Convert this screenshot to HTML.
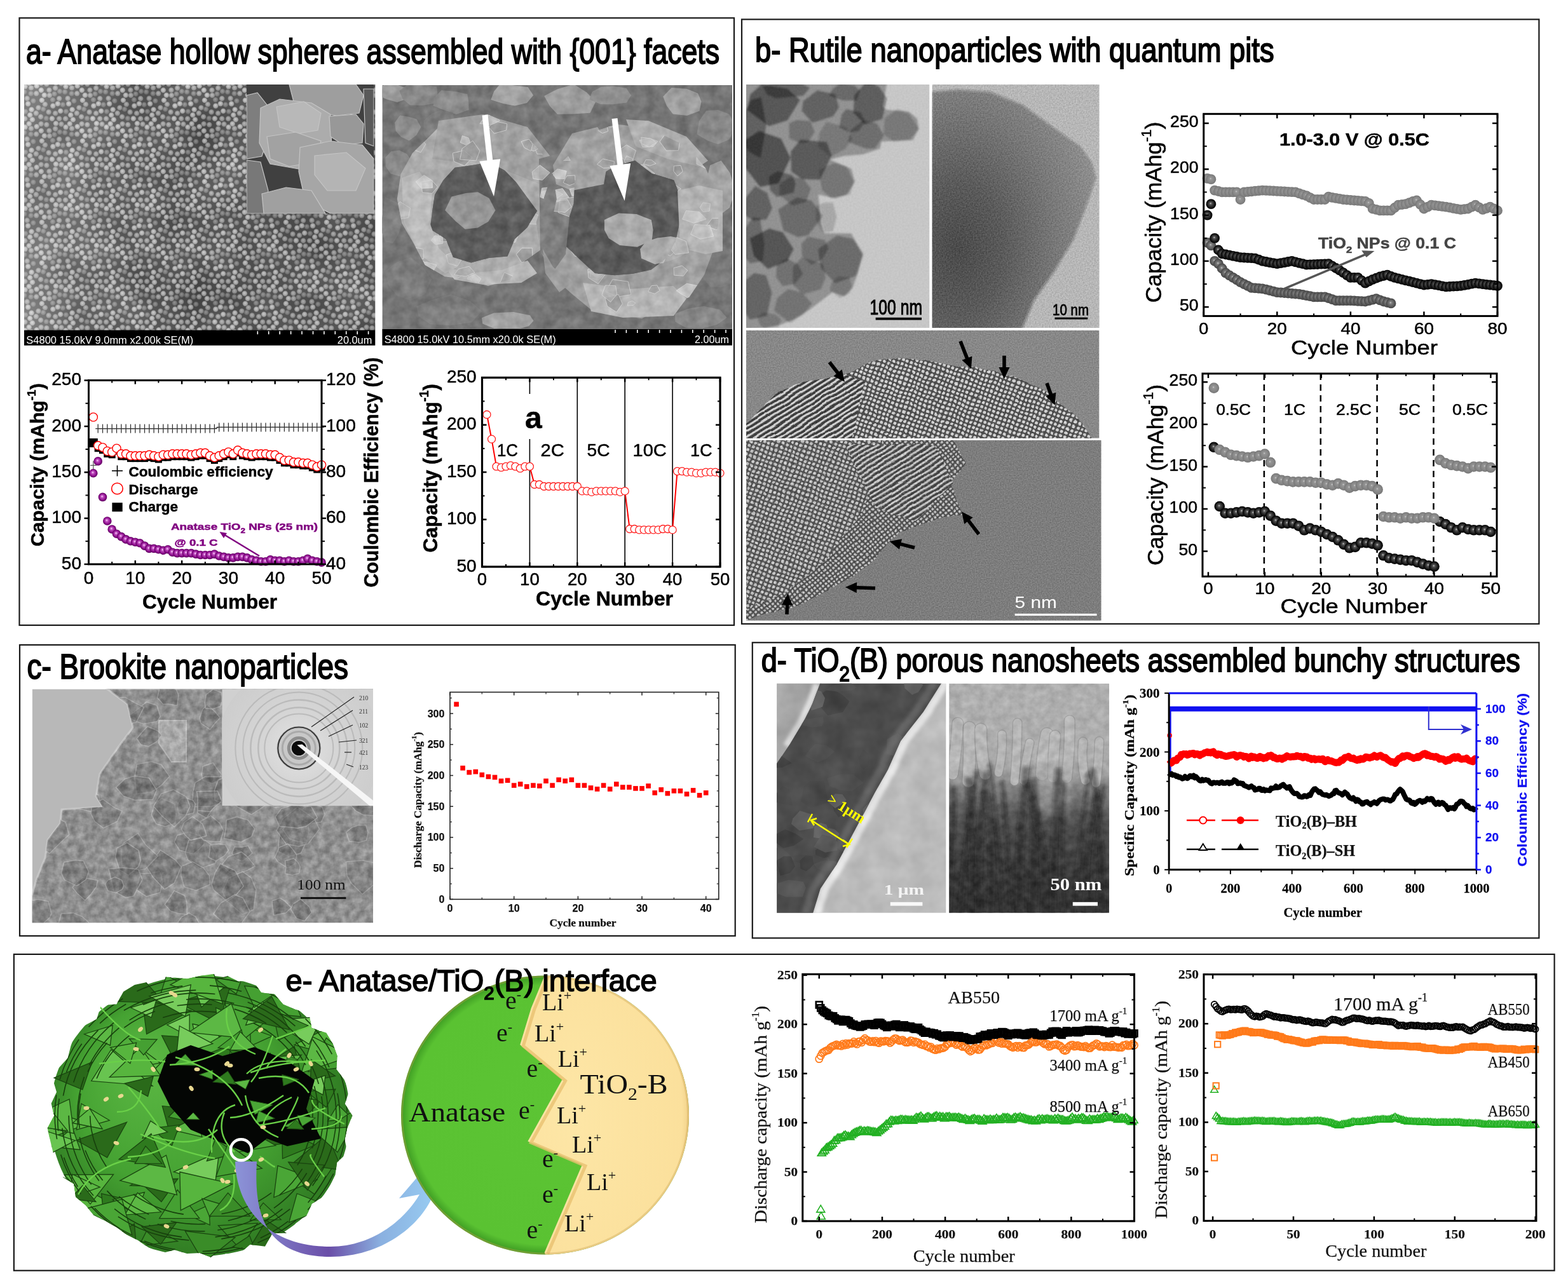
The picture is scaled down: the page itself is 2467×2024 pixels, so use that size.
<!DOCTYPE html>
<html><head><meta charset="utf-8"><title>TiO2 polymorphs figure</title>
<style>html,body{margin:0;padding:0;background:#fff;} svg{display:block;}</style></head>
<body>
<svg width="2467" height="2024" viewBox="0 0 2467 2024">
<rect width="2467" height="2024" fill="#fff"/>
<defs>
<radialGradient id="gPur" cx="0.5" cy="0.5" r="0.5" fx="0.42" fy="0.4">
<stop offset="0" stop-color="#ffd8ff"/><stop offset="0.3" stop-color="#c050c0"/><stop offset="0.75" stop-color="#8a0a8a"/><stop offset="1" stop-color="#5a005a"/></radialGradient>
<radialGradient id="gLight" cx="0.5" cy="0.5" r="0.5" fx="0.45" fy="0.42">
<stop offset="0" stop-color="#d0d0d0"/><stop offset="0.2" stop-color="#969696"/><stop offset="0.7" stop-color="#858585"/><stop offset="1" stop-color="#767676"/></radialGradient>
<radialGradient id="gBlack" cx="0.5" cy="0.5" r="0.5" fx="0.45" fy="0.42">
<stop offset="0" stop-color="#c8c8c8"/><stop offset="0.22" stop-color="#555"/><stop offset="0.7" stop-color="#1a1a1a"/><stop offset="1" stop-color="#000"/></radialGradient>
<radialGradient id="gDark" cx="0.5" cy="0.5" r="0.5" fx="0.45" fy="0.42">
<stop offset="0" stop-color="#d0d0d0"/><stop offset="0.22" stop-color="#808080"/><stop offset="0.7" stop-color="#5a5a5a"/><stop offset="1" stop-color="#444"/></radialGradient>
</defs>
<defs><clipPath id="cpS1"><rect x="38.0" y="133.0" width="552.5" height="387.0"/></clipPath>
<pattern id="pSph" patternUnits="userSpaceOnUse" width="64" height="64"><rect width="64" height="64" fill="#4a4a4a"/><circle cx="39.9" cy="47.5" r="4.3" fill="url(#gSp3)"/><circle cx="50.9" cy="-3.7" r="4.3" fill="url(#gSp1)"/><circle cx="50.9" cy="60.3" r="4.3" fill="url(#gSp1)"/><circle cx="1.9" cy="29.8" r="4.3" fill="url(#gSp1)"/><circle cx="65.9" cy="29.8" r="4.3" fill="url(#gSp1)"/><circle cx="-3.6" cy="41.5" r="4.3" fill="url(#gSp2)"/><circle cx="60.4" cy="41.5" r="4.3" fill="url(#gSp2)"/><circle cx="57.7" cy="7.2" r="4.3" fill="url(#gSp1)"/><circle cx="30.0" cy="15.8" r="4.3" fill="url(#gSp3)"/><circle cx="34.8" cy="36.7" r="4.3" fill="url(#gSp3)"/><circle cx="0.8" cy="13.9" r="4.3" fill="url(#gSp1)"/><circle cx="64.8" cy="13.9" r="4.3" fill="url(#gSp1)"/><circle cx="17.9" cy="58.6" r="4.3" fill="url(#gSp1)"/><circle cx="49.0" cy="10.2" r="4.3" fill="url(#gSp2)"/><circle cx="39.5" cy="8.1" r="4.3" fill="url(#gSp1)"/><circle cx="0.1" cy="55.8" r="4.3" fill="url(#gSp2)"/><circle cx="64.1" cy="55.8" r="4.3" fill="url(#gSp2)"/><circle cx="13.4" cy="13.8" r="4.3" fill="url(#gSp2)"/><circle cx="57.2" cy="19.1" r="4.3" fill="url(#gSp2)"/><circle cx="23.1" cy="10.6" r="4.3" fill="url(#gSp2)"/><circle cx="9.3" cy="4.2" r="4.3" fill="url(#gSp2)"/><circle cx="9.3" cy="68.2" r="4.3" fill="url(#gSp2)"/><circle cx="19.3" cy="38.6" r="4.3" fill="url(#gSp1)"/><circle cx="21.6" cy="19.8" r="4.3" fill="url(#gSp3)"/><circle cx="52.4" cy="30.8" r="4.3" fill="url(#gSp3)"/><circle cx="0.6" cy="3.0" r="4.3" fill="url(#gSp2)"/><circle cx="0.6" cy="67.0" r="4.3" fill="url(#gSp2)"/><circle cx="64.6" cy="3.0" r="4.3" fill="url(#gSp2)"/><circle cx="64.6" cy="67.0" r="4.3" fill="url(#gSp2)"/><circle cx="12.6" cy="48.4" r="4.3" fill="url(#gSp2)"/><circle cx="5.8" cy="21.8" r="4.3" fill="url(#gSp1)"/><circle cx="39.1" cy="58.8" r="4.3" fill="url(#gSp2)"/><circle cx="29.2" cy="27.0" r="4.3" fill="url(#gSp2)"/><circle cx="18.9" cy="29.0" r="4.3" fill="url(#gSp3)"/><circle cx="31.2" cy="46.7" r="4.3" fill="url(#gSp1)"/><circle cx="23.1" cy="50.3" r="4.3" fill="url(#gSp2)"/><circle cx="49.6" cy="44.5" r="4.3" fill="url(#gSp1)"/><circle cx="47.2" cy="53.0" r="4.3" fill="url(#gSp1)"/><circle cx="42.6" cy="26.9" r="4.3" fill="url(#gSp2)"/><circle cx="23.9" cy="2.3" r="4.3" fill="url(#gSp1)"/><circle cx="23.9" cy="66.3" r="4.3" fill="url(#gSp1)"/><circle cx="6.9" cy="36.2" r="4.3" fill="url(#gSp2)"/><circle cx="38.1" cy="16.6" r="4.3" fill="url(#gSp3)"/><circle cx="48.7" cy="19.2" r="4.3" fill="url(#gSp3)"/><circle cx="29.2" cy="58.7" r="4.3" fill="url(#gSp2)"/><circle cx="44.1" cy="35.4" r="4.3" fill="url(#gSp1)"/><circle cx="32.5" cy="3.4" r="4.3" fill="url(#gSp2)"/><circle cx="32.5" cy="67.4" r="4.3" fill="url(#gSp2)"/><circle cx="4.1" cy="43.8" r="4.3" fill="url(#gSp3)"/><circle cx="68.1" cy="43.8" r="4.3" fill="url(#gSp3)"/><circle cx="56.8" cy="50.1" r="4.3" fill="url(#gSp2)"/><circle cx="8.9" cy="58.2" r="4.3" fill="url(#gSp3)"/><circle cx="13.9" cy="22.0" r="4.3" fill="url(#gSp2)"/><circle cx="45.7" cy="2.9" r="4.3" fill="url(#gSp1)"/><circle cx="45.7" cy="66.9" r="4.3" fill="url(#gSp1)"/><circle cx="26.9" cy="35.3" r="4.3" fill="url(#gSp1)"/></pattern>
<radialGradient id="gSp1" fx="0.45" fy="0.4"><stop offset="0" stop-color="#e0e0e0"/><stop offset="0.7" stop-color="#b4b4b4"/><stop offset="1" stop-color="#848484"/></radialGradient>
<radialGradient id="gSp2" fx="0.45" fy="0.4"><stop offset="0" stop-color="#c4c4c4"/><stop offset="0.7" stop-color="#9c9c9c"/><stop offset="1" stop-color="#747474"/></radialGradient>
<radialGradient id="gSp3" fx="0.45" fy="0.4"><stop offset="0" stop-color="#a0a0a0"/><stop offset="0.7" stop-color="#7c7c7c"/><stop offset="1" stop-color="#5c5c5c"/></radialGradient>
<linearGradient id="gS1v" x1="0" y1="0" x2="1" y2="0"><stop offset="0" stop-color="#fff" stop-opacity="0.25"/><stop offset="0.12" stop-color="#fff" stop-opacity="0.16"/><stop offset="0.3" stop-color="#fff" stop-opacity="0.04"/><stop offset="0.5" stop-color="#000" stop-opacity="0.0"/><stop offset="1" stop-color="#000" stop-opacity="0.06"/></linearGradient>
<filter id="fS1" x="0" y="0" width="100%" height="100%" color-interpolation-filters="sRGB"><feTurbulence type="fractalNoise" baseFrequency="0.012" numOctaves="2" seed="3"/><feColorMatrix type="matrix" values="1.0 0 0 0 0  1.0 0 0 0 0  1.0 0 0 0 0  0 0 0 0 0.18"/></filter>
</defs>
<g clip-path="url(#cpS1)"><rect x="38.0" y="133.0" width="552.5" height="387.0" fill="url(#pSph)" />
<rect x="38.0" y="133.0" width="552.5" height="387.0" fill="url(#gS1v)" />
<rect x="38" y="133" width="552.5" height="387" filter="url(#fS1)"/></g>
<defs><clipPath id="cpS1i"><rect x="387.8" y="133.0" width="200.5" height="203.5"/></clipPath>
</defs><g clip-path="url(#cpS1i)"><rect x="387.8" y="133.0" width="200.5" height="203.5" fill="#404040" />
<path d="M455.0,133.0 L560.0,133.0 L572.0,150.0 L565.0,178.0 L530.0,182.0 L490.0,176.0 L462.0,160.0 Z" fill="#9e9e9e" stroke="#c4c4c4" stroke-width="1.2" />
<path d="M388.0,150.0 L405.0,146.0 L420.0,165.0 L422.0,215.0 L412.0,246.0 L388.0,250.0 Z" fill="#7e7e7e" stroke="#c4c4c4" stroke-width="1.2" />
<path d="M410.0,170.0 L440.0,156.0 L490.0,162.0 L520.0,180.0 L522.0,235.0 L510.0,262.0 L470.0,266.0 L425.0,258.0 L408.0,225.0 Z" fill="#acacac" stroke="#c4c4c4" stroke-width="1.2" />
<path d="M435.0,168.0 L478.0,160.0 L505.0,178.0 L500.0,205.0 L470.0,210.0 L440.0,200.0 Z" fill="#b8b8b8" stroke="#c4c4c4" stroke-width="1.2" />
<path d="M420.0,215.0 L465.0,208.0 L505.0,222.0 L495.0,255.0 L455.0,262.0 L425.0,250.0 Z" fill="#a2a2a2" stroke="#c4c4c4" stroke-width="1.2" />
<path d="M518.0,183.0 L560.0,180.0 L572.0,195.0 L570.0,225.0 L540.0,228.0 L520.0,215.0 Z" fill="#989898" stroke="#c4c4c4" stroke-width="1.2" />
<path d="M472.0,232.0 L520.0,222.0 L570.0,228.0 L588.0,250.0 L588.0,336.0 L520.0,336.0 L480.0,315.0 L470.0,270.0 Z" fill="#a6a6a6" stroke="#c4c4c4" stroke-width="1.2" />
<path d="M495.0,245.0 L545.0,240.0 L575.0,265.0 L560.0,300.0 L515.0,300.0 L495.0,275.0 Z" fill="#b4b4b4" stroke="#c4c4c4" stroke-width="1.2" />
<path d="M388.0,252.0 L410.0,255.0 L422.0,300.0 L418.0,336.0 L388.0,336.0 Z" fill="#787878" stroke="#c4c4c4" stroke-width="1.2" />
<path d="M412.0,305.0 L450.0,295.0 L490.0,300.0 L512.0,336.0 L415.0,336.0 Z" fill="#a0a0a0" stroke="#c4c4c4" stroke-width="1.2" />
<path d="M572.0,140.0 L588.0,140.0 L588.0,230.0 L575.0,225.0 Z" fill="#5a5a5a" stroke="#c4c4c4" stroke-width="1.2" />
</g>
<rect x="38.0" y="519.7" width="552.3" height="24.0" fill="#000" />
<line x1="405.3" y1="521.2" x2="405.3" y2="526.2" stroke="#fff" stroke-width="1.6" />
<line x1="422.7" y1="521.2" x2="422.7" y2="526.2" stroke="#fff" stroke-width="1.6" />
<line x1="440.2" y1="521.2" x2="440.2" y2="526.2" stroke="#fff" stroke-width="1.6" />
<line x1="457.6" y1="521.2" x2="457.6" y2="526.2" stroke="#fff" stroke-width="1.6" />
<line x1="475.0" y1="521.2" x2="475.0" y2="526.2" stroke="#fff" stroke-width="1.6" />
<line x1="492.5" y1="521.2" x2="492.5" y2="526.2" stroke="#fff" stroke-width="1.6" />
<line x1="509.9" y1="521.2" x2="509.9" y2="526.2" stroke="#fff" stroke-width="1.6" />
<line x1="527.3" y1="521.2" x2="527.3" y2="526.2" stroke="#fff" stroke-width="1.6" />
<line x1="544.7" y1="521.2" x2="544.7" y2="526.2" stroke="#fff" stroke-width="1.6" />
<line x1="562.2" y1="521.2" x2="562.2" y2="526.2" stroke="#fff" stroke-width="1.6" />
<line x1="579.6" y1="521.2" x2="579.6" y2="526.2" stroke="#fff" stroke-width="1.6" />
<text x="41.3" y="540.5" font-family="'Liberation Sans', Arial, sans-serif" font-size="17" fill="#fff" textLength="263" lengthAdjust="spacingAndGlyphs" >S4800 15.0kV 9.0mm x2.00k SE(M)</text>
<text x="585.3" y="540.5" font-family="'Liberation Sans', Arial, sans-serif" font-size="17" fill="#fff" text-anchor="end" textLength="54.5" lengthAdjust="spacingAndGlyphs" >20.0um</text>
<defs><clipPath id="cpS2"><rect x="601.4" y="133.9" width="550.6" height="383.7"/></clipPath>
<filter id="fS2" x="0" y="0" width="100%" height="100%" color-interpolation-filters="sRGB"><feTurbulence type="fractalNoise" baseFrequency="0.06" numOctaves="3" seed="8"/><feColorMatrix type="matrix" values="1.3 0 0 0 -0.15  1.3 0 0 0 -0.15  1.3 0 0 0 -0.15  0 0 0 0 0.15"/></filter>
<filter id="fS2b"><feGaussianBlur stdDeviation="1.2"/></filter></defs>
<g clip-path="url(#cpS2)"><rect x="601.4" y="133.9" width="550.6" height="383.7" fill="#737373" />
<path d="M645.2,145.0 L641.3,155.0 L625.1,161.1 L608.4,156.2 L594.3,150.2 L594.8,139.9 L606.8,132.2 L623.7,133.1 L635.9,137.5 Z" fill="#a0a0a0" />
<path d="M688.7,150.0 L685.0,162.6 L664.7,166.1 L645.0,165.6 L633.7,155.8 L628.3,143.1 L642.6,131.9 L665.0,132.9 L687.1,136.4 Z" fill="#8a8a8a" />
<path d="M737.3,160.0 L737.6,172.9 L717.9,180.1 L698.9,173.6 L681.7,166.6 L683.2,153.7 L694.5,141.9 L716.7,144.1 L735.3,148.3 Z" fill="#8e8e8e" />
<path d="M839.1,150.0 L829.1,162.1 L809.9,166.5 L792.3,163.2 L772.3,157.1 L777.1,143.9 L787.3,131.6 L809.5,134.6 L830.6,137.1 Z" fill="#a8a8a8" />
<path d="M937.3,160.0 L928.5,177.8 L900.5,179.5 L876.9,179.8 L865.1,166.9 L856.1,151.0 L877.0,140.3 L902.7,132.5 L922.8,145.3 Z" fill="#a2a2a2" />
<path d="M993.0,150.0 L986.0,161.6 L964.7,164.3 L944.7,164.1 L927.2,156.4 L931.5,144.5 L945.8,136.8 L964.8,135.6 L985.4,138.7 Z" fill="#909090" />
<path d="M1103.5,160.0 L1100.4,174.7 L1080.7,182.1 L1058.7,179.4 L1048.9,166.5 L1043.2,152.0 L1056.6,138.1 L1080.2,139.7 L1098.0,146.7 Z" fill="#a4a4a4" />
<path d="M1157.1,200.0 L1147.1,219.8 L1129.5,227.1 L1113.5,221.4 L1096.3,211.2 L1100.1,190.3 L1111.2,174.3 L1129.5,172.9 L1147.5,179.8 Z" fill="#8a8a8a" />
<path d="M1157.1,300.0 L1147.8,326.9 L1133.7,337.5 L1115.3,345.8 L1103.0,317.7 L1110.6,287.3 L1117.2,260.1 L1134.6,252.7 L1148.5,272.1 Z" fill="#a8a8a8" />
<path d="M648.8,255.0 L644.6,271.5 L628.9,277.4 L614.4,273.3 L606.6,261.7 L606.2,248.1 L615.4,238.3 L628.3,236.4 L640.1,242.3 Z" fill="#8c8c8c" />
<path d="M633.0,345.0 L627.4,367.8 L618.1,383.3 L605.8,379.9 L598.3,358.3 L602.4,335.0 L605.8,310.0 L617.4,315.6 L628.5,320.3 Z" fill="#7e7e7e" />
<path d="M679.3,440.0 L668.3,463.8 L645.9,473.3 L625.2,465.7 L612.0,450.2 L605.5,427.4 L624.1,412.5 L646.1,405.1 L664.5,419.4 Z" fill="#7a7a7a" />
<path d="M839.5,505.0 L831.9,513.3 L808.4,519.9 L777.6,517.1 L759.3,509.6 L757.9,500.2 L777.1,492.6 L807.9,491.1 L833.8,496.2 Z" fill="#a8a8a8" />
<path d="M758.4,490.0 L741.8,507.5 L707.8,512.2 L676.6,510.2 L658.3,497.6 L655.3,481.9 L679.2,472.0 L709.4,463.2 L739.2,473.5 Z" fill="#7e7e7e" />
<path d="M1154.3,420.0 L1151.9,445.7 L1134.1,452.3 L1117.1,451.2 L1102.9,433.8 L1106.0,407.8 L1117.0,388.5 L1134.1,387.2 L1152.6,393.5 Z" fill="#7a7a7a" />
<path d="M1143.7,500.0 L1128.5,510.8 L1106.6,516.8 L1079.3,516.1 L1062.2,506.2 L1062.1,493.8 L1082.2,486.1 L1107.1,481.8 L1132.9,487.6 Z" fill="#8a8a8a" />
<path d="M717.4,200.0 L708.8,218.9 L694.3,229.0 L677.5,226.0 L666.2,210.4 L666.7,189.8 L679.7,178.6 L694.0,173.0 L712.5,177.3 Z" fill="#7c7c7c" />
<path d="M662.3,200.0 L655.1,212.7 L643.8,221.5 L631.0,215.5 L622.8,206.3 L621.1,193.1 L629.3,181.4 L642.9,183.7 L655.2,187.3 Z" fill="#929292" />
<path d="M875.9,313.0 L867.4,351.2 L856.8,389.0 L826.1,410.2 L802.3,439.9 L767.8,450.1 L733.6,439.4 L699.6,435.3 L668.7,416.9 L651.0,383.4 L632.2,351.3 L624.8,313.0 L630.5,274.1 L648.9,241.1 L674.3,216.2 L699.5,190.6 L733.3,184.5 L767.3,179.9 L799.1,193.9 L828.0,213.3 L852.2,240.2 L869.8,274.0 Z M845.1,332.0 L829.5,358.1 L810.0,376.2 L798.4,403.6 L769.4,405.9 L741.2,413.6 L712.8,404.9 L701.6,376.5 L676.7,360.2 L680.1,332.0 L684.0,306.5 L697.2,283.9 L715.6,263.8 L743.0,259.9 L769.9,255.3 L793.9,268.0 L811.8,286.4 L826.7,306.9 Z" fill="#b4b4b4" fill-rule="evenodd"/>
<path d="M845.1,332.0 L829.5,358.1 L810.0,376.2 L798.4,403.6 L769.4,405.9 L741.2,413.6 L712.8,404.9 L701.6,376.5 L676.7,360.2 L680.1,332.0 L684.0,306.5 L697.2,283.9 L715.6,263.8 L743.0,259.9 L769.9,255.3 L793.9,268.0 L811.8,286.4 L826.7,306.9 Z" fill="#575757" />
<path d="M690.0,190.0 L760.0,180.0 L830.0,200.0 L865.0,245.0 L850.0,290.0 L800.0,270.0 L760.0,250.0 L720.0,255.0 L680.0,250.0 Z" fill="#a6a6a6" />
<path d="M779.5,331.0 L768.2,348.9 L751.5,358.6 L731.8,360.7 L716.9,348.2 L700.2,331.0 L710.4,309.4 L732.7,304.0 L751.9,302.2 L769.6,312.1 Z" fill="#989898" />
<path d="M1130.4,350.0 L1122.8,392.3 L1108.1,432.4 L1084.1,467.9 L1046.1,483.5 L1010.0,501.3 L970.7,495.4 L931.6,488.7 L900.0,462.8 L868.7,434.7 L850.6,394.5 L843.6,350.0 L856.9,307.6 L870.8,266.9 L901.4,238.9 L930.6,208.8 L969.5,195.4 L1009.8,200.6 L1047.1,214.2 L1084.0,232.2 L1110.7,265.8 L1128.3,305.9 Z M1069.3,350.0 L1063.1,379.8 L1048.3,406.2 L1024.6,424.6 L996.1,430.8 L967.5,433.3 L936.1,430.4 L912.7,408.8 L887.5,384.8 L892.7,350.0 L902.4,320.7 L904.2,284.0 L940.7,277.7 L966.6,261.9 L999.0,252.6 L1026.0,272.9 L1060.3,283.6 L1073.5,316.3 Z" fill="#a4a4a4" fill-rule="evenodd"/>
<path d="M1069.3,350.0 L1063.1,379.8 L1048.3,406.2 L1024.6,424.6 L996.1,430.8 L967.5,433.3 L936.1,430.4 L912.7,408.8 L887.5,384.8 L892.7,350.0 L902.4,320.7 L904.2,284.0 L940.7,277.7 L966.6,261.9 L999.0,252.6 L1026.0,272.9 L1060.3,283.6 L1073.5,316.3 Z" fill="#545454" />
<path d="M848.0,250.0 L885.0,240.0 L900.0,300.0 L890.0,400.0 L872.0,425.0 L850.0,395.0 Z" fill="#7c7c7c" />
<path d="M870.0,260.0 L900.0,210.0 L940.0,200.0 L960.0,230.0 L950.0,290.0 L900.0,300.0 L875.0,290.0 Z" fill="#a8a8a8" />
<path d="M985.0,188.0 L1020.0,190.0 L1080.0,215.0 L1114.0,253.0 L1100.0,262.0 L1050.0,250.0 L1000.0,230.0 Z" fill="#b6b6b6" />
<path d="M1066.0,300.0 L1100.0,292.0 L1137.0,300.0 L1137.0,395.0 L1110.0,400.0 L1070.0,390.0 Z" fill="#bdbdbd" />
<path d="M917.0,445.0 L990.0,455.0 L1059.0,450.0 L1080.0,470.0 L1060.0,497.0 L980.0,500.0 L930.0,490.0 Z" fill="#c0c0c0" />
<path d="M1027.6,362.0 L1025.7,378.3 L1002.6,388.8 L975.0,385.9 L957.7,375.1 L951.0,362.0 L950.8,345.9 L973.5,335.5 L1001.6,337.1 L1024.8,346.1 Z" fill="#b0b0b0" />
<path d="M1086.5,392.0 L1071.5,403.6 L1054.4,410.5 L1030.5,416.0 L1009.1,406.7 L1007.0,392.0 L1016.1,380.3 L1034.2,374.6 L1055.3,371.9 L1079.8,377.0 Z" fill="#b2b2b2" />
<path d="M854.0,392.0 L870.0,420.0 L900.0,445.0 L880.0,460.0 L858.0,430.0 Z" fill="#a0a0a0" />
<path d="M632.0,280.0 L660.0,270.0 L680.0,300.0 L676.0,350.0 L690.0,390.0 L720.0,420.0 L700.0,430.0 L660.0,400.0 L635.0,350.0 Z" fill="#c6c6c6" />
<path d="M700.0,420.0 L740.0,430.0 L790.0,425.0 L830.0,410.0 L845.0,430.0 L820.0,445.0 L760.0,448.0 L715.0,440.0 Z" fill="#c2c2c2" />
<clipPath id="cpWall"><path d="M875.9,313.0 L867.4,351.2 L856.8,389.0 L826.1,410.2 L802.3,439.9 L767.8,450.1 L733.6,439.4 L699.6,435.3 L668.7,416.9 L651.0,383.4 L632.2,351.3 L624.8,313.0 L630.5,274.1 L648.9,241.1 L674.3,216.2 L699.5,190.6 L733.3,184.5 L767.3,179.9 L799.1,193.9 L828.0,213.3 L852.2,240.2 L869.8,274.0 Z M845.1,332.0 L829.5,358.1 L810.0,376.2 L798.4,403.6 L769.4,405.9 L741.2,413.6 L712.8,404.9 L701.6,376.5 L676.7,360.2 L680.1,332.0 L684.0,306.5 L697.2,283.9 L715.6,263.8 L743.0,259.9 L769.9,255.3 L793.9,268.0 L811.8,286.4 L826.7,306.9 Z M1130.4,350.0 L1122.8,392.3 L1108.1,432.4 L1084.1,467.9 L1046.1,483.5 L1010.0,501.3 L970.7,495.4 L931.6,488.7 L900.0,462.8 L868.7,434.7 L850.6,394.5 L843.6,350.0 L856.9,307.6 L870.8,266.9 L901.4,238.9 L930.6,208.8 L969.5,195.4 L1009.8,200.6 L1047.1,214.2 L1084.0,232.2 L1110.7,265.8 L1128.3,305.9 Z M1069.3,350.0 L1063.1,379.8 L1048.3,406.2 L1024.6,424.6 L996.1,430.8 L967.5,433.3 L936.1,430.4 L912.7,408.8 L887.5,384.8 L892.7,350.0 L902.4,320.7 L904.2,284.0 L940.7,277.7 L966.6,261.9 L999.0,252.6 L1026.0,272.9 L1060.3,283.6 L1073.5,316.3 Z" clip-rule="evenodd"/></clipPath><g clip-path="url(#cpWall)"><path d="M720.3,281.6 L718.2,273.8 L725.9,268.7 L734.7,273.6 L730.5,281.1 Z" fill="#a6a6a6" stroke="#e4e4e4" stroke-width="1" stroke-opacity="0.8" fill-opacity="0.75"/>
<path d="M1011.2,231.7 L1006.3,220.6 L1022.4,217.8 L1035.1,222.4 L1027.8,230.6 Z" fill="#d2d2d2" stroke="#e4e4e4" stroke-width="1" stroke-opacity="0.8" fill-opacity="0.75"/>
<path d="M840.4,230.8 L861.1,225.3 L869.4,235.5 L862.6,243.4 L845.0,242.2 Z" fill="#b0b0b0" stroke="#e4e4e4" stroke-width="1" stroke-opacity="0.8" fill-opacity="0.75"/>
<path d="M821.0,390.4 L837.2,390.4 L837.9,407.6 L820.7,413.2 L812.3,400.1 Z" fill="#989898" stroke="#e4e4e4" stroke-width="1" stroke-opacity="0.8" fill-opacity="0.75"/>
<path d="M885.7,305.7 L872.1,314.9 L854.1,311.5 L853.0,301.5 L870.2,297.9 Z" fill="#bcbcbc" stroke="#e4e4e4" stroke-width="1" stroke-opacity="0.8" fill-opacity="0.75"/>
<path d="M1060.3,261.1 L1071.0,260.4 L1074.1,269.8 L1066.0,277.0 L1059.8,269.4 Z" fill="#989898" stroke="#e4e4e4" stroke-width="1" stroke-opacity="0.8" fill-opacity="0.75"/>
<path d="M954.0,398.5 L966.9,400.9 L968.1,415.8 L952.0,420.7 L943.6,407.3 Z" fill="#a6a6a6" stroke="#e4e4e4" stroke-width="1" stroke-opacity="0.8" fill-opacity="0.75"/>
<path d="M688.6,294.2 L679.9,304.3 L664.5,302.7 L662.5,286.5 L679.3,283.8 Z" fill="#989898" stroke="#e4e4e4" stroke-width="1" stroke-opacity="0.8" fill-opacity="0.75"/>
<path d="M1038.1,457.4 L1030.0,462.3 L1019.6,459.1 L1024.9,449.7 L1033.8,448.9 Z" fill="#a6a6a6" stroke="#e4e4e4" stroke-width="1" stroke-opacity="0.8" fill-opacity="0.75"/>
<path d="M1022.5,179.7 L1044.5,178.6 L1056.1,185.4 L1048.3,196.2 L1027.8,191.0 Z" fill="#989898" stroke="#e4e4e4" stroke-width="1" stroke-opacity="0.8" fill-opacity="0.75"/>
<path d="M919.3,357.1 L927.9,349.4 L942.7,350.6 L947.1,357.5 L934.0,362.8 Z" fill="#bcbcbc" stroke="#e4e4e4" stroke-width="1" stroke-opacity="0.8" fill-opacity="0.75"/>
<path d="M1086.5,212.0 L1064.3,214.8 L1060.3,199.8 L1069.3,185.3 L1088.1,194.7 Z" fill="#989898" stroke="#e4e4e4" stroke-width="1" stroke-opacity="0.8" fill-opacity="0.75"/>
<path d="M988.3,443.2 L992.7,463.7 L971.6,467.2 L953.0,458.6 L963.8,439.8 Z" fill="#a6a6a6" stroke="#e4e4e4" stroke-width="1" stroke-opacity="0.8" fill-opacity="0.75"/>
<path d="M875.7,318.5 L859.1,311.3 L865.6,300.8 L885.0,296.6 L895.2,310.6 Z" fill="#dadada" stroke="#e4e4e4" stroke-width="1" stroke-opacity="0.8" fill-opacity="0.75"/>
<path d="M1040.2,379.5 L1058.9,376.6 L1065.4,392.0 L1054.6,402.9 L1041.2,396.2 Z" fill="#b0b0b0" stroke="#e4e4e4" stroke-width="1" stroke-opacity="0.8" fill-opacity="0.75"/>
<path d="M863.1,190.2 L847.1,198.6 L824.9,191.1 L836.6,180.1 L855.6,181.8 Z" fill="#d2d2d2" stroke="#e4e4e4" stroke-width="1" stroke-opacity="0.8" fill-opacity="0.75"/>
<path d="M911.4,480.7 L918.0,486.2 L916.3,493.8 L904.8,493.8 L901.1,484.9 Z" fill="#dadada" stroke="#e4e4e4" stroke-width="1" stroke-opacity="0.8" fill-opacity="0.75"/>
<path d="M793.0,368.0 L807.6,365.6 L814.6,372.4 L810.7,381.3 L798.2,381.7 Z" fill="#d2d2d2" stroke="#e4e4e4" stroke-width="1" stroke-opacity="0.8" fill-opacity="0.75"/>
<path d="M987.2,481.1 L988.2,475.8 L994.7,473.6 L999.9,476.8 L996.3,480.4 Z" fill="#c8c8c8" stroke="#e4e4e4" stroke-width="1" stroke-opacity="0.8" fill-opacity="0.75"/>
<path d="M1105.9,318.9 L1117.5,320.3 L1116.2,332.2 L1106.2,333.6 L1101.0,326.8 Z" fill="#d2d2d2" stroke="#e4e4e4" stroke-width="1" stroke-opacity="0.8" fill-opacity="0.75"/>
<path d="M874.8,281.1 L868.8,273.1 L877.2,265.9 L891.3,269.3 L888.2,281.4 Z" fill="#dadada" stroke="#e4e4e4" stroke-width="1" stroke-opacity="0.8" fill-opacity="0.75"/>
<path d="M1124.3,242.3 L1116.7,245.7 L1109.0,242.7 L1111.4,237.9 L1122.1,235.9 Z" fill="#989898" stroke="#e4e4e4" stroke-width="1" stroke-opacity="0.8" fill-opacity="0.75"/>
<path d="M920.1,368.7 L926.8,372.4 L923.1,376.5 L913.9,376.5 L911.5,371.6 Z" fill="#b0b0b0" stroke="#e4e4e4" stroke-width="1" stroke-opacity="0.8" fill-opacity="0.75"/>
<path d="M1059.3,182.8 L1067.9,187.7 L1061.9,192.6 L1053.0,192.5 L1048.4,186.5 Z" fill="#a6a6a6" stroke="#e4e4e4" stroke-width="1" stroke-opacity="0.8" fill-opacity="0.75"/>
<path d="M1048.3,237.1 L1038.0,222.9 L1050.4,205.8 L1070.2,216.3 L1067.4,236.7 Z" fill="#989898" stroke="#e4e4e4" stroke-width="1" stroke-opacity="0.8" fill-opacity="0.75"/>
<path d="M1000.5,236.9 L995.8,251.7 L981.6,251.3 L970.4,238.7 L985.8,228.0 Z" fill="#bcbcbc" stroke="#e4e4e4" stroke-width="1" stroke-opacity="0.8" fill-opacity="0.75"/>
<path d="M788.7,501.4 L780.8,493.8 L789.1,486.4 L799.8,489.1 L803.9,502.0 Z" fill="#c8c8c8" stroke="#e4e4e4" stroke-width="1" stroke-opacity="0.8" fill-opacity="0.75"/>
<path d="M1057.1,288.6 L1053.9,302.8 L1035.9,302.9 L1030.9,292.5 L1040.6,285.5 Z" fill="#a6a6a6" stroke="#e4e4e4" stroke-width="1" stroke-opacity="0.8" fill-opacity="0.75"/>
<path d="M1101.4,189.8 L1091.2,184.7 L1088.0,173.9 L1100.4,170.1 L1109.0,179.5 Z" fill="#a6a6a6" stroke="#e4e4e4" stroke-width="1" stroke-opacity="0.8" fill-opacity="0.75"/>
<path d="M896.0,291.9 L886.0,287.3 L891.8,276.8 L904.6,276.0 L905.0,288.4 Z" fill="#989898" stroke="#e4e4e4" stroke-width="1" stroke-opacity="0.8" fill-opacity="0.75"/>
<path d="M975.0,352.2 L963.9,348.3 L966.4,341.5 L976.7,337.5 L983.0,345.4 Z" fill="#dadada" stroke="#e4e4e4" stroke-width="1" stroke-opacity="0.8" fill-opacity="0.75"/>
<path d="M1091.5,351.2 L1073.4,344.9 L1079.5,331.5 L1100.1,333.4 L1111.2,344.9 Z" fill="#dadada" stroke="#e4e4e4" stroke-width="1" stroke-opacity="0.8" fill-opacity="0.75"/>
<path d="M816.0,438.5 L812.7,458.5 L793.5,470.4 L784.9,449.6 L793.5,428.8 Z" fill="#b0b0b0" stroke="#e4e4e4" stroke-width="1" stroke-opacity="0.8" fill-opacity="0.75"/>
<path d="M1036.7,157.3 L1059.7,163.7 L1055.5,177.8 L1037.4,183.9 L1019.0,171.5 Z" fill="#b0b0b0" stroke="#e4e4e4" stroke-width="1" stroke-opacity="0.8" fill-opacity="0.75"/>
<path d="M777.5,210.1 L769.0,200.1 L777.5,190.5 L797.7,194.8 L796.6,204.9 Z" fill="#989898" stroke="#e4e4e4" stroke-width="1" stroke-opacity="0.8" fill-opacity="0.75"/>
<path d="M682.2,420.1 L683.5,439.4 L662.9,443.5 L652.5,426.2 L665.7,411.0 Z" fill="#dadada" stroke="#e4e4e4" stroke-width="1" stroke-opacity="0.8" fill-opacity="0.75"/>
<path d="M724.2,224.4 L727.3,213.6 L737.2,217.0 L739.6,224.3 L732.8,228.0 Z" fill="#dadada" stroke="#e4e4e4" stroke-width="1" stroke-opacity="0.8" fill-opacity="0.75"/>
<path d="M743.2,248.1 L730.9,261.1 L714.0,254.1 L712.2,241.0 L730.1,236.8 Z" fill="#989898" stroke="#e4e4e4" stroke-width="1" stroke-opacity="0.8" fill-opacity="0.75"/>
<path d="M659.3,422.0 L669.8,412.0 L687.1,416.9 L680.7,428.6 L667.9,431.5 Z" fill="#dadada" stroke="#e4e4e4" stroke-width="1" stroke-opacity="0.8" fill-opacity="0.75"/>
<path d="M942.4,440.4 L928.2,437.9 L928.9,426.2 L942.5,422.6 L950.0,431.7 Z" fill="#b0b0b0" stroke="#e4e4e4" stroke-width="1" stroke-opacity="0.8" fill-opacity="0.75"/>
<path d="M710.0,490.4 L723.1,485.9 L735.7,487.5 L733.5,495.2 L720.3,497.8 Z" fill="#dadada" stroke="#e4e4e4" stroke-width="1" stroke-opacity="0.8" fill-opacity="0.75"/>
<path d="M1106.8,474.6 L1118.4,478.1 L1122.0,492.6 L1104.8,497.7 L1094.5,483.6 Z" fill="#d2d2d2" stroke="#e4e4e4" stroke-width="1" stroke-opacity="0.8" fill-opacity="0.75"/>
<path d="M708.5,364.5 L722.3,370.6 L713.1,380.0 L693.0,380.6 L688.6,366.7 Z" fill="#989898" stroke="#e4e4e4" stroke-width="1" stroke-opacity="0.8" fill-opacity="0.75"/>
<path d="M864.5,316.6 L850.1,310.1 L852.8,296.1 L866.3,294.5 L873.2,305.1 Z" fill="#dadada" stroke="#e4e4e4" stroke-width="1" stroke-opacity="0.8" fill-opacity="0.75"/>
<path d="M1029.0,325.8 L1038.2,328.8 L1040.8,334.0 L1031.7,335.9 L1022.3,332.2 Z" fill="#d2d2d2" stroke="#e4e4e4" stroke-width="1" stroke-opacity="0.8" fill-opacity="0.75"/>
<path d="M1128.3,253.7 L1116.4,267.9 L1095.9,258.0 L1096.5,241.9 L1118.7,243.2 Z" fill="#d2d2d2" stroke="#e4e4e4" stroke-width="1" stroke-opacity="0.8" fill-opacity="0.75"/>
<path d="M1022.4,261.1 L1012.5,258.2 L1016.3,251.3 L1025.3,251.9 L1032.2,257.4 Z" fill="#b0b0b0" stroke="#e4e4e4" stroke-width="1" stroke-opacity="0.8" fill-opacity="0.75"/>
<path d="M955.5,481.9 L951.7,468.0 L973.1,463.7 L979.2,478.1 L970.0,491.3 Z" fill="#989898" stroke="#e4e4e4" stroke-width="1" stroke-opacity="0.8" fill-opacity="0.75"/>
<path d="M645.5,327.5 L642.7,342.4 L628.8,345.1 L616.4,333.1 L629.3,317.4 Z" fill="#c8c8c8" stroke="#e4e4e4" stroke-width="1" stroke-opacity="0.8" fill-opacity="0.75"/>
<path d="M855.0,433.8 L845.5,440.1 L833.0,435.6 L835.2,428.5 L847.8,428.1 Z" fill="#989898" stroke="#e4e4e4" stroke-width="1" stroke-opacity="0.8" fill-opacity="0.75"/>
<path d="M716.1,440.5 L733.1,429.2 L747.1,448.1 L731.6,463.0 L716.5,455.2 Z" fill="#c8c8c8" stroke="#e4e4e4" stroke-width="1" stroke-opacity="0.8" fill-opacity="0.75"/>
<path d="M645.4,411.7 L628.6,401.4 L639.7,387.2 L662.8,390.8 L661.4,404.2 Z" fill="#b0b0b0" stroke="#e4e4e4" stroke-width="1" stroke-opacity="0.8" fill-opacity="0.75"/>
<path d="M982.1,252.9 L985.8,245.3 L995.2,249.5 L996.9,256.4 L986.3,260.3 Z" fill="#bcbcbc" stroke="#e4e4e4" stroke-width="1" stroke-opacity="0.8" fill-opacity="0.75"/>
<path d="M934.7,420.7 L946.0,425.2 L948.6,431.1 L935.8,434.7 L925.6,428.1 Z" fill="#dadada" stroke="#e4e4e4" stroke-width="1" stroke-opacity="0.8" fill-opacity="0.75"/>
<path d="M1008.7,216.0 L1023.5,218.0 L1032.5,224.5 L1021.4,231.3 L1009.9,226.3 Z" fill="#c8c8c8" stroke="#e4e4e4" stroke-width="1" stroke-opacity="0.8" fill-opacity="0.75"/>
<path d="M701.9,401.1 L716.6,395.5 L727.6,405.8 L720.0,418.6 L705.4,414.6 Z" fill="#c8c8c8" stroke="#e4e4e4" stroke-width="1" stroke-opacity="0.8" fill-opacity="0.75"/>
<path d="M848.8,232.6 L840.1,237.9 L829.2,233.9 L833.5,222.8 L847.5,219.4 Z" fill="#bcbcbc" stroke="#e4e4e4" stroke-width="1" stroke-opacity="0.8" fill-opacity="0.75"/>
<path d="M962.3,200.1 L942.5,197.7 L940.0,179.1 L964.6,178.6 L975.9,190.7 Z" fill="#a6a6a6" stroke="#e4e4e4" stroke-width="1" stroke-opacity="0.8" fill-opacity="0.75"/>
<path d="M1062.2,400.5 L1049.7,385.7 L1064.1,373.3 L1079.6,379.8 L1083.5,397.8 Z" fill="#c8c8c8" stroke="#e4e4e4" stroke-width="1" stroke-opacity="0.8" fill-opacity="0.75"/>
<path d="M891.7,242.7 L897.3,252.3 L878.9,253.0 L867.6,245.9 L879.4,239.1 Z" fill="#d2d2d2" stroke="#e4e4e4" stroke-width="1" stroke-opacity="0.8" fill-opacity="0.75"/>
<path d="M755.9,385.5 L759.6,363.4 L777.0,348.0 L785.6,369.1 L780.2,387.9 Z" fill="#dadada" stroke="#e4e4e4" stroke-width="1" stroke-opacity="0.8" fill-opacity="0.75"/>
<path d="M1063.9,457.6 L1080.5,446.2 L1099.6,450.1 L1097.5,462.8 L1081.2,468.5 Z" fill="#dadada" stroke="#e4e4e4" stroke-width="1" stroke-opacity="0.8" fill-opacity="0.75"/>
<path d="M714.6,432.5 L721.3,423.4 L738.1,419.2 L747.0,429.0 L733.0,434.9 Z" fill="#b0b0b0" stroke="#e4e4e4" stroke-width="1" stroke-opacity="0.8" fill-opacity="0.75"/>
<path d="M727.0,233.9 L743.8,221.6 L754.9,237.3 L749.0,252.9 L723.7,251.0 Z" fill="#a6a6a6" stroke="#e4e4e4" stroke-width="1" stroke-opacity="0.8" fill-opacity="0.75"/>
<path d="M665.7,392.1 L666.5,407.2 L646.6,408.5 L634.6,400.5 L644.1,389.3 Z" fill="#b0b0b0" stroke="#e4e4e4" stroke-width="1" stroke-opacity="0.8" fill-opacity="0.75"/>
<path d="M692.1,300.3 L704.7,291.5 L726.8,293.8 L718.9,304.9 L702.3,311.7 Z" fill="#b0b0b0" stroke="#e4e4e4" stroke-width="1" stroke-opacity="0.8" fill-opacity="0.75"/>
<path d="M1060.1,289.1 L1071.4,297.4 L1056.1,306.5 L1034.5,300.4 L1043.5,290.6 Z" fill="#b0b0b0" stroke="#e4e4e4" stroke-width="1" stroke-opacity="0.8" fill-opacity="0.75"/>
<path d="M1038.5,359.8 L1057.9,365.3 L1048.7,376.3 L1033.5,378.4 L1022.4,368.1 Z" fill="#bcbcbc" stroke="#e4e4e4" stroke-width="1" stroke-opacity="0.8" fill-opacity="0.75"/>
<path d="M940.7,205.2 L943.9,197.5 L954.6,197.4 L956.8,206.6 L947.8,209.6 Z" fill="#a6a6a6" stroke="#e4e4e4" stroke-width="1" stroke-opacity="0.8" fill-opacity="0.75"/>
<path d="M638.6,196.1 L639.2,174.8 L662.0,171.4 L674.4,188.1 L661.2,209.0 Z" fill="#c8c8c8" stroke="#e4e4e4" stroke-width="1" stroke-opacity="0.8" fill-opacity="0.75"/>
<path d="M925.7,365.8 L921.1,354.4 L926.8,343.4 L942.3,348.2 L940.9,361.5 Z" fill="#c8c8c8" stroke="#e4e4e4" stroke-width="1" stroke-opacity="0.8" fill-opacity="0.75"/>
<path d="M759.8,489.5 L761.0,481.5 L778.0,480.4 L782.9,489.9 L769.6,494.3 Z" fill="#c8c8c8" stroke="#e4e4e4" stroke-width="1" stroke-opacity="0.8" fill-opacity="0.75"/>
<path d="M894.9,389.9 L906.8,376.6 L925.8,383.9 L924.8,400.5 L904.5,403.4 Z" fill="#989898" stroke="#e4e4e4" stroke-width="1" stroke-opacity="0.8" fill-opacity="0.75"/>
<path d="M1133.3,343.4 L1142.3,355.3 L1126.9,361.8 L1111.2,355.6 L1120.4,343.8 Z" fill="#a6a6a6" stroke="#e4e4e4" stroke-width="1" stroke-opacity="0.8" fill-opacity="0.75"/>
<path d="M746.9,281.9 L741.5,274.7 L751.1,268.1 L765.1,272.8 L760.2,281.4 Z" fill="#b0b0b0" stroke="#e4e4e4" stroke-width="1" stroke-opacity="0.8" fill-opacity="0.75"/>
<path d="M1088.7,515.0 L1072.5,506.6 L1068.1,489.2 L1095.8,483.8 L1104.9,503.1 Z" fill="#dadada" stroke="#e4e4e4" stroke-width="1" stroke-opacity="0.8" fill-opacity="0.75"/>
<path d="M1143.4,494.7 L1138.9,506.1 L1123.3,511.3 L1119.2,500.3 L1126.7,493.7 Z" fill="#c8c8c8" stroke="#e4e4e4" stroke-width="1" stroke-opacity="0.8" fill-opacity="0.75"/>
<path d="M1059.9,421.7 L1073.2,418.1 L1081.8,425.6 L1075.4,434.2 L1060.5,433.2 Z" fill="#bcbcbc" stroke="#e4e4e4" stroke-width="1" stroke-opacity="0.8" fill-opacity="0.75"/>
<path d="M768.0,391.2 L774.1,385.9 L783.9,388.6 L782.4,398.3 L771.0,399.1 Z" fill="#d2d2d2" stroke="#e4e4e4" stroke-width="1" stroke-opacity="0.8" fill-opacity="0.75"/>
<path d="M773.4,196.1 L755.0,194.6 L762.6,183.6 L778.0,179.5 L786.3,190.1 Z" fill="#c8c8c8" stroke="#e4e4e4" stroke-width="1" stroke-opacity="0.8" fill-opacity="0.75"/>
<path d="M834.6,431.7 L845.9,441.6 L834.7,450.8 L821.1,449.9 L819.1,433.8 Z" fill="#989898" stroke="#e4e4e4" stroke-width="1" stroke-opacity="0.8" fill-opacity="0.75"/>
<path d="M641.0,231.8 L639.1,217.8 L661.3,218.7 L670.0,226.8 L661.9,240.0 Z" fill="#bcbcbc" stroke="#e4e4e4" stroke-width="1" stroke-opacity="0.8" fill-opacity="0.75"/>
<path d="M965.6,384.7 L965.2,370.8 L978.7,365.3 L994.7,372.5 L986.9,388.8 Z" fill="#c8c8c8" stroke="#e4e4e4" stroke-width="1" stroke-opacity="0.8" fill-opacity="0.75"/>
<path d="M1085.3,210.6 L1065.3,209.5 L1072.2,194.9 L1089.9,186.5 L1096.1,202.0 Z" fill="#dadada" stroke="#e4e4e4" stroke-width="1" stroke-opacity="0.8" fill-opacity="0.75"/>
<path d="M966.5,254.1 L965.5,263.6 L949.5,264.6 L939.5,258.6 L948.4,250.1 Z" fill="#a6a6a6" stroke="#e4e4e4" stroke-width="1" stroke-opacity="0.8" fill-opacity="0.75"/>
<path d="M832.4,219.0 L838.1,227.2 L835.1,237.7 L824.8,232.4 L820.1,222.6 Z" fill="#a6a6a6" stroke="#e4e4e4" stroke-width="1" stroke-opacity="0.8" fill-opacity="0.75"/>
<path d="M852.0,454.9 L864.8,454.6 L869.3,462.8 L861.5,468.9 L848.3,466.3 Z" fill="#989898" stroke="#e4e4e4" stroke-width="1" stroke-opacity="0.8" fill-opacity="0.75"/>
<path d="M878.2,334.5 L881.1,313.7 L908.2,309.4 L918.7,330.8 L898.7,342.1 Z" fill="#b0b0b0" stroke="#e4e4e4" stroke-width="1" stroke-opacity="0.8" fill-opacity="0.75"/>
<path d="M620.0,449.5 L629.8,437.0 L647.7,439.8 L644.7,456.1 L629.3,464.6 Z" fill="#dadada" stroke="#e4e4e4" stroke-width="1" stroke-opacity="0.8" fill-opacity="0.75"/>
<path d="M892.8,313.8 L899.1,325.7 L889.0,334.3 L867.0,332.0 L869.6,317.4 Z" fill="#bcbcbc" stroke="#e4e4e4" stroke-width="1" stroke-opacity="0.8" fill-opacity="0.75"/>
<path d="M853.4,283.4 L838.9,281.4 L837.1,270.6 L849.5,259.9 L865.1,271.7 Z" fill="#c8c8c8" stroke="#e4e4e4" stroke-width="1" stroke-opacity="0.8" fill-opacity="0.75"/>
<path d="M1030.1,273.0 L1013.6,291.1 L994.9,282.2 L991.9,263.0 L1012.0,258.9 Z" fill="#d2d2d2" stroke="#e4e4e4" stroke-width="1" stroke-opacity="0.8" fill-opacity="0.75"/>
<path d="M678.4,378.4 L683.9,370.9 L696.2,371.5 L697.0,383.1 L685.1,384.8 Z" fill="#dadada" stroke="#e4e4e4" stroke-width="1" stroke-opacity="0.8" fill-opacity="0.75"/>
<path d="M846.4,353.2 L828.4,352.3 L825.6,339.3 L837.5,334.2 L848.9,339.7 Z" fill="#d2d2d2" stroke="#e4e4e4" stroke-width="1" stroke-opacity="0.8" fill-opacity="0.75"/>
<path d="M810.0,292.6 L812.1,302.0 L802.5,303.6 L796.1,297.5 L801.2,289.3 Z" fill="#a6a6a6" stroke="#e4e4e4" stroke-width="1" stroke-opacity="0.8" fill-opacity="0.75"/>
<path d="M993.8,288.4 L1012.1,293.0 L1009.1,305.2 L995.9,307.5 L988.8,300.1 Z" fill="#989898" stroke="#e4e4e4" stroke-width="1" stroke-opacity="0.8" fill-opacity="0.75"/>
<path d="M988.8,288.8 L978.1,312.0 L955.8,305.1 L945.8,287.1 L967.1,273.9 Z" fill="#bcbcbc" stroke="#e4e4e4" stroke-width="1" stroke-opacity="0.8" fill-opacity="0.75"/>
<path d="M984.4,397.4 L1001.7,390.2 L1018.1,393.6 L1021.8,407.8 L998.1,408.3 Z" fill="#d2d2d2" stroke="#e4e4e4" stroke-width="1" stroke-opacity="0.8" fill-opacity="0.75"/>
<path d="M1137.1,500.3 L1132.3,510.4 L1117.7,509.6 L1116.8,496.7 L1129.0,493.5 Z" fill="#989898" stroke="#e4e4e4" stroke-width="1" stroke-opacity="0.8" fill-opacity="0.75"/>
<path d="M759.0,380.9 L743.8,382.3 L735.7,374.8 L744.7,367.3 L757.7,371.3 Z" fill="#bcbcbc" stroke="#e4e4e4" stroke-width="1" stroke-opacity="0.8" fill-opacity="0.75"/>
<path d="M1043.5,413.7 L1031.5,414.1 L1023.5,405.2 L1038.6,400.9 L1046.5,407.1 Z" fill="#c8c8c8" stroke="#e4e4e4" stroke-width="1" stroke-opacity="0.8" fill-opacity="0.75"/>
<path d="M947.9,411.3 L932.9,415.3 L922.6,408.5 L926.7,397.6 L945.9,398.1 Z" fill="#bcbcbc" stroke="#e4e4e4" stroke-width="1" stroke-opacity="0.8" fill-opacity="0.75"/>
<path d="M941.2,446.7 L925.9,437.2 L924.7,423.9 L937.7,419.8 L954.2,429.3 Z" fill="#bcbcbc" stroke="#e4e4e4" stroke-width="1" stroke-opacity="0.8" fill-opacity="0.75"/>
<path d="M968.6,449.8 L970.6,463.3 L960.6,475.4 L946.9,464.3 L952.5,449.0 Z" fill="#bcbcbc" stroke="#e4e4e4" stroke-width="1" stroke-opacity="0.8" fill-opacity="0.75"/>
<path d="M910.0,308.8 L899.9,308.0 L896.0,297.4 L909.0,294.5 L918.5,301.7 Z" fill="#dadada" stroke="#e4e4e4" stroke-width="1" stroke-opacity="0.8" fill-opacity="0.75"/>
<path d="M748.7,443.6 L757.0,452.2 L752.3,458.4 L736.6,459.6 L736.4,451.0 Z" fill="#dadada" stroke="#e4e4e4" stroke-width="1" stroke-opacity="0.8" fill-opacity="0.75"/>
<path d="M1116.9,354.5 L1122.6,371.9 L1102.0,376.3 L1086.5,368.8 L1092.8,353.5 Z" fill="#d2d2d2" stroke="#e4e4e4" stroke-width="1" stroke-opacity="0.8" fill-opacity="0.75"/>
<path d="M680.3,295.6 L663.0,296.4 L654.2,286.0 L667.1,275.7 L680.2,284.2 Z" fill="#dadada" stroke="#e4e4e4" stroke-width="1" stroke-opacity="0.8" fill-opacity="0.75"/>
<path d="M806.0,472.7 L820.9,468.5 L830.0,475.0 L826.7,484.0 L809.6,483.9 Z" fill="#a6a6a6" stroke="#e4e4e4" stroke-width="1" stroke-opacity="0.8" fill-opacity="0.75"/>
<path d="M736.0,443.5 L735.9,436.4 L747.8,431.4 L756.9,438.9 L750.6,448.3 Z" fill="#d2d2d2" stroke="#e4e4e4" stroke-width="1" stroke-opacity="0.8" fill-opacity="0.75"/>
</g><rect x="601.4" y="133.9" width="550.6" height="383.7" filter="url(#fS2)"/><path d="M758.5,181.5 L766.3,252.5 L754.4,253.8 L777.0,309.0 L787.2,250.2 L775.2,251.5 L767.5,180.5 Z" fill="#fff" />
<path d="M962.5,186.9 L971.3,259.5 L959.4,261.0 L982.7,316.0 L992.2,257.0 L980.3,258.5 L971.5,185.9 Z" fill="#fff" />
</g>
<rect x="601.4" y="517.6" width="550.6" height="26.0" fill="#000" />
<line x1="968.0" y1="519.1" x2="968.0" y2="524.1" stroke="#fff" stroke-width="1.6" />
<line x1="985.4" y1="519.1" x2="985.4" y2="524.1" stroke="#fff" stroke-width="1.6" />
<line x1="1002.8" y1="519.1" x2="1002.8" y2="524.1" stroke="#fff" stroke-width="1.6" />
<line x1="1020.2" y1="519.1" x2="1020.2" y2="524.1" stroke="#fff" stroke-width="1.6" />
<line x1="1037.6" y1="519.1" x2="1037.6" y2="524.1" stroke="#fff" stroke-width="1.6" />
<line x1="1055.0" y1="519.1" x2="1055.0" y2="524.1" stroke="#fff" stroke-width="1.6" />
<line x1="1072.4" y1="519.1" x2="1072.4" y2="524.1" stroke="#fff" stroke-width="1.6" />
<line x1="1089.8" y1="519.1" x2="1089.8" y2="524.1" stroke="#fff" stroke-width="1.6" />
<line x1="1107.2" y1="519.1" x2="1107.2" y2="524.1" stroke="#fff" stroke-width="1.6" />
<line x1="1124.6" y1="519.1" x2="1124.6" y2="524.1" stroke="#fff" stroke-width="1.6" />
<line x1="1142.0" y1="519.1" x2="1142.0" y2="524.1" stroke="#fff" stroke-width="1.6" />
<text x="604.7" y="540.4" font-family="'Liberation Sans', Arial, sans-serif" font-size="17" fill="#fff" textLength="270" lengthAdjust="spacingAndGlyphs" >S4800 15.0kV 10.5mm x20.0k SE(M)</text>
<text x="1147.0" y="540.4" font-family="'Liberation Sans', Arial, sans-serif" font-size="17" fill="#fff" text-anchor="end" textLength="54" lengthAdjust="spacingAndGlyphs" >2.00um</text>
<defs><clipPath id="cpB1"><rect x="1174.0" y="133.0" width="288.5" height="383.0"/></clipPath>
<filter id="fB1" x="0" y="0" width="100%" height="100%" color-interpolation-filters="sRGB"><feTurbulence type="fractalNoise" baseFrequency="0.35" numOctaves="1" seed="4"/><feColorMatrix type="matrix" values="1.0 0 0 0 0.0  1.0 0 0 0 0.0  1.0 0 0 0 0.0  0 0 0 0 0.06"/></filter>
<filter id="fBl2"><feGaussianBlur stdDeviation="1.6"/></filter></defs>
<g clip-path="url(#cpB1)"><rect x="1174.0" y="133.0" width="288.5" height="383.0" fill="#cbcbcb" />
<g filter="url(#fBl2)"><path d="M1170.0,128.0 L1395.7,128.0 L1393.5,141.5 L1389.0,168.6 L1395.7,173.0 L1429.6,175.4 L1443.0,186.7 L1445.4,202.5 L1436.4,220.5 L1386.7,222.8 L1384.4,234.0 L1357.4,243.0 L1328.0,245.4 L1305.4,251.0 L1339.3,265.7 L1345.0,286.0 L1332.5,306.3 L1314.5,312.0 L1287.4,306.3 L1292.0,353.7 L1296.4,367.3 L1339.3,367.3 L1357.4,401.0 L1350.6,426.0 L1341.6,453.0 L1328.0,466.6 L1310.0,459.8 L1271.6,489.0 L1249.0,502.7 L1226.4,511.7 L1204.0,516.0 L1170.0,520.0 Z" fill="#939393" />
<path d="M1259.0,157.2 L1239.2,189.5 L1209.9,198.8 L1175.1,172.9 L1180.2,148.4 L1198.4,132.2 L1238.8,139.5 Z" fill="#000" fill-opacity="0.42"/>
<path d="M1320.3,169.0 L1310.8,183.2 L1278.4,193.4 L1261.3,174.5 L1263.6,159.1 L1285.9,141.9 L1314.4,148.3 Z" fill="#000" fill-opacity="0.34"/>
<path d="M1395.3,154.6 L1388.3,187.6 L1360.4,195.8 L1342.6,177.5 L1344.0,150.1 L1364.1,127.0 L1383.4,136.8 Z" fill="#000" fill-opacity="0.38"/>
<path d="M1445.9,203.0 L1430.9,219.8 L1406.1,222.8 L1390.2,211.5 L1391.9,186.0 L1412.2,171.3 L1430.6,179.5 Z" fill="#000" fill-opacity="0.18"/>
<path d="M1391.0,213.6 L1376.4,233.8 L1363.1,234.2 L1333.9,223.3 L1338.8,204.1 L1357.9,189.8 L1379.4,193.9 Z" fill="#000" fill-opacity="0.26"/>
<path d="M1341.0,218.6 L1330.1,234.3 L1306.9,246.9 L1286.9,231.1 L1289.0,209.7 L1300.1,191.8 L1331.0,200.3 Z" fill="#000" fill-opacity="0.18"/>
<path d="M1243.9,248.4 L1225.2,288.6 L1195.9,294.6 L1166.3,256.8 L1172.8,220.1 L1194.5,205.9 L1229.1,218.1 Z" fill="#000" fill-opacity="0.46"/>
<path d="M1308.6,245.1 L1290.1,283.1 L1261.7,282.0 L1244.8,270.0 L1244.0,238.5 L1259.5,219.5 L1300.8,223.5 Z" fill="#000" fill-opacity="0.40"/>
<path d="M1343.2,286.6 L1337.5,306.0 L1307.3,312.1 L1293.2,298.7 L1288.2,267.8 L1312.4,256.3 L1332.3,261.9 Z" fill="#000" fill-opacity="0.20"/>
<path d="M1215.0,327.8 L1206.3,345.4 L1185.9,347.4 L1167.2,336.1 L1168.7,316.4 L1188.2,292.4 L1207.1,303.6 Z" fill="#000" fill-opacity="0.34"/>
<path d="M1294.4,340.5 L1271.9,369.9 L1256.2,373.6 L1232.7,363.1 L1224.1,330.0 L1253.4,310.5 L1277.3,315.7 Z" fill="#000" fill-opacity="0.28"/>
<path d="M1248.9,391.9 L1239.2,410.8 L1208.1,423.4 L1185.9,402.8 L1179.6,375.0 L1210.4,359.6 L1231.8,365.6 Z" fill="#000" fill-opacity="0.44"/>
<path d="M1358.3,398.9 L1347.3,434.1 L1314.1,445.9 L1291.4,422.4 L1286.9,391.9 L1316.8,370.4 L1342.4,375.9 Z" fill="#000" fill-opacity="0.28"/>
<path d="M1299.1,437.4 L1291.2,455.6 L1263.7,463.3 L1247.4,447.9 L1247.5,420.4 L1261.7,404.8 L1295.1,415.6 Z" fill="#000" fill-opacity="0.22"/>
<path d="M1277.7,477.8 L1263.2,495.3 L1242.8,508.4 L1217.6,488.7 L1222.7,469.4 L1239.8,454.8 L1262.1,460.5 Z" fill="#000" fill-opacity="0.22"/>
<path d="M1340.0,450.4 L1336.8,462.0 L1321.2,468.9 L1305.3,456.7 L1308.4,444.5 L1318.7,434.7 L1337.1,436.5 Z" fill="#000" fill-opacity="0.18"/>
<path d="M1214.5,461.1 L1206.7,496.9 L1179.9,503.2 L1165.2,482.0 L1165.9,447.3 L1186.2,429.4 L1205.2,432.9 Z" fill="#000" fill-opacity="0.32"/>
<path d="M1205.7,197.6 L1196.8,248.8 L1178.1,238.9 L1168.7,223.6 L1168.6,182.4 L1181.5,157.2 L1197.7,153.1 Z" fill="#000" fill-opacity="0.36"/>
<path d="M1202.7,383.8 L1200.1,410.7 L1180.1,414.8 L1168.7,400.5 L1170.5,361.5 L1184.3,342.2 L1195.8,343.0 Z" fill="#000" fill-opacity="0.29"/>
<path d="M1276.1,296.4 L1268.3,318.1 L1246.7,323.9 L1226.2,306.7 L1226.4,289.4 L1243.1,278.5 L1263.7,281.1 Z" fill="#000" fill-opacity="0.24"/>
<path d="M1274.5,137.9 L1264.0,150.7 L1220.6,154.7 L1206.9,149.0 L1200.1,136.0 L1230.4,126.3 L1251.3,126.5 Z" fill="#000" fill-opacity="0.34"/>
<path d="M1353.3,142.7 L1347.8,157.9 L1326.2,158.2 L1304.1,150.4 L1310.6,139.2 L1321.7,131.3 L1344.7,134.4 Z" fill="#000" fill-opacity="0.29"/>
<path d="M1281.9,207.7 L1270.8,224.5 L1259.4,225.5 L1241.7,218.0 L1241.6,193.8 L1254.1,188.7 L1274.8,190.6 Z" fill="#000" fill-opacity="0.24"/>
<path d="M1361.8,191.0 L1351.0,206.2 L1337.2,209.0 L1320.3,200.5 L1324.2,180.1 L1331.5,171.5 L1353.5,176.7 Z" fill="#000" fill-opacity="0.29"/>
<path d="M1251.6,288.4 L1248.9,303.1 L1222.4,310.0 L1211.6,299.7 L1209.4,278.2 L1223.2,269.6 L1247.4,275.5 Z" fill="#000" fill-opacity="0.34"/>
<path d="M1303.8,390.9 L1293.4,408.4 L1276.3,416.9 L1261.7,402.7 L1261.1,383.8 L1271.4,372.2 L1297.6,377.7 Z" fill="#000" fill-opacity="0.24"/>
<path d="M1316.4,341.6 L1310.8,363.7 L1295.2,367.3 L1283.2,346.2 L1283.5,323.4 L1298.4,318.8 L1310.7,318.9 Z" fill="#000" fill-opacity="0.16"/>
<path d="M1263.7,431.0 L1251.4,446.2 L1231.4,450.5 L1220.8,435.9 L1222.2,416.5 L1237.3,406.6 L1255.5,415.7 Z" fill="#000" fill-opacity="0.24"/>
<path d="M1229.2,502.7 L1224.5,514.9 L1203.4,517.6 L1195.8,511.7 L1191.3,499.2 L1201.6,491.5 L1219.3,494.5 Z" fill="#000" fill-opacity="0.19"/>
</g><rect x="1174" y="133" width="288.5" height="383" filter="url(#fB1)"/></g>
<text x="1368.6" y="494.8" font-family="'Liberation Sans', Arial, sans-serif" font-size="32.5" textLength="82.4" lengthAdjust="spacingAndGlyphs" stroke="#000" stroke-width="1.1">100 nm</text>
<rect x="1377.7" y="499.8" width="72.3" height="3.8" fill="#000" />
<defs><clipPath id="cpB2"><rect x="1466.6" y="133.0" width="263.1" height="383.0"/></clipPath>
<filter id="fB2" x="0" y="0" width="100%" height="100%" color-interpolation-filters="sRGB"><feTurbulence type="fractalNoise" baseFrequency="0.45" numOctaves="2" seed="9"/><feColorMatrix type="matrix" values="1.0 0 0 0 0.0  1.0 0 0 0 0.0  1.0 0 0 0 0.0  0 0 0 0 0.22"/></filter>
<radialGradient id="gB2" cx="0.18" cy="0.66" r="0.9"><stop offset="0" stop-color="#3c3c3c"/><stop offset="0.3" stop-color="#505050"/><stop offset="0.65" stop-color="#767676"/><stop offset="1" stop-color="#969696"/></radialGradient>
</defs>
<g clip-path="url(#cpB2)"><rect x="1466.6" y="133.0" width="263.1" height="383.0" fill="#c6c6c6" />
<path d="M1466.6,145.0 L1505.7,141.5 L1557.5,145.0 L1609.0,165.7 L1651.0,196.8 L1699.0,231.0 L1716.5,255.5 L1723.4,279.7 L1709.6,321.0 L1688.9,376.5 L1657.8,428.4 L1626.6,473.3 L1609.4,514.8 L1609.4,520.0 L1460.0,520.0 Z" fill="url(#gB2)" stroke="#9a9a9a" stroke-width="5" stroke-opacity="0.6"/>
<rect x="1466.6" y="133" width="263.1" height="383" filter="url(#fB2)"/></g>
<text x="1656.0" y="495.8" font-family="'Liberation Sans', Arial, sans-serif" font-size="23" textLength="57" lengthAdjust="spacingAndGlyphs" stroke="#000" stroke-width="0.8">10 nm</text>
<rect x="1659.5" y="499.6" width="51.8" height="3.0" fill="#000" />
<defs><clipPath id="cpH1"><rect x="1174.0" y="520.0" width="555.5" height="169.7"/></clipPath>
<clipPath id="cpH2"><rect x="1174.0" y="692.7" width="558.7" height="284.1"/></clipPath>
<filter id="fHbg" x="0" y="0" width="100%" height="100%" color-interpolation-filters="sRGB"><feTurbulence type="fractalNoise" baseFrequency="0.5" numOctaves="2" seed="5"/><feColorMatrix type="matrix" values="1.0 0 0 0 0.0  1.0 0 0 0 0.0  1.0 0 0 0 0.0  0 0 0 0 0.22"/></filter>
<filter id="fHlat" x="0" y="0" width="100%" height="100%" color-interpolation-filters="sRGB"><feTurbulence type="fractalNoise" baseFrequency="0.18" numOctaves="2" seed="6"/><feColorMatrix type="matrix" values="3.0 0 0 0 -1.0  3.0 0 0 0 -1.0  3.0 0 0 0 -1.0  0 0 0 0 0.55"/></filter>
<pattern id="pLat1" patternUnits="userSpaceOnUse" width="7" height="7" patternTransform="rotate(-32)"><rect width="7" height="7" fill="#2a2a2a"/><rect x="0" y="0" width="7" height="3.2" fill="#e8e8e8"/></pattern>
<pattern id="pLat2" patternUnits="userSpaceOnUse" width="7" height="7" patternTransform="rotate(20)"><rect width="7" height="7" fill="#3a3a3a"/><circle cx="3.5" cy="3.5" r="2.5" fill="#eeeeee"/></pattern>
<pattern id="pLat3" patternUnits="userSpaceOnUse" width="6" height="6" patternTransform="rotate(-40)"><rect width="6" height="6" fill="#404040"/><circle cx="3" cy="3" r="2.1" fill="#dedede"/></pattern>
<filter id="fWarp" x="0" y="0" width="100%" height="100%"><feTurbulence type="fractalNoise" baseFrequency="0.045" numOctaves="1" seed="3" result="t"/><feDisplacementMap in="SourceGraphic" in2="t" scale="5" xChannelSelector="R" yChannelSelector="G" result="d"/><feGaussianBlur in="d" stdDeviation="0.5"/></filter></defs>
<g clip-path="url(#cpH1)"><rect x="1174.0" y="520.0" width="555.5" height="169.7" fill="#8a8a8a" />
<g filter="url(#fWarp)"><path d="M1174.0,667.0 L1222.0,618.5 L1263.7,601.0 L1329.0,591.0 L1367.0,570.0 L1409.0,563.0 L1457.0,566.6 L1505.7,577.0 L1533.0,577.0 L1592.0,591.0 L1644.0,615.0 L1678.5,642.7 L1702.7,667.0 L1720.0,692.0 L1174.0,692.0 Z" fill="url(#pLat2)" />
<path d="M1174.0,667.0 L1222.0,618.5 L1263.7,601.0 L1329.0,591.0 L1360.0,600.0 L1340.0,692.0 L1174.0,692.0 Z" fill="url(#pLat1)" />
</g><rect x="1174" y="520" width="555.5" height="169.7" filter="url(#fHbg)"/></g>
<path d="M1302.8,571.7 L1315.8,588.5 L1311.3,592.0 L1329.0,601.0 L1324.7,581.6 L1320.2,585.1 L1307.2,568.3 Z" fill="#000" />
<path d="M1508.4,538.0 L1518.8,564.8 L1513.5,566.8 L1528.0,580.5 L1529.4,560.6 L1524.1,562.7 L1513.6,536.0 Z" fill="#000" />
<path d="M1577.2,559.7 L1577.2,578.0 L1571.5,578.0 L1580.0,596.0 L1588.5,578.0 L1582.8,578.0 L1582.8,559.7 Z" fill="#000" />
<path d="M1644.4,604.0 L1650.7,621.5 L1645.4,623.5 L1659.5,637.5 L1661.4,617.7 L1656.0,619.6 L1649.6,602.0 Z" fill="#000" />
<g clip-path="url(#cpH2)"><rect x="1174.0" y="692.7" width="558.7" height="284.1" fill="#7c7c7c" />
<g filter="url(#fWarp)"><path d="M1174.0,692.7 L1500.0,692.7 L1520.0,730.0 L1494.6,758.5 L1514.4,809.5 L1480.0,815.0 L1415.0,838.0 L1395.0,857.7 L1364.0,891.7 L1330.0,914.4 L1287.6,937.0 L1245.0,957.0 L1188.0,971.0 L1174.0,976.8 Z" fill="url(#pLat3)" />
<path d="M1174.0,692.7 L1390.0,692.7 L1360.0,800.0 L1300.0,880.0 L1240.0,930.0 L1174.0,960.0 Z" fill="url(#pLat2)" fill-opacity="0.85"/>
<path d="M1330.0,700.0 L1470.0,700.0 L1500.0,760.0 L1440.0,820.0 L1380.0,800.0 Z" fill="url(#pLat1)" fill-opacity="0.85"/>
</g><rect x="1174" y="692.7" width="558.7" height="284.1" filter="url(#fHbg)"/></g>
<path d="M1542.2,839.0 L1526.1,817.9 L1530.7,814.5 L1513.0,805.3 L1517.2,824.8 L1521.7,821.3 L1537.8,842.4 Z" fill="#000" />
<path d="M1439.7,859.3 L1417.7,853.7 L1419.1,848.2 L1399.6,852.0 L1415.0,864.7 L1416.4,859.1 L1438.3,864.7 Z" fill="#000" />
<path d="M1377.1,922.9 L1348.1,922.0 L1348.2,916.3 L1330.0,924.3 L1347.7,933.3 L1347.9,927.6 L1376.9,928.5 Z" fill="#000" />
<path d="M1240.8,967.0 L1241.4,952.4 L1247.1,952.6 L1239.4,934.3 L1230.1,951.9 L1235.8,952.2 L1235.2,966.8 Z" fill="#000" />
<text x="1596.6" y="957.0" font-family="'Liberation Sans', Arial, sans-serif" font-size="26.5" fill="#fff" textLength="66.4" lengthAdjust="spacingAndGlyphs" >5 nm</text>
<rect x="1596.6" y="965.8" width="129.0" height="3.2" fill="#fff" />
<defs><clipPath id="cpC"><rect x="50.7" y="1084.6" width="536.3" height="367.7"/></clipPath>
<clipPath id="cpAgg"><path d="M168.0,1084.0 L200.5,1108.0 L209.0,1145.0 L185.0,1177.0 L157.0,1218.0 L151.0,1253.0 L161.6,1270.0 L97.0,1274.0 L94.7,1296.0 L75.0,1322.0 L71.0,1350.0 L58.0,1382.0 L50.0,1410.0 L50.0,1455.0 L590.0,1455.0 L590.0,1084.0 Z"/></clipPath><filter id="fC" x="0" y="0" width="100%" height="100%" color-interpolation-filters="sRGB"><feTurbulence type="fractalNoise" baseFrequency="0.09" numOctaves="3" seed="12"/><feColorMatrix type="matrix" values="1.5 0 0 0 -0.25  1.5 0 0 0 -0.25  1.5 0 0 0 -0.25  0 0 0 0 0.22"/></filter>
</defs>
<g clip-path="url(#cpC)"><rect x="50.7" y="1084.6" width="536.3" height="367.7" fill="#b8b8b8" />
<path d="M168.0,1084.0 L200.5,1108.0 L209.0,1145.0 L185.0,1177.0 L157.0,1218.0 L151.0,1253.0 L161.6,1270.0 L97.0,1274.0 L94.7,1296.0 L75.0,1322.0 L71.0,1350.0 L58.0,1382.0 L50.0,1410.0 L50.0,1455.0 L590.0,1455.0 L590.0,1084.0 Z" fill="#949494" stroke="#c8c8c8" stroke-width="3" />
<path d="M250.0,1134.0 L293.0,1134.0 L293.0,1199.0 L270.0,1199.0 L250.0,1170.0 Z" fill="#b4b4b4" stroke="#c8c8c8" stroke-width="2" />
<g clip-path="url(#cpAgg)"><path d="M83.9,1129.0 L77.0,1140.8 L64.4,1147.5 L54.2,1143.5 L47.1,1131.3 L57.6,1120.9 L61.8,1112.7 L78.2,1121.5 Z" fill="#6c6c6c" stroke="#c6c6c6" stroke-width="1.4" fill-opacity="0.55" stroke-opacity="0.6"/>
<path d="M266.7,1222.1 L253.7,1236.1 L238.1,1246.7 L214.9,1249.8 L211.9,1224.3 L215.2,1203.1 L238.1,1198.6 L253.9,1203.5 Z" fill="#727272" stroke="#c6c6c6" stroke-width="1.4" fill-opacity="0.55" stroke-opacity="0.6"/>
<path d="M255.8,1387.7 L252.1,1404.7 L230.3,1410.9 L214.6,1400.4 L217.1,1390.0 L220.3,1375.1 L236.4,1374.5 L251.4,1371.6 Z" fill="#7c7c7c" stroke="#c6c6c6" stroke-width="1.4" fill-opacity="0.55" stroke-opacity="0.6"/>
<path d="M396.8,1342.7 L386.1,1352.0 L380.4,1355.3 L370.6,1351.0 L365.1,1342.9 L368.9,1332.9 L381.2,1333.2 L390.4,1331.3 Z" fill="#666" stroke="#c6c6c6" stroke-width="1.4" fill-opacity="0.55" stroke-opacity="0.6"/>
<path d="M163.7,1115.9 L159.6,1132.6 L140.7,1139.7 L123.0,1127.9 L122.5,1108.7 L121.2,1091.2 L140.2,1089.6 L155.0,1090.2 Z" fill="#7c7c7c" stroke="#c6c6c6" stroke-width="1.4" fill-opacity="0.55" stroke-opacity="0.6"/>
<path d="M314.5,1455.5 L307.2,1469.2 L295.0,1470.1 L284.6,1464.5 L280.2,1451.0 L285.6,1443.4 L297.0,1436.9 L307.9,1442.9 Z" fill="#6c6c6c" stroke="#c6c6c6" stroke-width="1.4" fill-opacity="0.55" stroke-opacity="0.6"/>
<path d="M277.2,1282.4 L275.2,1295.8 L259.8,1300.8 L245.9,1296.6 L238.2,1282.3 L244.1,1264.3 L254.6,1256.9 L274.5,1265.1 Z" fill="#727272" stroke="#c6c6c6" stroke-width="1.4" fill-opacity="0.55" stroke-opacity="0.6"/>
<path d="M108.7,1313.6 L94.5,1326.7 L78.2,1343.0 L61.2,1332.7 L42.8,1317.0 L57.8,1301.3 L83.8,1284.0 L103.2,1294.3 Z" fill="#7c7c7c" stroke="#c6c6c6" stroke-width="1.4" fill-opacity="0.55" stroke-opacity="0.6"/>
<path d="M321.6,1327.9 L312.7,1337.2 L304.1,1344.1 L282.4,1338.0 L274.4,1325.0 L279.0,1314.5 L296.8,1309.7 L319.5,1317.3 Z" fill="#666" stroke="#c6c6c6" stroke-width="1.4" fill-opacity="0.55" stroke-opacity="0.6"/>
<path d="M252.3,1127.7 L246.8,1135.6 L225.9,1139.3 L212.2,1134.7 L202.0,1127.3 L218.2,1115.1 L230.3,1104.9 L246.6,1110.1 Z" fill="#727272" stroke="#c6c6c6" stroke-width="1.4" fill-opacity="0.55" stroke-opacity="0.6"/>
<path d="M293.8,1420.2 L294.2,1439.5 L280.0,1437.4 L268.7,1434.0 L259.3,1423.7 L267.1,1412.5 L274.0,1401.9 L290.5,1409.6 Z" fill="#6c6c6c" stroke="#c6c6c6" stroke-width="1.4" fill-opacity="0.55" stroke-opacity="0.6"/>
<path d="M340.7,1344.6 L339.2,1358.6 L314.8,1367.0 L295.5,1353.2 L291.4,1342.2 L296.9,1322.6 L317.5,1318.9 L331.4,1328.6 Z" fill="#7c7c7c" stroke="#c6c6c6" stroke-width="1.4" fill-opacity="0.55" stroke-opacity="0.6"/>
<path d="M604.9,1377.8 L588.7,1391.7 L570.2,1407.4 L552.3,1389.5 L546.1,1378.2 L544.4,1356.4 L570.6,1354.1 L589.6,1358.2 Z" fill="#7c7c7c" stroke="#c6c6c6" stroke-width="1.4" fill-opacity="0.55" stroke-opacity="0.6"/>
<path d="M435.7,1217.8 L431.1,1227.5 L413.7,1231.2 L402.5,1226.6 L398.0,1217.2 L399.6,1200.8 L417.4,1197.5 L424.8,1201.1 Z" fill="#727272" stroke="#c6c6c6" stroke-width="1.4" fill-opacity="0.55" stroke-opacity="0.6"/>
<path d="M158.0,1184.9 L155.6,1197.5 L139.4,1204.1 L128.1,1196.0 L125.8,1181.6 L127.4,1168.8 L143.3,1165.3 L161.5,1170.2 Z" fill="#7c7c7c" stroke="#c6c6c6" stroke-width="1.4" fill-opacity="0.55" stroke-opacity="0.6"/>
<path d="M226.3,1113.2 L214.2,1137.1 L195.1,1139.6 L180.8,1128.3 L171.3,1117.2 L178.6,1097.8 L197.2,1097.6 L209.9,1104.8 Z" fill="#727272" stroke="#c6c6c6" stroke-width="1.4" fill-opacity="0.55" stroke-opacity="0.6"/>
<path d="M285.0,1364.4 L274.1,1389.8 L258.9,1399.6 L241.4,1381.3 L230.2,1363.8 L240.8,1354.0 L252.4,1337.9 L275.9,1353.5 Z" fill="#666" stroke="#c6c6c6" stroke-width="1.4" fill-opacity="0.55" stroke-opacity="0.6"/>
<path d="M174.6,1120.0 L168.7,1125.5 L157.9,1133.4 L141.2,1128.2 L135.8,1116.4 L137.5,1103.1 L156.9,1101.8 L170.7,1099.7 Z" fill="#7c7c7c" stroke="#c6c6c6" stroke-width="1.4" fill-opacity="0.55" stroke-opacity="0.6"/>
<path d="M600.1,1267.3 L588.7,1283.5 L571.1,1282.4 L559.8,1276.1 L544.7,1260.2 L551.5,1241.6 L570.4,1243.1 L588.5,1244.9 Z" fill="#666" stroke="#c6c6c6" stroke-width="1.4" fill-opacity="0.55" stroke-opacity="0.6"/>
<path d="M248.3,1347.3 L228.8,1367.7 L210.4,1371.1 L192.1,1366.0 L190.8,1341.0 L193.7,1327.3 L217.1,1311.3 L228.8,1329.4 Z" fill="#7c7c7c" stroke="#c6c6c6" stroke-width="1.4" fill-opacity="0.55" stroke-opacity="0.6"/>
<path d="M400.6,1304.7 L395.8,1316.8 L379.2,1325.2 L352.5,1319.5 L355.3,1305.2 L356.3,1290.7 L372.9,1285.7 L390.2,1290.8 Z" fill="#666" stroke="#c6c6c6" stroke-width="1.4" fill-opacity="0.55" stroke-opacity="0.6"/>
<path d="M401.2,1363.3 L388.9,1369.8 L373.4,1375.4 L360.6,1372.1 L349.1,1360.7 L359.2,1348.0 L379.8,1340.8 L389.4,1348.5 Z" fill="#7c7c7c" stroke="#c6c6c6" stroke-width="1.4" fill-opacity="0.55" stroke-opacity="0.6"/>
<path d="M579.1,1310.1 L576.5,1322.4 L565.0,1325.7 L549.5,1324.0 L544.8,1309.8 L554.3,1302.0 L563.9,1298.9 L575.6,1298.8 Z" fill="#727272" stroke="#c6c6c6" stroke-width="1.4" fill-opacity="0.55" stroke-opacity="0.6"/>
<path d="M120.6,1120.0 L115.3,1129.2 L105.2,1136.9 L90.7,1128.7 L87.0,1114.4 L97.2,1103.5 L107.2,1098.4 L119.6,1107.2 Z" fill="#666" stroke="#c6c6c6" stroke-width="1.4" fill-opacity="0.55" stroke-opacity="0.6"/>
<path d="M414.8,1099.2 L410.8,1106.5 L399.2,1115.3 L388.7,1111.7 L387.7,1097.4 L393.7,1089.1 L400.4,1083.6 L414.4,1087.6 Z" fill="#7c7c7c" stroke="#c6c6c6" stroke-width="1.4" fill-opacity="0.55" stroke-opacity="0.6"/>
<path d="M394.6,1232.3 L397.7,1246.5 L382.5,1248.8 L363.3,1246.5 L357.7,1231.4 L368.3,1221.5 L382.3,1218.4 L391.9,1221.1 Z" fill="#666" stroke="#c6c6c6" stroke-width="1.4" fill-opacity="0.55" stroke-opacity="0.6"/>
<path d="M511.0,1281.7 L505.4,1293.8 L488.1,1296.3 L471.7,1290.0 L472.0,1278.9 L478.1,1271.9 L491.0,1264.8 L506.9,1270.2 Z" fill="#7c7c7c" stroke="#c6c6c6" stroke-width="1.4" fill-opacity="0.55" stroke-opacity="0.6"/>
<path d="M351.5,1307.1 L346.7,1324.4 L332.3,1324.2 L319.9,1322.1 L312.0,1311.5 L316.1,1292.3 L331.5,1283.8 L345.8,1295.8 Z" fill="#7c7c7c" stroke="#c6c6c6" stroke-width="1.4" fill-opacity="0.55" stroke-opacity="0.6"/>
<path d="M450.2,1089.7 L441.9,1097.7 L430.5,1100.2 L418.5,1099.6 L415.7,1092.4 L423.2,1080.9 L431.3,1077.9 L444.5,1081.6 Z" fill="#7c7c7c" stroke="#c6c6c6" stroke-width="1.4" fill-opacity="0.55" stroke-opacity="0.6"/>
<path d="M359.3,1338.4 L353.8,1346.2 L339.9,1355.2 L328.3,1349.5 L330.0,1338.9 L330.5,1330.1 L344.2,1328.2 L354.6,1329.6 Z" fill="#727272" stroke="#c6c6c6" stroke-width="1.4" fill-opacity="0.55" stroke-opacity="0.6"/>
<path d="M480.9,1326.7 L473.5,1342.7 L454.0,1347.9 L438.2,1340.3 L438.5,1326.4 L441.2,1304.1 L457.6,1296.2 L474.1,1303.7 Z" fill="#666" stroke="#c6c6c6" stroke-width="1.4" fill-opacity="0.55" stroke-opacity="0.6"/>
<path d="M346.1,1129.9 L339.3,1137.0 L330.4,1148.0 L315.9,1138.0 L314.0,1130.3 L318.8,1116.6 L325.9,1109.2 L337.6,1119.4 Z" fill="#6c6c6c" stroke="#c6c6c6" stroke-width="1.4" fill-opacity="0.55" stroke-opacity="0.6"/>
<path d="M221.1,1354.3 L217.8,1363.8 L202.0,1377.3 L188.3,1369.1 L181.6,1348.8 L184.0,1334.8 L199.7,1326.4 L217.9,1338.5 Z" fill="#666" stroke="#c6c6c6" stroke-width="1.4" fill-opacity="0.55" stroke-opacity="0.6"/>
<path d="M102.5,1190.8 L95.9,1198.9 L90.7,1203.1 L76.0,1200.9 L73.3,1187.3 L78.1,1179.0 L89.8,1178.5 L98.8,1180.5 Z" fill="#727272" stroke="#c6c6c6" stroke-width="1.4" fill-opacity="0.55" stroke-opacity="0.6"/>
<path d="M485.9,1307.7 L482.4,1327.0 L467.0,1323.9 L455.3,1320.1 L444.9,1305.7 L454.1,1291.2 L464.7,1284.1 L484.2,1294.4 Z" fill="#727272" stroke="#c6c6c6" stroke-width="1.4" fill-opacity="0.55" stroke-opacity="0.6"/>
<path d="M429.1,1116.7 L433.6,1140.4 L406.3,1139.4 L380.2,1135.8 L370.7,1120.1 L388.9,1094.1 L399.5,1087.4 L430.8,1091.7 Z" fill="#7c7c7c" stroke="#c6c6c6" stroke-width="1.4" fill-opacity="0.55" stroke-opacity="0.6"/>
<path d="M584.3,1162.3 L575.2,1193.1 L560.2,1193.5 L536.6,1182.7 L523.7,1159.4 L540.4,1141.8 L551.7,1133.9 L573.6,1143.0 Z" fill="#666" stroke="#c6c6c6" stroke-width="1.4" fill-opacity="0.55" stroke-opacity="0.6"/>
<path d="M348.1,1218.4 L345.4,1228.1 L333.4,1233.2 L319.0,1227.7 L317.3,1218.6 L319.3,1206.1 L335.3,1200.5 L340.4,1208.5 Z" fill="#6c6c6c" stroke="#c6c6c6" stroke-width="1.4" fill-opacity="0.55" stroke-opacity="0.6"/>
<path d="M599.9,1167.3 L595.3,1182.5 L573.9,1194.7 L553.3,1180.7 L554.3,1166.7 L555.7,1145.8 L577.9,1144.8 L594.3,1142.7 Z" fill="#6c6c6c" stroke="#c6c6c6" stroke-width="1.4" fill-opacity="0.55" stroke-opacity="0.6"/>
<path d="M490.3,1435.9 L484.2,1443.5 L479.1,1449.6 L466.3,1445.2 L457.5,1430.7 L460.7,1423.1 L473.1,1415.2 L486.4,1427.1 Z" fill="#666" stroke="#c6c6c6" stroke-width="1.4" fill-opacity="0.55" stroke-opacity="0.6"/>
<path d="M502.5,1305.0 L484.8,1328.0 L470.2,1332.1 L450.2,1328.4 L435.1,1307.1 L444.8,1289.2 L468.0,1270.1 L494.3,1288.3 Z" fill="#7c7c7c" stroke="#c6c6c6" stroke-width="1.4" fill-opacity="0.55" stroke-opacity="0.6"/>
<path d="M466.9,1230.2 L465.2,1247.0 L443.1,1247.2 L426.7,1242.4 L417.9,1232.4 L424.4,1208.4 L449.4,1207.7 L462.7,1211.6 Z" fill="#727272" stroke="#c6c6c6" stroke-width="1.4" fill-opacity="0.55" stroke-opacity="0.6"/>
<path d="M518.5,1100.5 L514.4,1111.7 L491.9,1119.3 L478.0,1108.5 L470.3,1096.8 L478.0,1077.3 L493.1,1078.5 L512.5,1076.7 Z" fill="#666" stroke="#c6c6c6" stroke-width="1.4" fill-opacity="0.55" stroke-opacity="0.6"/>
<path d="M339.6,1266.3 L330.2,1279.2 L324.8,1287.3 L310.8,1279.5 L310.9,1268.4 L314.6,1259.6 L320.1,1255.7 L333.3,1255.8 Z" fill="#727272" stroke="#c6c6c6" stroke-width="1.4" fill-opacity="0.55" stroke-opacity="0.6"/>
<path d="M348.7,1246.7 L345.7,1264.4 L331.7,1269.3 L302.6,1269.5 L303.7,1246.7 L307.3,1231.6 L322.7,1222.5 L349.1,1222.4 Z" fill="#666" stroke="#c6c6c6" stroke-width="1.4" fill-opacity="0.55" stroke-opacity="0.6"/>
<path d="M280.8,1094.2 L278.5,1110.4 L265.2,1107.9 L256.7,1108.4 L247.7,1098.1 L251.0,1083.7 L264.3,1079.7 L277.4,1085.4 Z" fill="#666" stroke="#c6c6c6" stroke-width="1.4" fill-opacity="0.55" stroke-opacity="0.6"/>
<path d="M254.0,1157.1 L247.2,1166.9 L233.7,1174.7 L221.9,1172.2 L215.1,1162.5 L225.4,1150.2 L232.1,1143.3 L248.2,1150.3 Z" fill="#666" stroke="#c6c6c6" stroke-width="1.4" fill-opacity="0.55" stroke-opacity="0.6"/>
<path d="M151.6,1395.7 L142.8,1407.7 L133.8,1417.1 L121.2,1405.7 L114.1,1396.7 L119.8,1389.5 L130.1,1381.3 L153.6,1385.5 Z" fill="#666" stroke="#c6c6c6" stroke-width="1.4" fill-opacity="0.55" stroke-opacity="0.6"/>
<path d="M428.6,1254.1 L420.2,1265.8 L395.6,1282.0 L370.9,1268.4 L366.5,1248.9 L379.2,1232.2 L399.1,1221.7 L417.4,1229.6 Z" fill="#727272" stroke="#c6c6c6" stroke-width="1.4" fill-opacity="0.55" stroke-opacity="0.6"/>
<path d="M466.7,1345.5 L463.9,1359.9 L452.6,1366.2 L436.8,1356.1 L432.5,1349.3 L439.2,1333.8 L452.8,1328.1 L460.5,1336.6 Z" fill="#727272" stroke="#c6c6c6" stroke-width="1.4" fill-opacity="0.55" stroke-opacity="0.6"/>
<path d="M224.0,1384.4 L210.2,1410.2 L197.9,1412.8 L179.1,1402.7 L175.1,1384.8 L171.0,1367.6 L193.8,1365.6 L217.5,1368.3 Z" fill="#666" stroke="#c6c6c6" stroke-width="1.4" fill-opacity="0.55" stroke-opacity="0.6"/>
<path d="M307.2,1265.6 L304.6,1279.4 L292.1,1282.8 L281.7,1280.6 L278.6,1267.5 L284.1,1257.2 L291.8,1255.8 L303.9,1259.9 Z" fill="#6c6c6c" stroke="#c6c6c6" stroke-width="1.4" fill-opacity="0.55" stroke-opacity="0.6"/>
<path d="M80.8,1438.0 L77.9,1444.6 L65.8,1454.9 L40.6,1451.7 L42.0,1432.9 L42.6,1419.2 L60.4,1415.4 L76.1,1418.8 Z" fill="#727272" stroke="#c6c6c6" stroke-width="1.4" fill-opacity="0.55" stroke-opacity="0.6"/>
<path d="M139.2,1451.4 L125.6,1469.1 L113.8,1472.0 L99.9,1467.6 L91.2,1456.6 L96.5,1438.0 L115.2,1436.8 L129.1,1442.5 Z" fill="#727272" stroke="#c6c6c6" stroke-width="1.4" fill-opacity="0.55" stroke-opacity="0.6"/>
<path d="M329.0,1377.8 L330.5,1392.0 L308.6,1401.4 L289.9,1395.8 L284.5,1377.2 L286.0,1363.3 L302.9,1356.4 L320.3,1366.2 Z" fill="#727272" stroke="#c6c6c6" stroke-width="1.4" fill-opacity="0.55" stroke-opacity="0.6"/>
<path d="M461.4,1243.3 L458.0,1267.4 L432.4,1270.7 L421.4,1266.3 L415.3,1245.6 L424.1,1231.4 L439.3,1218.6 L460.8,1231.2 Z" fill="#7c7c7c" stroke="#c6c6c6" stroke-width="1.4" fill-opacity="0.55" stroke-opacity="0.6"/>
<path d="M246.4,1243.7 L240.5,1258.1 L212.7,1259.3 L194.2,1253.0 L182.6,1239.3 L196.3,1226.0 L211.9,1221.4 L234.8,1224.6 Z" fill="#666" stroke="#c6c6c6" stroke-width="1.4" fill-opacity="0.55" stroke-opacity="0.6"/>
<path d="M436.4,1245.3 L433.2,1255.1 L421.1,1260.4 L413.8,1259.7 L407.0,1247.4 L412.9,1232.3 L423.2,1235.5 L431.9,1239.9 Z" fill="#6c6c6c" stroke="#c6c6c6" stroke-width="1.4" fill-opacity="0.55" stroke-opacity="0.6"/>
<path d="M349.2,1103.6 L347.0,1111.4 L334.9,1115.7 L323.5,1114.8 L322.3,1105.3 L324.3,1093.3 L335.2,1085.0 L348.2,1090.0 Z" fill="#6c6c6c" stroke="#c6c6c6" stroke-width="1.4" fill-opacity="0.55" stroke-opacity="0.6"/>
<path d="M299.0,1269.0 L292.0,1284.0 L274.2,1301.5 L255.4,1284.8 L241.6,1268.9 L253.7,1249.2 L273.2,1242.8 L293.4,1254.4 Z" fill="#7c7c7c" stroke="#c6c6c6" stroke-width="1.4" fill-opacity="0.55" stroke-opacity="0.6"/>
<path d="M322.1,1305.5 L324.9,1315.5 L300.2,1322.4 L291.0,1313.9 L285.5,1305.0 L289.5,1294.7 L302.8,1285.3 L318.5,1296.8 Z" fill="#7c7c7c" stroke="#c6c6c6" stroke-width="1.4" fill-opacity="0.55" stroke-opacity="0.6"/>
<path d="M402.9,1400.3 L399.1,1431.6 L381.6,1439.1 L357.7,1418.6 L349.9,1403.0 L359.5,1382.2 L381.7,1371.9 L395.3,1381.6 Z" fill="#6c6c6c" stroke="#c6c6c6" stroke-width="1.4" fill-opacity="0.55" stroke-opacity="0.6"/>
<path d="M382.0,1237.6 L378.1,1254.9 L364.7,1268.7 L338.2,1259.6 L337.4,1243.8 L343.3,1227.6 L362.8,1220.5 L375.3,1223.0 Z" fill="#727272" stroke="#c6c6c6" stroke-width="1.4" fill-opacity="0.55" stroke-opacity="0.6"/>
<path d="M157.8,1264.6 L152.6,1273.1 L141.6,1277.1 L125.1,1272.4 L122.6,1262.2 L129.0,1247.2 L139.4,1249.6 L155.0,1251.0 Z" fill="#666" stroke="#c6c6c6" stroke-width="1.4" fill-opacity="0.55" stroke-opacity="0.6"/>
<path d="M383.1,1394.6 L372.0,1407.7 L357.5,1418.7 L336.3,1400.9 L332.8,1391.8 L338.6,1373.2 L346.8,1359.5 L369.7,1370.0 Z" fill="#666" stroke="#c6c6c6" stroke-width="1.4" fill-opacity="0.55" stroke-opacity="0.6"/>
<path d="M458.3,1428.4 L449.6,1436.8 L439.2,1438.7 L430.9,1440.6 L428.5,1425.1 L428.2,1417.8 L440.7,1413.4 L448.2,1418.2 Z" fill="#6c6c6c" stroke="#c6c6c6" stroke-width="1.4" fill-opacity="0.55" stroke-opacity="0.6"/>
<path d="M472.2,1364.7 L470.5,1374.3 L459.8,1377.4 L448.6,1374.9 L449.7,1366.2 L448.6,1354.7 L462.1,1351.1 L468.9,1357.3 Z" fill="#7c7c7c" stroke="#c6c6c6" stroke-width="1.4" fill-opacity="0.55" stroke-opacity="0.6"/>
<path d="M139.4,1371.6 L135.3,1384.4 L121.1,1394.3 L101.4,1384.8 L96.5,1374.4 L100.6,1357.0 L118.2,1353.8 L131.2,1355.0 Z" fill="#6c6c6c" stroke="#c6c6c6" stroke-width="1.4" fill-opacity="0.55" stroke-opacity="0.6"/>
<path d="M414.5,1128.9 L416.1,1135.1 L404.7,1140.5 L388.8,1134.3 L383.9,1125.5 L392.9,1116.4 L399.5,1117.9 L414.9,1118.8 Z" fill="#7c7c7c" stroke="#c6c6c6" stroke-width="1.4" fill-opacity="0.55" stroke-opacity="0.6"/>
<path d="M499.2,1287.0 L481.4,1300.7 L468.3,1303.4 L439.4,1300.1 L433.3,1285.6 L442.8,1272.7 L460.0,1267.3 L489.5,1269.3 Z" fill="#666" stroke="#c6c6c6" stroke-width="1.4" fill-opacity="0.55" stroke-opacity="0.6"/>
<path d="M192.0,1276.3 L184.5,1292.8 L162.6,1303.3 L149.1,1292.7 L143.0,1280.5 L144.7,1266.7 L161.8,1257.9 L180.8,1271.7 Z" fill="#727272" stroke="#c6c6c6" stroke-width="1.4" fill-opacity="0.55" stroke-opacity="0.6"/>
<path d="M194.7,1394.0 L192.3,1399.8 L182.2,1405.2 L169.6,1401.7 L165.4,1391.3 L170.0,1385.2 L180.9,1380.4 L191.6,1385.2 Z" fill="#666" stroke="#c6c6c6" stroke-width="1.4" fill-opacity="0.55" stroke-opacity="0.6"/>
<path d="M576.9,1228.4 L576.1,1236.8 L565.8,1244.0 L553.7,1239.2 L547.6,1225.7 L554.1,1216.0 L565.4,1218.3 L571.8,1219.1 Z" fill="#7c7c7c" stroke="#c6c6c6" stroke-width="1.4" fill-opacity="0.55" stroke-opacity="0.6"/>
<path d="M393.3,1434.7 L379.6,1453.3 L364.4,1458.6 L351.5,1452.0 L335.9,1438.5 L347.1,1421.5 L369.4,1408.0 L382.3,1413.3 Z" fill="#7c7c7c" stroke="#c6c6c6" stroke-width="1.4" fill-opacity="0.55" stroke-opacity="0.6"/>
<path d="M348.8,1260.7 L337.4,1270.5 L330.5,1277.4 L311.1,1275.5 L311.1,1256.5 L309.7,1245.6 L328.3,1245.2 L342.4,1244.9 Z" fill="#727272" stroke="#c6c6c6" stroke-width="1.4" fill-opacity="0.55" stroke-opacity="0.6"/>
<rect x="50.7" y="1084.6" width="536.3" height="367.7" filter="url(#fC)"/></g></g>
<defs><clipPath id="cpCi"><rect x="349.3" y="1084.6" width="237.7" height="183.7"/></clipPath>
<radialGradient id="gSA" cx="0.5" cy="0.5" r="0.5"><stop offset="0" stop-color="#e4e4e4"/><stop offset="0.4" stop-color="#d6d6d6"/><stop offset="1" stop-color="#cdcdcd"/></radialGradient></defs><g clip-path="url(#cpCi)"><rect x="349.3" y="1084.6" width="237.7" height="183.7" fill="#d0d0d0" />
<circle cx="470.3" cy="1177.5" r="130.0" fill="url(#gSA)" />
<circle cx="470.3" cy="1177.5" r="100.0" fill="none" stroke="#b4b4b4" stroke-width="2" stroke-opacity="0.8"/>
<circle cx="470.3" cy="1177.5" r="88.0" fill="none" stroke="#b4b4b4" stroke-width="2" stroke-opacity="0.8"/>
<circle cx="470.3" cy="1177.5" r="76.0" fill="none" stroke="#b4b4b4" stroke-width="2.5" stroke-opacity="0.8"/>
<circle cx="470.3" cy="1177.5" r="64.0" fill="none" stroke="#b4b4b4" stroke-width="2.5" stroke-opacity="0.8"/>
<circle cx="470.3" cy="1177.5" r="54.0" fill="none" stroke="#b4b4b4" stroke-width="2" stroke-opacity="0.8"/>
<circle cx="470.3" cy="1177.5" r="35.0" fill="#c8c8c8" />
<circle cx="470.3" cy="1177.5" r="33.0" fill="none" stroke="#3a3a3a" stroke-width="2.2" />
<circle cx="470.3" cy="1177.5" r="26.0" fill="none" stroke="#aaa" stroke-width="3" />
<circle cx="470.3" cy="1177.5" r="11.5" fill="#0a0a0a" />
<circle cx="470.3" cy="1177.5" r="16.0" fill="none" stroke="#666" stroke-width="5" stroke-opacity="0.6"/>
<path d="M467.3,1172.5 L475.3,1171.5 L590,1262 L586,1272 Z" fill="#f6f6f6" />
</g>
<line x1="557.0" y1="1097.0" x2="490.0" y2="1144.0" stroke="#222" stroke-width="1.2" />
<text x="565.0" y="1102.0" font-family="'Liberation Serif', 'Times New Roman', serif" font-size="9.5" fill="#333" >210</text>
<line x1="555.0" y1="1118.0" x2="504.0" y2="1150.0" stroke="#222" stroke-width="1.2" />
<text x="565.0" y="1123.0" font-family="'Liberation Serif', 'Times New Roman', serif" font-size="9.5" fill="#333" >211</text>
<line x1="555.0" y1="1141.0" x2="517.0" y2="1159.0" stroke="#222" stroke-width="1.2" />
<text x="565.0" y="1145.0" font-family="'Liberation Serif', 'Times New Roman', serif" font-size="9.5" fill="#333" >102</text>
<line x1="561.0" y1="1165.0" x2="533.0" y2="1168.0" stroke="#222" stroke-width="1.2" />
<text x="565.0" y="1169.0" font-family="'Liberation Serif', 'Times New Roman', serif" font-size="9.5" fill="#333" >321</text>
<line x1="553.0" y1="1184.0" x2="542.0" y2="1184.0" stroke="#222" stroke-width="1.2" />
<text x="565.0" y="1188.0" font-family="'Liberation Serif', 'Times New Roman', serif" font-size="9.5" fill="#333" >421</text>
<line x1="556.0" y1="1207.0" x2="545.0" y2="1203.0" stroke="#222" stroke-width="1.2" />
<text x="565.0" y="1211.0" font-family="'Liberation Serif', 'Times New Roman', serif" font-size="9.5" fill="#333" >123</text>
<text x="467.3" y="1400.2" font-family="'Liberation Serif', 'Times New Roman', serif" font-size="23.5" fill="#111" textLength="76.2" lengthAdjust="spacingAndGlyphs" >100 nm</text>
<rect x="473.0" y="1411.9" width="71.4" height="3.0" fill="#111" />
<defs><clipPath id="cpD1"><rect x="1222.2" y="1075.8" width="266.3" height="361.0"/></clipPath>
<clipPath id="cpD2"><rect x="1493.2" y="1075.8" width="252.0" height="361.0"/></clipPath>
<filter id="fD1" x="0" y="0" width="100%" height="100%" color-interpolation-filters="sRGB"><feTurbulence type="fractalNoise" baseFrequency="0.03" numOctaves="3" seed="14"/><feColorMatrix type="matrix" values="1.0 0 0 0 0.0  1.0 0 0 0 0.0  1.0 0 0 0 0.0  0 0 0 0 0.12"/></filter>
<filter id="fD2" x="0" y="0" width="100%" height="100%" color-interpolation-filters="sRGB"><feTurbulence type="fractalNoise" baseFrequency="0.08" numOctaves="3" seed="15"/><feColorMatrix type="matrix" values="1.2 0 0 0 -0.1  1.2 0 0 0 -0.1  1.2 0 0 0 -0.1  0 0 0 0 0.14"/></filter>
<linearGradient id="gD2" x1="0" y1="0" x2="0" y2="1"><stop offset="0" stop-color="#b6b6b6"/><stop offset="0.3" stop-color="#b4b4b4"/><stop offset="0.38" stop-color="#a6a6a6"/><stop offset="0.48" stop-color="#787878"/><stop offset="0.6" stop-color="#4a4a4a"/><stop offset="0.8" stop-color="#343434"/><stop offset="1" stop-color="#2a2a2a"/></linearGradient>
<linearGradient id="gD1L" x1="0" y1="0" x2="1" y2="1"><stop offset="0" stop-color="#b4b4b4"/><stop offset="1" stop-color="#9c9c9c"/></linearGradient>
<filter id="fBlur6" filterUnits="userSpaceOnUse" x="1180" y="1060" width="600" height="400"><feGaussianBlur stdDeviation="6"/></filter><filter id="fBlur3" filterUnits="userSpaceOnUse" x="1180" y="1060" width="600" height="400"><feGaussianBlur stdDeviation="2.5"/></filter>
<clipPath id="cpBand"><path d="M1482.0,1074.0 L1452.7,1120.6 L1417.0,1166.0 L1397.0,1211.6 L1376.8,1247.0 L1356.6,1285.0 L1336.4,1322.8 L1316.0,1360.8 L1290.8,1398.7 L1278.2,1440.0 L1215.0,1440.0 L1215.0,1201.5 L1222.2,1201.5 L1242.8,1171.0 L1265.6,1133.0 L1278.0,1108.0 L1290.8,1074.0 Z"/></clipPath></defs>
<g clip-path="url(#cpD1)"><rect x="1222.2" y="1075.8" width="266.3" height="361.0" fill="#c3c3c3" />
<path d="M1215.0,1070.0 L1295.0,1070.0 L1278.0,1108.0 L1265.6,1133.0 L1242.8,1171.0 L1222.2,1201.5 L1215.0,1205.0 Z" fill="url(#gD1L)" />
<path d="M1489.0,1074.0 L1459.7,1120.6 L1424.0,1166.0 L1404.0,1211.6 L1383.8,1247.0 L1363.6,1285.0 L1343.4,1322.8 L1323.0,1360.8 L1297.8,1398.7 L1285.2,1440.0" fill="none" stroke="#f2f2f2" stroke-width="12" filter="url(#fBlur3)"/>
<path d="M1236.8,1174.0 L1259.6,1136.0 L1272.0,1111.0 L1284.8,1077.0" fill="none" stroke="#e6e6e6" stroke-width="10" filter="url(#fBlur3)"/>
<path d="M1482.0,1074.0 L1452.7,1120.6 L1417.0,1166.0 L1397.0,1211.6 L1376.8,1247.0 L1356.6,1285.0 L1336.4,1322.8 L1316.0,1360.8 L1290.8,1398.7 L1278.2,1440.0 L1215.0,1440.0 L1215.0,1201.5 L1222.2,1201.5 L1242.8,1171.0 L1265.6,1133.0 L1278.0,1108.0 L1290.8,1074.0 Z" fill="#454545" />
<g clip-path="url(#cpBand)"><path d="M1333.0,1271.3 L1331.0,1278.3 L1319.5,1286.3 L1312.2,1276.4 L1310.2,1268.1 L1320.5,1265.2 L1333.2,1264.9 Z" fill="#3a3a3a" />
<path d="M1261.5,1103.1 L1253.6,1108.3 L1243.8,1112.2 L1235.3,1105.5 L1230.4,1093.4 L1237.4,1086.8 L1255.6,1090.8 Z" fill="#3a3a3a" />
<path d="M1429.5,1328.3 L1422.2,1337.9 L1403.3,1342.8 L1394.2,1332.2 L1396.1,1319.3 L1407.3,1319.4 L1423.0,1318.9 Z" fill="#5a5a5a" />
<path d="M1394.7,1276.8 L1396.0,1288.9 L1370.0,1286.7 L1358.2,1282.0 L1357.4,1273.4 L1365.3,1265.4 L1395.1,1268.8 Z" fill="#5a5a5a" />
<path d="M1304.1,1308.8 L1300.5,1323.8 L1289.5,1319.4 L1279.9,1318.0 L1281.2,1300.3 L1291.2,1295.1 L1300.3,1297.7 Z" fill="#5a5a5a" />
<path d="M1244.4,1256.2 L1246.9,1267.5 L1228.9,1264.7 L1216.4,1261.5 L1222.2,1248.0 L1231.1,1237.4 L1241.6,1241.9 Z" fill="#424242" />
<path d="M1451.6,1163.0 L1451.2,1171.4 L1431.8,1171.1 L1416.1,1167.3 L1418.0,1160.8 L1428.5,1153.0 L1445.2,1154.1 Z" fill="#505050" />
<path d="M1481.4,1326.5 L1472.1,1336.9 L1458.1,1345.7 L1452.2,1334.9 L1451.6,1317.2 L1458.8,1309.6 L1469.3,1311.0 Z" fill="#424242" />
<path d="M1331.7,1259.2 L1325.8,1264.8 L1313.8,1272.0 L1301.7,1261.1 L1307.6,1255.1 L1314.2,1249.3 L1325.5,1250.2 Z" fill="#5a5a5a" />
<path d="M1268.1,1397.2 L1262.6,1411.5 L1237.1,1411.8 L1219.0,1404.9 L1216.3,1392.2 L1240.8,1384.7 L1263.6,1387.7 Z" fill="#505050" />
<path d="M1313.4,1182.7 L1300.9,1193.7 L1287.0,1200.1 L1266.6,1190.1 L1273.4,1180.2 L1282.4,1170.8 L1299.7,1172.7 Z" fill="#4a4a4a" />
<path d="M1480.5,1231.3 L1475.6,1245.8 L1460.7,1249.5 L1452.2,1238.4 L1453.3,1225.7 L1460.6,1223.9 L1472.5,1221.8 Z" fill="#3a3a3a" />
<path d="M1452.2,1078.2 L1444.9,1089.3 L1435.1,1093.4 L1423.7,1083.6 L1421.1,1069.8 L1432.5,1066.9 L1445.3,1065.5 Z" fill="#5a5a5a" />
<path d="M1451.1,1257.8 L1443.9,1261.1 L1435.1,1268.3 L1424.8,1259.3 L1420.6,1249.4 L1432.9,1245.0 L1446.0,1246.6 Z" fill="#4a4a4a" />
<path d="M1331.6,1411.7 L1331.2,1429.6 L1313.3,1428.0 L1299.5,1427.4 L1297.7,1405.0 L1317.1,1395.3 L1329.3,1399.5 Z" fill="#4a4a4a" />
<path d="M1367.6,1195.7 L1366.2,1205.7 L1358.0,1211.3 L1352.3,1203.0 L1351.5,1192.4 L1358.6,1179.7 L1365.7,1186.3 Z" fill="#424242" />
<path d="M1249.5,1351.6 L1241.1,1368.4 L1218.6,1371.0 L1201.7,1363.2 L1210.5,1346.2 L1225.2,1331.8 L1236.2,1339.4 Z" fill="#4a4a4a" />
<path d="M1243.6,1104.3 L1233.8,1124.1 L1215.8,1127.7 L1207.3,1112.1 L1207.2,1097.7 L1219.8,1088.7 L1232.2,1092.3 Z" fill="#424242" />
<path d="M1336.4,1103.9 L1326.2,1120.7 L1302.4,1125.9 L1291.3,1113.0 L1287.3,1095.9 L1305.6,1082.0 L1325.8,1093.9 Z" fill="#3a3a3a" />
<path d="M1298.1,1098.7 L1294.2,1112.4 L1276.6,1118.2 L1274.9,1105.6 L1270.2,1095.2 L1281.1,1085.4 L1292.0,1087.9 Z" fill="#5a5a5a" />
<path d="M1349.2,1350.0 L1339.5,1359.0 L1315.7,1362.3 L1304.7,1353.9 L1302.1,1343.4 L1319.7,1340.6 L1342.8,1340.2 Z" fill="#3a3a3a" />
<path d="M1348.0,1082.3 L1340.3,1086.6 L1319.2,1088.7 L1298.4,1086.2 L1309.8,1079.1 L1325.1,1074.6 L1338.6,1074.4 Z" fill="#4a4a4a" />
<path d="M1245.6,1200.9 L1230.3,1208.1 L1217.3,1208.6 L1199.1,1204.8 L1196.0,1194.9 L1215.3,1190.8 L1229.9,1190.1 Z" fill="#3a3a3a" />
<path d="M1465.3,1312.9 L1461.2,1321.7 L1451.0,1326.0 L1443.0,1318.4 L1442.9,1306.8 L1450.7,1299.9 L1457.7,1303.2 Z" fill="#424242" />
<path d="M1264.2,1320.5 L1248.9,1330.9 L1232.3,1334.8 L1218.5,1324.4 L1217.1,1314.8 L1235.4,1305.2 L1251.8,1312.2 Z" fill="#3a3a3a" />
<path d="M1251.0,1363.5 L1243.1,1373.8 L1227.8,1378.3 L1223.1,1363.1 L1221.3,1354.6 L1233.4,1347.4 L1244.6,1347.7 Z" fill="#3a3a3a" />
<path d="M1324.6,1340.3 L1308.2,1347.4 L1296.1,1350.5 L1283.3,1345.8 L1282.9,1338.5 L1289.6,1331.8 L1316.3,1334.0 Z" fill="#3a3a3a" />
<path d="M1295.8,1136.4 L1293.3,1143.1 L1276.9,1144.9 L1262.3,1141.3 L1252.7,1132.4 L1274.8,1131.1 L1294.9,1128.1 Z" fill="#4a4a4a" />
<path d="M1358.6,1231.9 L1339.9,1245.4 L1320.8,1243.3 L1305.3,1237.4 L1300.8,1224.8 L1322.0,1218.6 L1342.5,1218.5 Z" fill="#4a4a4a" />
<path d="M1432.1,1323.7 L1414.7,1332.3 L1399.9,1336.9 L1389.3,1325.3 L1390.1,1314.7 L1398.9,1299.1 L1427.5,1305.3 Z" fill="#505050" />
<path d="M1300.3,1249.3 L1302.5,1263.3 L1275.8,1271.3 L1260.3,1261.6 L1265.1,1238.0 L1273.5,1229.8 L1296.2,1229.8 Z" fill="#424242" />
<path d="M1448.1,1212.0 L1440.7,1224.5 L1426.4,1235.3 L1418.4,1217.9 L1412.5,1204.6 L1429.5,1196.2 L1439.6,1195.6 Z" fill="#4a4a4a" />
<path d="M1283.6,1291.2 L1279.6,1303.6 L1257.8,1307.3 L1245.0,1296.7 L1247.3,1288.2 L1258.5,1276.0 L1276.0,1281.5 Z" fill="#5a5a5a" />
<path d="M1295.6,1350.8 L1285.4,1359.2 L1269.5,1361.1 L1252.0,1356.2 L1249.9,1346.4 L1262.1,1344.9 L1282.6,1345.7 Z" fill="#424242" />
<path d="M1428.6,1172.5 L1426.8,1189.0 L1414.8,1191.6 L1395.2,1186.7 L1395.6,1163.4 L1412.1,1154.0 L1425.3,1164.3 Z" fill="#505050" />
<path d="M1320.9,1311.9 L1311.7,1328.1 L1306.6,1328.3 L1299.1,1320.9 L1293.5,1308.4 L1304.7,1303.6 L1312.8,1304.9 Z" fill="#5a5a5a" />
<path d="M1318.8,1361.6 L1311.7,1369.9 L1293.2,1370.2 L1285.2,1366.6 L1280.2,1360.1 L1295.8,1354.2 L1315.4,1355.4 Z" fill="#4a4a4a" />
<path d="M1317.6,1325.8 L1317.3,1338.4 L1298.3,1341.8 L1280.4,1333.0 L1287.9,1321.0 L1293.3,1313.3 L1311.0,1317.8 Z" fill="#505050" />
<path d="M1280.2,1360.0 L1274.1,1366.9 L1268.3,1371.0 L1259.5,1367.2 L1258.5,1354.3 L1267.9,1346.3 L1278.3,1347.8 Z" fill="#3a3a3a" />
<path d="M1432.9,1339.2 L1419.6,1349.8 L1410.0,1354.6 L1400.2,1346.8 L1398.4,1326.9 L1411.4,1323.1 L1421.6,1326.7 Z" fill="#4a4a4a" />
<path d="M1470.0,1074.0 L1440.7,1120.6 L1405.0,1166.0 L1385.0,1211.6 L1364.8,1247.0 L1344.6,1285.0 L1324.4,1322.8 L1304.0,1360.8 L1278.8,1398.7 L1266.2,1440.0" fill="none" stroke="#6e6e6e" stroke-width="12" stroke-opacity="0.6" filter="url(#fBlur3)"/>
</g><rect x="1222.2" y="1075.8" width="266.3" height="361" filter="url(#fD1)"/></g>
<line x1="1278.0" y1="1292.0" x2="1334.0" y2="1328.0" stroke="#ffff00" stroke-width="2.6" />
<path d="M1285,1288 L1276,1291 L1281,1299" fill="none" stroke="#ffff00" stroke-width="2.6" />
<path d="M1326,1322 L1336,1329 L1326,1332" fill="none" stroke="#ffff00" stroke-width="2.6" />
<line x1="1278.0" y1="1281.0" x2="1271.0" y2="1294.0" stroke="#ffff00" stroke-width="2.4" />
<line x1="1341.0" y1="1320.0" x2="1332.0" y2="1334.0" stroke="#ffff00" stroke-width="2.4" />
<text x="1300.0" y="1262.0" font-family="'Liberation Serif', 'Times New Roman', serif" font-size="24" font-weight="bold" fill="#ffff00" transform="rotate(32 1300 1262)">&gt; 1μm</text>
<text x="1390.7" y="1407.5" font-family="'Liberation Serif', 'Times New Roman', serif" font-size="24" font-weight="bold" fill="#f4f4f4" textLength="63.3" lengthAdjust="spacingAndGlyphs" >1 μm</text>
<rect x="1400.8" y="1419.8" width="50.6" height="5.8" fill="#f8f8f8" />
<g clip-path="url(#cpD2)"><rect x="1493.2" y="1075.8" width="252.0" height="361.0" fill="url(#gD2)" />
<path d="M1498.6,1218.3 Q1505.0,1178.4 1506.8,1138.4" fill="none" stroke="#8e8e8e" stroke-width="19.623512202287458" stroke-linecap="round" stroke-opacity="0.5"/>
<path d="M1498.6,1218.3 Q1505.0,1178.4 1506.8,1138.4" fill="none" stroke="#c4c4c4" stroke-width="16.623512202287458" stroke-linecap="round" stroke-opacity="0.85"/>
<path d="M1523.6,1229.6 Q1526.3,1187.4 1525.2,1145.3" fill="none" stroke="#8e8e8e" stroke-width="21.24967654043858" stroke-linecap="round" stroke-opacity="0.5"/>
<path d="M1523.6,1229.6 Q1526.3,1187.4 1525.2,1145.3" fill="none" stroke="#c4c4c4" stroke-width="18.24967654043858" stroke-linecap="round" stroke-opacity="0.85"/>
<path d="M1550.1,1218.1 Q1542.6,1182.9 1543.1,1147.8" fill="none" stroke="#8e8e8e" stroke-width="20.785357375078448" stroke-linecap="round" stroke-opacity="0.5"/>
<path d="M1550.1,1218.1 Q1542.6,1182.9 1543.1,1147.8" fill="none" stroke="#c4c4c4" stroke-width="17.785357375078448" stroke-linecap="round" stroke-opacity="0.85"/>
<path d="M1570.9,1216.2 Q1578.1,1186.1 1576.5,1155.9" fill="none" stroke="#8e8e8e" stroke-width="15.26404979423269" stroke-linecap="round" stroke-opacity="0.5"/>
<path d="M1570.9,1216.2 Q1578.1,1186.1 1576.5,1155.9" fill="none" stroke="#c4c4c4" stroke-width="12.26404979423269" stroke-linecap="round" stroke-opacity="0.85"/>
<path d="M1596.1,1229.5 Q1600.5,1183.6 1600.7,1137.7" fill="none" stroke="#8e8e8e" stroke-width="16.000030312254424" stroke-linecap="round" stroke-opacity="0.5"/>
<path d="M1596.1,1229.5 Q1600.5,1183.6 1600.7,1137.7" fill="none" stroke="#c4c4c4" stroke-width="13.000030312254424" stroke-linecap="round" stroke-opacity="0.85"/>
<path d="M1610.5,1228.8 Q1613.1,1198.9 1620.1,1169.1" fill="none" stroke="#8e8e8e" stroke-width="15.428236261997334" stroke-linecap="round" stroke-opacity="0.5"/>
<path d="M1610.5,1228.8 Q1613.1,1198.9 1620.1,1169.1" fill="none" stroke="#c4c4c4" stroke-width="12.428236261997334" stroke-linecap="round" stroke-opacity="0.85"/>
<path d="M1639.4,1218.6 Q1640.9,1187.0 1647.2,1155.4" fill="none" stroke="#8e8e8e" stroke-width="21.772218826853678" stroke-linecap="round" stroke-opacity="0.5"/>
<path d="M1639.4,1218.6 Q1640.9,1187.0 1647.2,1155.4" fill="none" stroke="#c4c4c4" stroke-width="18.772218826853678" stroke-linecap="round" stroke-opacity="0.85"/>
<path d="M1656.8,1223.1 Q1657.1,1190.6 1660.0,1158.0" fill="none" stroke="#8e8e8e" stroke-width="18.94611637946967" stroke-linecap="round" stroke-opacity="0.5"/>
<path d="M1656.8,1223.1 Q1657.1,1190.6 1660.0,1158.0" fill="none" stroke="#c4c4c4" stroke-width="15.946116379469672" stroke-linecap="round" stroke-opacity="0.85"/>
<path d="M1678.3,1224.2 Q1683.5,1179.1 1682.8,1134.1" fill="none" stroke="#8e8e8e" stroke-width="18.405315192479506" stroke-linecap="round" stroke-opacity="0.5"/>
<path d="M1678.3,1224.2 Q1683.5,1179.1 1682.8,1134.1" fill="none" stroke="#c4c4c4" stroke-width="15.405315192479504" stroke-linecap="round" stroke-opacity="0.85"/>
<path d="M1707.5,1228.1 Q1700.5,1197.9 1703.9,1167.6" fill="none" stroke="#8e8e8e" stroke-width="16.110496271082717" stroke-linecap="round" stroke-opacity="0.5"/>
<path d="M1707.5,1228.1 Q1700.5,1197.9 1703.9,1167.6" fill="none" stroke="#c4c4c4" stroke-width="13.110496271082717" stroke-linecap="round" stroke-opacity="0.85"/>
<path d="M1724.5,1232.5 Q1728.9,1199.7 1729.5,1166.8" fill="none" stroke="#8e8e8e" stroke-width="15.874634086283336" stroke-linecap="round" stroke-opacity="0.5"/>
<path d="M1724.5,1232.5 Q1728.9,1199.7 1729.5,1166.8" fill="none" stroke="#c4c4c4" stroke-width="12.874634086283336" stroke-linecap="round" stroke-opacity="0.85"/>
<ellipse cx="1655" cy="1240" rx="30" ry="42" fill="#a8a8a8" fill-opacity="0.6" filter="url(#fBlur6)"/><path d="M1491.3,1445 Q1499.1,1330 1500.6,1237.5" fill="none" stroke="#151515" stroke-width="10.263395441343988" stroke-opacity="0.5" filter="url(#fBlur3)"/>
<path d="M1510.2,1445 Q1517.2,1330 1537.9,1212.1" fill="none" stroke="#151515" stroke-width="9.061714161503147" stroke-opacity="0.5" filter="url(#fBlur3)"/>
<path d="M1529.3,1445 Q1532.9,1330 1524.0,1222.5" fill="none" stroke="#151515" stroke-width="12.773413052259125" stroke-opacity="0.5" filter="url(#fBlur3)"/>
<path d="M1540.8,1445 Q1535.0,1330 1551.9,1213.8" fill="none" stroke="#151515" stroke-width="12.282147272887283" stroke-opacity="0.5" filter="url(#fBlur3)"/>
<path d="M1557.3,1445 Q1565.7,1330 1550.0,1244.3" fill="none" stroke="#151515" stroke-width="11.257862508947301" stroke-opacity="0.5" filter="url(#fBlur3)"/>
<path d="M1577.3,1445 Q1571.6,1330 1557.2,1201.6" fill="none" stroke="#151515" stroke-width="7.264378877591296" stroke-opacity="0.5" filter="url(#fBlur3)"/>
<path d="M1592.7,1445 Q1584.0,1330 1576.9,1228.4" fill="none" stroke="#151515" stroke-width="7.086049373816765" stroke-opacity="0.5" filter="url(#fBlur3)"/>
<path d="M1605.3,1445 Q1599.9,1330 1615.9,1205.9" fill="none" stroke="#151515" stroke-width="12.982658379753396" stroke-opacity="0.5" filter="url(#fBlur3)"/>
<path d="M1624.0,1445 Q1628.2,1330 1627.1,1224.9" fill="none" stroke="#151515" stroke-width="12.794804807723455" stroke-opacity="0.5" filter="url(#fBlur3)"/>
<path d="M1642.9,1445 Q1649.4,1330 1614.7,1229.5" fill="none" stroke="#151515" stroke-width="12.59192199319411" stroke-opacity="0.5" filter="url(#fBlur3)"/>
<path d="M1656.4,1445 Q1656.6,1330 1665.4,1208.9" fill="none" stroke="#151515" stroke-width="11.09387320882626" stroke-opacity="0.5" filter="url(#fBlur3)"/>
<path d="M1673.8,1445 Q1665.3,1330 1674.4,1229.8" fill="none" stroke="#151515" stroke-width="8.4641203693957" stroke-opacity="0.5" filter="url(#fBlur3)"/>
<path d="M1688.8,1445 Q1697.3,1330 1713.2,1215.4" fill="none" stroke="#151515" stroke-width="7.062298661566517" stroke-opacity="0.5" filter="url(#fBlur3)"/>
<path d="M1706.5,1445 Q1708.8,1330 1726.3,1243.4" fill="none" stroke="#151515" stroke-width="7.956112476825368" stroke-opacity="0.5" filter="url(#fBlur3)"/>
<path d="M1719.9,1445 Q1715.9,1330 1737.7,1234.6" fill="none" stroke="#151515" stroke-width="7.673332748435904" stroke-opacity="0.5" filter="url(#fBlur3)"/>
<path d="M1735.0,1445 Q1736.9,1330 1719.0,1209.1" fill="none" stroke="#151515" stroke-width="9.319660857617901" stroke-opacity="0.5" filter="url(#fBlur3)"/>
<rect x="1493.2" y="1075.8" width="252" height="361" filter="url(#fD2)"/></g>
<text x="1652.4" y="1401.2" font-family="'Liberation Serif', 'Times New Roman', serif" font-size="28" font-weight="bold" fill="#fff" textLength="81" lengthAdjust="spacingAndGlyphs" >50 nm</text>
<rect x="1687.8" y="1419.8" width="39.2" height="5.8" fill="#fff" />
<defs><clipPath id="cpSph"><path d="M554.5,1756.0 L546.4,1775.0 L542.4,1793.6 L546.7,1814.3 L530.2,1829.5 L527.5,1849.0 L519.1,1866.6 L508.7,1883.4 L490.7,1894.4 L482.4,1913.2 L465.8,1924.9 L452.6,1940.7 L428.6,1941.0 L417.0,1961.7 L393.3,1958.7 L376.7,1973.3 L355.4,1973.2 L335.5,1980.4 L314.5,1971.9 L294.2,1973.1 L274.7,1967.3 L252.5,1972.8 L233.8,1963.6 L216.9,1952.0 L199.2,1943.1 L183.2,1931.6 L166.1,1921.6 L147.4,1912.5 L134.9,1897.1 L119.1,1884.1 L116.3,1863.2 L96.4,1851.2 L86.3,1833.8 L83.6,1813.9 L79.0,1794.9 L74.6,1775.7 L85.3,1756.0 L80.6,1736.8 L89.0,1718.8 L82.9,1697.9 L92.7,1680.4 L106.6,1665.2 L111.4,1646.2 L118.2,1627.3 L133.6,1613.8 L152.1,1604.0 L158.9,1582.3 L183.4,1580.6 L194.2,1560.8 L211.9,1550.0 L232.7,1545.5 L251.8,1536.9 L273.5,1538.5 L294.4,1540.4 L314.5,1536.0 L335.3,1533.0 L356.1,1535.1 L375.0,1544.7 L397.4,1542.8 L411.0,1562.3 L432.2,1565.1 L445.5,1580.8 L464.4,1588.7 L486.3,1595.1 L490.3,1617.8 L513.4,1625.6 L523.8,1642.9 L530.5,1661.7 L529.3,1682.8 L541.5,1699.0 L549.2,1717.2 L542.8,1737.3 Z"/></clipPath><radialGradient id="gSph" cx="0.5" cy="0.5" r="0.55" fx="0.3" fy="0.3"><stop offset="0" stop-color="#5cb844"/><stop offset="0.6" stop-color="#45a232"/><stop offset="1" stop-color="#2c7420"/></radialGradient>
<linearGradient id="gArr" x1="0" y1="0" x2="1" y2="0"><stop offset="0" stop-color="#8c94d8"/><stop offset="0.45" stop-color="#6a4ea8"/><stop offset="0.7" stop-color="#8ab0e0"/><stop offset="1" stop-color="#9ad0f4"/></linearGradient>
<linearGradient id="gArrV" x1="0" y1="0" x2="0" y2="1"><stop offset="0" stop-color="#9aa4e0"/><stop offset="1" stop-color="#6a50aa"/></linearGradient>
<radialGradient id="gCirG" cx="0.5" cy="0.5" r="0.5"><stop offset="0" stop-color="#5cc434"/><stop offset="0.93" stop-color="#5ac232"/><stop offset="1" stop-color="#3c9a22"/></radialGradient>
<radialGradient id="gCirY" cx="0.3" cy="0.5" r="0.75"><stop offset="0" stop-color="#fde6a6"/><stop offset="0.85" stop-color="#fbe09c"/><stop offset="1" stop-color="#e0b868"/></radialGradient>
</defs>
<g clip-path="url(#cpSph)"><ellipse cx="314.5" cy="1756" rx="236" ry="221" fill="url(#gSph)"/><path d="M328.9,1896.4 L330.2,1928.0 L295.1,1911.7 Z" fill="#4aa636" stroke="#1a4610" stroke-width="1.3" />
<path d="M143.7,1701.3 L174.9,1652.0 L240.0,1709.3 Z" fill="#68c450" stroke="#1a4610" stroke-width="1.3" />
<path d="M256.9,1832.2 L260.7,1867.8 L204.9,1866.0 Z" fill="#2e7a1e" stroke="#1a4610" stroke-width="1.3" />
<path d="M538.7,1605.9 L541.8,1665.6 L463.0,1644.5 Z" fill="#57b53e" stroke="#1a4610" stroke-width="1.3" />
<path d="M484.9,1686.8 L513.4,1633.5 L563.8,1676.9 Z" fill="#45a032" stroke="#1a4610" stroke-width="1.3" />
<path d="M362.2,1552.4 L344.3,1609.9 L278.6,1577.4 Z" fill="#2a6a1a" stroke="#1a4610" stroke-width="1.3" />
<path d="M553.1,1662.1 L474.1,1688.8 L492.2,1631.8 Z" fill="#5cb844" stroke="#1a4610" stroke-width="1.3" />
<path d="M463.1,1646.7 L474.2,1693.0 L412.7,1679.1 Z" fill="#2a6a1a" stroke="#1a4610" stroke-width="1.3" />
<path d="M430.9,1696.9 L375.0,1686.1 L425.2,1657.6 Z" fill="#2e7a1e" stroke="#1a4610" stroke-width="1.3" />
<path d="M299.6,1693.7 L235.8,1691.0 L270.1,1655.0 Z" fill="#57b53e" stroke="#1a4610" stroke-width="1.3" />
<path d="M268.5,1788.1 L255.3,1740.7 L329.2,1747.7 Z" fill="#2a6a1a" stroke="#1a4610" stroke-width="1.3" />
<path d="M100.3,1915.1 L99.7,1853.3 L173.5,1892.7 Z" fill="#57b53e" stroke="#1a4610" stroke-width="1.3" />
<path d="M418.5,1685.3 L369.0,1697.8 L391.0,1655.8 Z" fill="#2e7a1e" stroke="#1a4610" stroke-width="1.3" />
<path d="M279.3,1872.7 L313.7,1917.3 L250.7,1917.7 Z" fill="#45a032" stroke="#1a4610" stroke-width="1.3" />
<path d="M265.4,1757.8 L301.2,1721.9 L337.0,1774.1 Z" fill="#45a032" stroke="#1a4610" stroke-width="1.3" />
<path d="M177.2,1614.0 L173.4,1645.2 L132.6,1627.5 Z" fill="#5cb844" stroke="#1a4610" stroke-width="1.3" />
<path d="M428.3,1630.7 L394.5,1646.0 L393.3,1617.9 Z" fill="#45a032" stroke="#1a4610" stroke-width="1.3" />
<path d="M377.0,1964.7 L343.4,1928.9 L405.2,1925.2 Z" fill="#3a8c28" stroke="#1a4610" stroke-width="1.3" />
<path d="M359.6,1678.0 L320.4,1661.0 L363.2,1644.4 Z" fill="#2e7a1e" stroke="#1a4610" stroke-width="1.3" />
<path d="M214.5,1963.0 L174.4,1950.2 L211.4,1925.8 Z" fill="#2a6a1a" stroke="#1a4610" stroke-width="1.3" />
<path d="M452.4,1849.9 L526.2,1832.5 L494.8,1879.6 Z" fill="#3a8c28" stroke="#1a4610" stroke-width="1.3" />
<path d="M423.1,1768.1 L467.3,1797.7 L419.1,1802.9 Z" fill="#2a6a1a" stroke="#1a4610" stroke-width="1.3" />
<path d="M61.2,1742.5 L139.2,1768.1 L64.8,1796.3 Z" fill="#5cb844" stroke="#1a4610" stroke-width="1.3" />
<path d="M303.1,1548.1 L352.9,1553.5 L317.0,1585.1 Z" fill="#68c450" stroke="#1a4610" stroke-width="1.3" />
<path d="M216.2,1856.7 L279.9,1855.3 L253.9,1891.6 Z" fill="#2a6a1a" stroke="#1a4610" stroke-width="1.3" />
<path d="M489.8,1667.8 L527.4,1693.5 L488.4,1701.8 Z" fill="#2a6a1a" stroke="#1a4610" stroke-width="1.3" />
<path d="M252.3,1672.9 L204.7,1682.0 L218.7,1648.0 Z" fill="#57b53e" stroke="#1a4610" stroke-width="1.3" />
<path d="M344.9,1812.8 L338.4,1864.0 L273.4,1844.4 Z" fill="#77cc5c" stroke="#1a4610" stroke-width="1.3" />
<path d="M553.8,1760.0 L515.6,1764.4 L531.5,1738.5 Z" fill="#4aa636" stroke="#1a4610" stroke-width="1.3" />
<path d="M262.0,1534.9 L302.8,1558.3 L250.3,1572.1 Z" fill="#45a032" stroke="#1a4610" stroke-width="1.3" />
<path d="M197.1,1887.2 L162.4,1907.0 L159.6,1878.5 Z" fill="#2e7a1e" stroke="#1a4610" stroke-width="1.3" />
<path d="M369.7,1806.4 L361.0,1768.5 L420.4,1786.7 Z" fill="#77cc5c" stroke="#1a4610" stroke-width="1.3" />
<path d="M235.2,1928.2 L279.6,1953.5 L218.7,1961.0 Z" fill="#3a8c28" stroke="#1a4610" stroke-width="1.3" />
<path d="M303.0,1611.5 L358.2,1624.6 L311.7,1652.0 Z" fill="#68c450" stroke="#1a4610" stroke-width="1.3" />
<path d="M395.1,1609.5 L344.5,1632.0 L339.6,1586.1 Z" fill="#57b53e" stroke="#1a4610" stroke-width="1.3" />
<path d="M353.9,1578.5 L433.9,1594.9 L373.0,1644.3 Z" fill="#4aa636" stroke="#1a4610" stroke-width="1.3" />
<path d="M449.9,1544.6 L473.4,1600.0 L391.1,1592.1 Z" fill="#45a032" stroke="#1a4610" stroke-width="1.3" />
<path d="M227.4,1876.5 L213.3,1912.1 L177.3,1888.2 Z" fill="#57b53e" stroke="#1a4610" stroke-width="1.3" />
<path d="M377.0,1712.9 L451.4,1713.0 L394.6,1762.8 Z" fill="#45a032" stroke="#1a4610" stroke-width="1.3" />
<path d="M504.1,1732.1 L476.3,1763.3 L448.2,1722.2 Z" fill="#2a6a1a" stroke="#1a4610" stroke-width="1.3" />
<path d="M142.1,1895.1 L101.4,1849.0 L178.5,1848.3 Z" fill="#57b53e" stroke="#1a4610" stroke-width="1.3" />
<path d="M282.9,1844.5 L365.6,1863.4 L284.3,1904.9 Z" fill="#57b53e" stroke="#1a4610" stroke-width="1.3" />
<path d="M334.9,1753.0 L361.7,1778.7 L319.9,1781.0 Z" fill="#45a032" stroke="#1a4610" stroke-width="1.3" />
<path d="M262.9,1613.0 L298.2,1596.8 L298.0,1631.7 Z" fill="#77cc5c" stroke="#1a4610" stroke-width="1.3" />
<path d="M232.6,1725.6 L195.9,1705.3 L241.1,1694.3 Z" fill="#2a6a1a" stroke="#1a4610" stroke-width="1.3" />
<path d="M126.1,1809.5 L78.4,1804.5 L114.1,1775.3 Z" fill="#5cb844" stroke="#1a4610" stroke-width="1.3" />
<path d="M252.5,1693.0 L172.4,1695.4 L220.9,1648.0 Z" fill="#57b53e" stroke="#1a4610" stroke-width="1.3" />
<path d="M254.5,1629.8 L296.9,1632.8 L270.2,1660.8 Z" fill="#2a6a1a" stroke="#1a4610" stroke-width="1.3" />
<path d="M225.8,1660.4 L203.3,1634.9 L247.0,1635.9 Z" fill="#45a032" stroke="#1a4610" stroke-width="1.3" />
<path d="M317.8,1789.4 L268.9,1777.8 L310.2,1757.6 Z" fill="#5cb844" stroke="#1a4610" stroke-width="1.3" />
<path d="M371.7,1564.4 L340.2,1541.7 L384.2,1529.5 Z" fill="#45a032" stroke="#1a4610" stroke-width="1.3" />
<path d="M282.4,1770.4 L270.4,1803.2 L237.9,1775.7 Z" fill="#2e7a1e" stroke="#1a4610" stroke-width="1.3" />
<path d="M364.0,1579.6 L384.1,1634.0 L296.9,1624.8 Z" fill="#5cb844" stroke="#1a4610" stroke-width="1.3" />
<path d="M470.1,1720.7 L443.1,1748.7 L420.2,1723.3 Z" fill="#4aa636" stroke="#1a4610" stroke-width="1.3" />
<path d="M172.2,1763.3 L120.4,1778.2 L128.0,1737.0 Z" fill="#57b53e" stroke="#1a4610" stroke-width="1.3" />
<path d="M499.0,1856.8 L430.8,1884.5 L437.0,1834.6 Z" fill="#4aa636" stroke="#1a4610" stroke-width="1.3" />
<path d="M444.5,1823.6 L443.6,1776.8 L496.1,1802.2 Z" fill="#2e7a1e" stroke="#1a4610" stroke-width="1.3" />
<path d="M107.9,1886.1 L114.0,1848.1 L157.2,1868.4 Z" fill="#5cb844" stroke="#1a4610" stroke-width="1.3" />
<path d="M393.5,1920.4 L414.2,1893.1 L442.1,1919.6 Z" fill="#3a8c28" stroke="#1a4610" stroke-width="1.3" />
<path d="M356.5,1897.8 L330.0,1915.5 L317.9,1886.3 Z" fill="#4aa636" stroke="#1a4610" stroke-width="1.3" />
<path d="M426.9,1605.5 L506.6,1600.2 L486.3,1643.5 Z" fill="#77cc5c" stroke="#1a4610" stroke-width="1.3" />
<path d="M527.8,1714.3 L513.5,1742.7 L481.5,1717.6 Z" fill="#2e7a1e" stroke="#1a4610" stroke-width="1.3" />
<path d="M263.6,1781.7 L224.1,1791.5 L236.8,1764.3 Z" fill="#77cc5c" stroke="#1a4610" stroke-width="1.3" />
<path d="M223.9,1573.1 L300.7,1590.6 L230.6,1627.6 Z" fill="#2a6a1a" stroke="#1a4610" stroke-width="1.3" />
<path d="M69.6,1779.1 L118.4,1795.2 L71.6,1819.8 Z" fill="#68c450" stroke="#1a4610" stroke-width="1.3" />
<path d="M460.7,1830.8 L514.8,1785.6 L538.5,1841.6 Z" fill="#2a6a1a" stroke="#1a4610" stroke-width="1.3" />
<path d="M497.6,1787.5 L552.4,1750.5 L571.0,1801.0 Z" fill="#3a8c28" stroke="#1a4610" stroke-width="1.3" />
<path d="M453.7,1829.0 L510.2,1833.7 L483.7,1873.0 Z" fill="#2a6a1a" stroke="#1a4610" stroke-width="1.3" />
<path d="M34.1,1765.0 L109.1,1730.0 L116.2,1784.0 Z" fill="#5cb844" stroke="#1a4610" stroke-width="1.3" />
<path d="M447.3,1718.2 L434.5,1748.1 L406.0,1734.6 Z" fill="#4aa636" stroke="#1a4610" stroke-width="1.3" />
<path d="M120.4,1794.7 L199.4,1766.2 L168.6,1821.8 Z" fill="#2a6a1a" stroke="#1a4610" stroke-width="1.3" />
<path d="M401.8,1968.7 L365.7,1962.6 L392.7,1944.7 Z" fill="#2e7a1e" stroke="#1a4610" stroke-width="1.3" />
<path d="M331.1,1514.7 L350.5,1580.1 L268.0,1549.9 Z" fill="#57b53e" stroke="#1a4610" stroke-width="1.3" />
<path d="M511.9,1692.6 L508.1,1723.1 L475.1,1705.0 Z" fill="#77cc5c" stroke="#1a4610" stroke-width="1.3" />
<path d="M433.8,1802.9 L365.0,1814.8 L376.2,1769.7 Z" fill="#4aa636" stroke="#1a4610" stroke-width="1.3" />
<path d="M325.4,1827.2 L338.8,1792.9 L371.9,1815.0 Z" fill="#3a8c28" stroke="#1a4610" stroke-width="1.3" />
<path d="M402.1,1745.1 L350.0,1720.7 L411.7,1697.5 Z" fill="#68c450" stroke="#1a4610" stroke-width="1.3" />
<path d="M395.6,1777.6 L348.2,1742.9 L408.7,1738.6 Z" fill="#77cc5c" stroke="#1a4610" stroke-width="1.3" />
<path d="M287.7,1663.6 L338.7,1679.0 L301.6,1701.1 Z" fill="#45a032" stroke="#1a4610" stroke-width="1.3" />
<path d="M261.5,1818.3 L278.4,1880.7 L188.9,1858.1 Z" fill="#5cb844" stroke="#1a4610" stroke-width="1.3" />
<path d="M110.1,1887.0 L130.1,1865.7 L150.9,1891.4 Z" fill="#2a6a1a" stroke="#1a4610" stroke-width="1.3" />
<path d="M467.2,1878.5 L520.9,1899.7 L454.7,1923.9 Z" fill="#4aa636" stroke="#1a4610" stroke-width="1.3" />
<path d="M212.5,1527.0 L258.7,1578.7 L182.6,1576.1 Z" fill="#2a6a1a" stroke="#1a4610" stroke-width="1.3" />
<path d="M464.1,1731.4 L445.2,1751.8 L427.7,1722.7 Z" fill="#68c450" stroke="#1a4610" stroke-width="1.3" />
<path d="M49.2,1771.4 L73.8,1739.0 L106.5,1779.8 Z" fill="#57b53e" stroke="#1a4610" stroke-width="1.3" />
<path d="M320.7,1987.0 L291.3,1937.5 L369.9,1947.6 Z" fill="#3a8c28" stroke="#1a4610" stroke-width="1.3" />
<path d="M467.7,1952.7 L389.0,1970.6 L419.0,1920.5 Z" fill="#2a6a1a" stroke="#1a4610" stroke-width="1.3" />
<path d="M187.2,1824.6 L237.9,1784.4 L260.3,1837.2 Z" fill="#2e7a1e" stroke="#1a4610" stroke-width="1.3" />
<path d="M204.9,1673.7 L173.6,1648.7 L214.6,1641.2 Z" fill="#57b53e" stroke="#1a4610" stroke-width="1.3" />
<path d="M85.2,1696.4 L144.6,1671.6 L129.8,1715.0 Z" fill="#2a6a1a" stroke="#1a4610" stroke-width="1.3" />
<path d="M331.2,1754.0 L392.5,1726.7 L389.2,1774.3 Z" fill="#5cb844" stroke="#1a4610" stroke-width="1.3" />
<path d="M383.2,1683.3 L359.2,1650.1 L418.7,1655.8 Z" fill="#2e7a1e" stroke="#1a4610" stroke-width="1.3" />
<path d="M358.6,1877.4 L393.3,1914.1 L329.6,1914.2 Z" fill="#3a8c28" stroke="#1a4610" stroke-width="1.3" />
<path d="M246.0,1573.6 L238.2,1601.4 L205.7,1586.0 Z" fill="#77cc5c" stroke="#1a4610" stroke-width="1.3" />
<path d="M385.9,1656.1 L343.2,1649.0 L380.0,1620.8 Z" fill="#45a032" stroke="#1a4610" stroke-width="1.3" />
<path d="M300.3,1549.9 L291.6,1599.5 L234.9,1567.8 Z" fill="#77cc5c" stroke="#1a4610" stroke-width="1.3" />
<path d="M358.2,1800.6 L412.3,1838.9 L339.9,1851.9 Z" fill="#45a032" stroke="#1a4610" stroke-width="1.3" />
<path d="M428.6,1589.4 L485.0,1614.2 L438.6,1636.8 Z" fill="#3a8c28" stroke="#1a4610" stroke-width="1.3" />
<path d="M141.2,1744.7 L161.1,1776.7 L114.2,1767.5 Z" fill="#5cb844" stroke="#1a4610" stroke-width="1.3" />
<path d="M432.8,1663.3 L474.3,1660.3 L451.9,1687.2 Z" fill="#5cb844" stroke="#1a4610" stroke-width="1.3" />
<path d="M216.4,1877.2 L253.5,1907.6 L196.4,1912.1 Z" fill="#5cb844" stroke="#1a4610" stroke-width="1.3" />
<path d="M404.0,1571.0 L445.0,1597.5 L386.6,1613.5 Z" fill="#68c450" stroke="#1a4610" stroke-width="1.3" />
<path d="M282.4,1614.7 L334.8,1642.7 L277.7,1661.4 Z" fill="#77cc5c" stroke="#1a4610" stroke-width="1.3" />
<path d="M531.0,1813.4 L491.2,1777.9 L553.8,1773.6 Z" fill="#4aa636" stroke="#1a4610" stroke-width="1.3" />
<path d="M441.4,1557.8 L400.2,1585.5 L384.7,1551.7 Z" fill="#45a032" stroke="#1a4610" stroke-width="1.3" />
<path d="M222.9,1930.8 L277.6,1924.1 L252.7,1958.4 Z" fill="#2a6a1a" stroke="#1a4610" stroke-width="1.3" />
<path d="M254.6,1831.1 L212.2,1831.4 L229.0,1803.8 Z" fill="#3a8c28" stroke="#1a4610" stroke-width="1.3" />
<path d="M191.9,1887.4 L207.7,1943.8 L130.4,1903.5 Z" fill="#4aa636" stroke="#1a4610" stroke-width="1.3" />
<path d="M378.0,1623.9 L406.4,1652.6 L362.1,1652.5 Z" fill="#5cb844" stroke="#1a4610" stroke-width="1.3" />
<path d="M455.5,1620.7 L382.5,1603.4 L427.6,1568.7 Z" fill="#2a6a1a" stroke="#1a4610" stroke-width="1.3" />
<ellipse cx="316.2" cy="1755.5" rx="230.0" ry="217.4" fill="none" stroke="#17400d" stroke-width="1.6" stroke-dasharray="70,25"/><ellipse cx="312.8" cy="1760.0" rx="222.1" ry="209.5" fill="none" stroke="#17400d" stroke-width="1.6" stroke-dasharray="51,43"/><ellipse cx="312.9" cy="1755.4" rx="216.1" ry="197.1" fill="none" stroke="#17400d" stroke-width="1.6" stroke-dasharray="119,51"/><ellipse cx="312.2" cy="1755.7" rx="204.0" ry="192.8" fill="none" stroke="#17400d" stroke-width="1.6" stroke-dasharray="116,53"/><ellipse cx="315.1" cy="1755.0" rx="193.3" ry="182.9" fill="none" stroke="#17400d" stroke-width="1.6" stroke-dasharray="76,20"/><ellipse cx="312.1" cy="1753.4" rx="188.5" ry="173.3" fill="none" stroke="#17400d" stroke-width="1.6" stroke-dasharray="55,36"/><ellipse cx="316.8" cy="1752.4" rx="175.2" ry="160.8" fill="none" stroke="#17400d" stroke-width="1.6" stroke-dasharray="86,60"/><path d="M263.0,1660.0 L300.0,1645.0 L350.0,1662.0 L400.0,1648.0 L450.0,1668.0 L495.0,1700.0 L482.0,1745.0 L505.0,1792.0 L452.0,1804.0 L420.0,1792.0 L390.0,1815.0 L340.0,1795.0 L300.0,1778.0 L268.0,1742.0 L248.0,1702.0 Z" fill="#040604" />
<path d="M469.1,1667.9 L450.2,1673.1 L452.2,1660.7 Z" fill="#3a8c28" stroke="#1e4a12" stroke-width="1" />
<path d="M496.3,1759.5 L475.6,1772.3 L467.7,1755.1 Z" fill="#4aa636" stroke="#1e4a12" stroke-width="1" />
<path d="M468.2,1760.7 L474.5,1777.8 L446.6,1772.4 Z" fill="#4aa636" stroke="#1e4a12" stroke-width="1" />
<path d="M307.6,1677.0 L273.4,1676.4 L291.6,1659.0 Z" fill="#4aa636" stroke="#1e4a12" stroke-width="1" />
<path d="M450.9,1776.5 L465.5,1762.6 L478.1,1777.2 Z" fill="#2e7a1e" stroke="#1e4a12" stroke-width="1" />
<path d="M358.4,1685.7 L371.7,1706.7 L334.7,1703.0 Z" fill="#2e7a1e" stroke="#1e4a12" stroke-width="1" />
<path d="M386.4,1714.3 L367.6,1703.0 L393.3,1699.0 Z" fill="#5cb844" stroke="#1e4a12" stroke-width="1" />
<path d="M429.0,1739.0 L400.8,1754.2 L393.1,1731.9 Z" fill="#4aa636" stroke="#1e4a12" stroke-width="1" />
<path d="M470.2,1698.9 L445.8,1709.0 L443.6,1691.3 Z" fill="#2e7a1e" stroke="#1e4a12" stroke-width="1" />
<path d="M334.6,1698.8 L313.4,1691.3 L334.9,1684.1 Z" fill="#4aa636" stroke="#1e4a12" stroke-width="1" />
<path d="M402.4,1767.6 L406.9,1748.2 L432.5,1760.3 Z" fill="#4aa636" stroke="#1e4a12" stroke-width="1" />
<path d="M293.3,1761.8 L304.0,1751.0 L314.1,1762.0 Z" fill="#5cb844" stroke="#1e4a12" stroke-width="1" />
<path d="M407,1697 Q463,1685 486,1720" fill="none" stroke="#6ad048" stroke-width="2.4" />
<path d="M254,1781 Q241,1757 202,1711" fill="none" stroke="#6ad048" stroke-width="2.4" />
<path d="M490,1818 Q482,1815 510,1852" fill="none" stroke="#6ad048" stroke-width="2.4" />
<path d="M267,1676 Q323,1673 361,1647" fill="none" stroke="#6ad048" stroke-width="2.4" />
<path d="M434,1635 Q506,1609 521,1601" fill="none" stroke="#6ad048" stroke-width="2.4" />
<path d="M206,1824 Q146,1837 123,1880" fill="none" stroke="#6ad048" stroke-width="2.4" />
<path d="M276,1664 Q357,1687 381,1740" fill="none" stroke="#6ad048" stroke-width="2.4" />
<path d="M386,1724 Q393,1772 438,1790" fill="none" stroke="#6ad048" stroke-width="2.4" />
<path d="M328,1777 Q368,1835 379,1850" fill="none" stroke="#6ad048" stroke-width="2.4" />
<path d="M369,1813 Q339,1786 353,1751" fill="none" stroke="#6ad048" stroke-width="2.4" />
<path d="M409,1820 Q436,1841 431,1835" fill="none" stroke="#6ad048" stroke-width="2.4" />
<path d="M260,1671 Q226,1665 156,1674" fill="none" stroke="#6ad048" stroke-width="2.4" />
<path d="M402,1659 Q350,1638 357,1587" fill="none" stroke="#6ad048" stroke-width="2.4" />
<path d="M408,1771 Q455,1765 512,1744" fill="none" stroke="#6ad048" stroke-width="2.4" />
<path d="M421,1681 Q416,1677 450,1651" fill="none" stroke="#6ad048" stroke-width="2.4" />
<path d="M394,1688 Q445,1670 512,1669" fill="none" stroke="#6ad048" stroke-width="2.4" />
<path d="M443,1780 Q472,1726 468,1727" fill="none" stroke="#6ad048" stroke-width="2.4" />
<path d="M333,1814 Q331,1751 370,1739" fill="none" stroke="#6ad048" stroke-width="2.4" />
<path d="M490,1777 Q539,1773 537,1756" fill="none" stroke="#6ad048" stroke-width="2.4" />
<path d="M368,1848 Q372,1893 346,1905" fill="none" stroke="#6ad048" stroke-width="2.4" />
<path d="M271,1795 Q252,1818 201,1821" fill="none" stroke="#6ad048" stroke-width="2.4" />
<path d="M446,1724 Q396,1758 362,1759" fill="none" stroke="#6ad048" stroke-width="2.4" />
<path d="M395,1703 Q413,1681 429,1630" fill="none" stroke="#6ad048" stroke-width="2.4" />
<path d="M221,1785 Q289,1815 338,1823" fill="none" stroke="#6ad048" stroke-width="2.4" />
<path d="M414,1771 Q419,1745 459,1727" fill="none" stroke="#6ad048" stroke-width="2.4" />
<path d="M342,1778 Q306,1810 238,1788" fill="none" stroke="#6ad048" stroke-width="2.4" />
<path d="M388,1690 Q414,1664 484,1672" fill="none" stroke="#6ad048" stroke-width="2.4" />
<path d="M221,1637 Q195,1630 147,1573" fill="none" stroke="#6ad048" stroke-width="2.4" />
<path d="M222,1716 Q219,1750 184,1750" fill="none" stroke="#6ad048" stroke-width="2.4" />
<path d="M491,1731 Q489,1744 542,1769" fill="none" stroke="#6ad048" stroke-width="2.4" />
<ellipse cx="357" cy="1674" rx="4.5" ry="3" fill="#e8d890" transform="rotate(-39 357 1674)"/><ellipse cx="489" cy="1674" rx="4.5" ry="3" fill="#e8d890" transform="rotate(59 489 1674)"/><ellipse cx="167" cy="1730" rx="4.5" ry="3" fill="#e8d890" transform="rotate(-33 167 1730)"/><ellipse cx="136" cy="1744" rx="4.5" ry="3" fill="#e8d890" transform="rotate(1 136 1744)"/><ellipse cx="221" cy="1620" rx="4.5" ry="3" fill="#e8d890" transform="rotate(-44 221 1620)"/><ellipse cx="214" cy="1651" rx="4.5" ry="3" fill="#e8d890" transform="rotate(6 214 1651)"/><ellipse cx="410" cy="1621" rx="4.5" ry="3" fill="#e8d890" transform="rotate(-39 410 1621)"/><ellipse cx="362" cy="1677" rx="4.5" ry="3" fill="#e8d890" transform="rotate(1 362 1677)"/><ellipse cx="183" cy="1799" rx="4.5" ry="3" fill="#e8d890" transform="rotate(20 183 1799)"/><ellipse cx="418" cy="1913" rx="4.5" ry="3" fill="#e8d890" transform="rotate(-17 418 1913)"/><ellipse cx="466" cy="1683" rx="4.5" ry="3" fill="#e8d890" transform="rotate(-22 466 1683)"/><ellipse cx="310" cy="1683" rx="4.5" ry="3" fill="#e8d890" transform="rotate(4 310 1683)"/><ellipse cx="292" cy="1837" rx="4.5" ry="3" fill="#e8d890" transform="rotate(-24 292 1837)"/><ellipse cx="455" cy="1661" rx="4.5" ry="3" fill="#e8d890" transform="rotate(-57 455 1661)"/><ellipse cx="358" cy="1860" rx="4.5" ry="3" fill="#e8d890" transform="rotate(-8 358 1860)"/><ellipse cx="483" cy="1863" rx="4.5" ry="3" fill="#e8d890" transform="rotate(43 483 1863)"/><ellipse cx="373" cy="1842" rx="4.5" ry="3" fill="#e8d890" transform="rotate(-23 373 1842)"/><ellipse cx="301" cy="1713" rx="4.5" ry="3" fill="#e8d890" transform="rotate(51 301 1713)"/><ellipse cx="270" cy="1563" rx="4.5" ry="3" fill="#e8d890" transform="rotate(22 270 1563)"/><ellipse cx="414" cy="1774" rx="4.5" ry="3" fill="#e8d890" transform="rotate(-4 414 1774)"/><ellipse cx="241" cy="1683" rx="4.5" ry="3" fill="#e8d890" transform="rotate(50 241 1683)"/><ellipse cx="275" cy="1566" rx="4.5" ry="3" fill="#e8d890" transform="rotate(35 275 1566)"/><ellipse cx="393" cy="1857" rx="4.5" ry="3" fill="#e8d890" transform="rotate(35 393 1857)"/><ellipse cx="262" cy="1930" rx="4.5" ry="3" fill="#e8d890" transform="rotate(23 262 1930)"/><ellipse cx="350" cy="1858" rx="4.5" ry="3" fill="#e8d890" transform="rotate(57 350 1858)"/><ellipse cx="190" cy="1725" rx="4.5" ry="3" fill="#e8d890" transform="rotate(-23 190 1725)"/><ellipse cx="281" cy="1777" rx="4.5" ry="3" fill="#e8d890" transform="rotate(22 281 1777)"/><ellipse cx="411" cy="1825" rx="4.5" ry="3" fill="#e8d890" transform="rotate(-25 411 1825)"/></g>
<path d="M370,1828 C372,1900 420,1962 520,1962 C590,1962 640,1915 660,1880 L628,1886 L676.5,1829.5 L697,1884 L680,1884 C660,1930 600,1978 520,1978 C410,1978 400,1900 404,1828 Z" fill="url(#gArr)" />
<circle cx="379.4" cy="1809.7" r="16.5" fill="none" stroke="#fff" stroke-width="4.5" />
<ellipse cx="857.5" cy="1755" rx="226.5" ry="219.5" fill="url(#gCirG)"/><clipPath id="cpBig"><ellipse cx="857.5" cy="1755" rx="226.5" ry="219.5"/></clipPath><g clip-path="url(#cpBig)"><path d="M856.7,1535.7 L835.7,1586.5 L818.2,1644.2 L884.6,1699.0 L830.4,1796.3 L916.0,1833.0 L856.7,1971.2 L860.0,1980.0 L1090.0,1980.0 L1090.0,1530.0 L860.0,1530.0 Z" fill="url(#gCirY)" />
<path d="M861.7,1537.7 L840.7,1588.5 L823.2,1646.2 L889.6,1701.0 L835.4,1798.3 L921.0,1835.0 L861.7,1973.2" fill="none" stroke="#e8c070" stroke-width="5" stroke-opacity="0.8"/>
</g><ellipse cx="857.5" cy="1755" rx="225" ry="218" fill="none" stroke="#c8a050" stroke-width="3" stroke-opacity="0.35"/><text x="795.0" y="1588.0" font-family="'Liberation Serif', 'Times New Roman', serif" font-size="40" fill="#111" >e<tspan font-size="22" dy="-16">-</tspan></text>
<text x="781.0" y="1639.0" font-family="'Liberation Serif', 'Times New Roman', serif" font-size="40" fill="#111" >e<tspan font-size="22" dy="-16">-</tspan></text>
<text x="828.4" y="1695.0" font-family="'Liberation Serif', 'Times New Roman', serif" font-size="40" fill="#111" >e<tspan font-size="22" dy="-16">-</tspan></text>
<text x="816.0" y="1761.0" font-family="'Liberation Serif', 'Times New Roman', serif" font-size="40" fill="#111" >e<tspan font-size="22" dy="-16">-</tspan></text>
<text x="853.0" y="1836.5" font-family="'Liberation Serif', 'Times New Roman', serif" font-size="40" fill="#111" >e<tspan font-size="22" dy="-16">-</tspan></text>
<text x="853.0" y="1892.5" font-family="'Liberation Serif', 'Times New Roman', serif" font-size="40" fill="#111" >e<tspan font-size="22" dy="-16">-</tspan></text>
<text x="828.4" y="1948.5" font-family="'Liberation Serif', 'Times New Roman', serif" font-size="40" fill="#111" >e<tspan font-size="22" dy="-16">-</tspan></text>
<text x="853.0" y="1590.0" font-family="'Liberation Serif', 'Times New Roman', serif" font-size="38" fill="#111" >Li<tspan font-size="22" dy="-16">+</tspan></text>
<text x="841.0" y="1639.0" font-family="'Liberation Serif', 'Times New Roman', serif" font-size="38" fill="#111" >Li<tspan font-size="22" dy="-16">+</tspan></text>
<text x="877.7" y="1679.0" font-family="'Liberation Serif', 'Times New Roman', serif" font-size="38" fill="#111" >Li<tspan font-size="22" dy="-16">+</tspan></text>
<text x="876.0" y="1768.0" font-family="'Liberation Serif', 'Times New Roman', serif" font-size="38" fill="#111" >Li<tspan font-size="22" dy="-16">+</tspan></text>
<text x="900.0" y="1814.0" font-family="'Liberation Serif', 'Times New Roman', serif" font-size="38" fill="#111" >Li<tspan font-size="22" dy="-16">+</tspan></text>
<text x="923.0" y="1873.0" font-family="'Liberation Serif', 'Times New Roman', serif" font-size="38" fill="#111" >Li<tspan font-size="22" dy="-16">+</tspan></text>
<text x="888.0" y="1938.0" font-family="'Liberation Serif', 'Times New Roman', serif" font-size="38" fill="#111" >Li<tspan font-size="22" dy="-16">+</tspan></text>
<text x="912.6" y="1721.0" font-family="'Liberation Serif', 'Times New Roman', serif" font-size="45" fill="#111" textLength="138" lengthAdjust="spacingAndGlyphs" >TiO<tspan font-size="28" dy="10">2</tspan><tspan dy="-10">-B</tspan></text>
<text x="643.3" y="1764.8" font-family="'Liberation Serif', 'Times New Roman', serif" font-size="45" fill="#111" textLength="152" lengthAdjust="spacingAndGlyphs" >Anatase</text>
<rect x="30.5" y="28.3" width="1124.5" height="955.7" fill="none" stroke="#1a1a1a" stroke-width="2.2" />
<rect x="1167.0" y="30.5" width="1254.4" height="951.4" fill="none" stroke="#1a1a1a" stroke-width="2.2" />
<rect x="31.0" y="1015.0" width="1125.7" height="458.0" fill="none" stroke="#1a1a1a" stroke-width="2.2" />
<rect x="1183.8" y="1011.3" width="1237.6" height="465.1" fill="none" stroke="#1a1a1a" stroke-width="2.2" />
<rect x="21.9" y="1501.9" width="2423.7" height="497.8" fill="none" stroke="#1a1a1a" stroke-width="2.2" />
<text x="41.0" y="100.0" font-family="'Liberation Sans', Arial, sans-serif" font-size="55" textLength="1091" lengthAdjust="spacingAndGlyphs" stroke="#000" stroke-width="1.9">a- Anatase hollow spheres assembled with {001} facets</text>
<text x="1188.0" y="96.7" font-family="'Liberation Sans', Arial, sans-serif" font-size="53.6" textLength="816.6" lengthAdjust="spacingAndGlyphs" stroke="#000" stroke-width="1.9">b- Rutile nanoparticles with quantum pits</text>
<text x="42.5" y="1067.6" font-family="'Liberation Sans', Arial, sans-serif" font-size="55" textLength="505.5" lengthAdjust="spacingAndGlyphs" stroke="#000" stroke-width="1.9">c- Brookite nanoparticles</text>
<text x="1197.8" y="1056.8" font-family="'Liberation Sans', Arial, sans-serif" font-size="52" textLength="1194" lengthAdjust="spacingAndGlyphs" stroke="#000" stroke-width="1.9">d- TiO<tspan font-size="34" dy="15">2</tspan><tspan dy="-15">(B) porous nanosheets assembled bunchy structures</tspan></text>
<path d="M154.2,674.6 L161.5,674.6 L168.8,674.6 L176.2,674.6 L183.5,674.6 L190.8,674.6 L198.1,674.6 L205.5,674.6 L212.8,674.6 L220.1,674.6 L227.5,674.6 L234.8,674.6 L242.1,674.6 L249.4,674.6 L256.8,674.6 L264.1,674.6 L271.4,674.6 L278.8,674.6 L286.1,674.6 L293.4,674.6 L300.8,674.6 L308.1,674.6 L315.4,674.6 L322.8,674.6 L330.1,674.6 L337.4,674.6 L344.7,672.4 L352.1,672.4 L359.4,672.4 L366.7,672.4 L374.1,672.4 L381.4,672.4 L388.7,672.4 L396.1,672.4 L403.4,672.4 L410.7,672.4 L418.0,672.4 L425.4,672.4 L432.7,672.4 L440.0,672.4 L447.4,672.4 L454.7,672.4 L462.0,672.4 L469.4,672.4 L476.7,672.4 L484.0,672.4 L491.3,672.4 L498.7,672.4 L506.0,672.4" fill="none" stroke="#333" stroke-width="1" />
<line x1="154.2" y1="667.6" x2="154.2" y2="681.6" stroke="#333" stroke-width="1.3" />
<line x1="150.2" y1="674.6" x2="158.2" y2="674.6" stroke="#333" stroke-width="1.3" />
<line x1="161.5" y1="667.6" x2="161.5" y2="681.6" stroke="#333" stroke-width="1.3" />
<line x1="157.5" y1="674.6" x2="165.5" y2="674.6" stroke="#333" stroke-width="1.3" />
<line x1="168.8" y1="667.6" x2="168.8" y2="681.6" stroke="#333" stroke-width="1.3" />
<line x1="164.8" y1="674.6" x2="172.8" y2="674.6" stroke="#333" stroke-width="1.3" />
<line x1="176.2" y1="667.6" x2="176.2" y2="681.6" stroke="#333" stroke-width="1.3" />
<line x1="172.2" y1="674.6" x2="180.2" y2="674.6" stroke="#333" stroke-width="1.3" />
<line x1="183.5" y1="667.6" x2="183.5" y2="681.6" stroke="#333" stroke-width="1.3" />
<line x1="179.5" y1="674.6" x2="187.5" y2="674.6" stroke="#333" stroke-width="1.3" />
<line x1="190.8" y1="667.6" x2="190.8" y2="681.6" stroke="#333" stroke-width="1.3" />
<line x1="186.8" y1="674.6" x2="194.8" y2="674.6" stroke="#333" stroke-width="1.3" />
<line x1="198.1" y1="667.6" x2="198.1" y2="681.6" stroke="#333" stroke-width="1.3" />
<line x1="194.1" y1="674.6" x2="202.1" y2="674.6" stroke="#333" stroke-width="1.3" />
<line x1="205.5" y1="667.6" x2="205.5" y2="681.6" stroke="#333" stroke-width="1.3" />
<line x1="201.5" y1="674.6" x2="209.5" y2="674.6" stroke="#333" stroke-width="1.3" />
<line x1="212.8" y1="667.6" x2="212.8" y2="681.6" stroke="#333" stroke-width="1.3" />
<line x1="208.8" y1="674.6" x2="216.8" y2="674.6" stroke="#333" stroke-width="1.3" />
<line x1="220.1" y1="667.6" x2="220.1" y2="681.6" stroke="#333" stroke-width="1.3" />
<line x1="216.1" y1="674.6" x2="224.1" y2="674.6" stroke="#333" stroke-width="1.3" />
<line x1="227.5" y1="667.6" x2="227.5" y2="681.6" stroke="#333" stroke-width="1.3" />
<line x1="223.5" y1="674.6" x2="231.5" y2="674.6" stroke="#333" stroke-width="1.3" />
<line x1="234.8" y1="667.6" x2="234.8" y2="681.6" stroke="#333" stroke-width="1.3" />
<line x1="230.8" y1="674.6" x2="238.8" y2="674.6" stroke="#333" stroke-width="1.3" />
<line x1="242.1" y1="667.6" x2="242.1" y2="681.6" stroke="#333" stroke-width="1.3" />
<line x1="238.1" y1="674.6" x2="246.1" y2="674.6" stroke="#333" stroke-width="1.3" />
<line x1="249.4" y1="667.6" x2="249.4" y2="681.6" stroke="#333" stroke-width="1.3" />
<line x1="245.4" y1="674.6" x2="253.4" y2="674.6" stroke="#333" stroke-width="1.3" />
<line x1="256.8" y1="667.6" x2="256.8" y2="681.6" stroke="#333" stroke-width="1.3" />
<line x1="252.8" y1="674.6" x2="260.8" y2="674.6" stroke="#333" stroke-width="1.3" />
<line x1="264.1" y1="667.6" x2="264.1" y2="681.6" stroke="#333" stroke-width="1.3" />
<line x1="260.1" y1="674.6" x2="268.1" y2="674.6" stroke="#333" stroke-width="1.3" />
<line x1="271.4" y1="667.6" x2="271.4" y2="681.6" stroke="#333" stroke-width="1.3" />
<line x1="267.4" y1="674.6" x2="275.4" y2="674.6" stroke="#333" stroke-width="1.3" />
<line x1="278.8" y1="667.6" x2="278.8" y2="681.6" stroke="#333" stroke-width="1.3" />
<line x1="274.8" y1="674.6" x2="282.8" y2="674.6" stroke="#333" stroke-width="1.3" />
<line x1="286.1" y1="667.6" x2="286.1" y2="681.6" stroke="#333" stroke-width="1.3" />
<line x1="282.1" y1="674.6" x2="290.1" y2="674.6" stroke="#333" stroke-width="1.3" />
<line x1="293.4" y1="667.6" x2="293.4" y2="681.6" stroke="#333" stroke-width="1.3" />
<line x1="289.4" y1="674.6" x2="297.4" y2="674.6" stroke="#333" stroke-width="1.3" />
<line x1="300.8" y1="667.6" x2="300.8" y2="681.6" stroke="#333" stroke-width="1.3" />
<line x1="296.8" y1="674.6" x2="304.8" y2="674.6" stroke="#333" stroke-width="1.3" />
<line x1="308.1" y1="667.6" x2="308.1" y2="681.6" stroke="#333" stroke-width="1.3" />
<line x1="304.1" y1="674.6" x2="312.1" y2="674.6" stroke="#333" stroke-width="1.3" />
<line x1="315.4" y1="667.6" x2="315.4" y2="681.6" stroke="#333" stroke-width="1.3" />
<line x1="311.4" y1="674.6" x2="319.4" y2="674.6" stroke="#333" stroke-width="1.3" />
<line x1="322.8" y1="667.6" x2="322.8" y2="681.6" stroke="#333" stroke-width="1.3" />
<line x1="318.8" y1="674.6" x2="326.8" y2="674.6" stroke="#333" stroke-width="1.3" />
<line x1="330.1" y1="667.6" x2="330.1" y2="681.6" stroke="#333" stroke-width="1.3" />
<line x1="326.1" y1="674.6" x2="334.1" y2="674.6" stroke="#333" stroke-width="1.3" />
<line x1="337.4" y1="667.6" x2="337.4" y2="681.6" stroke="#333" stroke-width="1.3" />
<line x1="333.4" y1="674.6" x2="341.4" y2="674.6" stroke="#333" stroke-width="1.3" />
<line x1="344.7" y1="665.4" x2="344.7" y2="679.4" stroke="#333" stroke-width="1.3" />
<line x1="340.7" y1="672.4" x2="348.7" y2="672.4" stroke="#333" stroke-width="1.3" />
<line x1="352.1" y1="665.4" x2="352.1" y2="679.4" stroke="#333" stroke-width="1.3" />
<line x1="348.1" y1="672.4" x2="356.1" y2="672.4" stroke="#333" stroke-width="1.3" />
<line x1="359.4" y1="665.4" x2="359.4" y2="679.4" stroke="#333" stroke-width="1.3" />
<line x1="355.4" y1="672.4" x2="363.4" y2="672.4" stroke="#333" stroke-width="1.3" />
<line x1="366.7" y1="665.4" x2="366.7" y2="679.4" stroke="#333" stroke-width="1.3" />
<line x1="362.7" y1="672.4" x2="370.7" y2="672.4" stroke="#333" stroke-width="1.3" />
<line x1="374.1" y1="665.4" x2="374.1" y2="679.4" stroke="#333" stroke-width="1.3" />
<line x1="370.1" y1="672.4" x2="378.1" y2="672.4" stroke="#333" stroke-width="1.3" />
<line x1="381.4" y1="665.4" x2="381.4" y2="679.4" stroke="#333" stroke-width="1.3" />
<line x1="377.4" y1="672.4" x2="385.4" y2="672.4" stroke="#333" stroke-width="1.3" />
<line x1="388.7" y1="665.4" x2="388.7" y2="679.4" stroke="#333" stroke-width="1.3" />
<line x1="384.7" y1="672.4" x2="392.7" y2="672.4" stroke="#333" stroke-width="1.3" />
<line x1="396.1" y1="665.4" x2="396.1" y2="679.4" stroke="#333" stroke-width="1.3" />
<line x1="392.1" y1="672.4" x2="400.1" y2="672.4" stroke="#333" stroke-width="1.3" />
<line x1="403.4" y1="665.4" x2="403.4" y2="679.4" stroke="#333" stroke-width="1.3" />
<line x1="399.4" y1="672.4" x2="407.4" y2="672.4" stroke="#333" stroke-width="1.3" />
<line x1="410.7" y1="665.4" x2="410.7" y2="679.4" stroke="#333" stroke-width="1.3" />
<line x1="406.7" y1="672.4" x2="414.7" y2="672.4" stroke="#333" stroke-width="1.3" />
<line x1="418.0" y1="665.4" x2="418.0" y2="679.4" stroke="#333" stroke-width="1.3" />
<line x1="414.0" y1="672.4" x2="422.0" y2="672.4" stroke="#333" stroke-width="1.3" />
<line x1="425.4" y1="665.4" x2="425.4" y2="679.4" stroke="#333" stroke-width="1.3" />
<line x1="421.4" y1="672.4" x2="429.4" y2="672.4" stroke="#333" stroke-width="1.3" />
<line x1="432.7" y1="665.4" x2="432.7" y2="679.4" stroke="#333" stroke-width="1.3" />
<line x1="428.7" y1="672.4" x2="436.7" y2="672.4" stroke="#333" stroke-width="1.3" />
<line x1="440.0" y1="665.4" x2="440.0" y2="679.4" stroke="#333" stroke-width="1.3" />
<line x1="436.0" y1="672.4" x2="444.0" y2="672.4" stroke="#333" stroke-width="1.3" />
<line x1="447.4" y1="665.4" x2="447.4" y2="679.4" stroke="#333" stroke-width="1.3" />
<line x1="443.4" y1="672.4" x2="451.4" y2="672.4" stroke="#333" stroke-width="1.3" />
<line x1="454.7" y1="665.4" x2="454.7" y2="679.4" stroke="#333" stroke-width="1.3" />
<line x1="450.7" y1="672.4" x2="458.7" y2="672.4" stroke="#333" stroke-width="1.3" />
<line x1="462.0" y1="665.4" x2="462.0" y2="679.4" stroke="#333" stroke-width="1.3" />
<line x1="458.0" y1="672.4" x2="466.0" y2="672.4" stroke="#333" stroke-width="1.3" />
<line x1="469.4" y1="665.4" x2="469.4" y2="679.4" stroke="#333" stroke-width="1.3" />
<line x1="465.4" y1="672.4" x2="473.4" y2="672.4" stroke="#333" stroke-width="1.3" />
<line x1="476.7" y1="665.4" x2="476.7" y2="679.4" stroke="#333" stroke-width="1.3" />
<line x1="472.7" y1="672.4" x2="480.7" y2="672.4" stroke="#333" stroke-width="1.3" />
<line x1="484.0" y1="665.4" x2="484.0" y2="679.4" stroke="#333" stroke-width="1.3" />
<line x1="480.0" y1="672.4" x2="488.0" y2="672.4" stroke="#333" stroke-width="1.3" />
<line x1="491.3" y1="665.4" x2="491.3" y2="679.4" stroke="#333" stroke-width="1.3" />
<line x1="487.3" y1="672.4" x2="495.3" y2="672.4" stroke="#333" stroke-width="1.3" />
<line x1="498.7" y1="665.4" x2="498.7" y2="679.4" stroke="#333" stroke-width="1.3" />
<line x1="494.7" y1="672.4" x2="502.7" y2="672.4" stroke="#333" stroke-width="1.3" />
<line x1="506.0" y1="665.4" x2="506.0" y2="679.4" stroke="#333" stroke-width="1.3" />
<line x1="502.0" y1="672.4" x2="510.0" y2="672.4" stroke="#333" stroke-width="1.3" />
<line x1="146.8" y1="725.4" x2="146.8" y2="739.4" stroke="#555" stroke-width="1.2" />
<line x1="141.8" y1="732.4" x2="151.8" y2="732.4" stroke="#555" stroke-width="1.2" />
<path d="M146.8,697.0 L154.2,705.7 L161.5,708.6 L168.8,714.4 L176.2,715.8 L183.5,710.0 L190.8,718.7 L198.1,718.7 L205.5,721.6 L212.8,721.6 L220.1,721.6 L227.5,721.6 L234.8,720.1 L242.1,721.6 L249.4,723.0 L256.8,720.1 L264.1,720.1 L271.4,718.7 L278.8,718.7 L286.1,718.7 L293.4,718.7 L300.8,720.1 L308.1,718.7 L315.4,717.3 L322.8,717.3 L330.1,721.6 L337.4,724.5 L344.7,721.6 L352.1,718.7 L359.4,715.8 L366.7,718.7 L374.1,712.9 L381.4,717.3 L388.7,718.7 L396.1,720.1 L403.4,718.7 L410.7,718.7 L418.0,718.7 L425.4,720.1 L432.7,720.1 L440.0,724.5 L447.4,728.8 L454.7,728.8 L462.0,731.7 L469.4,731.7 L476.7,733.2 L484.0,733.2 L491.3,736.1 L498.7,739.0 L506.0,736.1" fill="none" stroke="#000" stroke-width="1.2" />
<rect x="139.8" y="690.0" width="14.0" height="14.0" fill="#000" />
<rect x="148.7" y="700.2" width="11.0" height="11.0" fill="#000" />
<rect x="156.0" y="703.1" width="11.0" height="11.0" fill="#000" />
<rect x="163.3" y="708.9" width="11.0" height="11.0" fill="#000" />
<rect x="170.7" y="710.3" width="11.0" height="11.0" fill="#000" />
<rect x="178.0" y="704.5" width="11.0" height="11.0" fill="#000" />
<rect x="185.3" y="713.2" width="11.0" height="11.0" fill="#000" />
<rect x="192.6" y="713.2" width="11.0" height="11.0" fill="#000" />
<rect x="200.0" y="716.1" width="11.0" height="11.0" fill="#000" />
<rect x="207.3" y="716.1" width="11.0" height="11.0" fill="#000" />
<rect x="214.6" y="716.1" width="11.0" height="11.0" fill="#000" />
<rect x="222.0" y="716.1" width="11.0" height="11.0" fill="#000" />
<rect x="229.3" y="714.6" width="11.0" height="11.0" fill="#000" />
<rect x="236.6" y="716.1" width="11.0" height="11.0" fill="#000" />
<rect x="243.9" y="717.5" width="11.0" height="11.0" fill="#000" />
<rect x="251.3" y="714.6" width="11.0" height="11.0" fill="#000" />
<rect x="258.6" y="714.6" width="11.0" height="11.0" fill="#000" />
<rect x="265.9" y="713.2" width="11.0" height="11.0" fill="#000" />
<rect x="273.3" y="713.2" width="11.0" height="11.0" fill="#000" />
<rect x="280.6" y="713.2" width="11.0" height="11.0" fill="#000" />
<rect x="287.9" y="713.2" width="11.0" height="11.0" fill="#000" />
<rect x="295.3" y="714.6" width="11.0" height="11.0" fill="#000" />
<rect x="302.6" y="713.2" width="11.0" height="11.0" fill="#000" />
<rect x="309.9" y="711.8" width="11.0" height="11.0" fill="#000" />
<rect x="317.2" y="711.8" width="11.0" height="11.0" fill="#000" />
<rect x="324.6" y="716.1" width="11.0" height="11.0" fill="#000" />
<rect x="331.9" y="719.0" width="11.0" height="11.0" fill="#000" />
<rect x="339.2" y="716.1" width="11.0" height="11.0" fill="#000" />
<rect x="346.6" y="713.2" width="11.0" height="11.0" fill="#000" />
<rect x="353.9" y="710.3" width="11.0" height="11.0" fill="#000" />
<rect x="361.2" y="713.2" width="11.0" height="11.0" fill="#000" />
<rect x="368.6" y="707.4" width="11.0" height="11.0" fill="#000" />
<rect x="375.9" y="711.8" width="11.0" height="11.0" fill="#000" />
<rect x="383.2" y="713.2" width="11.0" height="11.0" fill="#000" />
<rect x="390.6" y="714.6" width="11.0" height="11.0" fill="#000" />
<rect x="397.9" y="713.2" width="11.0" height="11.0" fill="#000" />
<rect x="405.2" y="713.2" width="11.0" height="11.0" fill="#000" />
<rect x="412.5" y="713.2" width="11.0" height="11.0" fill="#000" />
<rect x="419.9" y="714.6" width="11.0" height="11.0" fill="#000" />
<rect x="427.2" y="714.6" width="11.0" height="11.0" fill="#000" />
<rect x="434.5" y="719.0" width="11.0" height="11.0" fill="#000" />
<rect x="441.9" y="723.3" width="11.0" height="11.0" fill="#000" />
<rect x="449.2" y="723.3" width="11.0" height="11.0" fill="#000" />
<rect x="456.5" y="726.2" width="11.0" height="11.0" fill="#000" />
<rect x="463.9" y="726.2" width="11.0" height="11.0" fill="#000" />
<rect x="471.2" y="727.7" width="11.0" height="11.0" fill="#000" />
<rect x="478.5" y="727.7" width="11.0" height="11.0" fill="#000" />
<rect x="485.8" y="730.6" width="11.0" height="11.0" fill="#000" />
<rect x="493.2" y="733.5" width="11.0" height="11.0" fill="#000" />
<rect x="500.5" y="730.6" width="11.0" height="11.0" fill="#000" />
<path d="M154.2,701.3 L161.5,704.2 L168.8,710.0 L176.2,711.5 L183.5,705.7 L190.8,714.4 L198.1,714.4 L205.5,717.3 L212.8,717.3 L220.1,717.3 L227.5,717.3 L234.8,715.8 L242.1,717.3 L249.4,718.7 L256.8,715.8 L264.1,715.8 L271.4,714.4 L278.8,714.4 L286.1,714.4 L293.4,714.4 L300.8,715.8 L308.1,714.4 L315.4,712.9 L322.8,712.9 L330.1,717.3 L337.4,720.1 L344.7,717.3 L352.1,714.4 L359.4,711.5 L366.7,714.4 L374.1,708.6 L381.4,712.9 L388.7,714.4 L396.1,715.8 L403.4,714.4 L410.7,714.4 L418.0,714.4 L425.4,715.8 L432.7,715.8 L440.0,720.1 L447.4,724.5 L454.7,724.5 L462.0,727.4 L469.4,727.4 L476.7,728.8 L484.0,728.8 L491.3,731.7 L498.7,734.6 L506.0,731.7" fill="none" stroke="#e00" stroke-width="1.2" />
<circle cx="146.8" cy="656.5" r="6.6" fill="#fff" stroke="#f00" stroke-width="1.4" />
<circle cx="154.2" cy="701.3" r="6.6" fill="#fff" stroke="#f00" stroke-width="1.4" />
<circle cx="161.5" cy="704.2" r="6.6" fill="#fff" stroke="#f00" stroke-width="1.4" />
<circle cx="168.8" cy="710.0" r="6.6" fill="#fff" stroke="#f00" stroke-width="1.4" />
<circle cx="176.2" cy="711.5" r="6.6" fill="#fff" stroke="#f00" stroke-width="1.4" />
<circle cx="183.5" cy="705.7" r="6.6" fill="#fff" stroke="#f00" stroke-width="1.4" />
<circle cx="190.8" cy="714.4" r="6.6" fill="#fff" stroke="#f00" stroke-width="1.4" />
<circle cx="198.1" cy="714.4" r="6.6" fill="#fff" stroke="#f00" stroke-width="1.4" />
<circle cx="205.5" cy="717.3" r="6.6" fill="#fff" stroke="#f00" stroke-width="1.4" />
<circle cx="212.8" cy="717.3" r="6.6" fill="#fff" stroke="#f00" stroke-width="1.4" />
<circle cx="220.1" cy="717.3" r="6.6" fill="#fff" stroke="#f00" stroke-width="1.4" />
<circle cx="227.5" cy="717.3" r="6.6" fill="#fff" stroke="#f00" stroke-width="1.4" />
<circle cx="234.8" cy="715.8" r="6.6" fill="#fff" stroke="#f00" stroke-width="1.4" />
<circle cx="242.1" cy="717.3" r="6.6" fill="#fff" stroke="#f00" stroke-width="1.4" />
<circle cx="249.4" cy="718.7" r="6.6" fill="#fff" stroke="#f00" stroke-width="1.4" />
<circle cx="256.8" cy="715.8" r="6.6" fill="#fff" stroke="#f00" stroke-width="1.4" />
<circle cx="264.1" cy="715.8" r="6.6" fill="#fff" stroke="#f00" stroke-width="1.4" />
<circle cx="271.4" cy="714.4" r="6.6" fill="#fff" stroke="#f00" stroke-width="1.4" />
<circle cx="278.8" cy="714.4" r="6.6" fill="#fff" stroke="#f00" stroke-width="1.4" />
<circle cx="286.1" cy="714.4" r="6.6" fill="#fff" stroke="#f00" stroke-width="1.4" />
<circle cx="293.4" cy="714.4" r="6.6" fill="#fff" stroke="#f00" stroke-width="1.4" />
<circle cx="300.8" cy="715.8" r="6.6" fill="#fff" stroke="#f00" stroke-width="1.4" />
<circle cx="308.1" cy="714.4" r="6.6" fill="#fff" stroke="#f00" stroke-width="1.4" />
<circle cx="315.4" cy="712.9" r="6.6" fill="#fff" stroke="#f00" stroke-width="1.4" />
<circle cx="322.8" cy="712.9" r="6.6" fill="#fff" stroke="#f00" stroke-width="1.4" />
<circle cx="330.1" cy="717.3" r="6.6" fill="#fff" stroke="#f00" stroke-width="1.4" />
<circle cx="337.4" cy="720.1" r="6.6" fill="#fff" stroke="#f00" stroke-width="1.4" />
<circle cx="344.7" cy="717.3" r="6.6" fill="#fff" stroke="#f00" stroke-width="1.4" />
<circle cx="352.1" cy="714.4" r="6.6" fill="#fff" stroke="#f00" stroke-width="1.4" />
<circle cx="359.4" cy="711.5" r="6.6" fill="#fff" stroke="#f00" stroke-width="1.4" />
<circle cx="366.7" cy="714.4" r="6.6" fill="#fff" stroke="#f00" stroke-width="1.4" />
<circle cx="374.1" cy="708.6" r="6.6" fill="#fff" stroke="#f00" stroke-width="1.4" />
<circle cx="381.4" cy="712.9" r="6.6" fill="#fff" stroke="#f00" stroke-width="1.4" />
<circle cx="388.7" cy="714.4" r="6.6" fill="#fff" stroke="#f00" stroke-width="1.4" />
<circle cx="396.1" cy="715.8" r="6.6" fill="#fff" stroke="#f00" stroke-width="1.4" />
<circle cx="403.4" cy="714.4" r="6.6" fill="#fff" stroke="#f00" stroke-width="1.4" />
<circle cx="410.7" cy="714.4" r="6.6" fill="#fff" stroke="#f00" stroke-width="1.4" />
<circle cx="418.0" cy="714.4" r="6.6" fill="#fff" stroke="#f00" stroke-width="1.4" />
<circle cx="425.4" cy="715.8" r="6.6" fill="#fff" stroke="#f00" stroke-width="1.4" />
<circle cx="432.7" cy="715.8" r="6.6" fill="#fff" stroke="#f00" stroke-width="1.4" />
<circle cx="440.0" cy="720.1" r="6.6" fill="#fff" stroke="#f00" stroke-width="1.4" />
<circle cx="447.4" cy="724.5" r="6.6" fill="#fff" stroke="#f00" stroke-width="1.4" />
<circle cx="454.7" cy="724.5" r="6.6" fill="#fff" stroke="#f00" stroke-width="1.4" />
<circle cx="462.0" cy="727.4" r="6.6" fill="#fff" stroke="#f00" stroke-width="1.4" />
<circle cx="469.4" cy="727.4" r="6.6" fill="#fff" stroke="#f00" stroke-width="1.4" />
<circle cx="476.7" cy="728.8" r="6.6" fill="#fff" stroke="#f00" stroke-width="1.4" />
<circle cx="484.0" cy="728.8" r="6.6" fill="#fff" stroke="#f00" stroke-width="1.4" />
<circle cx="491.3" cy="731.7" r="6.6" fill="#fff" stroke="#f00" stroke-width="1.4" />
<circle cx="498.7" cy="734.6" r="6.6" fill="#fff" stroke="#f00" stroke-width="1.4" />
<circle cx="506.0" cy="731.7" r="6.6" fill="#fff" stroke="#f00" stroke-width="1.4" />
<circle cx="146.8" cy="744.7" r="6.8" fill="url(#gPur)" />
<circle cx="154.2" cy="725.9" r="6.8" fill="url(#gPur)" />
<circle cx="161.5" cy="782.4" r="6.8" fill="url(#gPur)" />
<circle cx="168.8" cy="820.0" r="6.8" fill="url(#gPur)" />
<circle cx="176.2" cy="833.0" r="6.8" fill="url(#gPur)" />
<circle cx="183.5" cy="840.2" r="6.8" fill="url(#gPur)" />
<circle cx="190.8" cy="844.6" r="6.8" fill="url(#gPur)" />
<circle cx="198.1" cy="848.9" r="6.8" fill="url(#gPur)" />
<circle cx="205.5" cy="851.8" r="6.8" fill="url(#gPur)" />
<circle cx="212.8" cy="853.3" r="6.8" fill="url(#gPur)" />
<circle cx="220.1" cy="854.7" r="6.8" fill="url(#gPur)" />
<circle cx="227.5" cy="859.1" r="6.8" fill="url(#gPur)" />
<circle cx="234.8" cy="863.4" r="6.8" fill="url(#gPur)" />
<circle cx="242.1" cy="863.4" r="6.8" fill="url(#gPur)" />
<circle cx="249.4" cy="864.8" r="6.8" fill="url(#gPur)" />
<circle cx="256.8" cy="866.3" r="6.8" fill="url(#gPur)" />
<circle cx="264.1" cy="864.8" r="6.8" fill="url(#gPur)" />
<circle cx="271.4" cy="869.2" r="6.8" fill="url(#gPur)" />
<circle cx="278.8" cy="870.6" r="6.8" fill="url(#gPur)" />
<circle cx="286.1" cy="870.6" r="6.8" fill="url(#gPur)" />
<circle cx="293.4" cy="870.6" r="6.8" fill="url(#gPur)" />
<circle cx="300.8" cy="870.6" r="6.8" fill="url(#gPur)" />
<circle cx="308.1" cy="872.1" r="6.8" fill="url(#gPur)" />
<circle cx="315.4" cy="873.5" r="6.8" fill="url(#gPur)" />
<circle cx="322.8" cy="873.5" r="6.8" fill="url(#gPur)" />
<circle cx="330.1" cy="873.5" r="6.8" fill="url(#gPur)" />
<circle cx="337.4" cy="872.1" r="6.8" fill="url(#gPur)" />
<circle cx="344.7" cy="875.0" r="6.8" fill="url(#gPur)" />
<circle cx="352.1" cy="876.4" r="6.8" fill="url(#gPur)" />
<circle cx="359.4" cy="877.9" r="6.8" fill="url(#gPur)" />
<circle cx="366.7" cy="877.9" r="6.8" fill="url(#gPur)" />
<circle cx="374.1" cy="876.4" r="6.8" fill="url(#gPur)" />
<circle cx="381.4" cy="876.4" r="6.8" fill="url(#gPur)" />
<circle cx="388.7" cy="877.9" r="6.8" fill="url(#gPur)" />
<circle cx="396.1" cy="880.8" r="6.8" fill="url(#gPur)" />
<circle cx="403.4" cy="882.2" r="6.8" fill="url(#gPur)" />
<circle cx="410.7" cy="883.7" r="6.8" fill="url(#gPur)" />
<circle cx="418.0" cy="883.7" r="6.8" fill="url(#gPur)" />
<circle cx="425.4" cy="880.8" r="6.8" fill="url(#gPur)" />
<circle cx="432.7" cy="882.2" r="6.8" fill="url(#gPur)" />
<circle cx="440.0" cy="882.2" r="6.8" fill="url(#gPur)" />
<circle cx="447.4" cy="883.7" r="6.8" fill="url(#gPur)" />
<circle cx="454.7" cy="882.2" r="6.8" fill="url(#gPur)" />
<circle cx="462.0" cy="883.7" r="6.8" fill="url(#gPur)" />
<circle cx="469.4" cy="883.7" r="6.8" fill="url(#gPur)" />
<circle cx="476.7" cy="882.2" r="6.8" fill="url(#gPur)" />
<circle cx="484.0" cy="879.3" r="6.8" fill="url(#gPur)" />
<circle cx="491.3" cy="882.2" r="6.8" fill="url(#gPur)" />
<circle cx="498.7" cy="883.7" r="6.8" fill="url(#gPur)" />
<circle cx="506.0" cy="885.1" r="6.8" fill="url(#gPur)" />
<line x1="408.0" y1="875.0" x2="352.0" y2="841.0" stroke="#800080" stroke-width="2.5" />
<path d="M345.5,837 L357,839 L352,847 Z" fill="#800080" />
<rect x="139.5" y="598.6" width="366.5" height="289.4" fill="none" stroke="#000" stroke-width="3" />
<line x1="139.5" y1="598.6" x2="139.5" y2="604.6" stroke="#000" stroke-width="2.5" />
<line x1="212.8" y1="598.6" x2="212.8" y2="604.6" stroke="#000" stroke-width="2.5" />
<line x1="286.1" y1="598.6" x2="286.1" y2="604.6" stroke="#000" stroke-width="2.5" />
<line x1="359.4" y1="598.6" x2="359.4" y2="604.6" stroke="#000" stroke-width="2.5" />
<line x1="432.7" y1="598.6" x2="432.7" y2="604.6" stroke="#000" stroke-width="2.5" />
<line x1="506.0" y1="598.6" x2="506.0" y2="604.6" stroke="#000" stroke-width="2.5" />
<line x1="176.2" y1="598.6" x2="176.2" y2="602.6" stroke="#000" stroke-width="2" />
<line x1="249.4" y1="598.6" x2="249.4" y2="602.6" stroke="#000" stroke-width="2" />
<line x1="322.8" y1="598.6" x2="322.8" y2="602.6" stroke="#000" stroke-width="2" />
<line x1="396.1" y1="598.6" x2="396.1" y2="602.6" stroke="#000" stroke-width="2" />
<line x1="469.4" y1="598.6" x2="469.4" y2="602.6" stroke="#000" stroke-width="2" />
<line x1="139.5" y1="888.0" x2="139.5" y2="882.0" stroke="#000" stroke-width="2.5" />
<line x1="212.8" y1="888.0" x2="212.8" y2="882.0" stroke="#000" stroke-width="2.5" />
<line x1="286.1" y1="888.0" x2="286.1" y2="882.0" stroke="#000" stroke-width="2.5" />
<line x1="359.4" y1="888.0" x2="359.4" y2="882.0" stroke="#000" stroke-width="2.5" />
<line x1="432.7" y1="888.0" x2="432.7" y2="882.0" stroke="#000" stroke-width="2.5" />
<line x1="506.0" y1="888.0" x2="506.0" y2="882.0" stroke="#000" stroke-width="2.5" />
<line x1="176.2" y1="888.0" x2="176.2" y2="884.0" stroke="#000" stroke-width="2" />
<line x1="249.4" y1="888.0" x2="249.4" y2="884.0" stroke="#000" stroke-width="2" />
<line x1="322.8" y1="888.0" x2="322.8" y2="884.0" stroke="#000" stroke-width="2" />
<line x1="396.1" y1="888.0" x2="396.1" y2="884.0" stroke="#000" stroke-width="2" />
<line x1="469.4" y1="888.0" x2="469.4" y2="884.0" stroke="#000" stroke-width="2" />
<line x1="139.5" y1="888.0" x2="132.5" y2="888.0" stroke="#000" stroke-width="2.5" />
<line x1="139.5" y1="815.7" x2="132.5" y2="815.7" stroke="#000" stroke-width="2.5" />
<line x1="139.5" y1="743.3" x2="132.5" y2="743.3" stroke="#000" stroke-width="2.5" />
<line x1="139.5" y1="671.0" x2="132.5" y2="671.0" stroke="#000" stroke-width="2.5" />
<line x1="139.5" y1="598.6" x2="132.5" y2="598.6" stroke="#000" stroke-width="2.5" />
<line x1="139.5" y1="851.8" x2="134.5" y2="851.8" stroke="#000" stroke-width="2" />
<line x1="139.5" y1="779.5" x2="134.5" y2="779.5" stroke="#000" stroke-width="2" />
<line x1="139.5" y1="707.1" x2="134.5" y2="707.1" stroke="#000" stroke-width="2" />
<line x1="139.5" y1="634.8" x2="134.5" y2="634.8" stroke="#000" stroke-width="2" />
<line x1="506.0" y1="888.0" x2="513.0" y2="888.0" stroke="#000" stroke-width="2.5" />
<line x1="506.0" y1="815.7" x2="513.0" y2="815.7" stroke="#000" stroke-width="2.5" />
<line x1="506.0" y1="743.3" x2="513.0" y2="743.3" stroke="#000" stroke-width="2.5" />
<line x1="506.0" y1="671.0" x2="513.0" y2="671.0" stroke="#000" stroke-width="2.5" />
<line x1="506.0" y1="598.6" x2="513.0" y2="598.6" stroke="#000" stroke-width="2.5" />
<line x1="506.0" y1="851.8" x2="511.0" y2="851.8" stroke="#000" stroke-width="2" />
<line x1="506.0" y1="779.5" x2="511.0" y2="779.5" stroke="#000" stroke-width="2" />
<line x1="506.0" y1="707.1" x2="511.0" y2="707.1" stroke="#000" stroke-width="2" />
<line x1="506.0" y1="634.8" x2="511.0" y2="634.8" stroke="#000" stroke-width="2" />
<text x="128.0" y="895.5" font-family="'Liberation Sans', Arial, sans-serif" font-size="28" stroke="#000" stroke-width="0.5" text-anchor="end" >50</text>
<text x="128.0" y="823.2" font-family="'Liberation Sans', Arial, sans-serif" font-size="28" stroke="#000" stroke-width="0.5" text-anchor="end" >100</text>
<text x="128.0" y="750.8" font-family="'Liberation Sans', Arial, sans-serif" font-size="28" stroke="#000" stroke-width="0.5" text-anchor="end" >150</text>
<text x="128.0" y="678.5" font-family="'Liberation Sans', Arial, sans-serif" font-size="28" stroke="#000" stroke-width="0.5" text-anchor="end" >200</text>
<text x="128.0" y="606.1" font-family="'Liberation Sans', Arial, sans-serif" font-size="28" stroke="#000" stroke-width="0.5" text-anchor="end" >250</text>
<text x="513.0" y="895.5" font-family="'Liberation Sans', Arial, sans-serif" font-size="28" stroke="#000" stroke-width="0.5" >40</text>
<text x="513.0" y="823.2" font-family="'Liberation Sans', Arial, sans-serif" font-size="28" stroke="#000" stroke-width="0.5" >60</text>
<text x="513.0" y="750.8" font-family="'Liberation Sans', Arial, sans-serif" font-size="28" stroke="#000" stroke-width="0.5" >80</text>
<text x="513.0" y="678.5" font-family="'Liberation Sans', Arial, sans-serif" font-size="28" stroke="#000" stroke-width="0.5" >100</text>
<text x="513.0" y="606.1" font-family="'Liberation Sans', Arial, sans-serif" font-size="28" stroke="#000" stroke-width="0.5" >120</text>
<text x="139.5" y="918.5" font-family="'Liberation Sans', Arial, sans-serif" font-size="28" stroke="#000" stroke-width="0.5" text-anchor="middle" >0</text>
<text x="212.8" y="918.5" font-family="'Liberation Sans', Arial, sans-serif" font-size="28" stroke="#000" stroke-width="0.5" text-anchor="middle" >10</text>
<text x="286.1" y="918.5" font-family="'Liberation Sans', Arial, sans-serif" font-size="28" stroke="#000" stroke-width="0.5" text-anchor="middle" >20</text>
<text x="359.4" y="918.5" font-family="'Liberation Sans', Arial, sans-serif" font-size="28" stroke="#000" stroke-width="0.5" text-anchor="middle" >30</text>
<text x="432.7" y="918.5" font-family="'Liberation Sans', Arial, sans-serif" font-size="28" stroke="#000" stroke-width="0.5" text-anchor="middle" >40</text>
<text x="506.0" y="918.5" font-family="'Liberation Sans', Arial, sans-serif" font-size="28" stroke="#000" stroke-width="0.5" text-anchor="middle" >50</text>
<text x="224.0" y="958.0" font-family="'Liberation Sans', Arial, sans-serif" font-size="30.5" stroke="#000" stroke-width="0.5" font-weight="bold" textLength="212" lengthAdjust="spacingAndGlyphs" >Cycle Number</text>
<text transform="translate(69.0,860.0) rotate(-90)" font-family="'Liberation Sans', Arial, sans-serif" font-size="30.2" stroke="#000" stroke-width="0.5" font-weight="bold" >Capacity (mAhg<tspan font-size="19" dy="-13">-1</tspan><tspan dy="13">)</tspan></text>
<text transform="translate(595.0,924.5) rotate(-90)" font-family="'Liberation Sans', Arial, sans-serif" font-size="31.5" stroke="#000" stroke-width="0.5" font-weight="bold" textLength="362" lengthAdjust="spacingAndGlyphs" >Coulombic Efficiency (%)</text>
<line x1="176.0" y1="741.0" x2="193.0" y2="741.0" stroke="#000" stroke-width="1.6" />
<line x1="184.5" y1="732.5" x2="184.5" y2="749.5" stroke="#000" stroke-width="1.6" />
<text x="202.5" y="749.5" font-family="'Liberation Sans', Arial, sans-serif" font-size="22" stroke="#000" stroke-width="0.5" font-weight="bold" textLength="227" lengthAdjust="spacingAndGlyphs" >Coulombic efficiency</text>
<circle cx="184.4" cy="769.0" r="8.8" fill="none" stroke="#f00" stroke-width="1.6" />
<text x="202.5" y="777.5" font-family="'Liberation Sans', Arial, sans-serif" font-size="22" stroke="#000" stroke-width="0.5" font-weight="bold" textLength="109" lengthAdjust="spacingAndGlyphs" >Discharge</text>
<rect x="176.4" y="791.2" width="16.3" height="14.0" fill="#000" />
<text x="202.5" y="805.0" font-family="'Liberation Sans', Arial, sans-serif" font-size="22" stroke="#000" stroke-width="0.5" font-weight="bold" textLength="77.5" lengthAdjust="spacingAndGlyphs" >Charge</text>
<text x="269.0" y="833.6" font-family="'Liberation Sans', Arial, sans-serif" font-size="15.5" stroke="#800080" stroke-width="0.5" font-weight="bold" fill="#800080" textLength="231" lengthAdjust="spacingAndGlyphs" >Anatase TiO<tspan font-size="11" dy="5">2</tspan><tspan dy="-5"> NPs (25 nm)</tspan></text>
<text x="274.5" y="858.5" font-family="'Liberation Sans', Arial, sans-serif" font-size="15.5" stroke="#800080" stroke-width="0.5" font-weight="bold" fill="#800080" textLength="68" lengthAdjust="spacingAndGlyphs" >@ 0.1 C</text>
<line x1="833.4" y1="594.3" x2="833.4" y2="620.0" stroke="#000" stroke-width="1.6" />
<line x1="833.4" y1="691.0" x2="833.4" y2="892.0" stroke="#000" stroke-width="1.6" />
<line x1="908.3" y1="594.3" x2="908.3" y2="892.0" stroke="#000" stroke-width="1.6" />
<line x1="983.2" y1="594.3" x2="983.2" y2="892.0" stroke="#000" stroke-width="1.6" />
<line x1="1058.1" y1="594.3" x2="1058.1" y2="892.0" stroke="#000" stroke-width="1.6" />
<path d="M766.0,652.5 L773.5,691.1 L781.0,734.2 L788.5,735.7 L796.0,734.2 L803.4,732.7 L810.9,734.2 L818.4,737.2 L825.9,734.2 L833.4,734.2 L840.9,762.5 L848.4,762.5 L855.9,765.5 L863.4,765.5 L870.9,765.5 L878.3,765.5 L885.8,765.5 L893.3,765.5 L900.8,765.5 L908.3,765.5 L915.8,772.9 L923.3,772.9 L930.8,774.4 L938.3,772.9 L945.8,772.9 L953.2,772.9 L960.7,772.9 L968.2,772.9 L975.7,774.4 L983.2,772.9 L990.7,832.5 L998.2,832.5 L1005.7,833.9 L1013.2,833.9 L1020.6,833.9 L1028.1,833.9 L1035.6,833.9 L1043.1,832.5 L1050.6,832.5 L1058.1,833.9 L1065.6,741.7 L1073.1,741.7 L1080.6,743.1 L1088.1,743.1 L1095.5,744.6 L1103.0,744.6 L1110.5,743.1 L1118.0,743.1 L1125.5,743.1 L1133.0,744.6" fill="none" stroke="#f00" stroke-width="2" />
<circle cx="766.0" cy="652.5" r="6.0" fill="#fff" stroke="#f22" stroke-width="1.3" />
<circle cx="773.5" cy="691.1" r="6.0" fill="#fff" stroke="#f22" stroke-width="1.3" />
<circle cx="781.0" cy="734.2" r="6.0" fill="#fff" stroke="#f22" stroke-width="1.3" />
<circle cx="788.5" cy="735.7" r="6.0" fill="#fff" stroke="#f22" stroke-width="1.3" />
<circle cx="796.0" cy="734.2" r="6.0" fill="#fff" stroke="#f22" stroke-width="1.3" />
<circle cx="803.4" cy="732.7" r="6.0" fill="#fff" stroke="#f22" stroke-width="1.3" />
<circle cx="810.9" cy="734.2" r="6.0" fill="#fff" stroke="#f22" stroke-width="1.3" />
<circle cx="818.4" cy="737.2" r="6.0" fill="#fff" stroke="#f22" stroke-width="1.3" />
<circle cx="825.9" cy="734.2" r="6.0" fill="#fff" stroke="#f22" stroke-width="1.3" />
<circle cx="833.4" cy="734.2" r="6.0" fill="#fff" stroke="#f22" stroke-width="1.3" />
<circle cx="840.9" cy="762.5" r="6.0" fill="#fff" stroke="#f22" stroke-width="1.3" />
<circle cx="848.4" cy="762.5" r="6.0" fill="#fff" stroke="#f22" stroke-width="1.3" />
<circle cx="855.9" cy="765.5" r="6.0" fill="#fff" stroke="#f22" stroke-width="1.3" />
<circle cx="863.4" cy="765.5" r="6.0" fill="#fff" stroke="#f22" stroke-width="1.3" />
<circle cx="870.9" cy="765.5" r="6.0" fill="#fff" stroke="#f22" stroke-width="1.3" />
<circle cx="878.3" cy="765.5" r="6.0" fill="#fff" stroke="#f22" stroke-width="1.3" />
<circle cx="885.8" cy="765.5" r="6.0" fill="#fff" stroke="#f22" stroke-width="1.3" />
<circle cx="893.3" cy="765.5" r="6.0" fill="#fff" stroke="#f22" stroke-width="1.3" />
<circle cx="900.8" cy="765.5" r="6.0" fill="#fff" stroke="#f22" stroke-width="1.3" />
<circle cx="908.3" cy="765.5" r="6.0" fill="#fff" stroke="#f22" stroke-width="1.3" />
<circle cx="915.8" cy="772.9" r="6.0" fill="#fff" stroke="#f22" stroke-width="1.3" />
<circle cx="923.3" cy="772.9" r="6.0" fill="#fff" stroke="#f22" stroke-width="1.3" />
<circle cx="930.8" cy="774.4" r="6.0" fill="#fff" stroke="#f22" stroke-width="1.3" />
<circle cx="938.3" cy="772.9" r="6.0" fill="#fff" stroke="#f22" stroke-width="1.3" />
<circle cx="945.8" cy="772.9" r="6.0" fill="#fff" stroke="#f22" stroke-width="1.3" />
<circle cx="953.2" cy="772.9" r="6.0" fill="#fff" stroke="#f22" stroke-width="1.3" />
<circle cx="960.7" cy="772.9" r="6.0" fill="#fff" stroke="#f22" stroke-width="1.3" />
<circle cx="968.2" cy="772.9" r="6.0" fill="#fff" stroke="#f22" stroke-width="1.3" />
<circle cx="975.7" cy="774.4" r="6.0" fill="#fff" stroke="#f22" stroke-width="1.3" />
<circle cx="983.2" cy="772.9" r="6.0" fill="#fff" stroke="#f22" stroke-width="1.3" />
<circle cx="990.7" cy="832.5" r="6.0" fill="#fff" stroke="#f22" stroke-width="1.3" />
<circle cx="998.2" cy="832.5" r="6.0" fill="#fff" stroke="#f22" stroke-width="1.3" />
<circle cx="1005.7" cy="833.9" r="6.0" fill="#fff" stroke="#f22" stroke-width="1.3" />
<circle cx="1013.2" cy="833.9" r="6.0" fill="#fff" stroke="#f22" stroke-width="1.3" />
<circle cx="1020.6" cy="833.9" r="6.0" fill="#fff" stroke="#f22" stroke-width="1.3" />
<circle cx="1028.1" cy="833.9" r="6.0" fill="#fff" stroke="#f22" stroke-width="1.3" />
<circle cx="1035.6" cy="833.9" r="6.0" fill="#fff" stroke="#f22" stroke-width="1.3" />
<circle cx="1043.1" cy="832.5" r="6.0" fill="#fff" stroke="#f22" stroke-width="1.3" />
<circle cx="1050.6" cy="832.5" r="6.0" fill="#fff" stroke="#f22" stroke-width="1.3" />
<circle cx="1058.1" cy="833.9" r="6.0" fill="#fff" stroke="#f22" stroke-width="1.3" />
<circle cx="1065.6" cy="741.7" r="6.0" fill="#fff" stroke="#f22" stroke-width="1.3" />
<circle cx="1073.1" cy="741.7" r="6.0" fill="#fff" stroke="#f22" stroke-width="1.3" />
<circle cx="1080.6" cy="743.1" r="6.0" fill="#fff" stroke="#f22" stroke-width="1.3" />
<circle cx="1088.1" cy="743.1" r="6.0" fill="#fff" stroke="#f22" stroke-width="1.3" />
<circle cx="1095.5" cy="744.6" r="6.0" fill="#fff" stroke="#f22" stroke-width="1.3" />
<circle cx="1103.0" cy="744.6" r="6.0" fill="#fff" stroke="#f22" stroke-width="1.3" />
<circle cx="1110.5" cy="743.1" r="6.0" fill="#fff" stroke="#f22" stroke-width="1.3" />
<circle cx="1118.0" cy="743.1" r="6.0" fill="#fff" stroke="#f22" stroke-width="1.3" />
<circle cx="1125.5" cy="743.1" r="6.0" fill="#fff" stroke="#f22" stroke-width="1.3" />
<circle cx="1133.0" cy="744.6" r="6.0" fill="#fff" stroke="#f22" stroke-width="1.3" />
<rect x="758.5" y="594.3" width="374.5" height="297.7" fill="none" stroke="#000" stroke-width="3.2" />
<line x1="758.5" y1="594.3" x2="758.5" y2="601.3" stroke="#000" stroke-width="2.5" />
<line x1="833.4" y1="594.3" x2="833.4" y2="601.3" stroke="#000" stroke-width="2.5" />
<line x1="908.3" y1="594.3" x2="908.3" y2="601.3" stroke="#000" stroke-width="2.5" />
<line x1="983.2" y1="594.3" x2="983.2" y2="601.3" stroke="#000" stroke-width="2.5" />
<line x1="1058.1" y1="594.3" x2="1058.1" y2="601.3" stroke="#000" stroke-width="2.5" />
<line x1="1133.0" y1="594.3" x2="1133.0" y2="601.3" stroke="#000" stroke-width="2.5" />
<line x1="796.0" y1="594.3" x2="796.0" y2="598.3" stroke="#000" stroke-width="2" />
<line x1="870.9" y1="594.3" x2="870.9" y2="598.3" stroke="#000" stroke-width="2" />
<line x1="945.8" y1="594.3" x2="945.8" y2="598.3" stroke="#000" stroke-width="2" />
<line x1="1020.6" y1="594.3" x2="1020.6" y2="598.3" stroke="#000" stroke-width="2" />
<line x1="1095.5" y1="594.3" x2="1095.5" y2="598.3" stroke="#000" stroke-width="2" />
<line x1="758.5" y1="892.0" x2="758.5" y2="885.0" stroke="#000" stroke-width="2.5" />
<line x1="833.4" y1="892.0" x2="833.4" y2="885.0" stroke="#000" stroke-width="2.5" />
<line x1="908.3" y1="892.0" x2="908.3" y2="885.0" stroke="#000" stroke-width="2.5" />
<line x1="983.2" y1="892.0" x2="983.2" y2="885.0" stroke="#000" stroke-width="2.5" />
<line x1="1058.1" y1="892.0" x2="1058.1" y2="885.0" stroke="#000" stroke-width="2.5" />
<line x1="1133.0" y1="892.0" x2="1133.0" y2="885.0" stroke="#000" stroke-width="2.5" />
<line x1="796.0" y1="892.0" x2="796.0" y2="888.0" stroke="#000" stroke-width="2" />
<line x1="870.9" y1="892.0" x2="870.9" y2="888.0" stroke="#000" stroke-width="2" />
<line x1="945.8" y1="892.0" x2="945.8" y2="888.0" stroke="#000" stroke-width="2" />
<line x1="1020.6" y1="892.0" x2="1020.6" y2="888.0" stroke="#000" stroke-width="2" />
<line x1="1095.5" y1="892.0" x2="1095.5" y2="888.0" stroke="#000" stroke-width="2" />
<line x1="758.5" y1="892.0" x2="765.5" y2="892.0" stroke="#000" stroke-width="2.5" />
<line x1="758.5" y1="817.6" x2="765.5" y2="817.6" stroke="#000" stroke-width="2.5" />
<line x1="758.5" y1="743.1" x2="765.5" y2="743.1" stroke="#000" stroke-width="2.5" />
<line x1="758.5" y1="668.7" x2="765.5" y2="668.7" stroke="#000" stroke-width="2.5" />
<line x1="758.5" y1="594.3" x2="765.5" y2="594.3" stroke="#000" stroke-width="2.5" />
<line x1="758.5" y1="854.8" x2="762.5" y2="854.8" stroke="#000" stroke-width="2" />
<line x1="758.5" y1="780.4" x2="762.5" y2="780.4" stroke="#000" stroke-width="2" />
<line x1="758.5" y1="705.9" x2="762.5" y2="705.9" stroke="#000" stroke-width="2" />
<line x1="758.5" y1="631.5" x2="762.5" y2="631.5" stroke="#000" stroke-width="2" />
<line x1="1133.0" y1="892.0" x2="1126.0" y2="892.0" stroke="#000" stroke-width="2.5" />
<line x1="1133.0" y1="817.6" x2="1126.0" y2="817.6" stroke="#000" stroke-width="2.5" />
<line x1="1133.0" y1="743.1" x2="1126.0" y2="743.1" stroke="#000" stroke-width="2.5" />
<line x1="1133.0" y1="668.7" x2="1126.0" y2="668.7" stroke="#000" stroke-width="2.5" />
<line x1="1133.0" y1="594.3" x2="1126.0" y2="594.3" stroke="#000" stroke-width="2.5" />
<line x1="1133.0" y1="854.8" x2="1129.0" y2="854.8" stroke="#000" stroke-width="2" />
<line x1="1133.0" y1="780.4" x2="1129.0" y2="780.4" stroke="#000" stroke-width="2" />
<line x1="1133.0" y1="705.9" x2="1129.0" y2="705.9" stroke="#000" stroke-width="2" />
<line x1="1133.0" y1="631.5" x2="1129.0" y2="631.5" stroke="#000" stroke-width="2" />
<text x="749.6" y="899.5" font-family="'Liberation Sans', Arial, sans-serif" font-size="28" stroke="#000" stroke-width="0.5" text-anchor="end" >50</text>
<text x="749.6" y="825.1" font-family="'Liberation Sans', Arial, sans-serif" font-size="28" stroke="#000" stroke-width="0.5" text-anchor="end" >100</text>
<text x="749.6" y="750.6" font-family="'Liberation Sans', Arial, sans-serif" font-size="28" stroke="#000" stroke-width="0.5" text-anchor="end" >150</text>
<text x="749.6" y="676.2" font-family="'Liberation Sans', Arial, sans-serif" font-size="28" stroke="#000" stroke-width="0.5" text-anchor="end" >200</text>
<text x="749.6" y="601.8" font-family="'Liberation Sans', Arial, sans-serif" font-size="28" stroke="#000" stroke-width="0.5" text-anchor="end" >250</text>
<text x="758.5" y="921.4" font-family="'Liberation Sans', Arial, sans-serif" font-size="27.5" stroke="#000" stroke-width="0.5" text-anchor="middle" >0</text>
<text x="833.4" y="921.4" font-family="'Liberation Sans', Arial, sans-serif" font-size="27.5" stroke="#000" stroke-width="0.5" text-anchor="middle" >10</text>
<text x="908.3" y="921.4" font-family="'Liberation Sans', Arial, sans-serif" font-size="27.5" stroke="#000" stroke-width="0.5" text-anchor="middle" >20</text>
<text x="983.2" y="921.4" font-family="'Liberation Sans', Arial, sans-serif" font-size="27.5" stroke="#000" stroke-width="0.5" text-anchor="middle" >30</text>
<text x="1058.1" y="921.4" font-family="'Liberation Sans', Arial, sans-serif" font-size="27.5" stroke="#000" stroke-width="0.5" text-anchor="middle" >40</text>
<text x="1133.0" y="921.4" font-family="'Liberation Sans', Arial, sans-serif" font-size="27.5" stroke="#000" stroke-width="0.5" text-anchor="middle" >50</text>
<text x="843.0" y="952.8" font-family="'Liberation Sans', Arial, sans-serif" font-size="31" stroke="#000" stroke-width="0.5" font-weight="bold" textLength="216" lengthAdjust="spacingAndGlyphs" >Cycle Number</text>
<text transform="translate(688.0,869.6) rotate(-90)" font-family="'Liberation Sans', Arial, sans-serif" font-size="31.2" stroke="#000" stroke-width="0.5" font-weight="bold" >Capacity (mAhg<tspan font-size="20" dy="-14">-1</tspan><tspan dy="14">)</tspan></text>
<text x="782.0" y="717.5" font-family="'Liberation Sans', Arial, sans-serif" font-size="28" stroke="#000" stroke-width="0.5" textLength="33" lengthAdjust="spacingAndGlyphs" >1C</text>
<text x="850.5" y="717.5" font-family="'Liberation Sans', Arial, sans-serif" font-size="28" stroke="#000" stroke-width="0.5" textLength="37.200000000000045" lengthAdjust="spacingAndGlyphs" >2C</text>
<text x="923.6" y="717.5" font-family="'Liberation Sans', Arial, sans-serif" font-size="28" stroke="#000" stroke-width="0.5" textLength="35.89999999999998" lengthAdjust="spacingAndGlyphs" >5C</text>
<text x="995.5" y="717.5" font-family="'Liberation Sans', Arial, sans-serif" font-size="28" stroke="#000" stroke-width="0.5" textLength="53.200000000000045" lengthAdjust="spacingAndGlyphs" >10C</text>
<text x="1085.9" y="717.5" font-family="'Liberation Sans', Arial, sans-serif" font-size="28" stroke="#000" stroke-width="0.5" textLength="34.69999999999982" lengthAdjust="spacingAndGlyphs" >1C</text>
<text x="826.0" y="674.0" font-family="'Liberation Sans', Arial, sans-serif" font-size="48" stroke="#000" stroke-width="0.5" font-weight="bold" >a</text>
<circle cx="1899.6" cy="382.0" r="7.9" fill="url(#gDark)" />
<circle cx="1905.4" cy="386.3" r="7.9" fill="url(#gDark)" />
<circle cx="1911.1" cy="410.9" r="7.9" fill="url(#gDark)" />
<circle cx="1916.9" cy="415.2" r="7.9" fill="url(#gDark)" />
<circle cx="1922.7" cy="422.5" r="7.9" fill="url(#gDark)" />
<circle cx="1928.5" cy="429.7" r="7.9" fill="url(#gDark)" />
<circle cx="1934.2" cy="433.3" r="7.9" fill="url(#gDark)" />
<circle cx="1940.0" cy="436.9" r="7.9" fill="url(#gDark)" />
<circle cx="1945.8" cy="440.5" r="7.9" fill="url(#gDark)" />
<circle cx="1951.6" cy="444.2" r="7.9" fill="url(#gDark)" />
<circle cx="1957.4" cy="447.1" r="7.9" fill="url(#gDark)" />
<circle cx="1963.1" cy="449.9" r="7.9" fill="url(#gDark)" />
<circle cx="1968.9" cy="452.8" r="7.9" fill="url(#gDark)" />
<circle cx="1974.7" cy="453.3" r="7.9" fill="url(#gDark)" />
<circle cx="1980.5" cy="453.8" r="7.9" fill="url(#gDark)" />
<circle cx="1986.2" cy="454.3" r="7.9" fill="url(#gDark)" />
<circle cx="1992.0" cy="455.7" r="7.9" fill="url(#gDark)" />
<circle cx="1997.8" cy="457.2" r="7.9" fill="url(#gDark)" />
<circle cx="2003.6" cy="458.6" r="7.9" fill="url(#gDark)" />
<circle cx="2009.3" cy="460.1" r="7.9" fill="url(#gDark)" />
<circle cx="2015.1" cy="460.5" r="7.9" fill="url(#gDark)" />
<circle cx="2020.9" cy="461.0" r="7.9" fill="url(#gDark)" />
<circle cx="2026.7" cy="461.5" r="7.9" fill="url(#gDark)" />
<circle cx="2032.5" cy="462.0" r="7.9" fill="url(#gDark)" />
<circle cx="2038.2" cy="462.5" r="7.9" fill="url(#gDark)" />
<circle cx="2044.0" cy="463.0" r="7.9" fill="url(#gDark)" />
<circle cx="2049.8" cy="464.0" r="7.9" fill="url(#gDark)" />
<circle cx="2055.6" cy="465.1" r="7.9" fill="url(#gDark)" />
<circle cx="2061.3" cy="466.2" r="7.9" fill="url(#gDark)" />
<circle cx="2067.1" cy="467.3" r="7.9" fill="url(#gDark)" />
<circle cx="2072.9" cy="467.3" r="7.9" fill="url(#gDark)" />
<circle cx="2078.7" cy="467.3" r="7.9" fill="url(#gDark)" />
<circle cx="2084.5" cy="467.3" r="7.9" fill="url(#gDark)" />
<circle cx="2090.2" cy="469.2" r="7.9" fill="url(#gDark)" />
<circle cx="2096.0" cy="471.1" r="7.9" fill="url(#gDark)" />
<circle cx="2101.8" cy="473.1" r="7.9" fill="url(#gDark)" />
<circle cx="2107.6" cy="473.1" r="7.9" fill="url(#gDark)" />
<circle cx="2113.3" cy="473.1" r="7.9" fill="url(#gDark)" />
<circle cx="2119.1" cy="473.1" r="7.9" fill="url(#gDark)" />
<circle cx="2124.9" cy="473.1" r="7.9" fill="url(#gDark)" />
<circle cx="2130.7" cy="473.4" r="7.9" fill="url(#gDark)" />
<circle cx="2136.5" cy="473.8" r="7.9" fill="url(#gDark)" />
<circle cx="2142.2" cy="474.2" r="7.9" fill="url(#gDark)" />
<circle cx="2148.0" cy="474.5" r="7.9" fill="url(#gDark)" />
<circle cx="2153.8" cy="473.1" r="7.9" fill="url(#gDark)" />
<circle cx="2159.6" cy="471.6" r="7.9" fill="url(#gDark)" />
<circle cx="2165.3" cy="470.2" r="7.9" fill="url(#gDark)" />
<circle cx="2171.1" cy="472.4" r="7.9" fill="url(#gDark)" />
<circle cx="2176.9" cy="474.5" r="7.9" fill="url(#gDark)" />
<circle cx="2182.7" cy="476.0" r="7.9" fill="url(#gDark)" />
<circle cx="2188.5" cy="477.4" r="7.9" fill="url(#gDark)" />
<circle cx="1899.6" cy="338.6" r="7.9" fill="url(#gBlack)" />
<circle cx="1905.4" cy="321.2" r="7.9" fill="url(#gBlack)" />
<circle cx="1911.1" cy="374.8" r="7.9" fill="url(#gBlack)" />
<circle cx="1916.9" cy="393.5" r="7.9" fill="url(#gBlack)" />
<circle cx="1922.7" cy="399.3" r="7.9" fill="url(#gBlack)" />
<circle cx="1928.5" cy="400.5" r="7.9" fill="url(#gBlack)" />
<circle cx="1934.2" cy="401.6" r="7.9" fill="url(#gBlack)" />
<circle cx="1940.0" cy="402.8" r="7.9" fill="url(#gBlack)" />
<circle cx="1945.8" cy="404.0" r="7.9" fill="url(#gBlack)" />
<circle cx="1951.6" cy="405.1" r="7.9" fill="url(#gBlack)" />
<circle cx="1957.4" cy="405.5" r="7.9" fill="url(#gBlack)" />
<circle cx="1963.1" cy="405.8" r="7.9" fill="url(#gBlack)" />
<circle cx="1968.9" cy="406.2" r="7.9" fill="url(#gBlack)" />
<circle cx="1974.7" cy="406.6" r="7.9" fill="url(#gBlack)" />
<circle cx="1980.5" cy="408.7" r="7.9" fill="url(#gBlack)" />
<circle cx="1986.2" cy="410.9" r="7.9" fill="url(#gBlack)" />
<circle cx="1992.0" cy="412.0" r="7.9" fill="url(#gBlack)" />
<circle cx="1997.8" cy="413.1" r="7.9" fill="url(#gBlack)" />
<circle cx="2003.6" cy="414.2" r="7.9" fill="url(#gBlack)" />
<circle cx="2009.3" cy="415.2" r="7.9" fill="url(#gBlack)" />
<circle cx="2015.1" cy="414.2" r="7.9" fill="url(#gBlack)" />
<circle cx="2020.9" cy="413.1" r="7.9" fill="url(#gBlack)" />
<circle cx="2026.7" cy="412.0" r="7.9" fill="url(#gBlack)" />
<circle cx="2032.5" cy="410.9" r="7.9" fill="url(#gBlack)" />
<circle cx="2038.2" cy="412.3" r="7.9" fill="url(#gBlack)" />
<circle cx="2044.0" cy="413.8" r="7.9" fill="url(#gBlack)" />
<circle cx="2049.8" cy="415.2" r="7.9" fill="url(#gBlack)" />
<circle cx="2055.6" cy="416.7" r="7.9" fill="url(#gBlack)" />
<circle cx="2061.3" cy="416.4" r="7.9" fill="url(#gBlack)" />
<circle cx="2067.1" cy="416.2" r="7.9" fill="url(#gBlack)" />
<circle cx="2072.9" cy="416.0" r="7.9" fill="url(#gBlack)" />
<circle cx="2078.7" cy="415.7" r="7.9" fill="url(#gBlack)" />
<circle cx="2084.5" cy="415.5" r="7.9" fill="url(#gBlack)" />
<circle cx="2090.2" cy="415.2" r="7.9" fill="url(#gBlack)" />
<circle cx="2096.0" cy="418.6" r="7.9" fill="url(#gBlack)" />
<circle cx="2101.8" cy="422.0" r="7.9" fill="url(#gBlack)" />
<circle cx="2107.6" cy="425.4" r="7.9" fill="url(#gBlack)" />
<circle cx="2113.3" cy="429.2" r="7.9" fill="url(#gBlack)" />
<circle cx="2119.1" cy="433.1" r="7.9" fill="url(#gBlack)" />
<circle cx="2124.9" cy="436.9" r="7.9" fill="url(#gBlack)" />
<circle cx="2130.7" cy="436.9" r="7.9" fill="url(#gBlack)" />
<circle cx="2136.5" cy="436.9" r="7.9" fill="url(#gBlack)" />
<circle cx="2142.2" cy="441.3" r="7.9" fill="url(#gBlack)" />
<circle cx="2148.0" cy="445.6" r="7.9" fill="url(#gBlack)" />
<circle cx="2153.8" cy="442.7" r="7.9" fill="url(#gBlack)" />
<circle cx="2159.6" cy="439.8" r="7.9" fill="url(#gBlack)" />
<circle cx="2165.3" cy="437.7" r="7.9" fill="url(#gBlack)" />
<circle cx="2171.1" cy="435.5" r="7.9" fill="url(#gBlack)" />
<circle cx="2176.9" cy="434.0" r="7.9" fill="url(#gBlack)" />
<circle cx="2182.7" cy="432.6" r="7.9" fill="url(#gBlack)" />
<circle cx="2188.5" cy="434.8" r="7.9" fill="url(#gBlack)" />
<circle cx="2194.2" cy="436.9" r="7.9" fill="url(#gBlack)" />
<circle cx="2200.0" cy="438.4" r="7.9" fill="url(#gBlack)" />
<circle cx="2205.8" cy="439.8" r="7.9" fill="url(#gBlack)" />
<circle cx="2211.6" cy="441.3" r="7.9" fill="url(#gBlack)" />
<circle cx="2217.3" cy="442.7" r="7.9" fill="url(#gBlack)" />
<circle cx="2223.1" cy="444.2" r="7.9" fill="url(#gBlack)" />
<circle cx="2228.9" cy="445.6" r="7.9" fill="url(#gBlack)" />
<circle cx="2234.7" cy="447.1" r="7.9" fill="url(#gBlack)" />
<circle cx="2240.4" cy="448.5" r="7.9" fill="url(#gBlack)" />
<circle cx="2246.2" cy="447.8" r="7.9" fill="url(#gBlack)" />
<circle cx="2252.0" cy="447.1" r="7.9" fill="url(#gBlack)" />
<circle cx="2257.8" cy="448.1" r="7.9" fill="url(#gBlack)" />
<circle cx="2263.6" cy="449.2" r="7.9" fill="url(#gBlack)" />
<circle cx="2269.3" cy="450.3" r="7.9" fill="url(#gBlack)" />
<circle cx="2275.1" cy="451.4" r="7.9" fill="url(#gBlack)" />
<circle cx="2280.9" cy="451.0" r="7.9" fill="url(#gBlack)" />
<circle cx="2286.7" cy="450.7" r="7.9" fill="url(#gBlack)" />
<circle cx="2292.4" cy="450.3" r="7.9" fill="url(#gBlack)" />
<circle cx="2298.2" cy="449.9" r="7.9" fill="url(#gBlack)" />
<circle cx="2304.0" cy="448.9" r="7.9" fill="url(#gBlack)" />
<circle cx="2309.8" cy="447.8" r="7.9" fill="url(#gBlack)" />
<circle cx="2315.6" cy="446.7" r="7.9" fill="url(#gBlack)" />
<circle cx="2321.3" cy="445.6" r="7.9" fill="url(#gBlack)" />
<circle cx="2327.1" cy="446.3" r="7.9" fill="url(#gBlack)" />
<circle cx="2332.9" cy="447.1" r="7.9" fill="url(#gBlack)" />
<circle cx="2338.7" cy="447.8" r="7.9" fill="url(#gBlack)" />
<circle cx="2344.4" cy="448.5" r="7.9" fill="url(#gBlack)" />
<circle cx="2350.2" cy="449.2" r="7.9" fill="url(#gBlack)" />
<circle cx="2356.0" cy="449.9" r="7.9" fill="url(#gBlack)" />
<circle cx="1899.6" cy="280.8" r="7.9" fill="url(#gLight)" />
<circle cx="1905.4" cy="282.2" r="7.9" fill="url(#gLight)" />
<circle cx="1911.1" cy="299.6" r="7.9" fill="url(#gLight)" />
<circle cx="1916.9" cy="301.0" r="7.9" fill="url(#gLight)" />
<circle cx="1922.7" cy="302.4" r="7.9" fill="url(#gLight)" />
<circle cx="1928.5" cy="302.4" r="7.9" fill="url(#gLight)" />
<circle cx="1934.2" cy="302.4" r="7.9" fill="url(#gLight)" />
<circle cx="1940.0" cy="302.4" r="7.9" fill="url(#gLight)" />
<circle cx="1945.8" cy="302.4" r="7.9" fill="url(#gLight)" />
<circle cx="1951.6" cy="314.0" r="7.9" fill="url(#gLight)" />
<circle cx="1957.4" cy="302.4" r="7.9" fill="url(#gLight)" />
<circle cx="1963.1" cy="301.9" r="7.9" fill="url(#gLight)" />
<circle cx="1968.9" cy="301.3" r="7.9" fill="url(#gLight)" />
<circle cx="1974.7" cy="300.7" r="7.9" fill="url(#gLight)" />
<circle cx="1980.5" cy="300.1" r="7.9" fill="url(#gLight)" />
<circle cx="1986.2" cy="299.6" r="7.9" fill="url(#gLight)" />
<circle cx="1992.0" cy="299.9" r="7.9" fill="url(#gLight)" />
<circle cx="1997.8" cy="300.2" r="7.9" fill="url(#gLight)" />
<circle cx="2003.6" cy="300.5" r="7.9" fill="url(#gLight)" />
<circle cx="2009.3" cy="300.8" r="7.9" fill="url(#gLight)" />
<circle cx="2015.1" cy="301.2" r="7.9" fill="url(#gLight)" />
<circle cx="2020.9" cy="301.5" r="7.9" fill="url(#gLight)" />
<circle cx="2026.7" cy="301.8" r="7.9" fill="url(#gLight)" />
<circle cx="2032.5" cy="302.1" r="7.9" fill="url(#gLight)" />
<circle cx="2038.2" cy="302.4" r="7.9" fill="url(#gLight)" />
<circle cx="2044.0" cy="304.4" r="7.9" fill="url(#gLight)" />
<circle cx="2049.8" cy="306.3" r="7.9" fill="url(#gLight)" />
<circle cx="2055.6" cy="308.2" r="7.9" fill="url(#gLight)" />
<circle cx="2061.3" cy="311.1" r="7.9" fill="url(#gLight)" />
<circle cx="2067.1" cy="314.0" r="7.9" fill="url(#gLight)" />
<circle cx="2072.9" cy="314.0" r="7.9" fill="url(#gLight)" />
<circle cx="2078.7" cy="314.0" r="7.9" fill="url(#gLight)" />
<circle cx="2084.5" cy="314.0" r="7.9" fill="url(#gLight)" />
<circle cx="2090.2" cy="309.7" r="7.9" fill="url(#gLight)" />
<circle cx="2096.0" cy="310.8" r="7.9" fill="url(#gLight)" />
<circle cx="2101.8" cy="311.8" r="7.9" fill="url(#gLight)" />
<circle cx="2107.6" cy="312.9" r="7.9" fill="url(#gLight)" />
<circle cx="2113.3" cy="314.0" r="7.9" fill="url(#gLight)" />
<circle cx="2119.1" cy="314.5" r="7.9" fill="url(#gLight)" />
<circle cx="2124.9" cy="315.0" r="7.9" fill="url(#gLight)" />
<circle cx="2130.7" cy="315.5" r="7.9" fill="url(#gLight)" />
<circle cx="2136.5" cy="315.9" r="7.9" fill="url(#gLight)" />
<circle cx="2142.2" cy="316.4" r="7.9" fill="url(#gLight)" />
<circle cx="2148.0" cy="316.9" r="7.9" fill="url(#gLight)" />
<circle cx="2153.8" cy="319.8" r="7.9" fill="url(#gLight)" />
<circle cx="2159.6" cy="328.5" r="7.9" fill="url(#gLight)" />
<circle cx="2165.3" cy="329.9" r="7.9" fill="url(#gLight)" />
<circle cx="2171.1" cy="331.4" r="7.9" fill="url(#gLight)" />
<circle cx="2176.9" cy="331.4" r="7.9" fill="url(#gLight)" />
<circle cx="2182.7" cy="331.4" r="7.9" fill="url(#gLight)" />
<circle cx="2188.5" cy="331.4" r="7.9" fill="url(#gLight)" />
<circle cx="2194.2" cy="327.0" r="7.9" fill="url(#gLight)" />
<circle cx="2200.0" cy="322.7" r="7.9" fill="url(#gLight)" />
<circle cx="2205.8" cy="322.0" r="7.9" fill="url(#gLight)" />
<circle cx="2211.6" cy="321.2" r="7.9" fill="url(#gLight)" />
<circle cx="2217.3" cy="319.1" r="7.9" fill="url(#gLight)" />
<circle cx="2223.1" cy="316.9" r="7.9" fill="url(#gLight)" />
<circle cx="2228.9" cy="315.5" r="7.9" fill="url(#gLight)" />
<circle cx="2234.7" cy="322.0" r="7.9" fill="url(#gLight)" />
<circle cx="2240.4" cy="328.5" r="7.9" fill="url(#gLight)" />
<circle cx="2246.2" cy="325.6" r="7.9" fill="url(#gLight)" />
<circle cx="2252.0" cy="322.7" r="7.9" fill="url(#gLight)" />
<circle cx="2257.8" cy="323.4" r="7.9" fill="url(#gLight)" />
<circle cx="2263.6" cy="324.1" r="7.9" fill="url(#gLight)" />
<circle cx="2269.3" cy="324.9" r="7.9" fill="url(#gLight)" />
<circle cx="2275.1" cy="325.6" r="7.9" fill="url(#gLight)" />
<circle cx="2280.9" cy="326.7" r="7.9" fill="url(#gLight)" />
<circle cx="2286.7" cy="327.8" r="7.9" fill="url(#gLight)" />
<circle cx="2292.4" cy="328.8" r="7.9" fill="url(#gLight)" />
<circle cx="2298.2" cy="329.9" r="7.9" fill="url(#gLight)" />
<circle cx="2304.0" cy="329.2" r="7.9" fill="url(#gLight)" />
<circle cx="2309.8" cy="328.5" r="7.9" fill="url(#gLight)" />
<circle cx="2315.6" cy="325.6" r="7.9" fill="url(#gLight)" />
<circle cx="2321.3" cy="322.7" r="7.9" fill="url(#gLight)" />
<circle cx="2327.1" cy="326.3" r="7.9" fill="url(#gLight)" />
<circle cx="2332.9" cy="329.9" r="7.9" fill="url(#gLight)" />
<circle cx="2338.7" cy="327.8" r="7.9" fill="url(#gLight)" />
<circle cx="2344.4" cy="325.6" r="7.9" fill="url(#gLight)" />
<circle cx="2350.2" cy="328.5" r="7.9" fill="url(#gLight)" />
<circle cx="2356.0" cy="331.4" r="7.9" fill="url(#gLight)" />
<line x1="2020.9" y1="454.3" x2="2150.9" y2="399.3" stroke="#555" stroke-width="3.5" />
<path d="M2162.5,395.0 L2142.2,394.3 L2149.7,405.1 Z" fill="#555" />
<rect x="1893.8" y="179.3" width="462.2" height="318.1" fill="none" stroke="#000" stroke-width="3" />
<line x1="1893.8" y1="179.3" x2="1893.8" y2="186.3" stroke="#000" stroke-width="2.5" />
<line x1="2009.3" y1="179.3" x2="2009.3" y2="186.3" stroke="#000" stroke-width="2.5" />
<line x1="2124.9" y1="179.3" x2="2124.9" y2="186.3" stroke="#000" stroke-width="2.5" />
<line x1="2240.4" y1="179.3" x2="2240.4" y2="186.3" stroke="#000" stroke-width="2.5" />
<line x1="2356.0" y1="179.3" x2="2356.0" y2="186.3" stroke="#000" stroke-width="2.5" />
<line x1="1951.6" y1="179.3" x2="1951.6" y2="183.3" stroke="#000" stroke-width="2" />
<line x1="2067.1" y1="179.3" x2="2067.1" y2="183.3" stroke="#000" stroke-width="2" />
<line x1="2182.7" y1="179.3" x2="2182.7" y2="183.3" stroke="#000" stroke-width="2" />
<line x1="2298.2" y1="179.3" x2="2298.2" y2="183.3" stroke="#000" stroke-width="2" />
<line x1="1893.8" y1="497.4" x2="1893.8" y2="490.4" stroke="#000" stroke-width="2.5" />
<line x1="2009.3" y1="497.4" x2="2009.3" y2="490.4" stroke="#000" stroke-width="2.5" />
<line x1="2124.9" y1="497.4" x2="2124.9" y2="490.4" stroke="#000" stroke-width="2.5" />
<line x1="2240.4" y1="497.4" x2="2240.4" y2="490.4" stroke="#000" stroke-width="2.5" />
<line x1="2356.0" y1="497.4" x2="2356.0" y2="490.4" stroke="#000" stroke-width="2.5" />
<line x1="1951.6" y1="497.4" x2="1951.6" y2="493.4" stroke="#000" stroke-width="2" />
<line x1="2067.1" y1="497.4" x2="2067.1" y2="493.4" stroke="#000" stroke-width="2" />
<line x1="2182.7" y1="497.4" x2="2182.7" y2="493.4" stroke="#000" stroke-width="2" />
<line x1="2298.2" y1="497.4" x2="2298.2" y2="493.4" stroke="#000" stroke-width="2" />
<line x1="1893.8" y1="483.2" x2="1901.8" y2="483.2" stroke="#000" stroke-width="2.5" />
<line x1="1893.8" y1="410.9" x2="1901.8" y2="410.9" stroke="#000" stroke-width="2.5" />
<line x1="1893.8" y1="338.6" x2="1901.8" y2="338.6" stroke="#000" stroke-width="2.5" />
<line x1="1893.8" y1="266.3" x2="1901.8" y2="266.3" stroke="#000" stroke-width="2.5" />
<line x1="1893.8" y1="194.0" x2="1901.8" y2="194.0" stroke="#000" stroke-width="2.5" />
<line x1="1893.8" y1="447.1" x2="1898.8" y2="447.1" stroke="#000" stroke-width="2" />
<line x1="1893.8" y1="374.8" x2="1898.8" y2="374.8" stroke="#000" stroke-width="2" />
<line x1="1893.8" y1="302.4" x2="1898.8" y2="302.4" stroke="#000" stroke-width="2" />
<line x1="1893.8" y1="230.2" x2="1898.8" y2="230.2" stroke="#000" stroke-width="2" />
<line x1="2356.0" y1="483.2" x2="2348.0" y2="483.2" stroke="#000" stroke-width="2.5" />
<line x1="2356.0" y1="410.9" x2="2348.0" y2="410.9" stroke="#000" stroke-width="2.5" />
<line x1="2356.0" y1="338.6" x2="2348.0" y2="338.6" stroke="#000" stroke-width="2.5" />
<line x1="2356.0" y1="266.3" x2="2348.0" y2="266.3" stroke="#000" stroke-width="2.5" />
<line x1="2356.0" y1="194.0" x2="2348.0" y2="194.0" stroke="#000" stroke-width="2.5" />
<line x1="2356.0" y1="447.1" x2="2351.0" y2="447.1" stroke="#000" stroke-width="2" />
<line x1="2356.0" y1="374.8" x2="2351.0" y2="374.8" stroke="#000" stroke-width="2" />
<line x1="2356.0" y1="302.4" x2="2351.0" y2="302.4" stroke="#000" stroke-width="2" />
<line x1="2356.0" y1="230.2" x2="2351.0" y2="230.2" stroke="#000" stroke-width="2" />
<text x="1885.5" y="489.2" font-family="'Liberation Sans', Arial, sans-serif" font-size="25" stroke="#000" stroke-width="0.5" text-anchor="end" textLength="29.6" lengthAdjust="spacingAndGlyphs" >50</text>
<text x="1885.5" y="416.9" font-family="'Liberation Sans', Arial, sans-serif" font-size="25" stroke="#000" stroke-width="0.5" text-anchor="end" textLength="44.4" lengthAdjust="spacingAndGlyphs" >100</text>
<text x="1885.5" y="344.6" font-family="'Liberation Sans', Arial, sans-serif" font-size="25" stroke="#000" stroke-width="0.5" text-anchor="end" textLength="44.4" lengthAdjust="spacingAndGlyphs" >150</text>
<text x="1885.5" y="272.3" font-family="'Liberation Sans', Arial, sans-serif" font-size="25" stroke="#000" stroke-width="0.5" text-anchor="end" textLength="44.4" lengthAdjust="spacingAndGlyphs" >200</text>
<text x="1885.5" y="200.0" font-family="'Liberation Sans', Arial, sans-serif" font-size="25" stroke="#000" stroke-width="0.5" text-anchor="end" textLength="44.4" lengthAdjust="spacingAndGlyphs" >250</text>
<text x="1893.8" y="526.0" font-family="'Liberation Sans', Arial, sans-serif" font-size="25" stroke="#000" stroke-width="0.5" text-anchor="middle" textLength="15" lengthAdjust="spacingAndGlyphs" >0</text>
<text x="2009.3" y="526.0" font-family="'Liberation Sans', Arial, sans-serif" font-size="25" stroke="#000" stroke-width="0.5" text-anchor="middle" textLength="31" lengthAdjust="spacingAndGlyphs" >20</text>
<text x="2124.9" y="526.0" font-family="'Liberation Sans', Arial, sans-serif" font-size="25" stroke="#000" stroke-width="0.5" text-anchor="middle" textLength="31" lengthAdjust="spacingAndGlyphs" >40</text>
<text x="2240.4" y="526.0" font-family="'Liberation Sans', Arial, sans-serif" font-size="25" stroke="#000" stroke-width="0.5" text-anchor="middle" textLength="31" lengthAdjust="spacingAndGlyphs" >60</text>
<text x="2356.0" y="526.0" font-family="'Liberation Sans', Arial, sans-serif" font-size="25" stroke="#000" stroke-width="0.5" text-anchor="middle" textLength="31" lengthAdjust="spacingAndGlyphs" >80</text>
<text x="2031.0" y="557.6" font-family="'Liberation Sans', Arial, sans-serif" font-size="31" stroke="#000" stroke-width="0.5" textLength="231" lengthAdjust="spacingAndGlyphs" >Cycle Number</text>
<text transform="translate(1827.0,476.6) rotate(-90)" font-family="'Liberation Sans', Arial, sans-serif" font-size="35" stroke="#000" stroke-width="0.5" textLength="285" lengthAdjust="spacingAndGlyphs" >Capacity (mAhg<tspan font-size="22" dy="-16">-1</tspan><tspan dy="16">)</tspan></text>
<text x="2013.0" y="228.5" font-family="'Liberation Sans', Arial, sans-serif" font-size="28" stroke="#000" stroke-width="0.5" font-weight="bold" textLength="236" lengthAdjust="spacingAndGlyphs" >1.0-3.0 V @ 0.5C</text>
<text x="2074.0" y="390.6" font-family="'Liberation Sans', Arial, sans-serif" font-size="24" stroke="#444" stroke-width="0.5" font-weight="bold" fill="#444" textLength="217" lengthAdjust="spacingAndGlyphs" >TiO<tspan font-size="15" dy="7">2</tspan><tspan dy="-7"> NPs @ 0.1 C</tspan></text>
<line x1="1988.9" y1="588.0" x2="1988.9" y2="907.3" stroke="#000" stroke-width="2.5" stroke-dasharray="10,7"/>
<line x1="2077.8" y1="588.0" x2="2077.8" y2="907.3" stroke="#000" stroke-width="2.5" stroke-dasharray="10,7"/>
<line x1="2166.6" y1="588.0" x2="2166.6" y2="907.3" stroke="#000" stroke-width="2.5" stroke-dasharray="10,7"/>
<line x1="2255.5" y1="588.0" x2="2255.5" y2="907.3" stroke="#000" stroke-width="2.5" stroke-dasharray="10,7"/>
<circle cx="1909.9" cy="703.8" r="8.3" fill="url(#gBlack)" />
<circle cx="1918.8" cy="797.0" r="8.3" fill="url(#gBlack)" />
<circle cx="1927.7" cy="807.7" r="8.3" fill="url(#gBlack)" />
<circle cx="1936.6" cy="807.7" r="8.3" fill="url(#gBlack)" />
<circle cx="1945.4" cy="806.4" r="8.3" fill="url(#gBlack)" />
<circle cx="1954.3" cy="805.0" r="8.3" fill="url(#gBlack)" />
<circle cx="1963.2" cy="806.4" r="8.3" fill="url(#gBlack)" />
<circle cx="1972.1" cy="807.7" r="8.3" fill="url(#gBlack)" />
<circle cx="1981.0" cy="806.4" r="8.3" fill="url(#gBlack)" />
<circle cx="1989.9" cy="805.0" r="8.3" fill="url(#gBlack)" />
<circle cx="1998.8" cy="811.7" r="8.3" fill="url(#gBlack)" />
<circle cx="2007.7" cy="819.7" r="8.3" fill="url(#gBlack)" />
<circle cx="2016.5" cy="823.7" r="8.3" fill="url(#gBlack)" />
<circle cx="2025.4" cy="823.7" r="8.3" fill="url(#gBlack)" />
<circle cx="2034.3" cy="823.7" r="8.3" fill="url(#gBlack)" />
<circle cx="2043.2" cy="827.7" r="8.3" fill="url(#gBlack)" />
<circle cx="2052.1" cy="834.3" r="8.3" fill="url(#gBlack)" />
<circle cx="2061.0" cy="831.6" r="8.3" fill="url(#gBlack)" />
<circle cx="2069.9" cy="834.3" r="8.3" fill="url(#gBlack)" />
<circle cx="2078.8" cy="837.0" r="8.3" fill="url(#gBlack)" />
<circle cx="2087.6" cy="841.0" r="8.3" fill="url(#gBlack)" />
<circle cx="2096.5" cy="845.0" r="8.3" fill="url(#gBlack)" />
<circle cx="2105.4" cy="850.3" r="8.3" fill="url(#gBlack)" />
<circle cx="2114.3" cy="856.9" r="8.3" fill="url(#gBlack)" />
<circle cx="2123.2" cy="862.3" r="8.3" fill="url(#gBlack)" />
<circle cx="2132.1" cy="860.9" r="8.3" fill="url(#gBlack)" />
<circle cx="2141.0" cy="854.3" r="8.3" fill="url(#gBlack)" />
<circle cx="2149.9" cy="854.3" r="8.3" fill="url(#gBlack)" />
<circle cx="2158.8" cy="855.6" r="8.3" fill="url(#gBlack)" />
<circle cx="2167.6" cy="858.3" r="8.3" fill="url(#gBlack)" />
<circle cx="2176.5" cy="874.3" r="8.3" fill="url(#gBlack)" />
<circle cx="2185.4" cy="878.3" r="8.3" fill="url(#gBlack)" />
<circle cx="2194.3" cy="879.6" r="8.3" fill="url(#gBlack)" />
<circle cx="2203.2" cy="880.9" r="8.3" fill="url(#gBlack)" />
<circle cx="2212.1" cy="882.2" r="8.3" fill="url(#gBlack)" />
<circle cx="2221.0" cy="882.2" r="8.3" fill="url(#gBlack)" />
<circle cx="2229.9" cy="884.9" r="8.3" fill="url(#gBlack)" />
<circle cx="2238.7" cy="887.6" r="8.3" fill="url(#gBlack)" />
<circle cx="2247.6" cy="890.2" r="8.3" fill="url(#gBlack)" />
<circle cx="2256.5" cy="891.6" r="8.3" fill="url(#gBlack)" />
<circle cx="2265.4" cy="821.0" r="8.3" fill="url(#gBlack)" />
<circle cx="2274.3" cy="825.0" r="8.3" fill="url(#gBlack)" />
<circle cx="2283.2" cy="830.3" r="8.3" fill="url(#gBlack)" />
<circle cx="2292.1" cy="834.3" r="8.3" fill="url(#gBlack)" />
<circle cx="2301.0" cy="830.3" r="8.3" fill="url(#gBlack)" />
<circle cx="2309.8" cy="833.0" r="8.3" fill="url(#gBlack)" />
<circle cx="2318.7" cy="834.3" r="8.3" fill="url(#gBlack)" />
<circle cx="2327.6" cy="834.3" r="8.3" fill="url(#gBlack)" />
<circle cx="2336.5" cy="834.3" r="8.3" fill="url(#gBlack)" />
<circle cx="2345.4" cy="837.0" r="8.3" fill="url(#gBlack)" />
<circle cx="1909.9" cy="610.6" r="8.3" fill="url(#gLight)" />
<circle cx="1918.8" cy="707.8" r="8.3" fill="url(#gLight)" />
<circle cx="1927.7" cy="711.8" r="8.3" fill="url(#gLight)" />
<circle cx="1936.6" cy="715.8" r="8.3" fill="url(#gLight)" />
<circle cx="1945.4" cy="717.1" r="8.3" fill="url(#gLight)" />
<circle cx="1954.3" cy="718.5" r="8.3" fill="url(#gLight)" />
<circle cx="1963.2" cy="719.8" r="8.3" fill="url(#gLight)" />
<circle cx="1972.1" cy="718.5" r="8.3" fill="url(#gLight)" />
<circle cx="1981.0" cy="717.1" r="8.3" fill="url(#gLight)" />
<circle cx="1989.9" cy="714.5" r="8.3" fill="url(#gLight)" />
<circle cx="1998.8" cy="727.8" r="8.3" fill="url(#gLight)" />
<circle cx="2007.7" cy="753.1" r="8.3" fill="url(#gLight)" />
<circle cx="2016.5" cy="755.8" r="8.3" fill="url(#gLight)" />
<circle cx="2025.4" cy="757.1" r="8.3" fill="url(#gLight)" />
<circle cx="2034.3" cy="758.4" r="8.3" fill="url(#gLight)" />
<circle cx="2043.2" cy="758.4" r="8.3" fill="url(#gLight)" />
<circle cx="2052.1" cy="758.4" r="8.3" fill="url(#gLight)" />
<circle cx="2061.0" cy="758.4" r="8.3" fill="url(#gLight)" />
<circle cx="2069.9" cy="759.7" r="8.3" fill="url(#gLight)" />
<circle cx="2078.8" cy="759.7" r="8.3" fill="url(#gLight)" />
<circle cx="2087.6" cy="762.4" r="8.3" fill="url(#gLight)" />
<circle cx="2096.5" cy="763.7" r="8.3" fill="url(#gLight)" />
<circle cx="2105.4" cy="761.1" r="8.3" fill="url(#gLight)" />
<circle cx="2114.3" cy="763.7" r="8.3" fill="url(#gLight)" />
<circle cx="2123.2" cy="767.7" r="8.3" fill="url(#gLight)" />
<circle cx="2132.1" cy="765.1" r="8.3" fill="url(#gLight)" />
<circle cx="2141.0" cy="763.7" r="8.3" fill="url(#gLight)" />
<circle cx="2149.9" cy="763.7" r="8.3" fill="url(#gLight)" />
<circle cx="2158.8" cy="765.1" r="8.3" fill="url(#gLight)" />
<circle cx="2167.6" cy="770.4" r="8.3" fill="url(#gLight)" />
<circle cx="2176.5" cy="813.0" r="8.3" fill="url(#gLight)" />
<circle cx="2185.4" cy="814.3" r="8.3" fill="url(#gLight)" />
<circle cx="2194.3" cy="814.3" r="8.3" fill="url(#gLight)" />
<circle cx="2203.2" cy="815.7" r="8.3" fill="url(#gLight)" />
<circle cx="2212.1" cy="814.3" r="8.3" fill="url(#gLight)" />
<circle cx="2221.0" cy="815.7" r="8.3" fill="url(#gLight)" />
<circle cx="2229.9" cy="815.7" r="8.3" fill="url(#gLight)" />
<circle cx="2238.7" cy="814.3" r="8.3" fill="url(#gLight)" />
<circle cx="2247.6" cy="814.3" r="8.3" fill="url(#gLight)" />
<circle cx="2256.5" cy="815.7" r="8.3" fill="url(#gLight)" />
<circle cx="2265.4" cy="723.8" r="8.3" fill="url(#gLight)" />
<circle cx="2274.3" cy="729.1" r="8.3" fill="url(#gLight)" />
<circle cx="2283.2" cy="731.8" r="8.3" fill="url(#gLight)" />
<circle cx="2292.1" cy="733.1" r="8.3" fill="url(#gLight)" />
<circle cx="2301.0" cy="734.5" r="8.3" fill="url(#gLight)" />
<circle cx="2309.8" cy="737.1" r="8.3" fill="url(#gLight)" />
<circle cx="2318.7" cy="734.5" r="8.3" fill="url(#gLight)" />
<circle cx="2327.6" cy="734.5" r="8.3" fill="url(#gLight)" />
<circle cx="2336.5" cy="734.5" r="8.3" fill="url(#gLight)" />
<circle cx="2345.4" cy="735.8" r="8.3" fill="url(#gLight)" />
<rect x="1892.0" y="588.0" width="463.0" height="319.3" fill="none" stroke="#000" stroke-width="3" />
<line x1="1901.0" y1="588.0" x2="1901.0" y2="595.0" stroke="#000" stroke-width="2.5" />
<line x1="1989.9" y1="588.0" x2="1989.9" y2="595.0" stroke="#000" stroke-width="2.5" />
<line x1="2078.8" y1="588.0" x2="2078.8" y2="595.0" stroke="#000" stroke-width="2.5" />
<line x1="2167.6" y1="588.0" x2="2167.6" y2="595.0" stroke="#000" stroke-width="2.5" />
<line x1="2256.5" y1="588.0" x2="2256.5" y2="595.0" stroke="#000" stroke-width="2.5" />
<line x1="2345.4" y1="588.0" x2="2345.4" y2="595.0" stroke="#000" stroke-width="2.5" />
<line x1="1945.4" y1="588.0" x2="1945.4" y2="592.0" stroke="#000" stroke-width="2" />
<line x1="2034.3" y1="588.0" x2="2034.3" y2="592.0" stroke="#000" stroke-width="2" />
<line x1="2123.2" y1="588.0" x2="2123.2" y2="592.0" stroke="#000" stroke-width="2" />
<line x1="2212.1" y1="588.0" x2="2212.1" y2="592.0" stroke="#000" stroke-width="2" />
<line x1="2301.0" y1="588.0" x2="2301.0" y2="592.0" stroke="#000" stroke-width="2" />
<line x1="1901.0" y1="907.3" x2="1901.0" y2="900.3" stroke="#000" stroke-width="2.5" />
<line x1="1989.9" y1="907.3" x2="1989.9" y2="900.3" stroke="#000" stroke-width="2.5" />
<line x1="2078.8" y1="907.3" x2="2078.8" y2="900.3" stroke="#000" stroke-width="2.5" />
<line x1="2167.6" y1="907.3" x2="2167.6" y2="900.3" stroke="#000" stroke-width="2.5" />
<line x1="2256.5" y1="907.3" x2="2256.5" y2="900.3" stroke="#000" stroke-width="2.5" />
<line x1="2345.4" y1="907.3" x2="2345.4" y2="900.3" stroke="#000" stroke-width="2.5" />
<line x1="1945.4" y1="907.3" x2="1945.4" y2="903.3" stroke="#000" stroke-width="2" />
<line x1="2034.3" y1="907.3" x2="2034.3" y2="903.3" stroke="#000" stroke-width="2" />
<line x1="2123.2" y1="907.3" x2="2123.2" y2="903.3" stroke="#000" stroke-width="2" />
<line x1="2212.1" y1="907.3" x2="2212.1" y2="903.3" stroke="#000" stroke-width="2" />
<line x1="2301.0" y1="907.3" x2="2301.0" y2="903.3" stroke="#000" stroke-width="2" />
<line x1="1892.0" y1="867.6" x2="1900.0" y2="867.6" stroke="#000" stroke-width="2.5" />
<line x1="1892.0" y1="801.0" x2="1900.0" y2="801.0" stroke="#000" stroke-width="2.5" />
<line x1="1892.0" y1="734.5" x2="1900.0" y2="734.5" stroke="#000" stroke-width="2.5" />
<line x1="1892.0" y1="667.9" x2="1900.0" y2="667.9" stroke="#000" stroke-width="2.5" />
<line x1="1892.0" y1="601.3" x2="1900.0" y2="601.3" stroke="#000" stroke-width="2.5" />
<line x1="1892.0" y1="834.3" x2="1897.0" y2="834.3" stroke="#000" stroke-width="2" />
<line x1="1892.0" y1="767.7" x2="1897.0" y2="767.7" stroke="#000" stroke-width="2" />
<line x1="1892.0" y1="701.2" x2="1897.0" y2="701.2" stroke="#000" stroke-width="2" />
<line x1="1892.0" y1="634.6" x2="1897.0" y2="634.6" stroke="#000" stroke-width="2" />
<line x1="2355.0" y1="867.6" x2="2347.0" y2="867.6" stroke="#000" stroke-width="2.5" />
<line x1="2355.0" y1="801.0" x2="2347.0" y2="801.0" stroke="#000" stroke-width="2.5" />
<line x1="2355.0" y1="734.5" x2="2347.0" y2="734.5" stroke="#000" stroke-width="2.5" />
<line x1="2355.0" y1="667.9" x2="2347.0" y2="667.9" stroke="#000" stroke-width="2.5" />
<line x1="2355.0" y1="601.3" x2="2347.0" y2="601.3" stroke="#000" stroke-width="2.5" />
<line x1="2355.0" y1="834.3" x2="2350.0" y2="834.3" stroke="#000" stroke-width="2" />
<line x1="2355.0" y1="767.7" x2="2350.0" y2="767.7" stroke="#000" stroke-width="2" />
<line x1="2355.0" y1="701.2" x2="2350.0" y2="701.2" stroke="#000" stroke-width="2" />
<line x1="2355.0" y1="634.6" x2="2350.0" y2="634.6" stroke="#000" stroke-width="2" />
<text x="1884.0" y="873.6" font-family="'Liberation Sans', Arial, sans-serif" font-size="25" stroke="#000" stroke-width="0.5" text-anchor="end" textLength="29.6" lengthAdjust="spacingAndGlyphs" >50</text>
<text x="1884.0" y="807.0" font-family="'Liberation Sans', Arial, sans-serif" font-size="25" stroke="#000" stroke-width="0.5" text-anchor="end" textLength="44.4" lengthAdjust="spacingAndGlyphs" >100</text>
<text x="1884.0" y="740.5" font-family="'Liberation Sans', Arial, sans-serif" font-size="25" stroke="#000" stroke-width="0.5" text-anchor="end" textLength="44.4" lengthAdjust="spacingAndGlyphs" >150</text>
<text x="1884.0" y="673.9" font-family="'Liberation Sans', Arial, sans-serif" font-size="25" stroke="#000" stroke-width="0.5" text-anchor="end" textLength="44.4" lengthAdjust="spacingAndGlyphs" >200</text>
<text x="1884.0" y="607.3" font-family="'Liberation Sans', Arial, sans-serif" font-size="25" stroke="#000" stroke-width="0.5" text-anchor="end" textLength="44.4" lengthAdjust="spacingAndGlyphs" >250</text>
<text x="1901.0" y="934.5" font-family="'Liberation Sans', Arial, sans-serif" font-size="25" stroke="#000" stroke-width="0.5" text-anchor="middle" textLength="15" lengthAdjust="spacingAndGlyphs" >0</text>
<text x="1989.9" y="934.5" font-family="'Liberation Sans', Arial, sans-serif" font-size="25" stroke="#000" stroke-width="0.5" text-anchor="middle" textLength="31" lengthAdjust="spacingAndGlyphs" >10</text>
<text x="2078.8" y="934.5" font-family="'Liberation Sans', Arial, sans-serif" font-size="25" stroke="#000" stroke-width="0.5" text-anchor="middle" textLength="31" lengthAdjust="spacingAndGlyphs" >20</text>
<text x="2167.6" y="934.5" font-family="'Liberation Sans', Arial, sans-serif" font-size="25" stroke="#000" stroke-width="0.5" text-anchor="middle" textLength="31" lengthAdjust="spacingAndGlyphs" >30</text>
<text x="2256.5" y="934.5" font-family="'Liberation Sans', Arial, sans-serif" font-size="25" stroke="#000" stroke-width="0.5" text-anchor="middle" textLength="31" lengthAdjust="spacingAndGlyphs" >40</text>
<text x="2345.4" y="934.5" font-family="'Liberation Sans', Arial, sans-serif" font-size="25" stroke="#000" stroke-width="0.5" text-anchor="middle" textLength="31" lengthAdjust="spacingAndGlyphs" >50</text>
<text x="2014.6" y="965.2" font-family="'Liberation Sans', Arial, sans-serif" font-size="31" stroke="#000" stroke-width="0.5" textLength="231" lengthAdjust="spacingAndGlyphs" >Cycle Number</text>
<text transform="translate(1830.0,890.0) rotate(-90)" font-family="'Liberation Sans', Arial, sans-serif" font-size="35" stroke="#000" stroke-width="0.5" textLength="285" lengthAdjust="spacingAndGlyphs" >Capacity (mAhg<tspan font-size="22" dy="-16">-1</tspan><tspan dy="16">)</tspan></text>
<text x="1913.5" y="652.6" font-family="'Liberation Sans', Arial, sans-serif" font-size="23" stroke="#000" stroke-width="0.5" textLength="54.5" lengthAdjust="spacingAndGlyphs" >0.5C</text>
<text x="2020.0" y="652.6" font-family="'Liberation Sans', Arial, sans-serif" font-size="23" stroke="#000" stroke-width="0.5" textLength="34" lengthAdjust="spacingAndGlyphs" >1C</text>
<text x="2102.0" y="652.6" font-family="'Liberation Sans', Arial, sans-serif" font-size="23" stroke="#000" stroke-width="0.5" textLength="56" lengthAdjust="spacingAndGlyphs" >2.5C</text>
<text x="2201.0" y="652.6" font-family="'Liberation Sans', Arial, sans-serif" font-size="23" stroke="#000" stroke-width="0.5" textLength="34" lengthAdjust="spacingAndGlyphs" >5C</text>
<text x="2285.0" y="652.6" font-family="'Liberation Sans', Arial, sans-serif" font-size="23" stroke="#000" stroke-width="0.5" textLength="56" lengthAdjust="spacingAndGlyphs" >0.5C</text>
<rect x="714.3" y="1104.6" width="7.6" height="7.6" fill="#f00" />
<rect x="724.3" y="1205.0" width="7.6" height="7.6" fill="#f00" />
<rect x="734.4" y="1211.8" width="7.6" height="7.6" fill="#f00" />
<rect x="744.5" y="1210.8" width="7.6" height="7.6" fill="#f00" />
<rect x="754.5" y="1215.7" width="7.6" height="7.6" fill="#f00" />
<rect x="764.6" y="1218.6" width="7.6" height="7.6" fill="#f00" />
<rect x="774.7" y="1219.6" width="7.6" height="7.6" fill="#f00" />
<rect x="784.7" y="1225.4" width="7.6" height="7.6" fill="#f00" />
<rect x="794.8" y="1224.5" width="7.6" height="7.6" fill="#f00" />
<rect x="804.9" y="1232.3" width="7.6" height="7.6" fill="#f00" />
<rect x="814.9" y="1230.3" width="7.6" height="7.6" fill="#f00" />
<rect x="825.0" y="1234.2" width="7.6" height="7.6" fill="#f00" />
<rect x="835.1" y="1232.3" width="7.6" height="7.6" fill="#f00" />
<rect x="845.1" y="1233.2" width="7.6" height="7.6" fill="#f00" />
<rect x="855.2" y="1225.4" width="7.6" height="7.6" fill="#f00" />
<rect x="865.3" y="1232.3" width="7.6" height="7.6" fill="#f00" />
<rect x="875.3" y="1223.5" width="7.6" height="7.6" fill="#f00" />
<rect x="885.4" y="1225.4" width="7.6" height="7.6" fill="#f00" />
<rect x="895.5" y="1223.5" width="7.6" height="7.6" fill="#f00" />
<rect x="905.6" y="1232.3" width="7.6" height="7.6" fill="#f00" />
<rect x="915.6" y="1232.3" width="7.6" height="7.6" fill="#f00" />
<rect x="925.7" y="1236.2" width="7.6" height="7.6" fill="#f00" />
<rect x="935.8" y="1238.1" width="7.6" height="7.6" fill="#f00" />
<rect x="945.8" y="1232.3" width="7.6" height="7.6" fill="#f00" />
<rect x="955.9" y="1238.1" width="7.6" height="7.6" fill="#f00" />
<rect x="966.0" y="1230.3" width="7.6" height="7.6" fill="#f00" />
<rect x="976.0" y="1235.2" width="7.6" height="7.6" fill="#f00" />
<rect x="986.1" y="1235.2" width="7.6" height="7.6" fill="#f00" />
<rect x="996.2" y="1237.1" width="7.6" height="7.6" fill="#f00" />
<rect x="1006.2" y="1237.1" width="7.6" height="7.6" fill="#f00" />
<rect x="1016.3" y="1233.2" width="7.6" height="7.6" fill="#f00" />
<rect x="1026.4" y="1244.0" width="7.6" height="7.6" fill="#f00" />
<rect x="1036.4" y="1239.1" width="7.6" height="7.6" fill="#f00" />
<rect x="1046.5" y="1244.9" width="7.6" height="7.6" fill="#f00" />
<rect x="1056.6" y="1241.0" width="7.6" height="7.6" fill="#f00" />
<rect x="1066.6" y="1241.0" width="7.6" height="7.6" fill="#f00" />
<rect x="1076.7" y="1245.9" width="7.6" height="7.6" fill="#f00" />
<rect x="1086.8" y="1240.1" width="7.6" height="7.6" fill="#f00" />
<rect x="1096.8" y="1247.9" width="7.6" height="7.6" fill="#f00" />
<rect x="1106.9" y="1244.0" width="7.6" height="7.6" fill="#f00" />
<rect x="708.0" y="1089.4" width="422.8" height="326.0" fill="none" stroke="#222" stroke-width="1.6" />
<line x1="708.0" y1="1089.4" x2="708.0" y2="1094.4" stroke="#222" stroke-width="1.5" />
<line x1="808.7" y1="1089.4" x2="808.7" y2="1094.4" stroke="#222" stroke-width="1.5" />
<line x1="909.4" y1="1089.4" x2="909.4" y2="1094.4" stroke="#222" stroke-width="1.5" />
<line x1="1010.0" y1="1089.4" x2="1010.0" y2="1094.4" stroke="#222" stroke-width="1.5" />
<line x1="1110.7" y1="1089.4" x2="1110.7" y2="1094.4" stroke="#222" stroke-width="1.5" />
<line x1="758.3" y1="1089.4" x2="758.3" y2="1092.4" stroke="#222" stroke-width="1.2" />
<line x1="859.0" y1="1089.4" x2="859.0" y2="1092.4" stroke="#222" stroke-width="1.2" />
<line x1="959.7" y1="1089.4" x2="959.7" y2="1092.4" stroke="#222" stroke-width="1.2" />
<line x1="1060.4" y1="1089.4" x2="1060.4" y2="1092.4" stroke="#222" stroke-width="1.2" />
<line x1="708.0" y1="1415.4" x2="708.0" y2="1410.4" stroke="#222" stroke-width="1.5" />
<line x1="808.7" y1="1415.4" x2="808.7" y2="1410.4" stroke="#222" stroke-width="1.5" />
<line x1="909.4" y1="1415.4" x2="909.4" y2="1410.4" stroke="#222" stroke-width="1.5" />
<line x1="1010.0" y1="1415.4" x2="1010.0" y2="1410.4" stroke="#222" stroke-width="1.5" />
<line x1="1110.7" y1="1415.4" x2="1110.7" y2="1410.4" stroke="#222" stroke-width="1.5" />
<line x1="758.3" y1="1415.4" x2="758.3" y2="1412.4" stroke="#222" stroke-width="1.2" />
<line x1="859.0" y1="1415.4" x2="859.0" y2="1412.4" stroke="#222" stroke-width="1.2" />
<line x1="959.7" y1="1415.4" x2="959.7" y2="1412.4" stroke="#222" stroke-width="1.2" />
<line x1="1060.4" y1="1415.4" x2="1060.4" y2="1412.4" stroke="#222" stroke-width="1.2" />
<line x1="708.0" y1="1415.4" x2="713.0" y2="1415.4" stroke="#222" stroke-width="1.5" />
<line x1="708.0" y1="1366.7" x2="713.0" y2="1366.7" stroke="#222" stroke-width="1.5" />
<line x1="708.0" y1="1317.9" x2="713.0" y2="1317.9" stroke="#222" stroke-width="1.5" />
<line x1="708.0" y1="1269.2" x2="713.0" y2="1269.2" stroke="#222" stroke-width="1.5" />
<line x1="708.0" y1="1220.5" x2="713.0" y2="1220.5" stroke="#222" stroke-width="1.5" />
<line x1="708.0" y1="1171.7" x2="713.0" y2="1171.7" stroke="#222" stroke-width="1.5" />
<line x1="708.0" y1="1123.0" x2="713.0" y2="1123.0" stroke="#222" stroke-width="1.5" />
<line x1="708.0" y1="1391.0" x2="711.0" y2="1391.0" stroke="#222" stroke-width="1.2" />
<line x1="708.0" y1="1342.3" x2="711.0" y2="1342.3" stroke="#222" stroke-width="1.2" />
<line x1="708.0" y1="1293.6" x2="711.0" y2="1293.6" stroke="#222" stroke-width="1.2" />
<line x1="708.0" y1="1244.8" x2="711.0" y2="1244.8" stroke="#222" stroke-width="1.2" />
<line x1="708.0" y1="1196.1" x2="711.0" y2="1196.1" stroke="#222" stroke-width="1.2" />
<line x1="708.0" y1="1147.4" x2="711.0" y2="1147.4" stroke="#222" stroke-width="1.2" />
<line x1="708.0" y1="1098.6" x2="711.0" y2="1098.6" stroke="#222" stroke-width="1.2" />
<line x1="1130.8" y1="1415.4" x2="1125.8" y2="1415.4" stroke="#222" stroke-width="1.5" />
<line x1="1130.8" y1="1366.7" x2="1125.8" y2="1366.7" stroke="#222" stroke-width="1.5" />
<line x1="1130.8" y1="1317.9" x2="1125.8" y2="1317.9" stroke="#222" stroke-width="1.5" />
<line x1="1130.8" y1="1269.2" x2="1125.8" y2="1269.2" stroke="#222" stroke-width="1.5" />
<line x1="1130.8" y1="1220.5" x2="1125.8" y2="1220.5" stroke="#222" stroke-width="1.5" />
<line x1="1130.8" y1="1171.7" x2="1125.8" y2="1171.7" stroke="#222" stroke-width="1.5" />
<line x1="1130.8" y1="1123.0" x2="1125.8" y2="1123.0" stroke="#222" stroke-width="1.5" />
<line x1="1130.8" y1="1391.0" x2="1127.8" y2="1391.0" stroke="#222" stroke-width="1.2" />
<line x1="1130.8" y1="1342.3" x2="1127.8" y2="1342.3" stroke="#222" stroke-width="1.2" />
<line x1="1130.8" y1="1293.6" x2="1127.8" y2="1293.6" stroke="#222" stroke-width="1.2" />
<line x1="1130.8" y1="1244.8" x2="1127.8" y2="1244.8" stroke="#222" stroke-width="1.2" />
<line x1="1130.8" y1="1196.1" x2="1127.8" y2="1196.1" stroke="#222" stroke-width="1.2" />
<line x1="1130.8" y1="1147.4" x2="1127.8" y2="1147.4" stroke="#222" stroke-width="1.2" />
<line x1="1130.8" y1="1098.6" x2="1127.8" y2="1098.6" stroke="#222" stroke-width="1.2" />
<text x="699.4" y="1420.9" font-family="'Liberation Sans', Arial, sans-serif" font-size="16" stroke="#111" stroke-width="0.25" font-weight="bold" fill="#111" text-anchor="end" >0</text>
<text x="699.4" y="1372.2" font-family="'Liberation Sans', Arial, sans-serif" font-size="16" stroke="#111" stroke-width="0.25" font-weight="bold" fill="#111" text-anchor="end" >50</text>
<text x="699.4" y="1323.4" font-family="'Liberation Sans', Arial, sans-serif" font-size="16" stroke="#111" stroke-width="0.25" font-weight="bold" fill="#111" text-anchor="end" >100</text>
<text x="699.4" y="1274.7" font-family="'Liberation Sans', Arial, sans-serif" font-size="16" stroke="#111" stroke-width="0.25" font-weight="bold" fill="#111" text-anchor="end" >150</text>
<text x="699.4" y="1226.0" font-family="'Liberation Sans', Arial, sans-serif" font-size="16" stroke="#111" stroke-width="0.25" font-weight="bold" fill="#111" text-anchor="end" >200</text>
<text x="699.4" y="1177.2" font-family="'Liberation Sans', Arial, sans-serif" font-size="16" stroke="#111" stroke-width="0.25" font-weight="bold" fill="#111" text-anchor="end" >250</text>
<text x="699.4" y="1128.5" font-family="'Liberation Sans', Arial, sans-serif" font-size="16" stroke="#111" stroke-width="0.25" font-weight="bold" fill="#111" text-anchor="end" >300</text>
<text x="708.0" y="1435.0" font-family="'Liberation Sans', Arial, sans-serif" font-size="16" stroke="#111" stroke-width="0.25" font-weight="bold" fill="#111" text-anchor="middle" >0</text>
<text x="808.7" y="1435.0" font-family="'Liberation Sans', Arial, sans-serif" font-size="16" stroke="#111" stroke-width="0.25" font-weight="bold" fill="#111" text-anchor="middle" >10</text>
<text x="909.4" y="1435.0" font-family="'Liberation Sans', Arial, sans-serif" font-size="16" stroke="#111" stroke-width="0.25" font-weight="bold" fill="#111" text-anchor="middle" >20</text>
<text x="1010.0" y="1435.0" font-family="'Liberation Sans', Arial, sans-serif" font-size="16" stroke="#111" stroke-width="0.25" font-weight="bold" fill="#111" text-anchor="middle" >30</text>
<text x="1110.7" y="1435.0" font-family="'Liberation Sans', Arial, sans-serif" font-size="16" stroke="#111" stroke-width="0.25" font-weight="bold" fill="#111" text-anchor="middle" >40</text>
<text x="864.4" y="1458.0" font-family="'Liberation Serif', 'Times New Roman', serif" font-size="17.5" stroke="#111" stroke-width="0.25" font-weight="bold" fill="#111" textLength="105" lengthAdjust="spacingAndGlyphs" >Cycle number</text>
<text transform="translate(663.0,1366.0) rotate(-90)" font-family="'Liberation Serif', 'Times New Roman', serif" font-size="17.5" stroke="#111" stroke-width="0.25" font-weight="bold" fill="#111" textLength="214" lengthAdjust="spacingAndGlyphs" >Discharge Capacity (mAhg<tspan font-size="11" dy="-8">-1</tspan><tspan dy="8">)</tspan></text>
<rect x="1839.2" y="1111.7" width="483.7" height="8.0" fill="#1010f0" />
<line x1="1841.2" y1="1115.7" x2="1841.2" y2="1216.9" stroke="#1010f0" stroke-width="3" />
<path d="M1839.2,1203.1 L1841.1,1201.5 L1843.1,1200.8 L1845.0,1198.8 L1846.9,1196.7 L1848.9,1197.1 L1850.8,1197.1 L1852.7,1193.4 L1854.7,1192.6 L1856.6,1191.8 L1858.5,1187.6 L1860.5,1187.9 L1862.4,1186.5 L1864.4,1187.0 L1866.3,1186.6 L1868.2,1188.4 L1870.2,1187.6 L1872.1,1186.1 L1874.0,1186.4 L1876.0,1185.7 L1877.9,1185.5 L1879.8,1187.8 L1881.8,1186.6 L1883.7,1186.4 L1885.6,1187.4 L1887.6,1189.2 L1889.5,1187.0 L1891.4,1187.1 L1893.4,1186.1 L1895.3,1184.7 L1897.2,1184.4 L1899.2,1183.4 L1901.1,1184.7 L1903.0,1184.0 L1905.0,1185.0 L1906.9,1183.6 L1908.9,1182.9 L1910.8,1185.5 L1912.7,1187.4 L1914.7,1188.6 L1916.6,1186.6 L1918.5,1187.4 L1920.5,1187.3 L1922.4,1188.7 L1924.3,1188.9 L1926.3,1189.7 L1928.2,1190.5 L1930.1,1190.2 L1932.1,1190.1 L1934.0,1188.9 L1935.9,1189.0 L1937.9,1188.2 L1939.8,1188.1 L1941.7,1187.5 L1943.7,1188.6 L1945.6,1191.5 L1947.5,1190.3 L1949.5,1189.1 L1951.4,1188.5 L1953.4,1189.4 L1955.3,1189.5 L1957.2,1191.5 L1959.2,1190.4 L1961.1,1190.7 L1963.0,1192.0 L1965.0,1193.9 L1966.9,1191.9 L1968.8,1190.0 L1970.8,1192.3 L1972.7,1191.0 L1974.6,1191.7 L1976.6,1193.2 L1978.5,1193.6 L1980.4,1192.0 L1982.4,1190.4 L1984.3,1192.7 L1986.2,1192.0 L1988.2,1193.8 L1990.1,1192.3 L1992.0,1192.9 L1994.0,1191.0 L1995.9,1189.3 L1997.9,1190.1 L1999.8,1188.6 L2001.7,1190.3 L2003.7,1192.5 L2005.6,1191.9 L2007.5,1193.8 L2009.5,1194.5 L2011.4,1194.1 L2013.3,1193.0 L2015.3,1194.0 L2017.2,1195.2 L2019.1,1192.7 L2021.1,1193.2 L2023.0,1191.0 L2024.9,1189.6 L2026.9,1190.8 L2028.8,1191.3 L2030.7,1191.4 L2032.7,1190.9 L2034.6,1190.8 L2036.5,1190.9 L2038.5,1190.7 L2040.4,1189.3 L2042.4,1190.0 L2044.3,1190.8 L2046.2,1190.3 L2048.2,1191.8 L2050.1,1192.6 L2052.0,1190.5 L2054.0,1190.8 L2055.9,1190.9 L2057.8,1193.3 L2059.8,1193.6 L2061.7,1193.2 L2063.6,1195.3 L2065.6,1194.4 L2067.5,1193.8 L2069.4,1195.8 L2071.4,1195.0 L2073.3,1195.1 L2075.2,1194.5 L2077.2,1195.4 L2079.1,1194.8 L2081.1,1194.2 L2083.0,1196.9 L2084.9,1198.7 L2086.9,1197.5 L2088.8,1195.6 L2090.7,1197.3 L2092.7,1197.7 L2094.6,1197.5 L2096.5,1198.6 L2098.5,1199.2 L2100.4,1200.0 L2102.3,1200.4 L2104.3,1199.8 L2106.2,1200.0 L2108.1,1198.8 L2110.1,1196.1 L2112.0,1196.8 L2113.9,1194.7 L2115.9,1192.2 L2117.8,1191.9 L2119.7,1191.6 L2121.7,1190.4 L2123.6,1192.1 L2125.6,1193.6 L2127.5,1193.9 L2129.4,1193.1 L2131.4,1195.2 L2133.3,1195.9 L2135.2,1196.6 L2137.2,1195.1 L2139.1,1195.9 L2141.0,1193.8 L2143.0,1195.0 L2144.9,1194.9 L2146.8,1193.4 L2148.8,1191.3 L2150.7,1191.4 L2152.6,1192.2 L2154.6,1193.0 L2156.5,1191.8 L2158.4,1192.1 L2160.4,1190.3 L2162.3,1189.0 L2164.2,1190.7 L2166.2,1191.6 L2168.1,1190.1 L2170.1,1189.7 L2172.0,1188.8 L2173.9,1190.1 L2175.9,1191.9 L2177.8,1192.5 L2179.7,1192.1 L2181.7,1194.3 L2183.6,1195.9 L2185.5,1197.1 L2187.5,1198.3 L2189.4,1199.5 L2191.3,1198.7 L2193.3,1200.6 L2195.2,1201.5 L2197.1,1198.1 L2199.1,1195.7 L2201.0,1193.4 L2202.9,1193.7 L2204.9,1191.6 L2206.8,1190.0 L2208.7,1191.5 L2210.7,1190.1 L2212.6,1188.9 L2214.6,1189.0 L2216.5,1189.6 L2218.4,1190.9 L2220.4,1191.5 L2222.3,1192.4 L2224.2,1193.6 L2226.2,1192.3 L2228.1,1192.6 L2230.0,1190.6 L2232.0,1192.3 L2233.9,1190.0 L2235.8,1189.1 L2237.8,1187.6 L2239.7,1186.5 L2241.6,1185.8 L2243.6,1186.5 L2245.5,1189.3 L2247.4,1188.2 L2249.4,1189.7 L2251.3,1190.6 L2253.2,1190.3 L2255.2,1190.8 L2257.1,1191.8 L2259.1,1190.6 L2261.0,1191.2 L2262.9,1193.0 L2264.9,1194.8 L2266.8,1193.8 L2268.7,1194.8 L2270.7,1194.5 L2272.6,1196.3 L2274.5,1198.3 L2276.5,1197.4 L2278.4,1195.5 L2280.3,1196.7 L2282.3,1194.9 L2284.2,1192.9 L2286.1,1191.8 L2288.1,1190.9 L2290.0,1193.4 L2291.9,1192.5 L2293.9,1190.8 L2295.8,1193.4 L2297.7,1194.3 L2299.7,1195.0 L2301.6,1194.4 L2303.6,1194.5 L2305.5,1194.4 L2307.4,1193.2 L2309.4,1195.5 L2311.3,1196.9 L2313.2,1197.6 L2315.2,1198.2 L2317.1,1198.9 L2319.0,1195.7 L2321.0,1194.0 L2322.9,1196.0" fill="none" stroke="#f00" stroke-width="11" stroke-linejoin="round"/>
<path d="M1839.2,1216.9 L1841.1,1219.0 L1843.1,1217.7 L1845.0,1220.1 L1846.9,1219.4 L1848.9,1219.9 L1850.8,1222.1 L1852.7,1221.3 L1854.7,1223.4 L1856.6,1222.8 L1858.5,1224.5 L1860.5,1225.7 L1862.4,1224.8 L1864.4,1222.0 L1866.3,1224.1 L1868.2,1225.1 L1870.2,1223.7 L1872.1,1221.0 L1874.0,1221.3 L1876.0,1222.7 L1877.9,1220.5 L1879.8,1224.2 L1881.8,1222.5 L1883.7,1224.5 L1885.6,1226.8 L1887.6,1228.7 L1889.5,1229.1 L1891.4,1226.7 L1893.4,1228.6 L1895.3,1227.8 L1897.2,1227.1 L1899.2,1228.2 L1901.1,1228.1 L1903.0,1230.8 L1905.0,1232.8 L1906.9,1233.5 L1908.9,1231.5 L1910.8,1231.6 L1912.7,1232.4 L1914.7,1231.6 L1916.6,1231.9 L1918.5,1233.0 L1920.5,1231.2 L1922.4,1230.6 L1924.3,1232.8 L1926.3,1232.6 L1928.2,1232.8 L1930.1,1231.2 L1932.1,1230.9 L1934.0,1233.3 L1935.9,1231.3 L1937.9,1232.4 L1939.8,1230.9 L1941.7,1227.4 L1943.7,1228.5 L1945.6,1229.6 L1947.5,1233.3 L1949.5,1232.8 L1951.4,1232.3 L1953.4,1233.5 L1955.3,1233.0 L1957.2,1236.2 L1959.2,1236.8 L1961.1,1237.7 L1963.0,1238.3 L1965.0,1239.5 L1966.9,1238.4 L1968.8,1237.2 L1970.8,1239.1 L1972.7,1239.6 L1974.6,1243.4 L1976.6,1242.7 L1978.5,1242.6 L1980.4,1240.8 L1982.4,1240.7 L1984.3,1243.7 L1986.2,1244.0 L1988.2,1242.3 L1990.1,1244.5 L1992.0,1243.3 L1994.0,1243.8 L1995.9,1244.1 L1997.9,1244.4 L1999.8,1240.4 L2001.7,1240.9 L2003.7,1240.3 L2005.6,1240.0 L2007.5,1237.2 L2009.5,1239.7 L2011.4,1239.5 L2013.3,1238.9 L2015.3,1236.7 L2017.2,1235.6 L2019.1,1234.6 L2021.1,1237.3 L2023.0,1238.5 L2024.9,1240.4 L2026.9,1239.1 L2028.8,1238.1 L2030.7,1242.2 L2032.7,1245.1 L2034.6,1247.2 L2036.5,1248.9 L2038.5,1249.0 L2040.4,1248.8 L2042.4,1250.7 L2044.3,1253.8 L2046.2,1254.0 L2048.2,1254.6 L2050.1,1254.3 L2052.0,1252.2 L2054.0,1252.4 L2055.9,1253.9 L2057.8,1253.1 L2059.8,1250.6 L2061.7,1251.7 L2063.6,1247.1 L2065.6,1244.0 L2067.5,1241.7 L2069.4,1241.3 L2071.4,1243.3 L2073.3,1244.7 L2075.2,1247.3 L2077.2,1246.2 L2079.1,1248.7 L2081.1,1250.4 L2083.0,1250.8 L2084.9,1251.4 L2086.9,1250.8 L2088.8,1252.0 L2090.7,1253.2 L2092.7,1252.2 L2094.6,1251.5 L2096.5,1249.3 L2098.5,1249.3 L2100.4,1244.4 L2102.3,1243.9 L2104.3,1246.3 L2106.2,1247.8 L2108.1,1248.5 L2110.1,1249.2 L2112.0,1251.2 L2113.9,1248.9 L2115.9,1246.8 L2117.8,1248.4 L2119.7,1249.8 L2121.7,1253.2 L2123.6,1255.7 L2125.6,1256.4 L2127.5,1257.6 L2129.4,1255.6 L2131.4,1258.2 L2133.3,1261.2 L2135.2,1258.4 L2137.2,1259.1 L2139.1,1262.1 L2141.0,1262.2 L2143.0,1265.5 L2144.9,1265.3 L2146.8,1263.0 L2148.8,1262.3 L2150.7,1261.8 L2152.6,1263.9 L2154.6,1264.7 L2156.5,1266.3 L2158.4,1264.0 L2160.4,1263.7 L2162.3,1262.0 L2164.2,1263.3 L2166.2,1264.7 L2168.1,1262.4 L2170.1,1259.8 L2172.0,1258.6 L2173.9,1258.0 L2175.9,1257.4 L2177.8,1257.4 L2179.7,1259.2 L2181.7,1258.4 L2183.6,1258.5 L2185.5,1259.9 L2187.5,1260.6 L2189.4,1259.3 L2191.3,1258.2 L2193.3,1254.6 L2195.2,1250.3 L2197.1,1249.7 L2199.1,1246.7 L2201.0,1244.1 L2202.9,1242.2 L2204.9,1244.0 L2206.8,1245.8 L2208.7,1250.2 L2210.7,1254.3 L2212.6,1258.0 L2214.6,1259.0 L2216.5,1259.0 L2218.4,1260.2 L2220.4,1263.8 L2222.3,1264.6 L2224.2,1263.0 L2226.2,1265.8 L2228.1,1264.4 L2230.0,1261.8 L2232.0,1260.6 L2233.9,1259.8 L2235.8,1260.6 L2237.8,1262.7 L2239.7,1260.6 L2241.6,1261.5 L2243.6,1259.4 L2245.5,1256.8 L2247.4,1258.1 L2249.4,1258.8 L2251.3,1256.7 L2253.2,1257.1 L2255.2,1260.8 L2257.1,1263.7 L2259.1,1265.9 L2261.0,1263.5 L2262.9,1262.6 L2264.9,1265.8 L2266.8,1264.5 L2268.7,1263.0 L2270.7,1263.9 L2272.6,1266.5 L2274.5,1267.4 L2276.5,1270.7 L2278.4,1274.0 L2280.3,1271.2 L2282.3,1271.3 L2284.2,1272.3 L2286.1,1271.0 L2288.1,1273.1 L2290.0,1270.2 L2291.9,1265.9 L2293.9,1265.2 L2295.8,1263.4 L2297.7,1260.9 L2299.7,1261.1 L2301.6,1261.7 L2303.6,1264.5 L2305.5,1266.1 L2307.4,1269.4 L2309.4,1268.0 L2311.3,1270.6 L2313.2,1272.4 L2315.2,1273.0 L2317.1,1272.0 L2319.0,1274.4 L2321.0,1273.7 L2322.9,1275.9" fill="none" stroke="#000" stroke-width="8" stroke-linejoin="round"/>
<circle cx="1840.2" cy="1157.6" r="3.0" fill="none" stroke="#f00" stroke-width="1.5" />
<path d="M2247.8,1112 L2247.8,1148 L2305,1148" fill="none" stroke="#3030d0" stroke-width="2" />
<path d="M2316,1148 L2298,1140 L2303,1148 L2298,1156 Z" fill="#3030d0" />
<line x1="1839.2" y1="1090.9" x2="1839.2" y2="1368.8" stroke="#000" stroke-width="3" />
<line x1="1839.2" y1="1368.8" x2="2322.9" y2="1368.8" stroke="#000" stroke-width="3" />
<line x1="1839.2" y1="1090.9" x2="2322.9" y2="1090.9" stroke="#1010f0" stroke-width="3" />
<line x1="2322.9" y1="1090.9" x2="2322.9" y2="1368.8" stroke="#1010f0" stroke-width="3" />
<line x1="1839.2" y1="1368.8" x2="1839.2" y2="1375.8" stroke="#000" stroke-width="2" />
<line x1="1935.9" y1="1368.8" x2="1935.9" y2="1375.8" stroke="#000" stroke-width="2" />
<line x1="2032.7" y1="1368.8" x2="2032.7" y2="1375.8" stroke="#000" stroke-width="2" />
<line x1="2129.4" y1="1368.8" x2="2129.4" y2="1375.8" stroke="#000" stroke-width="2" />
<line x1="2226.2" y1="1368.8" x2="2226.2" y2="1375.8" stroke="#000" stroke-width="2" />
<line x1="2322.9" y1="1368.8" x2="2322.9" y2="1375.8" stroke="#000" stroke-width="2" />
<line x1="1887.6" y1="1368.8" x2="1887.6" y2="1372.8" stroke="#000" stroke-width="2" />
<line x1="1984.3" y1="1368.8" x2="1984.3" y2="1372.8" stroke="#000" stroke-width="2" />
<line x1="2081.1" y1="1368.8" x2="2081.1" y2="1372.8" stroke="#000" stroke-width="2" />
<line x1="2177.8" y1="1368.8" x2="2177.8" y2="1372.8" stroke="#000" stroke-width="2" />
<line x1="2274.5" y1="1368.8" x2="2274.5" y2="1372.8" stroke="#000" stroke-width="2" />
<line x1="1839.2" y1="1368.8" x2="1832.2" y2="1368.8" stroke="#000" stroke-width="2" />
<line x1="1839.2" y1="1276.2" x2="1832.2" y2="1276.2" stroke="#000" stroke-width="2" />
<line x1="1839.2" y1="1183.5" x2="1832.2" y2="1183.5" stroke="#000" stroke-width="2" />
<line x1="1839.2" y1="1090.9" x2="1832.2" y2="1090.9" stroke="#000" stroke-width="2" />
<line x1="1839.2" y1="1322.5" x2="1835.2" y2="1322.5" stroke="#000" stroke-width="2" />
<line x1="1839.2" y1="1229.8" x2="1835.2" y2="1229.8" stroke="#000" stroke-width="2" />
<line x1="1839.2" y1="1137.2" x2="1835.2" y2="1137.2" stroke="#000" stroke-width="2" />
<line x1="2322.9" y1="1368.8" x2="2329.9" y2="1368.8" stroke="#1010f0" stroke-width="2.5" />
<line x1="2322.9" y1="1318.2" x2="2329.9" y2="1318.2" stroke="#1010f0" stroke-width="2.5" />
<line x1="2322.9" y1="1267.6" x2="2329.9" y2="1267.6" stroke="#1010f0" stroke-width="2.5" />
<line x1="2322.9" y1="1216.9" x2="2329.9" y2="1216.9" stroke="#1010f0" stroke-width="2.5" />
<line x1="2322.9" y1="1166.3" x2="2329.9" y2="1166.3" stroke="#1010f0" stroke-width="2.5" />
<line x1="2322.9" y1="1115.7" x2="2329.9" y2="1115.7" stroke="#1010f0" stroke-width="2.5" />
<line x1="2322.9" y1="1343.5" x2="2326.9" y2="1343.5" stroke="#1010f0" stroke-width="2.5" />
<line x1="2322.9" y1="1292.9" x2="2326.9" y2="1292.9" stroke="#1010f0" stroke-width="2.5" />
<line x1="2322.9" y1="1242.2" x2="2326.9" y2="1242.2" stroke="#1010f0" stroke-width="2.5" />
<line x1="2322.9" y1="1191.6" x2="2326.9" y2="1191.6" stroke="#1010f0" stroke-width="2.5" />
<line x1="2322.9" y1="1141.0" x2="2326.9" y2="1141.0" stroke="#1010f0" stroke-width="2.5" />
<text x="1824.4" y="1375.8" font-family="'Liberation Serif', 'Times New Roman', serif" font-size="22" stroke="#000" stroke-width="0.25" font-weight="bold" text-anchor="end" textLength="10" lengthAdjust="spacingAndGlyphs" >0</text>
<text x="1824.4" y="1283.2" font-family="'Liberation Serif', 'Times New Roman', serif" font-size="22" stroke="#000" stroke-width="0.25" font-weight="bold" text-anchor="end" textLength="31.5" lengthAdjust="spacingAndGlyphs" >100</text>
<text x="1824.4" y="1190.5" font-family="'Liberation Serif', 'Times New Roman', serif" font-size="22" stroke="#000" stroke-width="0.25" font-weight="bold" text-anchor="end" textLength="31.5" lengthAdjust="spacingAndGlyphs" >200</text>
<text x="1824.4" y="1097.9" font-family="'Liberation Serif', 'Times New Roman', serif" font-size="22" stroke="#000" stroke-width="0.25" font-weight="bold" text-anchor="end" textLength="31.5" lengthAdjust="spacingAndGlyphs" >300</text>
<text x="2337.0" y="1374.8" font-family="'Liberation Sans', Arial, sans-serif" font-size="17.5" stroke="#1010f0" stroke-width="0.25" font-weight="bold" fill="#1010f0" textLength="10.5" lengthAdjust="spacingAndGlyphs" >0</text>
<text x="2337.0" y="1324.2" font-family="'Liberation Sans', Arial, sans-serif" font-size="17.5" stroke="#1010f0" stroke-width="0.25" font-weight="bold" fill="#1010f0" textLength="21" lengthAdjust="spacingAndGlyphs" >20</text>
<text x="2337.0" y="1273.6" font-family="'Liberation Sans', Arial, sans-serif" font-size="17.5" stroke="#1010f0" stroke-width="0.25" font-weight="bold" fill="#1010f0" textLength="21" lengthAdjust="spacingAndGlyphs" >40</text>
<text x="2337.0" y="1222.9" font-family="'Liberation Sans', Arial, sans-serif" font-size="17.5" stroke="#1010f0" stroke-width="0.25" font-weight="bold" fill="#1010f0" textLength="21" lengthAdjust="spacingAndGlyphs" >60</text>
<text x="2337.0" y="1172.3" font-family="'Liberation Sans', Arial, sans-serif" font-size="17.5" stroke="#1010f0" stroke-width="0.25" font-weight="bold" fill="#1010f0" textLength="21" lengthAdjust="spacingAndGlyphs" >80</text>
<text x="2337.0" y="1121.7" font-family="'Liberation Sans', Arial, sans-serif" font-size="17.5" stroke="#1010f0" stroke-width="0.25" font-weight="bold" fill="#1010f0" textLength="31.5" lengthAdjust="spacingAndGlyphs" >100</text>
<text x="1839.2" y="1405.0" font-family="'Liberation Serif', 'Times New Roman', serif" font-size="21" stroke="#000" stroke-width="0.25" font-weight="bold" text-anchor="middle" textLength="10" lengthAdjust="spacingAndGlyphs" >0</text>
<text x="1935.9" y="1405.0" font-family="'Liberation Serif', 'Times New Roman', serif" font-size="21" stroke="#000" stroke-width="0.25" font-weight="bold" text-anchor="middle" textLength="31" lengthAdjust="spacingAndGlyphs" >200</text>
<text x="2032.7" y="1405.0" font-family="'Liberation Serif', 'Times New Roman', serif" font-size="21" stroke="#000" stroke-width="0.25" font-weight="bold" text-anchor="middle" textLength="31" lengthAdjust="spacingAndGlyphs" >400</text>
<text x="2129.4" y="1405.0" font-family="'Liberation Serif', 'Times New Roman', serif" font-size="21" stroke="#000" stroke-width="0.25" font-weight="bold" text-anchor="middle" textLength="31" lengthAdjust="spacingAndGlyphs" >600</text>
<text x="2226.2" y="1405.0" font-family="'Liberation Serif', 'Times New Roman', serif" font-size="21" stroke="#000" stroke-width="0.25" font-weight="bold" text-anchor="middle" textLength="31" lengthAdjust="spacingAndGlyphs" >800</text>
<text x="2322.9" y="1405.0" font-family="'Liberation Serif', 'Times New Roman', serif" font-size="21" stroke="#000" stroke-width="0.25" font-weight="bold" text-anchor="middle" textLength="41" lengthAdjust="spacingAndGlyphs" >1000</text>
<text x="2019.5" y="1443.0" font-family="'Liberation Serif', 'Times New Roman', serif" font-size="21" stroke="#000" stroke-width="0.25" font-weight="bold" textLength="123.5" lengthAdjust="spacingAndGlyphs" >Cycle number</text>
<text transform="translate(1783.5,1379.0) rotate(-90)" font-family="'Liberation Serif', 'Times New Roman', serif" font-size="21" stroke="#000" stroke-width="0.25" font-weight="bold" textLength="286" lengthAdjust="spacingAndGlyphs" >Specific Capacity (mAh g<tspan font-size="13" dy="-9">-1</tspan><tspan dy="9">)</tspan></text>
<text transform="translate(2402.0,1364.0) rotate(-90)" font-family="'Liberation Sans', Arial, sans-serif" font-size="21" stroke="#1010f0" stroke-width="0.25" font-weight="bold" fill="#1010f0" textLength="273" lengthAdjust="spacingAndGlyphs" >Coloumbic Efficiency (%)</text>
<line x1="1867.0" y1="1291.0" x2="1912.0" y2="1291.0" stroke="#f00" stroke-width="2.5" />
<line x1="1922.0" y1="1291.0" x2="1980.0" y2="1291.0" stroke="#f00" stroke-width="2.5" />
<circle cx="1892.8" cy="1291.0" r="5.5" fill="#fff" stroke="#f00" stroke-width="2" />
<circle cx="1951.7" cy="1291.0" r="6.0" fill="#f00" />
<line x1="1867.0" y1="1336.7" x2="1912.0" y2="1336.7" stroke="#000" stroke-width="2.5" />
<line x1="1922.0" y1="1336.7" x2="1980.0" y2="1336.7" stroke="#000" stroke-width="2.5" />
<path d="M1892.8,1328 L1899,1338 L1886.6,1338 Z" fill="#fff" stroke="#000" stroke-width="1.8" />
<path d="M1951.7,1327 L1958.5,1338 L1945,1338 Z" fill="#000" />
<text x="2007.0" y="1301.0" font-family="'Liberation Serif', 'Times New Roman', serif" font-size="26" stroke="#111" stroke-width="0.25" font-weight="bold" fill="#111" textLength="128" lengthAdjust="spacingAndGlyphs" >TiO<tspan font-size="15" dy="3">2</tspan><tspan dy="-3">(B)–BH</tspan></text>
<text x="2007.0" y="1347.0" font-family="'Liberation Serif', 'Times New Roman', serif" font-size="26" stroke="#111" stroke-width="0.25" font-weight="bold" fill="#111" textLength="125" lengthAdjust="spacingAndGlyphs" >TiO<tspan font-size="15" dy="5">2</tspan><tspan dy="-5">(B)–SH</tspan></text>
<path d="M1292.8,1808.1 L1299.3,1819.2 L1286.3,1819.2 Z" fill="none" stroke="#22b022" stroke-width="1.7" />
<path d="M1295.2,1805.6 L1301.7,1816.7 L1288.7,1816.7 Z" fill="none" stroke="#22b022" stroke-width="1.7" />
<path d="M1297.7,1803.5 L1304.2,1814.6 L1291.2,1814.6 Z" fill="none" stroke="#22b022" stroke-width="1.7" />
<path d="M1300.2,1799.8 L1306.7,1810.8 L1293.7,1810.8 Z" fill="none" stroke="#22b022" stroke-width="1.7" />
<path d="M1302.7,1798.8 L1309.2,1809.9 L1296.2,1809.9 Z" fill="none" stroke="#22b022" stroke-width="1.7" />
<path d="M1305.2,1797.0 L1311.7,1808.1 L1298.7,1808.1 Z" fill="none" stroke="#22b022" stroke-width="1.7" />
<path d="M1307.6,1795.2 L1314.1,1806.3 L1301.1,1806.3 Z" fill="none" stroke="#22b022" stroke-width="1.7" />
<path d="M1310.1,1793.1 L1316.6,1804.2 L1303.6,1804.2 Z" fill="none" stroke="#22b022" stroke-width="1.7" />
<path d="M1312.6,1788.8 L1319.1,1799.9 L1306.1,1799.9 Z" fill="none" stroke="#22b022" stroke-width="1.7" />
<path d="M1315.1,1787.9 L1321.6,1799.0 L1308.6,1799.0 Z" fill="none" stroke="#22b022" stroke-width="1.7" />
<path d="M1317.6,1784.7 L1324.1,1795.8 L1311.1,1795.8 Z" fill="none" stroke="#22b022" stroke-width="1.7" />
<path d="M1320.0,1784.4 L1326.5,1795.5 L1313.5,1795.5 Z" fill="none" stroke="#22b022" stroke-width="1.7" />
<path d="M1322.5,1784.3 L1329.0,1795.3 L1316.0,1795.3 Z" fill="none" stroke="#22b022" stroke-width="1.7" />
<path d="M1325.0,1783.4 L1331.5,1794.5 L1318.5,1794.5 Z" fill="none" stroke="#22b022" stroke-width="1.7" />
<path d="M1327.5,1780.8 L1334.0,1791.8 L1321.0,1791.8 Z" fill="none" stroke="#22b022" stroke-width="1.7" />
<path d="M1330.0,1779.9 L1336.5,1791.0 L1323.5,1791.0 Z" fill="none" stroke="#22b022" stroke-width="1.7" />
<path d="M1332.4,1781.9 L1338.9,1793.0 L1325.9,1793.0 Z" fill="none" stroke="#22b022" stroke-width="1.7" />
<path d="M1334.9,1782.0 L1341.4,1793.1 L1328.4,1793.1 Z" fill="none" stroke="#22b022" stroke-width="1.7" />
<path d="M1337.4,1782.6 L1343.9,1793.6 L1330.9,1793.6 Z" fill="none" stroke="#22b022" stroke-width="1.7" />
<path d="M1339.9,1779.5 L1346.4,1790.6 L1333.4,1790.6 Z" fill="none" stroke="#22b022" stroke-width="1.7" />
<path d="M1342.3,1777.6 L1348.8,1788.7 L1335.8,1788.7 Z" fill="none" stroke="#22b022" stroke-width="1.7" />
<path d="M1344.8,1776.2 L1351.3,1787.2 L1338.3,1787.2 Z" fill="none" stroke="#22b022" stroke-width="1.7" />
<path d="M1347.3,1775.0 L1353.8,1786.1 L1340.8,1786.1 Z" fill="none" stroke="#22b022" stroke-width="1.7" />
<path d="M1349.8,1774.5 L1356.3,1785.5 L1343.3,1785.5 Z" fill="none" stroke="#22b022" stroke-width="1.7" />
<path d="M1352.3,1773.0 L1358.8,1784.1 L1345.8,1784.1 Z" fill="none" stroke="#22b022" stroke-width="1.7" />
<path d="M1354.7,1772.7 L1361.2,1783.7 L1348.2,1783.7 Z" fill="none" stroke="#22b022" stroke-width="1.7" />
<path d="M1357.2,1774.8 L1363.7,1785.9 L1350.7,1785.9 Z" fill="none" stroke="#22b022" stroke-width="1.7" />
<path d="M1359.7,1773.5 L1366.2,1784.5 L1353.2,1784.5 Z" fill="none" stroke="#22b022" stroke-width="1.7" />
<path d="M1362.2,1774.1 L1368.7,1785.2 L1355.7,1785.2 Z" fill="none" stroke="#22b022" stroke-width="1.7" />
<path d="M1364.7,1773.2 L1371.2,1784.3 L1358.2,1784.3 Z" fill="none" stroke="#22b022" stroke-width="1.7" />
<path d="M1367.1,1773.4 L1373.6,1784.5 L1360.6,1784.5 Z" fill="none" stroke="#22b022" stroke-width="1.7" />
<path d="M1369.6,1774.1 L1376.1,1785.1 L1363.1,1785.1 Z" fill="none" stroke="#22b022" stroke-width="1.7" />
<path d="M1372.1,1774.7 L1378.6,1785.8 L1365.6,1785.8 Z" fill="none" stroke="#22b022" stroke-width="1.7" />
<path d="M1374.6,1774.8 L1381.1,1785.9 L1368.1,1785.9 Z" fill="none" stroke="#22b022" stroke-width="1.7" />
<path d="M1377.1,1775.3 L1383.6,1786.4 L1370.6,1786.4 Z" fill="none" stroke="#22b022" stroke-width="1.7" />
<path d="M1379.5,1776.5 L1386.0,1787.5 L1373.0,1787.5 Z" fill="none" stroke="#22b022" stroke-width="1.7" />
<path d="M1382.0,1773.9 L1388.5,1785.0 L1375.5,1785.0 Z" fill="none" stroke="#22b022" stroke-width="1.7" />
<path d="M1384.5,1772.2 L1391.0,1783.2 L1378.0,1783.2 Z" fill="none" stroke="#22b022" stroke-width="1.7" />
<path d="M1387.0,1770.0 L1393.5,1781.0 L1380.5,1781.0 Z" fill="none" stroke="#22b022" stroke-width="1.7" />
<path d="M1389.4,1768.2 L1395.9,1779.2 L1382.9,1779.2 Z" fill="none" stroke="#22b022" stroke-width="1.7" />
<path d="M1391.9,1766.0 L1398.4,1777.1 L1385.4,1777.1 Z" fill="none" stroke="#22b022" stroke-width="1.7" />
<path d="M1394.4,1762.7 L1400.9,1773.8 L1387.9,1773.8 Z" fill="none" stroke="#22b022" stroke-width="1.7" />
<path d="M1396.9,1762.4 L1403.4,1773.5 L1390.4,1773.5 Z" fill="none" stroke="#22b022" stroke-width="1.7" />
<path d="M1399.4,1758.9 L1405.9,1769.9 L1392.9,1769.9 Z" fill="none" stroke="#22b022" stroke-width="1.7" />
<path d="M1401.8,1756.6 L1408.3,1767.6 L1395.3,1767.6 Z" fill="none" stroke="#22b022" stroke-width="1.7" />
<path d="M1404.3,1757.0 L1410.8,1768.0 L1397.8,1768.0 Z" fill="none" stroke="#22b022" stroke-width="1.7" />
<path d="M1406.8,1757.8 L1413.3,1768.8 L1400.3,1768.8 Z" fill="none" stroke="#22b022" stroke-width="1.7" />
<path d="M1409.3,1756.8 L1415.8,1767.8 L1402.8,1767.8 Z" fill="none" stroke="#22b022" stroke-width="1.7" />
<path d="M1411.8,1757.3 L1418.3,1768.3 L1405.3,1768.3 Z" fill="none" stroke="#22b022" stroke-width="1.7" />
<path d="M1414.2,1756.6 L1420.7,1767.6 L1407.7,1767.6 Z" fill="none" stroke="#22b022" stroke-width="1.7" />
<path d="M1416.7,1755.4 L1423.2,1766.4 L1410.2,1766.4 Z" fill="none" stroke="#22b022" stroke-width="1.7" />
<path d="M1419.2,1755.4 L1425.7,1766.5 L1412.7,1766.5 Z" fill="none" stroke="#22b022" stroke-width="1.7" />
<path d="M1421.7,1756.6 L1428.2,1767.7 L1415.2,1767.7 Z" fill="none" stroke="#22b022" stroke-width="1.7" />
<path d="M1424.2,1755.7 L1430.7,1766.8 L1417.7,1766.8 Z" fill="none" stroke="#22b022" stroke-width="1.7" />
<path d="M1426.6,1756.2 L1433.1,1767.3 L1420.1,1767.3 Z" fill="none" stroke="#22b022" stroke-width="1.7" />
<path d="M1429.1,1756.5 L1435.6,1767.6 L1422.6,1767.6 Z" fill="none" stroke="#22b022" stroke-width="1.7" />
<path d="M1431.6,1756.8 L1438.1,1767.9 L1425.1,1767.9 Z" fill="none" stroke="#22b022" stroke-width="1.7" />
<path d="M1434.1,1756.2 L1440.6,1767.2 L1427.6,1767.2 Z" fill="none" stroke="#22b022" stroke-width="1.7" />
<path d="M1436.5,1757.0 L1443.0,1768.1 L1430.0,1768.1 Z" fill="none" stroke="#22b022" stroke-width="1.7" />
<path d="M1439.0,1755.0 L1445.5,1766.1 L1432.5,1766.1 Z" fill="none" stroke="#22b022" stroke-width="1.7" />
<path d="M1441.5,1752.3 L1448.0,1763.3 L1435.0,1763.3 Z" fill="none" stroke="#22b022" stroke-width="1.7" />
<path d="M1444.0,1753.0 L1450.5,1764.0 L1437.5,1764.0 Z" fill="none" stroke="#22b022" stroke-width="1.7" />
<path d="M1446.5,1751.9 L1453.0,1763.0 L1440.0,1763.0 Z" fill="none" stroke="#22b022" stroke-width="1.7" />
<path d="M1448.9,1750.2 L1455.4,1761.2 L1442.4,1761.2 Z" fill="none" stroke="#22b022" stroke-width="1.7" />
<path d="M1451.4,1753.1 L1457.9,1764.2 L1444.9,1764.2 Z" fill="none" stroke="#22b022" stroke-width="1.7" />
<path d="M1453.9,1754.7 L1460.4,1765.8 L1447.4,1765.8 Z" fill="none" stroke="#22b022" stroke-width="1.7" />
<path d="M1456.4,1752.8 L1462.9,1763.8 L1449.9,1763.8 Z" fill="none" stroke="#22b022" stroke-width="1.7" />
<path d="M1458.9,1751.2 L1465.4,1762.3 L1452.4,1762.3 Z" fill="none" stroke="#22b022" stroke-width="1.7" />
<path d="M1461.3,1751.1 L1467.8,1762.2 L1454.8,1762.2 Z" fill="none" stroke="#22b022" stroke-width="1.7" />
<path d="M1463.8,1753.2 L1470.3,1764.3 L1457.3,1764.3 Z" fill="none" stroke="#22b022" stroke-width="1.7" />
<path d="M1466.3,1753.6 L1472.8,1764.6 L1459.8,1764.6 Z" fill="none" stroke="#22b022" stroke-width="1.7" />
<path d="M1468.8,1751.7 L1475.3,1762.7 L1462.3,1762.7 Z" fill="none" stroke="#22b022" stroke-width="1.7" />
<path d="M1471.3,1750.3 L1477.8,1761.3 L1464.8,1761.3 Z" fill="none" stroke="#22b022" stroke-width="1.7" />
<path d="M1473.7,1749.7 L1480.2,1760.7 L1467.2,1760.7 Z" fill="none" stroke="#22b022" stroke-width="1.7" />
<path d="M1476.2,1752.1 L1482.7,1763.1 L1469.7,1763.1 Z" fill="none" stroke="#22b022" stroke-width="1.7" />
<path d="M1478.7,1750.7 L1485.2,1761.8 L1472.2,1761.8 Z" fill="none" stroke="#22b022" stroke-width="1.7" />
<path d="M1481.2,1752.0 L1487.7,1763.0 L1474.7,1763.0 Z" fill="none" stroke="#22b022" stroke-width="1.7" />
<path d="M1483.6,1751.3 L1490.1,1762.4 L1477.1,1762.4 Z" fill="none" stroke="#22b022" stroke-width="1.7" />
<path d="M1486.1,1753.5 L1492.6,1764.6 L1479.6,1764.6 Z" fill="none" stroke="#22b022" stroke-width="1.7" />
<path d="M1488.6,1751.2 L1495.1,1762.2 L1482.1,1762.2 Z" fill="none" stroke="#22b022" stroke-width="1.7" />
<path d="M1491.1,1751.3 L1497.6,1762.3 L1484.6,1762.3 Z" fill="none" stroke="#22b022" stroke-width="1.7" />
<path d="M1493.6,1750.8 L1500.1,1761.8 L1487.1,1761.8 Z" fill="none" stroke="#22b022" stroke-width="1.7" />
<path d="M1496.0,1752.8 L1502.5,1763.9 L1489.5,1763.9 Z" fill="none" stroke="#22b022" stroke-width="1.7" />
<path d="M1498.5,1752.4 L1505.0,1763.4 L1492.0,1763.4 Z" fill="none" stroke="#22b022" stroke-width="1.7" />
<path d="M1501.0,1752.2 L1507.5,1763.3 L1494.5,1763.3 Z" fill="none" stroke="#22b022" stroke-width="1.7" />
<path d="M1503.5,1752.1 L1510.0,1763.1 L1497.0,1763.1 Z" fill="none" stroke="#22b022" stroke-width="1.7" />
<path d="M1506.0,1753.0 L1512.5,1764.1 L1499.5,1764.1 Z" fill="none" stroke="#22b022" stroke-width="1.7" />
<path d="M1508.4,1752.0 L1514.9,1763.1 L1501.9,1763.1 Z" fill="none" stroke="#22b022" stroke-width="1.7" />
<path d="M1510.9,1753.1 L1517.4,1764.2 L1504.4,1764.2 Z" fill="none" stroke="#22b022" stroke-width="1.7" />
<path d="M1513.4,1754.1 L1519.9,1765.1 L1506.9,1765.1 Z" fill="none" stroke="#22b022" stroke-width="1.7" />
<path d="M1515.9,1755.4 L1522.4,1766.4 L1509.4,1766.4 Z" fill="none" stroke="#22b022" stroke-width="1.7" />
<path d="M1518.4,1753.9 L1524.9,1764.9 L1511.9,1764.9 Z" fill="none" stroke="#22b022" stroke-width="1.7" />
<path d="M1520.8,1755.5 L1527.3,1766.5 L1514.3,1766.5 Z" fill="none" stroke="#22b022" stroke-width="1.7" />
<path d="M1523.3,1756.1 L1529.8,1767.1 L1516.8,1767.1 Z" fill="none" stroke="#22b022" stroke-width="1.7" />
<path d="M1525.8,1757.2 L1532.3,1768.3 L1519.3,1768.3 Z" fill="none" stroke="#22b022" stroke-width="1.7" />
<path d="M1528.3,1755.4 L1534.8,1766.4 L1521.8,1766.4 Z" fill="none" stroke="#22b022" stroke-width="1.7" />
<path d="M1530.8,1754.5 L1537.3,1765.5 L1524.3,1765.5 Z" fill="none" stroke="#22b022" stroke-width="1.7" />
<path d="M1533.2,1753.9 L1539.7,1765.0 L1526.7,1765.0 Z" fill="none" stroke="#22b022" stroke-width="1.7" />
<path d="M1535.7,1755.9 L1542.2,1766.9 L1529.2,1766.9 Z" fill="none" stroke="#22b022" stroke-width="1.7" />
<path d="M1538.2,1755.4 L1544.7,1766.4 L1531.7,1766.4 Z" fill="none" stroke="#22b022" stroke-width="1.7" />
<path d="M1540.7,1755.5 L1547.2,1766.5 L1534.2,1766.5 Z" fill="none" stroke="#22b022" stroke-width="1.7" />
<path d="M1543.1,1756.7 L1549.6,1767.8 L1536.6,1767.8 Z" fill="none" stroke="#22b022" stroke-width="1.7" />
<path d="M1545.6,1758.0 L1552.1,1769.1 L1539.1,1769.1 Z" fill="none" stroke="#22b022" stroke-width="1.7" />
<path d="M1548.1,1754.3 L1554.6,1765.3 L1541.6,1765.3 Z" fill="none" stroke="#22b022" stroke-width="1.7" />
<path d="M1550.6,1755.8 L1557.1,1766.8 L1544.1,1766.8 Z" fill="none" stroke="#22b022" stroke-width="1.7" />
<path d="M1553.1,1756.0 L1559.6,1767.0 L1546.6,1767.0 Z" fill="none" stroke="#22b022" stroke-width="1.7" />
<path d="M1555.5,1756.3 L1562.0,1767.3 L1549.0,1767.3 Z" fill="none" stroke="#22b022" stroke-width="1.7" />
<path d="M1558.0,1754.9 L1564.5,1766.0 L1551.5,1766.0 Z" fill="none" stroke="#22b022" stroke-width="1.7" />
<path d="M1560.5,1756.4 L1567.0,1767.5 L1554.0,1767.5 Z" fill="none" stroke="#22b022" stroke-width="1.7" />
<path d="M1563.0,1755.7 L1569.5,1766.7 L1556.5,1766.7 Z" fill="none" stroke="#22b022" stroke-width="1.7" />
<path d="M1565.5,1755.6 L1572.0,1766.7 L1559.0,1766.7 Z" fill="none" stroke="#22b022" stroke-width="1.7" />
<path d="M1567.9,1753.4 L1574.4,1764.5 L1561.4,1764.5 Z" fill="none" stroke="#22b022" stroke-width="1.7" />
<path d="M1570.4,1755.7 L1576.9,1766.8 L1563.9,1766.8 Z" fill="none" stroke="#22b022" stroke-width="1.7" />
<path d="M1572.9,1755.8 L1579.4,1766.8 L1566.4,1766.8 Z" fill="none" stroke="#22b022" stroke-width="1.7" />
<path d="M1575.4,1755.1 L1581.9,1766.2 L1568.9,1766.2 Z" fill="none" stroke="#22b022" stroke-width="1.7" />
<path d="M1577.9,1752.4 L1584.4,1763.5 L1571.4,1763.5 Z" fill="none" stroke="#22b022" stroke-width="1.7" />
<path d="M1580.3,1752.7 L1586.8,1763.7 L1573.8,1763.7 Z" fill="none" stroke="#22b022" stroke-width="1.7" />
<path d="M1582.8,1753.0 L1589.3,1764.1 L1576.3,1764.1 Z" fill="none" stroke="#22b022" stroke-width="1.7" />
<path d="M1585.3,1752.4 L1591.8,1763.4 L1578.8,1763.4 Z" fill="none" stroke="#22b022" stroke-width="1.7" />
<path d="M1587.8,1753.7 L1594.3,1764.7 L1581.3,1764.7 Z" fill="none" stroke="#22b022" stroke-width="1.7" />
<path d="M1590.2,1755.8 L1596.7,1766.9 L1583.7,1766.9 Z" fill="none" stroke="#22b022" stroke-width="1.7" />
<path d="M1592.7,1755.1 L1599.2,1766.2 L1586.2,1766.2 Z" fill="none" stroke="#22b022" stroke-width="1.7" />
<path d="M1595.2,1752.7 L1601.7,1763.8 L1588.7,1763.8 Z" fill="none" stroke="#22b022" stroke-width="1.7" />
<path d="M1597.7,1751.9 L1604.2,1762.9 L1591.2,1762.9 Z" fill="none" stroke="#22b022" stroke-width="1.7" />
<path d="M1600.2,1753.5 L1606.7,1764.6 L1593.7,1764.6 Z" fill="none" stroke="#22b022" stroke-width="1.7" />
<path d="M1602.6,1752.7 L1609.1,1763.7 L1596.1,1763.7 Z" fill="none" stroke="#22b022" stroke-width="1.7" />
<path d="M1605.1,1751.3 L1611.6,1762.4 L1598.6,1762.4 Z" fill="none" stroke="#22b022" stroke-width="1.7" />
<path d="M1607.6,1753.1 L1614.1,1764.2 L1601.1,1764.2 Z" fill="none" stroke="#22b022" stroke-width="1.7" />
<path d="M1610.1,1752.9 L1616.6,1763.9 L1603.6,1763.9 Z" fill="none" stroke="#22b022" stroke-width="1.7" />
<path d="M1612.6,1753.8 L1619.1,1764.8 L1606.1,1764.8 Z" fill="none" stroke="#22b022" stroke-width="1.7" />
<path d="M1615.0,1754.9 L1621.5,1766.0 L1608.5,1766.0 Z" fill="none" stroke="#22b022" stroke-width="1.7" />
<path d="M1617.5,1755.5 L1624.0,1766.6 L1611.0,1766.6 Z" fill="none" stroke="#22b022" stroke-width="1.7" />
<path d="M1620.0,1756.3 L1626.5,1767.4 L1613.5,1767.4 Z" fill="none" stroke="#22b022" stroke-width="1.7" />
<path d="M1622.5,1756.2 L1629.0,1767.3 L1616.0,1767.3 Z" fill="none" stroke="#22b022" stroke-width="1.7" />
<path d="M1625.0,1757.6 L1631.5,1768.7 L1618.5,1768.7 Z" fill="none" stroke="#22b022" stroke-width="1.7" />
<path d="M1627.4,1756.9 L1633.9,1768.0 L1620.9,1768.0 Z" fill="none" stroke="#22b022" stroke-width="1.7" />
<path d="M1629.9,1757.9 L1636.4,1768.9 L1623.4,1768.9 Z" fill="none" stroke="#22b022" stroke-width="1.7" />
<path d="M1632.4,1755.4 L1638.9,1766.5 L1625.9,1766.5 Z" fill="none" stroke="#22b022" stroke-width="1.7" />
<path d="M1634.9,1754.4 L1641.4,1765.5 L1628.4,1765.5 Z" fill="none" stroke="#22b022" stroke-width="1.7" />
<path d="M1637.3,1756.5 L1643.8,1767.6 L1630.8,1767.6 Z" fill="none" stroke="#22b022" stroke-width="1.7" />
<path d="M1639.8,1754.4 L1646.3,1765.5 L1633.3,1765.5 Z" fill="none" stroke="#22b022" stroke-width="1.7" />
<path d="M1642.3,1755.7 L1648.8,1766.7 L1635.8,1766.7 Z" fill="none" stroke="#22b022" stroke-width="1.7" />
<path d="M1644.8,1755.2 L1651.3,1766.2 L1638.3,1766.2 Z" fill="none" stroke="#22b022" stroke-width="1.7" />
<path d="M1647.3,1754.5 L1653.8,1765.6 L1640.8,1765.6 Z" fill="none" stroke="#22b022" stroke-width="1.7" />
<path d="M1649.7,1755.1 L1656.2,1766.1 L1643.2,1766.1 Z" fill="none" stroke="#22b022" stroke-width="1.7" />
<path d="M1652.2,1755.7 L1658.7,1766.7 L1645.7,1766.7 Z" fill="none" stroke="#22b022" stroke-width="1.7" />
<path d="M1654.7,1755.4 L1661.2,1766.5 L1648.2,1766.5 Z" fill="none" stroke="#22b022" stroke-width="1.7" />
<path d="M1657.2,1756.6 L1663.7,1767.7 L1650.7,1767.7 Z" fill="none" stroke="#22b022" stroke-width="1.7" />
<path d="M1659.7,1754.1 L1666.2,1765.1 L1653.2,1765.1 Z" fill="none" stroke="#22b022" stroke-width="1.7" />
<path d="M1662.1,1755.8 L1668.6,1766.9 L1655.6,1766.9 Z" fill="none" stroke="#22b022" stroke-width="1.7" />
<path d="M1664.6,1753.7 L1671.1,1764.8 L1658.1,1764.8 Z" fill="none" stroke="#22b022" stroke-width="1.7" />
<path d="M1667.1,1755.1 L1673.6,1766.1 L1660.6,1766.1 Z" fill="none" stroke="#22b022" stroke-width="1.7" />
<path d="M1669.6,1755.6 L1676.1,1766.7 L1663.1,1766.7 Z" fill="none" stroke="#22b022" stroke-width="1.7" />
<path d="M1672.1,1755.6 L1678.6,1766.7 L1665.6,1766.7 Z" fill="none" stroke="#22b022" stroke-width="1.7" />
<path d="M1674.5,1757.3 L1681.0,1768.3 L1668.0,1768.3 Z" fill="none" stroke="#22b022" stroke-width="1.7" />
<path d="M1677.0,1758.0 L1683.5,1769.0 L1670.5,1769.0 Z" fill="none" stroke="#22b022" stroke-width="1.7" />
<path d="M1679.5,1757.4 L1686.0,1768.5 L1673.0,1768.5 Z" fill="none" stroke="#22b022" stroke-width="1.7" />
<path d="M1682.0,1756.6 L1688.5,1767.7 L1675.5,1767.7 Z" fill="none" stroke="#22b022" stroke-width="1.7" />
<path d="M1684.4,1754.1 L1690.9,1765.1 L1677.9,1765.1 Z" fill="none" stroke="#22b022" stroke-width="1.7" />
<path d="M1686.9,1751.8 L1693.4,1762.8 L1680.4,1762.8 Z" fill="none" stroke="#22b022" stroke-width="1.7" />
<path d="M1689.4,1754.6 L1695.9,1765.6 L1682.9,1765.6 Z" fill="none" stroke="#22b022" stroke-width="1.7" />
<path d="M1691.9,1754.2 L1698.4,1765.3 L1685.4,1765.3 Z" fill="none" stroke="#22b022" stroke-width="1.7" />
<path d="M1694.4,1755.9 L1700.9,1766.9 L1687.9,1766.9 Z" fill="none" stroke="#22b022" stroke-width="1.7" />
<path d="M1696.8,1753.9 L1703.3,1764.9 L1690.3,1764.9 Z" fill="none" stroke="#22b022" stroke-width="1.7" />
<path d="M1699.3,1754.8 L1705.8,1765.8 L1692.8,1765.8 Z" fill="none" stroke="#22b022" stroke-width="1.7" />
<path d="M1701.8,1752.7 L1708.3,1763.8 L1695.3,1763.8 Z" fill="none" stroke="#22b022" stroke-width="1.7" />
<path d="M1704.3,1752.9 L1710.8,1763.9 L1697.8,1763.9 Z" fill="none" stroke="#22b022" stroke-width="1.7" />
<path d="M1706.8,1755.0 L1713.3,1766.0 L1700.3,1766.0 Z" fill="none" stroke="#22b022" stroke-width="1.7" />
<path d="M1709.2,1757.0 L1715.7,1768.1 L1702.7,1768.1 Z" fill="none" stroke="#22b022" stroke-width="1.7" />
<path d="M1711.7,1757.3 L1718.2,1768.3 L1705.2,1768.3 Z" fill="none" stroke="#22b022" stroke-width="1.7" />
<path d="M1714.2,1754.6 L1720.7,1765.7 L1707.7,1765.7 Z" fill="none" stroke="#22b022" stroke-width="1.7" />
<path d="M1716.7,1756.1 L1723.2,1767.1 L1710.2,1767.1 Z" fill="none" stroke="#22b022" stroke-width="1.7" />
<path d="M1719.2,1755.6 L1725.7,1766.6 L1712.7,1766.6 Z" fill="none" stroke="#22b022" stroke-width="1.7" />
<path d="M1721.6,1755.7 L1728.1,1766.8 L1715.1,1766.8 Z" fill="none" stroke="#22b022" stroke-width="1.7" />
<path d="M1724.1,1756.0 L1730.6,1767.0 L1717.6,1767.0 Z" fill="none" stroke="#22b022" stroke-width="1.7" />
<path d="M1726.6,1754.0 L1733.1,1765.1 L1720.1,1765.1 Z" fill="none" stroke="#22b022" stroke-width="1.7" />
<path d="M1729.1,1755.4 L1735.6,1766.4 L1722.6,1766.4 Z" fill="none" stroke="#22b022" stroke-width="1.7" />
<path d="M1731.5,1754.0 L1738.0,1765.1 L1725.0,1765.1 Z" fill="none" stroke="#22b022" stroke-width="1.7" />
<path d="M1734.0,1753.3 L1740.5,1764.3 L1727.5,1764.3 Z" fill="none" stroke="#22b022" stroke-width="1.7" />
<path d="M1736.5,1751.5 L1743.0,1762.6 L1730.0,1762.6 Z" fill="none" stroke="#22b022" stroke-width="1.7" />
<path d="M1739.0,1752.2 L1745.5,1763.3 L1732.5,1763.3 Z" fill="none" stroke="#22b022" stroke-width="1.7" />
<path d="M1741.5,1750.9 L1748.0,1761.9 L1735.0,1761.9 Z" fill="none" stroke="#22b022" stroke-width="1.7" />
<path d="M1743.9,1752.1 L1750.4,1763.2 L1737.4,1763.2 Z" fill="none" stroke="#22b022" stroke-width="1.7" />
<path d="M1746.4,1752.4 L1752.9,1763.5 L1739.9,1763.5 Z" fill="none" stroke="#22b022" stroke-width="1.7" />
<path d="M1748.9,1752.4 L1755.4,1763.5 L1742.4,1763.5 Z" fill="none" stroke="#22b022" stroke-width="1.7" />
<path d="M1751.4,1751.4 L1757.9,1762.4 L1744.9,1762.4 Z" fill="none" stroke="#22b022" stroke-width="1.7" />
<path d="M1753.9,1750.4 L1760.4,1761.4 L1747.4,1761.4 Z" fill="none" stroke="#22b022" stroke-width="1.7" />
<path d="M1756.3,1753.3 L1762.8,1764.4 L1749.8,1764.4 Z" fill="none" stroke="#22b022" stroke-width="1.7" />
<path d="M1758.8,1755.3 L1765.3,1766.4 L1752.3,1766.4 Z" fill="none" stroke="#22b022" stroke-width="1.7" />
<path d="M1761.3,1754.8 L1767.8,1765.9 L1754.8,1765.9 Z" fill="none" stroke="#22b022" stroke-width="1.7" />
<path d="M1763.8,1753.2 L1770.3,1764.3 L1757.3,1764.3 Z" fill="none" stroke="#22b022" stroke-width="1.7" />
<path d="M1766.3,1753.4 L1772.8,1764.4 L1759.8,1764.4 Z" fill="none" stroke="#22b022" stroke-width="1.7" />
<path d="M1768.7,1754.6 L1775.2,1765.7 L1762.2,1765.7 Z" fill="none" stroke="#22b022" stroke-width="1.7" />
<path d="M1771.2,1752.4 L1777.7,1763.4 L1764.7,1763.4 Z" fill="none" stroke="#22b022" stroke-width="1.7" />
<path d="M1773.7,1753.9 L1780.2,1765.0 L1767.2,1765.0 Z" fill="none" stroke="#22b022" stroke-width="1.7" />
<path d="M1776.2,1756.0 L1782.7,1767.0 L1769.7,1767.0 Z" fill="none" stroke="#22b022" stroke-width="1.7" />
<path d="M1778.7,1757.6 L1785.2,1768.6 L1772.2,1768.6 Z" fill="none" stroke="#22b022" stroke-width="1.7" />
<path d="M1781.1,1758.8 L1787.6,1769.8 L1774.6,1769.8 Z" fill="none" stroke="#22b022" stroke-width="1.7" />
<path d="M1783.6,1756.4 L1790.1,1767.5 L1777.1,1767.5 Z" fill="none" stroke="#22b022" stroke-width="1.7" />
<path d="M1291.3,1896.8 L1297.8,1907.9 L1284.8,1907.9 Z" fill="none" stroke="#22b022" stroke-width="1.6" />
<path d="M1291.8,1907.7 L1298.3,1918.7 L1285.3,1918.7 Z" fill="none" stroke="#22b022" stroke-width="1.6" />
<circle cx="1288.8" cy="1666.6" r="5.6" fill="none" stroke="#ff7a1a" stroke-width="1.7" />
<circle cx="1291.3" cy="1661.8" r="5.6" fill="none" stroke="#ff7a1a" stroke-width="1.7" />
<circle cx="1293.8" cy="1657.2" r="5.6" fill="none" stroke="#ff7a1a" stroke-width="1.7" />
<circle cx="1296.2" cy="1655.8" r="5.6" fill="none" stroke="#ff7a1a" stroke-width="1.7" />
<circle cx="1298.7" cy="1654.3" r="5.6" fill="none" stroke="#ff7a1a" stroke-width="1.7" />
<circle cx="1301.2" cy="1653.2" r="5.6" fill="none" stroke="#ff7a1a" stroke-width="1.7" />
<circle cx="1303.7" cy="1652.8" r="5.6" fill="none" stroke="#ff7a1a" stroke-width="1.7" />
<circle cx="1306.2" cy="1649.3" r="5.6" fill="none" stroke="#ff7a1a" stroke-width="1.7" />
<circle cx="1308.6" cy="1647.2" r="5.6" fill="none" stroke="#ff7a1a" stroke-width="1.7" />
<circle cx="1311.1" cy="1646.1" r="5.6" fill="none" stroke="#ff7a1a" stroke-width="1.7" />
<circle cx="1313.6" cy="1645.3" r="5.6" fill="none" stroke="#ff7a1a" stroke-width="1.7" />
<circle cx="1316.1" cy="1643.9" r="5.6" fill="none" stroke="#ff7a1a" stroke-width="1.7" />
<circle cx="1318.5" cy="1645.6" r="5.6" fill="none" stroke="#ff7a1a" stroke-width="1.7" />
<circle cx="1321.0" cy="1645.2" r="5.6" fill="none" stroke="#ff7a1a" stroke-width="1.7" />
<circle cx="1323.5" cy="1646.4" r="5.6" fill="none" stroke="#ff7a1a" stroke-width="1.7" />
<circle cx="1326.0" cy="1643.0" r="5.6" fill="none" stroke="#ff7a1a" stroke-width="1.7" />
<circle cx="1328.5" cy="1645.1" r="5.6" fill="none" stroke="#ff7a1a" stroke-width="1.7" />
<circle cx="1330.9" cy="1642.3" r="5.6" fill="none" stroke="#ff7a1a" stroke-width="1.7" />
<circle cx="1333.4" cy="1644.3" r="5.6" fill="none" stroke="#ff7a1a" stroke-width="1.7" />
<circle cx="1335.9" cy="1642.2" r="5.6" fill="none" stroke="#ff7a1a" stroke-width="1.7" />
<circle cx="1338.4" cy="1642.5" r="5.6" fill="none" stroke="#ff7a1a" stroke-width="1.7" />
<circle cx="1340.9" cy="1642.3" r="5.6" fill="none" stroke="#ff7a1a" stroke-width="1.7" />
<circle cx="1343.3" cy="1639.5" r="5.6" fill="none" stroke="#ff7a1a" stroke-width="1.7" />
<circle cx="1345.8" cy="1642.0" r="5.6" fill="none" stroke="#ff7a1a" stroke-width="1.7" />
<circle cx="1348.3" cy="1643.4" r="5.6" fill="none" stroke="#ff7a1a" stroke-width="1.7" />
<circle cx="1350.8" cy="1639.5" r="5.6" fill="none" stroke="#ff7a1a" stroke-width="1.7" />
<circle cx="1353.3" cy="1638.9" r="5.6" fill="none" stroke="#ff7a1a" stroke-width="1.7" />
<circle cx="1355.7" cy="1640.7" r="5.6" fill="none" stroke="#ff7a1a" stroke-width="1.7" />
<circle cx="1358.2" cy="1636.8" r="5.6" fill="none" stroke="#ff7a1a" stroke-width="1.7" />
<circle cx="1360.7" cy="1634.2" r="5.6" fill="none" stroke="#ff7a1a" stroke-width="1.7" />
<circle cx="1363.2" cy="1636.9" r="5.6" fill="none" stroke="#ff7a1a" stroke-width="1.7" />
<circle cx="1365.6" cy="1637.4" r="5.6" fill="none" stroke="#ff7a1a" stroke-width="1.7" />
<circle cx="1368.1" cy="1639.4" r="5.6" fill="none" stroke="#ff7a1a" stroke-width="1.7" />
<circle cx="1370.6" cy="1639.9" r="5.6" fill="none" stroke="#ff7a1a" stroke-width="1.7" />
<circle cx="1373.1" cy="1638.5" r="5.6" fill="none" stroke="#ff7a1a" stroke-width="1.7" />
<circle cx="1375.6" cy="1640.1" r="5.6" fill="none" stroke="#ff7a1a" stroke-width="1.7" />
<circle cx="1378.0" cy="1638.3" r="5.6" fill="none" stroke="#ff7a1a" stroke-width="1.7" />
<circle cx="1380.5" cy="1640.6" r="5.6" fill="none" stroke="#ff7a1a" stroke-width="1.7" />
<circle cx="1383.0" cy="1641.6" r="5.6" fill="none" stroke="#ff7a1a" stroke-width="1.7" />
<circle cx="1385.5" cy="1638.7" r="5.6" fill="none" stroke="#ff7a1a" stroke-width="1.7" />
<circle cx="1388.0" cy="1639.0" r="5.6" fill="none" stroke="#ff7a1a" stroke-width="1.7" />
<circle cx="1390.4" cy="1639.2" r="5.6" fill="none" stroke="#ff7a1a" stroke-width="1.7" />
<circle cx="1392.9" cy="1638.3" r="5.6" fill="none" stroke="#ff7a1a" stroke-width="1.7" />
<circle cx="1395.4" cy="1638.4" r="5.6" fill="none" stroke="#ff7a1a" stroke-width="1.7" />
<circle cx="1397.9" cy="1639.0" r="5.6" fill="none" stroke="#ff7a1a" stroke-width="1.7" />
<circle cx="1400.4" cy="1641.4" r="5.6" fill="none" stroke="#ff7a1a" stroke-width="1.7" />
<circle cx="1402.8" cy="1639.3" r="5.6" fill="none" stroke="#ff7a1a" stroke-width="1.7" />
<circle cx="1405.3" cy="1636.4" r="5.6" fill="none" stroke="#ff7a1a" stroke-width="1.7" />
<circle cx="1407.8" cy="1634.4" r="5.6" fill="none" stroke="#ff7a1a" stroke-width="1.7" />
<circle cx="1410.3" cy="1634.8" r="5.6" fill="none" stroke="#ff7a1a" stroke-width="1.7" />
<circle cx="1412.8" cy="1636.8" r="5.6" fill="none" stroke="#ff7a1a" stroke-width="1.7" />
<circle cx="1415.2" cy="1638.1" r="5.6" fill="none" stroke="#ff7a1a" stroke-width="1.7" />
<circle cx="1417.7" cy="1637.1" r="5.6" fill="none" stroke="#ff7a1a" stroke-width="1.7" />
<circle cx="1420.2" cy="1636.6" r="5.6" fill="none" stroke="#ff7a1a" stroke-width="1.7" />
<circle cx="1422.7" cy="1639.3" r="5.6" fill="none" stroke="#ff7a1a" stroke-width="1.7" />
<circle cx="1425.1" cy="1640.6" r="5.6" fill="none" stroke="#ff7a1a" stroke-width="1.7" />
<circle cx="1427.6" cy="1640.7" r="5.6" fill="none" stroke="#ff7a1a" stroke-width="1.7" />
<circle cx="1430.1" cy="1640.0" r="5.6" fill="none" stroke="#ff7a1a" stroke-width="1.7" />
<circle cx="1432.6" cy="1637.8" r="5.6" fill="none" stroke="#ff7a1a" stroke-width="1.7" />
<circle cx="1435.1" cy="1638.1" r="5.6" fill="none" stroke="#ff7a1a" stroke-width="1.7" />
<circle cx="1437.5" cy="1640.8" r="5.6" fill="none" stroke="#ff7a1a" stroke-width="1.7" />
<circle cx="1440.0" cy="1639.1" r="5.6" fill="none" stroke="#ff7a1a" stroke-width="1.7" />
<circle cx="1442.5" cy="1640.3" r="5.6" fill="none" stroke="#ff7a1a" stroke-width="1.7" />
<circle cx="1445.0" cy="1640.9" r="5.6" fill="none" stroke="#ff7a1a" stroke-width="1.7" />
<circle cx="1447.5" cy="1643.2" r="5.6" fill="none" stroke="#ff7a1a" stroke-width="1.7" />
<circle cx="1449.9" cy="1643.9" r="5.6" fill="none" stroke="#ff7a1a" stroke-width="1.7" />
<circle cx="1452.4" cy="1644.9" r="5.6" fill="none" stroke="#ff7a1a" stroke-width="1.7" />
<circle cx="1454.9" cy="1643.6" r="5.6" fill="none" stroke="#ff7a1a" stroke-width="1.7" />
<circle cx="1457.4" cy="1646.7" r="5.6" fill="none" stroke="#ff7a1a" stroke-width="1.7" />
<circle cx="1459.9" cy="1646.6" r="5.6" fill="none" stroke="#ff7a1a" stroke-width="1.7" />
<circle cx="1462.3" cy="1648.9" r="5.6" fill="none" stroke="#ff7a1a" stroke-width="1.7" />
<circle cx="1464.8" cy="1647.8" r="5.6" fill="none" stroke="#ff7a1a" stroke-width="1.7" />
<circle cx="1467.3" cy="1650.9" r="5.6" fill="none" stroke="#ff7a1a" stroke-width="1.7" />
<circle cx="1469.8" cy="1652.0" r="5.6" fill="none" stroke="#ff7a1a" stroke-width="1.7" />
<circle cx="1472.2" cy="1652.6" r="5.6" fill="none" stroke="#ff7a1a" stroke-width="1.7" />
<circle cx="1474.7" cy="1650.1" r="5.6" fill="none" stroke="#ff7a1a" stroke-width="1.7" />
<circle cx="1477.2" cy="1651.4" r="5.6" fill="none" stroke="#ff7a1a" stroke-width="1.7" />
<circle cx="1479.7" cy="1649.8" r="5.6" fill="none" stroke="#ff7a1a" stroke-width="1.7" />
<circle cx="1482.2" cy="1649.8" r="5.6" fill="none" stroke="#ff7a1a" stroke-width="1.7" />
<circle cx="1484.6" cy="1649.2" r="5.6" fill="none" stroke="#ff7a1a" stroke-width="1.7" />
<circle cx="1487.1" cy="1647.4" r="5.6" fill="none" stroke="#ff7a1a" stroke-width="1.7" />
<circle cx="1489.6" cy="1643.3" r="5.6" fill="none" stroke="#ff7a1a" stroke-width="1.7" />
<circle cx="1492.1" cy="1642.8" r="5.6" fill="none" stroke="#ff7a1a" stroke-width="1.7" />
<circle cx="1494.6" cy="1639.6" r="5.6" fill="none" stroke="#ff7a1a" stroke-width="1.7" />
<circle cx="1497.0" cy="1641.5" r="5.6" fill="none" stroke="#ff7a1a" stroke-width="1.7" />
<circle cx="1499.5" cy="1639.8" r="5.6" fill="none" stroke="#ff7a1a" stroke-width="1.7" />
<circle cx="1502.0" cy="1641.9" r="5.6" fill="none" stroke="#ff7a1a" stroke-width="1.7" />
<circle cx="1504.5" cy="1644.5" r="5.6" fill="none" stroke="#ff7a1a" stroke-width="1.7" />
<circle cx="1507.0" cy="1643.3" r="5.6" fill="none" stroke="#ff7a1a" stroke-width="1.7" />
<circle cx="1509.4" cy="1641.8" r="5.6" fill="none" stroke="#ff7a1a" stroke-width="1.7" />
<circle cx="1511.9" cy="1646.0" r="5.6" fill="none" stroke="#ff7a1a" stroke-width="1.7" />
<circle cx="1514.4" cy="1647.6" r="5.6" fill="none" stroke="#ff7a1a" stroke-width="1.7" />
<circle cx="1516.9" cy="1646.1" r="5.6" fill="none" stroke="#ff7a1a" stroke-width="1.7" />
<circle cx="1519.3" cy="1647.8" r="5.6" fill="none" stroke="#ff7a1a" stroke-width="1.7" />
<circle cx="1521.8" cy="1649.8" r="5.6" fill="none" stroke="#ff7a1a" stroke-width="1.7" />
<circle cx="1524.3" cy="1652.7" r="5.6" fill="none" stroke="#ff7a1a" stroke-width="1.7" />
<circle cx="1526.8" cy="1654.8" r="5.6" fill="none" stroke="#ff7a1a" stroke-width="1.7" />
<circle cx="1529.3" cy="1653.3" r="5.6" fill="none" stroke="#ff7a1a" stroke-width="1.7" />
<circle cx="1531.7" cy="1650.4" r="5.6" fill="none" stroke="#ff7a1a" stroke-width="1.7" />
<circle cx="1534.2" cy="1648.6" r="5.6" fill="none" stroke="#ff7a1a" stroke-width="1.7" />
<circle cx="1536.7" cy="1650.3" r="5.6" fill="none" stroke="#ff7a1a" stroke-width="1.7" />
<circle cx="1539.2" cy="1652.4" r="5.6" fill="none" stroke="#ff7a1a" stroke-width="1.7" />
<circle cx="1541.7" cy="1651.9" r="5.6" fill="none" stroke="#ff7a1a" stroke-width="1.7" />
<circle cx="1544.1" cy="1648.6" r="5.6" fill="none" stroke="#ff7a1a" stroke-width="1.7" />
<circle cx="1546.6" cy="1645.7" r="5.6" fill="none" stroke="#ff7a1a" stroke-width="1.7" />
<circle cx="1549.1" cy="1644.4" r="5.6" fill="none" stroke="#ff7a1a" stroke-width="1.7" />
<circle cx="1551.6" cy="1645.4" r="5.6" fill="none" stroke="#ff7a1a" stroke-width="1.7" />
<circle cx="1554.1" cy="1644.1" r="5.6" fill="none" stroke="#ff7a1a" stroke-width="1.7" />
<circle cx="1556.5" cy="1643.2" r="5.6" fill="none" stroke="#ff7a1a" stroke-width="1.7" />
<circle cx="1559.0" cy="1641.3" r="5.6" fill="none" stroke="#ff7a1a" stroke-width="1.7" />
<circle cx="1561.5" cy="1641.7" r="5.6" fill="none" stroke="#ff7a1a" stroke-width="1.7" />
<circle cx="1564.0" cy="1637.8" r="5.6" fill="none" stroke="#ff7a1a" stroke-width="1.7" />
<circle cx="1566.4" cy="1635.0" r="5.6" fill="none" stroke="#ff7a1a" stroke-width="1.7" />
<circle cx="1568.9" cy="1638.9" r="5.6" fill="none" stroke="#ff7a1a" stroke-width="1.7" />
<circle cx="1571.4" cy="1641.2" r="5.6" fill="none" stroke="#ff7a1a" stroke-width="1.7" />
<circle cx="1573.9" cy="1639.9" r="5.6" fill="none" stroke="#ff7a1a" stroke-width="1.7" />
<circle cx="1576.4" cy="1642.6" r="5.6" fill="none" stroke="#ff7a1a" stroke-width="1.7" />
<circle cx="1578.8" cy="1641.0" r="5.6" fill="none" stroke="#ff7a1a" stroke-width="1.7" />
<circle cx="1581.3" cy="1642.6" r="5.6" fill="none" stroke="#ff7a1a" stroke-width="1.7" />
<circle cx="1583.8" cy="1643.0" r="5.6" fill="none" stroke="#ff7a1a" stroke-width="1.7" />
<circle cx="1586.3" cy="1643.5" r="5.6" fill="none" stroke="#ff7a1a" stroke-width="1.7" />
<circle cx="1588.8" cy="1646.1" r="5.6" fill="none" stroke="#ff7a1a" stroke-width="1.7" />
<circle cx="1591.2" cy="1647.6" r="5.6" fill="none" stroke="#ff7a1a" stroke-width="1.7" />
<circle cx="1593.7" cy="1648.8" r="5.6" fill="none" stroke="#ff7a1a" stroke-width="1.7" />
<circle cx="1596.2" cy="1647.3" r="5.6" fill="none" stroke="#ff7a1a" stroke-width="1.7" />
<circle cx="1598.7" cy="1646.3" r="5.6" fill="none" stroke="#ff7a1a" stroke-width="1.7" />
<circle cx="1601.2" cy="1648.7" r="5.6" fill="none" stroke="#ff7a1a" stroke-width="1.7" />
<circle cx="1603.6" cy="1646.3" r="5.6" fill="none" stroke="#ff7a1a" stroke-width="1.7" />
<circle cx="1606.1" cy="1647.2" r="5.6" fill="none" stroke="#ff7a1a" stroke-width="1.7" />
<circle cx="1608.6" cy="1648.9" r="5.6" fill="none" stroke="#ff7a1a" stroke-width="1.7" />
<circle cx="1611.1" cy="1649.0" r="5.6" fill="none" stroke="#ff7a1a" stroke-width="1.7" />
<circle cx="1613.5" cy="1645.4" r="5.6" fill="none" stroke="#ff7a1a" stroke-width="1.7" />
<circle cx="1616.0" cy="1645.0" r="5.6" fill="none" stroke="#ff7a1a" stroke-width="1.7" />
<circle cx="1618.5" cy="1644.2" r="5.6" fill="none" stroke="#ff7a1a" stroke-width="1.7" />
<circle cx="1621.0" cy="1641.7" r="5.6" fill="none" stroke="#ff7a1a" stroke-width="1.7" />
<circle cx="1623.5" cy="1639.6" r="5.6" fill="none" stroke="#ff7a1a" stroke-width="1.7" />
<circle cx="1625.9" cy="1639.1" r="5.6" fill="none" stroke="#ff7a1a" stroke-width="1.7" />
<circle cx="1628.4" cy="1640.4" r="5.6" fill="none" stroke="#ff7a1a" stroke-width="1.7" />
<circle cx="1630.9" cy="1640.2" r="5.6" fill="none" stroke="#ff7a1a" stroke-width="1.7" />
<circle cx="1633.4" cy="1638.2" r="5.6" fill="none" stroke="#ff7a1a" stroke-width="1.7" />
<circle cx="1635.9" cy="1637.2" r="5.6" fill="none" stroke="#ff7a1a" stroke-width="1.7" />
<circle cx="1638.3" cy="1638.7" r="5.6" fill="none" stroke="#ff7a1a" stroke-width="1.7" />
<circle cx="1640.8" cy="1641.3" r="5.6" fill="none" stroke="#ff7a1a" stroke-width="1.7" />
<circle cx="1643.3" cy="1643.2" r="5.6" fill="none" stroke="#ff7a1a" stroke-width="1.7" />
<circle cx="1645.8" cy="1642.7" r="5.6" fill="none" stroke="#ff7a1a" stroke-width="1.7" />
<circle cx="1648.3" cy="1643.5" r="5.6" fill="none" stroke="#ff7a1a" stroke-width="1.7" />
<circle cx="1650.7" cy="1647.4" r="5.6" fill="none" stroke="#ff7a1a" stroke-width="1.7" />
<circle cx="1653.2" cy="1646.4" r="5.6" fill="none" stroke="#ff7a1a" stroke-width="1.7" />
<circle cx="1655.7" cy="1644.8" r="5.6" fill="none" stroke="#ff7a1a" stroke-width="1.7" />
<circle cx="1658.2" cy="1644.5" r="5.6" fill="none" stroke="#ff7a1a" stroke-width="1.7" />
<circle cx="1660.6" cy="1643.9" r="5.6" fill="none" stroke="#ff7a1a" stroke-width="1.7" />
<circle cx="1663.1" cy="1643.7" r="5.6" fill="none" stroke="#ff7a1a" stroke-width="1.7" />
<circle cx="1665.6" cy="1645.8" r="5.6" fill="none" stroke="#ff7a1a" stroke-width="1.7" />
<circle cx="1668.1" cy="1646.0" r="5.6" fill="none" stroke="#ff7a1a" stroke-width="1.7" />
<circle cx="1670.6" cy="1648.7" r="5.6" fill="none" stroke="#ff7a1a" stroke-width="1.7" />
<circle cx="1673.0" cy="1652.4" r="5.6" fill="none" stroke="#ff7a1a" stroke-width="1.7" />
<circle cx="1675.5" cy="1653.7" r="5.6" fill="none" stroke="#ff7a1a" stroke-width="1.7" />
<circle cx="1678.0" cy="1652.8" r="5.6" fill="none" stroke="#ff7a1a" stroke-width="1.7" />
<circle cx="1680.5" cy="1648.3" r="5.6" fill="none" stroke="#ff7a1a" stroke-width="1.7" />
<circle cx="1683.0" cy="1646.0" r="5.6" fill="none" stroke="#ff7a1a" stroke-width="1.7" />
<circle cx="1685.4" cy="1644.8" r="5.6" fill="none" stroke="#ff7a1a" stroke-width="1.7" />
<circle cx="1687.9" cy="1644.5" r="5.6" fill="none" stroke="#ff7a1a" stroke-width="1.7" />
<circle cx="1690.4" cy="1647.1" r="5.6" fill="none" stroke="#ff7a1a" stroke-width="1.7" />
<circle cx="1692.9" cy="1646.6" r="5.6" fill="none" stroke="#ff7a1a" stroke-width="1.7" />
<circle cx="1695.4" cy="1645.3" r="5.6" fill="none" stroke="#ff7a1a" stroke-width="1.7" />
<circle cx="1697.8" cy="1646.1" r="5.6" fill="none" stroke="#ff7a1a" stroke-width="1.7" />
<circle cx="1700.3" cy="1647.5" r="5.6" fill="none" stroke="#ff7a1a" stroke-width="1.7" />
<circle cx="1702.8" cy="1647.5" r="5.6" fill="none" stroke="#ff7a1a" stroke-width="1.7" />
<circle cx="1705.3" cy="1648.0" r="5.6" fill="none" stroke="#ff7a1a" stroke-width="1.7" />
<circle cx="1707.8" cy="1646.3" r="5.6" fill="none" stroke="#ff7a1a" stroke-width="1.7" />
<circle cx="1710.2" cy="1648.2" r="5.6" fill="none" stroke="#ff7a1a" stroke-width="1.7" />
<circle cx="1712.7" cy="1649.7" r="5.6" fill="none" stroke="#ff7a1a" stroke-width="1.7" />
<circle cx="1715.2" cy="1649.6" r="5.6" fill="none" stroke="#ff7a1a" stroke-width="1.7" />
<circle cx="1717.7" cy="1647.3" r="5.6" fill="none" stroke="#ff7a1a" stroke-width="1.7" />
<circle cx="1720.1" cy="1645.4" r="5.6" fill="none" stroke="#ff7a1a" stroke-width="1.7" />
<circle cx="1722.6" cy="1644.6" r="5.6" fill="none" stroke="#ff7a1a" stroke-width="1.7" />
<circle cx="1725.1" cy="1642.4" r="5.6" fill="none" stroke="#ff7a1a" stroke-width="1.7" />
<circle cx="1727.6" cy="1644.1" r="5.6" fill="none" stroke="#ff7a1a" stroke-width="1.7" />
<circle cx="1730.1" cy="1647.2" r="5.6" fill="none" stroke="#ff7a1a" stroke-width="1.7" />
<circle cx="1732.5" cy="1646.7" r="5.6" fill="none" stroke="#ff7a1a" stroke-width="1.7" />
<circle cx="1735.0" cy="1646.6" r="5.6" fill="none" stroke="#ff7a1a" stroke-width="1.7" />
<circle cx="1737.5" cy="1648.0" r="5.6" fill="none" stroke="#ff7a1a" stroke-width="1.7" />
<circle cx="1740.0" cy="1646.3" r="5.6" fill="none" stroke="#ff7a1a" stroke-width="1.7" />
<circle cx="1742.5" cy="1646.9" r="5.6" fill="none" stroke="#ff7a1a" stroke-width="1.7" />
<circle cx="1744.9" cy="1647.9" r="5.6" fill="none" stroke="#ff7a1a" stroke-width="1.7" />
<circle cx="1747.4" cy="1648.0" r="5.6" fill="none" stroke="#ff7a1a" stroke-width="1.7" />
<circle cx="1749.9" cy="1644.7" r="5.6" fill="none" stroke="#ff7a1a" stroke-width="1.7" />
<circle cx="1752.4" cy="1647.6" r="5.6" fill="none" stroke="#ff7a1a" stroke-width="1.7" />
<circle cx="1754.9" cy="1647.6" r="5.6" fill="none" stroke="#ff7a1a" stroke-width="1.7" />
<circle cx="1757.3" cy="1648.1" r="5.6" fill="none" stroke="#ff7a1a" stroke-width="1.7" />
<circle cx="1759.8" cy="1648.8" r="5.6" fill="none" stroke="#ff7a1a" stroke-width="1.7" />
<circle cx="1762.3" cy="1648.1" r="5.6" fill="none" stroke="#ff7a1a" stroke-width="1.7" />
<circle cx="1764.8" cy="1648.7" r="5.6" fill="none" stroke="#ff7a1a" stroke-width="1.7" />
<circle cx="1767.2" cy="1645.2" r="5.6" fill="none" stroke="#ff7a1a" stroke-width="1.7" />
<circle cx="1769.7" cy="1645.1" r="5.6" fill="none" stroke="#ff7a1a" stroke-width="1.7" />
<circle cx="1772.2" cy="1643.9" r="5.6" fill="none" stroke="#ff7a1a" stroke-width="1.7" />
<circle cx="1774.7" cy="1646.1" r="5.6" fill="none" stroke="#ff7a1a" stroke-width="1.7" />
<circle cx="1777.2" cy="1645.9" r="5.6" fill="none" stroke="#ff7a1a" stroke-width="1.7" />
<circle cx="1779.6" cy="1644.9" r="5.6" fill="none" stroke="#ff7a1a" stroke-width="1.7" />
<circle cx="1782.1" cy="1642.9" r="5.6" fill="none" stroke="#ff7a1a" stroke-width="1.7" />
<circle cx="1784.6" cy="1644.9" r="5.6" fill="none" stroke="#ff7a1a" stroke-width="1.7" />
<rect x="1283.8" y="1576.5" width="10.0" height="10.0" fill="none" stroke="#000" stroke-width="2.6" />
<rect x="1286.3" y="1581.5" width="10.0" height="10.0" fill="none" stroke="#000" stroke-width="2.6" />
<rect x="1288.8" y="1585.0" width="10.0" height="10.0" fill="none" stroke="#000" stroke-width="2.6" />
<rect x="1291.2" y="1587.1" width="10.0" height="10.0" fill="none" stroke="#000" stroke-width="2.6" />
<rect x="1293.7" y="1588.7" width="10.0" height="10.0" fill="none" stroke="#000" stroke-width="2.6" />
<rect x="1296.2" y="1589.9" width="10.0" height="10.0" fill="none" stroke="#000" stroke-width="2.6" />
<rect x="1298.7" y="1593.0" width="10.0" height="10.0" fill="none" stroke="#000" stroke-width="2.6" />
<rect x="1301.2" y="1594.0" width="10.0" height="10.0" fill="none" stroke="#000" stroke-width="2.6" />
<rect x="1303.6" y="1594.5" width="10.0" height="10.0" fill="none" stroke="#000" stroke-width="2.6" />
<rect x="1306.1" y="1594.2" width="10.0" height="10.0" fill="none" stroke="#000" stroke-width="2.6" />
<rect x="1308.6" y="1597.4" width="10.0" height="10.0" fill="none" stroke="#000" stroke-width="2.6" />
<rect x="1311.1" y="1599.0" width="10.0" height="10.0" fill="none" stroke="#000" stroke-width="2.6" />
<rect x="1313.5" y="1601.4" width="10.0" height="10.0" fill="none" stroke="#000" stroke-width="2.6" />
<rect x="1316.0" y="1600.0" width="10.0" height="10.0" fill="none" stroke="#000" stroke-width="2.6" />
<rect x="1318.5" y="1599.8" width="10.0" height="10.0" fill="none" stroke="#000" stroke-width="2.6" />
<rect x="1321.0" y="1603.0" width="10.0" height="10.0" fill="none" stroke="#000" stroke-width="2.6" />
<rect x="1323.5" y="1601.1" width="10.0" height="10.0" fill="none" stroke="#000" stroke-width="2.6" />
<rect x="1325.9" y="1600.1" width="10.0" height="10.0" fill="none" stroke="#000" stroke-width="2.6" />
<rect x="1328.4" y="1601.2" width="10.0" height="10.0" fill="none" stroke="#000" stroke-width="2.6" />
<rect x="1330.9" y="1602.3" width="10.0" height="10.0" fill="none" stroke="#000" stroke-width="2.6" />
<rect x="1333.4" y="1605.6" width="10.0" height="10.0" fill="none" stroke="#000" stroke-width="2.6" />
<rect x="1335.9" y="1608.0" width="10.0" height="10.0" fill="none" stroke="#000" stroke-width="2.6" />
<rect x="1338.3" y="1607.4" width="10.0" height="10.0" fill="none" stroke="#000" stroke-width="2.6" />
<rect x="1340.8" y="1609.2" width="10.0" height="10.0" fill="none" stroke="#000" stroke-width="2.6" />
<rect x="1343.3" y="1609.8" width="10.0" height="10.0" fill="none" stroke="#000" stroke-width="2.6" />
<rect x="1345.8" y="1610.1" width="10.0" height="10.0" fill="none" stroke="#000" stroke-width="2.6" />
<rect x="1348.3" y="1611.4" width="10.0" height="10.0" fill="none" stroke="#000" stroke-width="2.6" />
<rect x="1350.7" y="1610.3" width="10.0" height="10.0" fill="none" stroke="#000" stroke-width="2.6" />
<rect x="1353.2" y="1609.6" width="10.0" height="10.0" fill="none" stroke="#000" stroke-width="2.6" />
<rect x="1355.7" y="1607.4" width="10.0" height="10.0" fill="none" stroke="#000" stroke-width="2.6" />
<rect x="1358.2" y="1607.4" width="10.0" height="10.0" fill="none" stroke="#000" stroke-width="2.6" />
<rect x="1360.6" y="1606.8" width="10.0" height="10.0" fill="none" stroke="#000" stroke-width="2.6" />
<rect x="1363.1" y="1607.1" width="10.0" height="10.0" fill="none" stroke="#000" stroke-width="2.6" />
<rect x="1365.6" y="1606.7" width="10.0" height="10.0" fill="none" stroke="#000" stroke-width="2.6" />
<rect x="1368.1" y="1607.3" width="10.0" height="10.0" fill="none" stroke="#000" stroke-width="2.6" />
<rect x="1370.6" y="1608.7" width="10.0" height="10.0" fill="none" stroke="#000" stroke-width="2.6" />
<rect x="1373.0" y="1606.3" width="10.0" height="10.0" fill="none" stroke="#000" stroke-width="2.6" />
<rect x="1375.5" y="1604.7" width="10.0" height="10.0" fill="none" stroke="#000" stroke-width="2.6" />
<rect x="1378.0" y="1604.4" width="10.0" height="10.0" fill="none" stroke="#000" stroke-width="2.6" />
<rect x="1380.5" y="1604.8" width="10.0" height="10.0" fill="none" stroke="#000" stroke-width="2.6" />
<rect x="1383.0" y="1606.9" width="10.0" height="10.0" fill="none" stroke="#000" stroke-width="2.6" />
<rect x="1385.4" y="1608.9" width="10.0" height="10.0" fill="none" stroke="#000" stroke-width="2.6" />
<rect x="1387.9" y="1610.0" width="10.0" height="10.0" fill="none" stroke="#000" stroke-width="2.6" />
<rect x="1390.4" y="1611.9" width="10.0" height="10.0" fill="none" stroke="#000" stroke-width="2.6" />
<rect x="1392.9" y="1610.0" width="10.0" height="10.0" fill="none" stroke="#000" stroke-width="2.6" />
<rect x="1395.4" y="1610.4" width="10.0" height="10.0" fill="none" stroke="#000" stroke-width="2.6" />
<rect x="1397.8" y="1608.7" width="10.0" height="10.0" fill="none" stroke="#000" stroke-width="2.6" />
<rect x="1400.3" y="1609.7" width="10.0" height="10.0" fill="none" stroke="#000" stroke-width="2.6" />
<rect x="1402.8" y="1607.8" width="10.0" height="10.0" fill="none" stroke="#000" stroke-width="2.6" />
<rect x="1405.3" y="1607.0" width="10.0" height="10.0" fill="none" stroke="#000" stroke-width="2.6" />
<rect x="1407.8" y="1610.4" width="10.0" height="10.0" fill="none" stroke="#000" stroke-width="2.6" />
<rect x="1410.2" y="1611.9" width="10.0" height="10.0" fill="none" stroke="#000" stroke-width="2.6" />
<rect x="1412.7" y="1609.7" width="10.0" height="10.0" fill="none" stroke="#000" stroke-width="2.6" />
<rect x="1415.2" y="1610.3" width="10.0" height="10.0" fill="none" stroke="#000" stroke-width="2.6" />
<rect x="1417.7" y="1608.4" width="10.0" height="10.0" fill="none" stroke="#000" stroke-width="2.6" />
<rect x="1420.1" y="1609.8" width="10.0" height="10.0" fill="none" stroke="#000" stroke-width="2.6" />
<rect x="1422.6" y="1612.3" width="10.0" height="10.0" fill="none" stroke="#000" stroke-width="2.6" />
<rect x="1425.1" y="1611.5" width="10.0" height="10.0" fill="none" stroke="#000" stroke-width="2.6" />
<rect x="1427.6" y="1610.4" width="10.0" height="10.0" fill="none" stroke="#000" stroke-width="2.6" />
<rect x="1430.1" y="1611.9" width="10.0" height="10.0" fill="none" stroke="#000" stroke-width="2.6" />
<rect x="1432.5" y="1613.9" width="10.0" height="10.0" fill="none" stroke="#000" stroke-width="2.6" />
<rect x="1435.0" y="1614.8" width="10.0" height="10.0" fill="none" stroke="#000" stroke-width="2.6" />
<rect x="1437.5" y="1612.6" width="10.0" height="10.0" fill="none" stroke="#000" stroke-width="2.6" />
<rect x="1440.0" y="1612.2" width="10.0" height="10.0" fill="none" stroke="#000" stroke-width="2.6" />
<rect x="1442.5" y="1615.2" width="10.0" height="10.0" fill="none" stroke="#000" stroke-width="2.6" />
<rect x="1444.9" y="1616.8" width="10.0" height="10.0" fill="none" stroke="#000" stroke-width="2.6" />
<rect x="1447.4" y="1618.8" width="10.0" height="10.0" fill="none" stroke="#000" stroke-width="2.6" />
<rect x="1449.9" y="1620.7" width="10.0" height="10.0" fill="none" stroke="#000" stroke-width="2.6" />
<rect x="1452.4" y="1618.7" width="10.0" height="10.0" fill="none" stroke="#000" stroke-width="2.6" />
<rect x="1454.9" y="1620.4" width="10.0" height="10.0" fill="none" stroke="#000" stroke-width="2.6" />
<rect x="1457.3" y="1620.0" width="10.0" height="10.0" fill="none" stroke="#000" stroke-width="2.6" />
<rect x="1459.8" y="1620.5" width="10.0" height="10.0" fill="none" stroke="#000" stroke-width="2.6" />
<rect x="1462.3" y="1622.2" width="10.0" height="10.0" fill="none" stroke="#000" stroke-width="2.6" />
<rect x="1464.8" y="1621.1" width="10.0" height="10.0" fill="none" stroke="#000" stroke-width="2.6" />
<rect x="1467.2" y="1623.3" width="10.0" height="10.0" fill="none" stroke="#000" stroke-width="2.6" />
<rect x="1469.7" y="1622.7" width="10.0" height="10.0" fill="none" stroke="#000" stroke-width="2.6" />
<rect x="1472.2" y="1625.1" width="10.0" height="10.0" fill="none" stroke="#000" stroke-width="2.6" />
<rect x="1474.7" y="1625.5" width="10.0" height="10.0" fill="none" stroke="#000" stroke-width="2.6" />
<rect x="1477.2" y="1627.0" width="10.0" height="10.0" fill="none" stroke="#000" stroke-width="2.6" />
<rect x="1479.6" y="1628.0" width="10.0" height="10.0" fill="none" stroke="#000" stroke-width="2.6" />
<rect x="1482.1" y="1625.7" width="10.0" height="10.0" fill="none" stroke="#000" stroke-width="2.6" />
<rect x="1484.6" y="1624.5" width="10.0" height="10.0" fill="none" stroke="#000" stroke-width="2.6" />
<rect x="1487.1" y="1626.0" width="10.0" height="10.0" fill="none" stroke="#000" stroke-width="2.6" />
<rect x="1489.6" y="1624.4" width="10.0" height="10.0" fill="none" stroke="#000" stroke-width="2.6" />
<rect x="1492.0" y="1626.5" width="10.0" height="10.0" fill="none" stroke="#000" stroke-width="2.6" />
<rect x="1494.5" y="1627.1" width="10.0" height="10.0" fill="none" stroke="#000" stroke-width="2.6" />
<rect x="1497.0" y="1625.4" width="10.0" height="10.0" fill="none" stroke="#000" stroke-width="2.6" />
<rect x="1499.5" y="1625.3" width="10.0" height="10.0" fill="none" stroke="#000" stroke-width="2.6" />
<rect x="1502.0" y="1627.8" width="10.0" height="10.0" fill="none" stroke="#000" stroke-width="2.6" />
<rect x="1504.4" y="1625.5" width="10.0" height="10.0" fill="none" stroke="#000" stroke-width="2.6" />
<rect x="1506.9" y="1627.5" width="10.0" height="10.0" fill="none" stroke="#000" stroke-width="2.6" />
<rect x="1509.4" y="1628.7" width="10.0" height="10.0" fill="none" stroke="#000" stroke-width="2.6" />
<rect x="1511.9" y="1627.2" width="10.0" height="10.0" fill="none" stroke="#000" stroke-width="2.6" />
<rect x="1514.3" y="1628.3" width="10.0" height="10.0" fill="none" stroke="#000" stroke-width="2.6" />
<rect x="1516.8" y="1629.3" width="10.0" height="10.0" fill="none" stroke="#000" stroke-width="2.6" />
<rect x="1519.3" y="1631.0" width="10.0" height="10.0" fill="none" stroke="#000" stroke-width="2.6" />
<rect x="1521.8" y="1632.2" width="10.0" height="10.0" fill="none" stroke="#000" stroke-width="2.6" />
<rect x="1524.3" y="1630.8" width="10.0" height="10.0" fill="none" stroke="#000" stroke-width="2.6" />
<rect x="1526.7" y="1631.4" width="10.0" height="10.0" fill="none" stroke="#000" stroke-width="2.6" />
<rect x="1529.2" y="1630.3" width="10.0" height="10.0" fill="none" stroke="#000" stroke-width="2.6" />
<rect x="1531.7" y="1630.6" width="10.0" height="10.0" fill="none" stroke="#000" stroke-width="2.6" />
<rect x="1534.2" y="1629.7" width="10.0" height="10.0" fill="none" stroke="#000" stroke-width="2.6" />
<rect x="1536.7" y="1626.5" width="10.0" height="10.0" fill="none" stroke="#000" stroke-width="2.6" />
<rect x="1539.1" y="1626.3" width="10.0" height="10.0" fill="none" stroke="#000" stroke-width="2.6" />
<rect x="1541.6" y="1625.6" width="10.0" height="10.0" fill="none" stroke="#000" stroke-width="2.6" />
<rect x="1544.1" y="1623.5" width="10.0" height="10.0" fill="none" stroke="#000" stroke-width="2.6" />
<rect x="1546.6" y="1625.0" width="10.0" height="10.0" fill="none" stroke="#000" stroke-width="2.6" />
<rect x="1549.1" y="1626.1" width="10.0" height="10.0" fill="none" stroke="#000" stroke-width="2.6" />
<rect x="1551.5" y="1623.1" width="10.0" height="10.0" fill="none" stroke="#000" stroke-width="2.6" />
<rect x="1554.0" y="1621.3" width="10.0" height="10.0" fill="none" stroke="#000" stroke-width="2.6" />
<rect x="1556.5" y="1622.4" width="10.0" height="10.0" fill="none" stroke="#000" stroke-width="2.6" />
<rect x="1559.0" y="1623.9" width="10.0" height="10.0" fill="none" stroke="#000" stroke-width="2.6" />
<rect x="1561.4" y="1622.4" width="10.0" height="10.0" fill="none" stroke="#000" stroke-width="2.6" />
<rect x="1563.9" y="1620.3" width="10.0" height="10.0" fill="none" stroke="#000" stroke-width="2.6" />
<rect x="1566.4" y="1622.4" width="10.0" height="10.0" fill="none" stroke="#000" stroke-width="2.6" />
<rect x="1568.9" y="1620.3" width="10.0" height="10.0" fill="none" stroke="#000" stroke-width="2.6" />
<rect x="1571.4" y="1619.1" width="10.0" height="10.0" fill="none" stroke="#000" stroke-width="2.6" />
<rect x="1573.8" y="1619.5" width="10.0" height="10.0" fill="none" stroke="#000" stroke-width="2.6" />
<rect x="1576.3" y="1620.7" width="10.0" height="10.0" fill="none" stroke="#000" stroke-width="2.6" />
<rect x="1578.8" y="1623.0" width="10.0" height="10.0" fill="none" stroke="#000" stroke-width="2.6" />
<rect x="1581.3" y="1624.8" width="10.0" height="10.0" fill="none" stroke="#000" stroke-width="2.6" />
<rect x="1583.8" y="1621.8" width="10.0" height="10.0" fill="none" stroke="#000" stroke-width="2.6" />
<rect x="1586.2" y="1623.1" width="10.0" height="10.0" fill="none" stroke="#000" stroke-width="2.6" />
<rect x="1588.7" y="1621.8" width="10.0" height="10.0" fill="none" stroke="#000" stroke-width="2.6" />
<rect x="1591.2" y="1622.9" width="10.0" height="10.0" fill="none" stroke="#000" stroke-width="2.6" />
<rect x="1593.7" y="1621.1" width="10.0" height="10.0" fill="none" stroke="#000" stroke-width="2.6" />
<rect x="1596.2" y="1620.8" width="10.0" height="10.0" fill="none" stroke="#000" stroke-width="2.6" />
<rect x="1598.6" y="1622.1" width="10.0" height="10.0" fill="none" stroke="#000" stroke-width="2.6" />
<rect x="1601.1" y="1623.4" width="10.0" height="10.0" fill="none" stroke="#000" stroke-width="2.6" />
<rect x="1603.6" y="1621.9" width="10.0" height="10.0" fill="none" stroke="#000" stroke-width="2.6" />
<rect x="1606.1" y="1623.8" width="10.0" height="10.0" fill="none" stroke="#000" stroke-width="2.6" />
<rect x="1608.5" y="1624.4" width="10.0" height="10.0" fill="none" stroke="#000" stroke-width="2.6" />
<rect x="1611.0" y="1623.2" width="10.0" height="10.0" fill="none" stroke="#000" stroke-width="2.6" />
<rect x="1613.5" y="1621.0" width="10.0" height="10.0" fill="none" stroke="#000" stroke-width="2.6" />
<rect x="1616.0" y="1620.6" width="10.0" height="10.0" fill="none" stroke="#000" stroke-width="2.6" />
<rect x="1618.5" y="1621.8" width="10.0" height="10.0" fill="none" stroke="#000" stroke-width="2.6" />
<rect x="1620.9" y="1619.7" width="10.0" height="10.0" fill="none" stroke="#000" stroke-width="2.6" />
<rect x="1623.4" y="1621.5" width="10.0" height="10.0" fill="none" stroke="#000" stroke-width="2.6" />
<rect x="1625.9" y="1623.7" width="10.0" height="10.0" fill="none" stroke="#000" stroke-width="2.6" />
<rect x="1628.4" y="1624.0" width="10.0" height="10.0" fill="none" stroke="#000" stroke-width="2.6" />
<rect x="1630.9" y="1623.3" width="10.0" height="10.0" fill="none" stroke="#000" stroke-width="2.6" />
<rect x="1633.3" y="1624.6" width="10.0" height="10.0" fill="none" stroke="#000" stroke-width="2.6" />
<rect x="1635.8" y="1625.0" width="10.0" height="10.0" fill="none" stroke="#000" stroke-width="2.6" />
<rect x="1638.3" y="1624.3" width="10.0" height="10.0" fill="none" stroke="#000" stroke-width="2.6" />
<rect x="1640.8" y="1622.9" width="10.0" height="10.0" fill="none" stroke="#000" stroke-width="2.6" />
<rect x="1643.3" y="1623.9" width="10.0" height="10.0" fill="none" stroke="#000" stroke-width="2.6" />
<rect x="1645.7" y="1623.5" width="10.0" height="10.0" fill="none" stroke="#000" stroke-width="2.6" />
<rect x="1648.2" y="1620.8" width="10.0" height="10.0" fill="none" stroke="#000" stroke-width="2.6" />
<rect x="1650.7" y="1618.4" width="10.0" height="10.0" fill="none" stroke="#000" stroke-width="2.6" />
<rect x="1653.2" y="1618.3" width="10.0" height="10.0" fill="none" stroke="#000" stroke-width="2.6" />
<rect x="1655.6" y="1617.9" width="10.0" height="10.0" fill="none" stroke="#000" stroke-width="2.6" />
<rect x="1658.1" y="1618.2" width="10.0" height="10.0" fill="none" stroke="#000" stroke-width="2.6" />
<rect x="1660.6" y="1620.4" width="10.0" height="10.0" fill="none" stroke="#000" stroke-width="2.6" />
<rect x="1663.1" y="1622.5" width="10.0" height="10.0" fill="none" stroke="#000" stroke-width="2.6" />
<rect x="1665.6" y="1623.9" width="10.0" height="10.0" fill="none" stroke="#000" stroke-width="2.6" />
<rect x="1668.0" y="1620.8" width="10.0" height="10.0" fill="none" stroke="#000" stroke-width="2.6" />
<rect x="1670.5" y="1619.5" width="10.0" height="10.0" fill="none" stroke="#000" stroke-width="2.6" />
<rect x="1673.0" y="1617.4" width="10.0" height="10.0" fill="none" stroke="#000" stroke-width="2.6" />
<rect x="1675.5" y="1620.3" width="10.0" height="10.0" fill="none" stroke="#000" stroke-width="2.6" />
<rect x="1678.0" y="1619.4" width="10.0" height="10.0" fill="none" stroke="#000" stroke-width="2.6" />
<rect x="1680.4" y="1619.5" width="10.0" height="10.0" fill="none" stroke="#000" stroke-width="2.6" />
<rect x="1682.9" y="1618.5" width="10.0" height="10.0" fill="none" stroke="#000" stroke-width="2.6" />
<rect x="1685.4" y="1619.7" width="10.0" height="10.0" fill="none" stroke="#000" stroke-width="2.6" />
<rect x="1687.9" y="1617.4" width="10.0" height="10.0" fill="none" stroke="#000" stroke-width="2.6" />
<rect x="1690.4" y="1620.1" width="10.0" height="10.0" fill="none" stroke="#000" stroke-width="2.6" />
<rect x="1692.8" y="1619.8" width="10.0" height="10.0" fill="none" stroke="#000" stroke-width="2.6" />
<rect x="1695.3" y="1618.8" width="10.0" height="10.0" fill="none" stroke="#000" stroke-width="2.6" />
<rect x="1697.8" y="1617.3" width="10.0" height="10.0" fill="none" stroke="#000" stroke-width="2.6" />
<rect x="1700.3" y="1617.0" width="10.0" height="10.0" fill="none" stroke="#000" stroke-width="2.6" />
<rect x="1702.8" y="1617.0" width="10.0" height="10.0" fill="none" stroke="#000" stroke-width="2.6" />
<rect x="1705.2" y="1616.5" width="10.0" height="10.0" fill="none" stroke="#000" stroke-width="2.6" />
<rect x="1707.7" y="1615.7" width="10.0" height="10.0" fill="none" stroke="#000" stroke-width="2.6" />
<rect x="1710.2" y="1617.7" width="10.0" height="10.0" fill="none" stroke="#000" stroke-width="2.6" />
<rect x="1712.7" y="1617.6" width="10.0" height="10.0" fill="none" stroke="#000" stroke-width="2.6" />
<rect x="1715.1" y="1616.5" width="10.0" height="10.0" fill="none" stroke="#000" stroke-width="2.6" />
<rect x="1717.6" y="1615.9" width="10.0" height="10.0" fill="none" stroke="#000" stroke-width="2.6" />
<rect x="1720.1" y="1617.6" width="10.0" height="10.0" fill="none" stroke="#000" stroke-width="2.6" />
<rect x="1722.6" y="1617.1" width="10.0" height="10.0" fill="none" stroke="#000" stroke-width="2.6" />
<rect x="1725.1" y="1616.4" width="10.0" height="10.0" fill="none" stroke="#000" stroke-width="2.6" />
<rect x="1727.5" y="1617.3" width="10.0" height="10.0" fill="none" stroke="#000" stroke-width="2.6" />
<rect x="1730.0" y="1617.7" width="10.0" height="10.0" fill="none" stroke="#000" stroke-width="2.6" />
<rect x="1732.5" y="1619.1" width="10.0" height="10.0" fill="none" stroke="#000" stroke-width="2.6" />
<rect x="1735.0" y="1619.1" width="10.0" height="10.0" fill="none" stroke="#000" stroke-width="2.6" />
<rect x="1737.5" y="1619.1" width="10.0" height="10.0" fill="none" stroke="#000" stroke-width="2.6" />
<rect x="1739.9" y="1621.5" width="10.0" height="10.0" fill="none" stroke="#000" stroke-width="2.6" />
<rect x="1742.4" y="1620.6" width="10.0" height="10.0" fill="none" stroke="#000" stroke-width="2.6" />
<rect x="1744.9" y="1618.3" width="10.0" height="10.0" fill="none" stroke="#000" stroke-width="2.6" />
<rect x="1747.4" y="1617.3" width="10.0" height="10.0" fill="none" stroke="#000" stroke-width="2.6" />
<rect x="1749.9" y="1617.3" width="10.0" height="10.0" fill="none" stroke="#000" stroke-width="2.6" />
<rect x="1752.3" y="1618.9" width="10.0" height="10.0" fill="none" stroke="#000" stroke-width="2.6" />
<rect x="1754.8" y="1618.4" width="10.0" height="10.0" fill="none" stroke="#000" stroke-width="2.6" />
<rect x="1757.3" y="1618.7" width="10.0" height="10.0" fill="none" stroke="#000" stroke-width="2.6" />
<rect x="1759.8" y="1619.7" width="10.0" height="10.0" fill="none" stroke="#000" stroke-width="2.6" />
<rect x="1762.2" y="1618.5" width="10.0" height="10.0" fill="none" stroke="#000" stroke-width="2.6" />
<rect x="1764.7" y="1621.2" width="10.0" height="10.0" fill="none" stroke="#000" stroke-width="2.6" />
<rect x="1767.2" y="1620.0" width="10.0" height="10.0" fill="none" stroke="#000" stroke-width="2.6" />
<rect x="1769.7" y="1622.5" width="10.0" height="10.0" fill="none" stroke="#000" stroke-width="2.6" />
<rect x="1772.2" y="1621.6" width="10.0" height="10.0" fill="none" stroke="#000" stroke-width="2.6" />
<rect x="1774.6" y="1621.6" width="10.0" height="10.0" fill="none" stroke="#000" stroke-width="2.6" />
<rect x="1777.1" y="1622.7" width="10.0" height="10.0" fill="none" stroke="#000" stroke-width="2.6" />
<rect x="1779.6" y="1621.4" width="10.0" height="10.0" fill="none" stroke="#000" stroke-width="2.6" />
<rect x="1262.8" y="1533.3" width="521.8" height="388.6" fill="none" stroke="#000" stroke-width="3" />
<line x1="1288.8" y1="1533.3" x2="1288.8" y2="1540.3" stroke="#000" stroke-width="2.5" />
<line x1="1388.0" y1="1533.3" x2="1388.0" y2="1540.3" stroke="#000" stroke-width="2.5" />
<line x1="1487.1" y1="1533.3" x2="1487.1" y2="1540.3" stroke="#000" stroke-width="2.5" />
<line x1="1586.3" y1="1533.3" x2="1586.3" y2="1540.3" stroke="#000" stroke-width="2.5" />
<line x1="1685.4" y1="1533.3" x2="1685.4" y2="1540.3" stroke="#000" stroke-width="2.5" />
<line x1="1784.6" y1="1533.3" x2="1784.6" y2="1540.3" stroke="#000" stroke-width="2.5" />
<line x1="1338.4" y1="1533.3" x2="1338.4" y2="1537.3" stroke="#000" stroke-width="2" />
<line x1="1437.5" y1="1533.3" x2="1437.5" y2="1537.3" stroke="#000" stroke-width="2" />
<line x1="1536.7" y1="1533.3" x2="1536.7" y2="1537.3" stroke="#000" stroke-width="2" />
<line x1="1635.9" y1="1533.3" x2="1635.9" y2="1537.3" stroke="#000" stroke-width="2" />
<line x1="1735.0" y1="1533.3" x2="1735.0" y2="1537.3" stroke="#000" stroke-width="2" />
<line x1="1288.8" y1="1921.9" x2="1288.8" y2="1914.9" stroke="#000" stroke-width="2.5" />
<line x1="1388.0" y1="1921.9" x2="1388.0" y2="1914.9" stroke="#000" stroke-width="2.5" />
<line x1="1487.1" y1="1921.9" x2="1487.1" y2="1914.9" stroke="#000" stroke-width="2.5" />
<line x1="1586.3" y1="1921.9" x2="1586.3" y2="1914.9" stroke="#000" stroke-width="2.5" />
<line x1="1685.4" y1="1921.9" x2="1685.4" y2="1914.9" stroke="#000" stroke-width="2.5" />
<line x1="1784.6" y1="1921.9" x2="1784.6" y2="1914.9" stroke="#000" stroke-width="2.5" />
<line x1="1338.4" y1="1921.9" x2="1338.4" y2="1917.9" stroke="#000" stroke-width="2" />
<line x1="1437.5" y1="1921.9" x2="1437.5" y2="1917.9" stroke="#000" stroke-width="2" />
<line x1="1536.7" y1="1921.9" x2="1536.7" y2="1917.9" stroke="#000" stroke-width="2" />
<line x1="1635.9" y1="1921.9" x2="1635.9" y2="1917.9" stroke="#000" stroke-width="2" />
<line x1="1735.0" y1="1921.9" x2="1735.0" y2="1917.9" stroke="#000" stroke-width="2" />
<line x1="1262.8" y1="1921.9" x2="1269.8" y2="1921.9" stroke="#000" stroke-width="2.5" />
<line x1="1262.8" y1="1844.5" x2="1269.8" y2="1844.5" stroke="#000" stroke-width="2.5" />
<line x1="1262.8" y1="1767.1" x2="1269.8" y2="1767.1" stroke="#000" stroke-width="2.5" />
<line x1="1262.8" y1="1689.6" x2="1269.8" y2="1689.6" stroke="#000" stroke-width="2.5" />
<line x1="1262.8" y1="1612.2" x2="1269.8" y2="1612.2" stroke="#000" stroke-width="2.5" />
<line x1="1262.8" y1="1534.8" x2="1269.8" y2="1534.8" stroke="#000" stroke-width="2.5" />
<line x1="1262.8" y1="1883.2" x2="1266.8" y2="1883.2" stroke="#000" stroke-width="2" />
<line x1="1262.8" y1="1805.8" x2="1266.8" y2="1805.8" stroke="#000" stroke-width="2" />
<line x1="1262.8" y1="1728.3" x2="1266.8" y2="1728.3" stroke="#000" stroke-width="2" />
<line x1="1262.8" y1="1650.9" x2="1266.8" y2="1650.9" stroke="#000" stroke-width="2" />
<line x1="1262.8" y1="1573.5" x2="1266.8" y2="1573.5" stroke="#000" stroke-width="2" />
<line x1="1784.6" y1="1921.9" x2="1777.6" y2="1921.9" stroke="#000" stroke-width="2.5" />
<line x1="1784.6" y1="1844.5" x2="1777.6" y2="1844.5" stroke="#000" stroke-width="2.5" />
<line x1="1784.6" y1="1767.1" x2="1777.6" y2="1767.1" stroke="#000" stroke-width="2.5" />
<line x1="1784.6" y1="1689.6" x2="1777.6" y2="1689.6" stroke="#000" stroke-width="2.5" />
<line x1="1784.6" y1="1612.2" x2="1777.6" y2="1612.2" stroke="#000" stroke-width="2.5" />
<line x1="1784.6" y1="1534.8" x2="1777.6" y2="1534.8" stroke="#000" stroke-width="2.5" />
<line x1="1784.6" y1="1883.2" x2="1780.6" y2="1883.2" stroke="#000" stroke-width="2" />
<line x1="1784.6" y1="1805.8" x2="1780.6" y2="1805.8" stroke="#000" stroke-width="2" />
<line x1="1784.6" y1="1728.3" x2="1780.6" y2="1728.3" stroke="#000" stroke-width="2" />
<line x1="1784.6" y1="1650.9" x2="1780.6" y2="1650.9" stroke="#000" stroke-width="2" />
<line x1="1784.6" y1="1573.5" x2="1780.6" y2="1573.5" stroke="#000" stroke-width="2" />
<text x="1255.0" y="1927.9" font-family="'Liberation Serif', 'Times New Roman', serif" font-size="19.5" stroke="#111" stroke-width="0.25" font-weight="bold" fill="#111" text-anchor="end" textLength="10.5" lengthAdjust="spacingAndGlyphs" >0</text>
<text x="1255.0" y="1850.5" font-family="'Liberation Serif', 'Times New Roman', serif" font-size="19.5" stroke="#111" stroke-width="0.25" font-weight="bold" fill="#111" text-anchor="end" textLength="21" lengthAdjust="spacingAndGlyphs" >50</text>
<text x="1255.0" y="1773.1" font-family="'Liberation Serif', 'Times New Roman', serif" font-size="19.5" stroke="#111" stroke-width="0.25" font-weight="bold" fill="#111" text-anchor="end" textLength="32" lengthAdjust="spacingAndGlyphs" >100</text>
<text x="1255.0" y="1695.6" font-family="'Liberation Serif', 'Times New Roman', serif" font-size="19.5" stroke="#111" stroke-width="0.25" font-weight="bold" fill="#111" text-anchor="end" textLength="32" lengthAdjust="spacingAndGlyphs" >150</text>
<text x="1255.0" y="1618.2" font-family="'Liberation Serif', 'Times New Roman', serif" font-size="19.5" stroke="#111" stroke-width="0.25" font-weight="bold" fill="#111" text-anchor="end" textLength="32" lengthAdjust="spacingAndGlyphs" >200</text>
<text x="1255.0" y="1540.8" font-family="'Liberation Serif', 'Times New Roman', serif" font-size="19.5" stroke="#111" stroke-width="0.25" font-weight="bold" fill="#111" text-anchor="end" textLength="32" lengthAdjust="spacingAndGlyphs" >250</text>
<text x="1288.8" y="1948.5" font-family="'Liberation Serif', 'Times New Roman', serif" font-size="19.5" stroke="#111" stroke-width="0.25" font-weight="bold" fill="#111" text-anchor="middle" textLength="10.5" lengthAdjust="spacingAndGlyphs" >0</text>
<text x="1388.0" y="1948.5" font-family="'Liberation Serif', 'Times New Roman', serif" font-size="19.5" stroke="#111" stroke-width="0.25" font-weight="bold" fill="#111" text-anchor="middle" textLength="32" lengthAdjust="spacingAndGlyphs" >200</text>
<text x="1487.1" y="1948.5" font-family="'Liberation Serif', 'Times New Roman', serif" font-size="19.5" stroke="#111" stroke-width="0.25" font-weight="bold" fill="#111" text-anchor="middle" textLength="32" lengthAdjust="spacingAndGlyphs" >400</text>
<text x="1586.3" y="1948.5" font-family="'Liberation Serif', 'Times New Roman', serif" font-size="19.5" stroke="#111" stroke-width="0.25" font-weight="bold" fill="#111" text-anchor="middle" textLength="32" lengthAdjust="spacingAndGlyphs" >600</text>
<text x="1685.4" y="1948.5" font-family="'Liberation Serif', 'Times New Roman', serif" font-size="19.5" stroke="#111" stroke-width="0.25" font-weight="bold" fill="#111" text-anchor="middle" textLength="32" lengthAdjust="spacingAndGlyphs" >800</text>
<text x="1784.6" y="1948.5" font-family="'Liberation Serif', 'Times New Roman', serif" font-size="19.5" stroke="#111" stroke-width="0.25" font-weight="bold" fill="#111" text-anchor="middle" textLength="41" lengthAdjust="spacingAndGlyphs" >1000</text>
<text x="1436.7" y="1986.0" font-family="'Liberation Serif', 'Times New Roman', serif" font-size="28" stroke="#111" stroke-width="0.25" fill="#111" textLength="160" lengthAdjust="spacingAndGlyphs" >Cycle number</text>
<text transform="translate(1206.0,1925.0) rotate(-90)" font-family="'Liberation Serif', 'Times New Roman', serif" font-size="28" stroke="#111" stroke-width="0.25" fill="#111" textLength="342" lengthAdjust="spacingAndGlyphs" >Discharge capacity (mAh g<tspan font-size="17" dy="-12">-1</tspan><tspan dy="12">)</tspan></text>
<text x="1491.6" y="1578.7" font-family="'Liberation Serif', 'Times New Roman', serif" font-size="28" stroke="#111" stroke-width="0.25" fill="#111" textLength="81.5" lengthAdjust="spacingAndGlyphs" >AB550</text>
<text x="1651.4" y="1607.0" font-family="'Liberation Serif', 'Times New Roman', serif" font-size="24.5" stroke="#111" stroke-width="0.25" fill="#111" textLength="122" lengthAdjust="spacingAndGlyphs" >1700 mA g<tspan font-size="15" dy="-11">-1</tspan></text>
<text x="1651.4" y="1685.3" font-family="'Liberation Serif', 'Times New Roman', serif" font-size="24.5" stroke="#111" stroke-width="0.25" fill="#111" textLength="122" lengthAdjust="spacingAndGlyphs" >3400 mA g<tspan font-size="15" dy="-11">-1</tspan></text>
<text x="1651.4" y="1749.5" font-family="'Liberation Serif', 'Times New Roman', serif" font-size="24.5" stroke="#111" stroke-width="0.25" fill="#111" textLength="122" lengthAdjust="spacingAndGlyphs" >8500 mA g<tspan font-size="15" dy="-11">-1</tspan></text>
<path d="M1910.6,1709.3 L1916.4,1719.2 L1904.8,1719.2 Z" fill="none" stroke="#22b022" stroke-width="1.6" />
<path d="M1913.2,1750.5 L1919.0,1760.4 L1907.4,1760.4 Z" fill="none" stroke="#22b022" stroke-width="1.6" />
<path d="M1915.7,1752.6 L1921.5,1762.5 L1909.9,1762.5 Z" fill="none" stroke="#22b022" stroke-width="1.6" />
<path d="M1918.3,1754.9 L1924.1,1764.8 L1912.5,1764.8 Z" fill="none" stroke="#22b022" stroke-width="1.6" />
<path d="M1920.8,1758.6 L1926.6,1768.4 L1915.0,1768.4 Z" fill="none" stroke="#22b022" stroke-width="1.6" />
<path d="M1923.3,1758.5 L1929.1,1768.4 L1917.5,1768.4 Z" fill="none" stroke="#22b022" stroke-width="1.6" />
<path d="M1925.9,1758.8 L1931.7,1768.6 L1920.1,1768.6 Z" fill="none" stroke="#22b022" stroke-width="1.6" />
<path d="M1928.4,1758.8 L1934.2,1768.6 L1922.6,1768.6 Z" fill="none" stroke="#22b022" stroke-width="1.6" />
<path d="M1930.9,1759.4 L1936.7,1769.3 L1925.1,1769.3 Z" fill="none" stroke="#22b022" stroke-width="1.6" />
<path d="M1933.5,1759.7 L1939.3,1769.6 L1927.7,1769.6 Z" fill="none" stroke="#22b022" stroke-width="1.6" />
<path d="M1936.0,1759.6 L1941.8,1769.4 L1930.2,1769.4 Z" fill="none" stroke="#22b022" stroke-width="1.6" />
<path d="M1938.6,1759.8 L1944.4,1769.7 L1932.8,1769.7 Z" fill="none" stroke="#22b022" stroke-width="1.6" />
<path d="M1941.1,1759.6 L1946.9,1769.5 L1935.3,1769.5 Z" fill="none" stroke="#22b022" stroke-width="1.6" />
<path d="M1943.6,1760.1 L1949.4,1770.0 L1937.8,1770.0 Z" fill="none" stroke="#22b022" stroke-width="1.6" />
<path d="M1946.2,1760.4 L1952.0,1770.3 L1940.4,1770.3 Z" fill="none" stroke="#22b022" stroke-width="1.6" />
<path d="M1948.7,1759.7 L1954.5,1769.5 L1942.9,1769.5 Z" fill="none" stroke="#22b022" stroke-width="1.6" />
<path d="M1951.2,1759.6 L1957.0,1769.4 L1945.4,1769.4 Z" fill="none" stroke="#22b022" stroke-width="1.6" />
<path d="M1953.8,1759.3 L1959.6,1769.2 L1948.0,1769.2 Z" fill="none" stroke="#22b022" stroke-width="1.6" />
<path d="M1956.3,1758.9 L1962.1,1768.7 L1950.5,1768.7 Z" fill="none" stroke="#22b022" stroke-width="1.6" />
<path d="M1958.9,1759.1 L1964.7,1769.0 L1953.1,1769.0 Z" fill="none" stroke="#22b022" stroke-width="1.6" />
<path d="M1961.4,1759.7 L1967.2,1769.6 L1955.6,1769.6 Z" fill="none" stroke="#22b022" stroke-width="1.6" />
<path d="M1963.9,1759.1 L1969.7,1768.9 L1958.1,1768.9 Z" fill="none" stroke="#22b022" stroke-width="1.6" />
<path d="M1966.5,1758.9 L1972.3,1768.7 L1960.7,1768.7 Z" fill="none" stroke="#22b022" stroke-width="1.6" />
<path d="M1969.0,1758.6 L1974.8,1768.5 L1963.2,1768.5 Z" fill="none" stroke="#22b022" stroke-width="1.6" />
<path d="M1971.5,1758.5 L1977.3,1768.4 L1965.8,1768.4 Z" fill="none" stroke="#22b022" stroke-width="1.6" />
<path d="M1974.1,1757.9 L1979.9,1767.8 L1968.3,1767.8 Z" fill="none" stroke="#22b022" stroke-width="1.6" />
<path d="M1976.6,1758.4 L1982.4,1768.3 L1970.8,1768.3 Z" fill="none" stroke="#22b022" stroke-width="1.6" />
<path d="M1979.2,1758.2 L1985.0,1768.0 L1973.4,1768.0 Z" fill="none" stroke="#22b022" stroke-width="1.6" />
<path d="M1981.7,1758.6 L1987.5,1768.5 L1975.9,1768.5 Z" fill="none" stroke="#22b022" stroke-width="1.6" />
<path d="M1984.2,1758.6 L1990.0,1768.5 L1978.4,1768.5 Z" fill="none" stroke="#22b022" stroke-width="1.6" />
<path d="M1986.8,1758.4 L1992.6,1768.3 L1981.0,1768.3 Z" fill="none" stroke="#22b022" stroke-width="1.6" />
<path d="M1989.3,1758.9 L1995.1,1768.7 L1983.5,1768.7 Z" fill="none" stroke="#22b022" stroke-width="1.6" />
<path d="M1991.9,1759.5 L1997.7,1769.4 L1986.1,1769.4 Z" fill="none" stroke="#22b022" stroke-width="1.6" />
<path d="M1994.4,1759.4 L2000.2,1769.3 L1988.6,1769.3 Z" fill="none" stroke="#22b022" stroke-width="1.6" />
<path d="M1996.9,1758.9 L2002.7,1768.8 L1991.1,1768.8 Z" fill="none" stroke="#22b022" stroke-width="1.6" />
<path d="M1999.5,1758.8 L2005.3,1768.6 L1993.7,1768.6 Z" fill="none" stroke="#22b022" stroke-width="1.6" />
<path d="M2002.0,1758.9 L2007.8,1768.8 L1996.2,1768.8 Z" fill="none" stroke="#22b022" stroke-width="1.6" />
<path d="M2004.5,1758.7 L2010.3,1768.6 L1998.7,1768.6 Z" fill="none" stroke="#22b022" stroke-width="1.6" />
<path d="M2007.1,1759.3 L2012.9,1769.1 L2001.3,1769.1 Z" fill="none" stroke="#22b022" stroke-width="1.6" />
<path d="M2009.6,1759.7 L2015.4,1769.5 L2003.8,1769.5 Z" fill="none" stroke="#22b022" stroke-width="1.6" />
<path d="M2012.2,1759.7 L2018.0,1769.6 L2006.4,1769.6 Z" fill="none" stroke="#22b022" stroke-width="1.6" />
<path d="M2014.7,1759.0 L2020.5,1768.8 L2008.9,1768.8 Z" fill="none" stroke="#22b022" stroke-width="1.6" />
<path d="M2017.2,1759.4 L2023.0,1769.3 L2011.4,1769.3 Z" fill="none" stroke="#22b022" stroke-width="1.6" />
<path d="M2019.8,1759.9 L2025.6,1769.7 L2014.0,1769.7 Z" fill="none" stroke="#22b022" stroke-width="1.6" />
<path d="M2022.3,1760.2 L2028.1,1770.1 L2016.5,1770.1 Z" fill="none" stroke="#22b022" stroke-width="1.6" />
<path d="M2024.8,1760.5 L2030.6,1770.4 L2019.0,1770.4 Z" fill="none" stroke="#22b022" stroke-width="1.6" />
<path d="M2027.4,1760.4 L2033.2,1770.3 L2021.6,1770.3 Z" fill="none" stroke="#22b022" stroke-width="1.6" />
<path d="M2029.9,1759.9 L2035.7,1769.7 L2024.1,1769.7 Z" fill="none" stroke="#22b022" stroke-width="1.6" />
<path d="M2032.5,1759.1 L2038.3,1768.9 L2026.7,1768.9 Z" fill="none" stroke="#22b022" stroke-width="1.6" />
<path d="M2035.0,1759.3 L2040.8,1769.2 L2029.2,1769.2 Z" fill="none" stroke="#22b022" stroke-width="1.6" />
<path d="M2037.5,1759.4 L2043.3,1769.2 L2031.7,1769.2 Z" fill="none" stroke="#22b022" stroke-width="1.6" />
<path d="M2040.1,1759.6 L2045.9,1769.4 L2034.3,1769.4 Z" fill="none" stroke="#22b022" stroke-width="1.6" />
<path d="M2042.6,1759.7 L2048.4,1769.5 L2036.8,1769.5 Z" fill="none" stroke="#22b022" stroke-width="1.6" />
<path d="M2045.2,1759.0 L2051.0,1768.9 L2039.4,1768.9 Z" fill="none" stroke="#22b022" stroke-width="1.6" />
<path d="M2047.7,1758.9 L2053.5,1768.8 L2041.9,1768.8 Z" fill="none" stroke="#22b022" stroke-width="1.6" />
<path d="M2050.2,1759.3 L2056.0,1769.2 L2044.4,1769.2 Z" fill="none" stroke="#22b022" stroke-width="1.6" />
<path d="M2052.8,1759.8 L2058.6,1769.7 L2047.0,1769.7 Z" fill="none" stroke="#22b022" stroke-width="1.6" />
<path d="M2055.3,1759.1 L2061.1,1769.0 L2049.5,1769.0 Z" fill="none" stroke="#22b022" stroke-width="1.6" />
<path d="M2057.8,1758.7 L2063.6,1768.6 L2052.0,1768.6 Z" fill="none" stroke="#22b022" stroke-width="1.6" />
<path d="M2060.4,1758.3 L2066.2,1768.1 L2054.6,1768.1 Z" fill="none" stroke="#22b022" stroke-width="1.6" />
<path d="M2062.9,1758.9 L2068.7,1768.7 L2057.1,1768.7 Z" fill="none" stroke="#22b022" stroke-width="1.6" />
<path d="M2065.5,1758.8 L2071.3,1768.7 L2059.7,1768.7 Z" fill="none" stroke="#22b022" stroke-width="1.6" />
<path d="M2068.0,1758.2 L2073.8,1768.1 L2062.2,1768.1 Z" fill="none" stroke="#22b022" stroke-width="1.6" />
<path d="M2070.5,1758.3 L2076.3,1768.1 L2064.7,1768.1 Z" fill="none" stroke="#22b022" stroke-width="1.6" />
<path d="M2073.1,1757.8 L2078.9,1767.6 L2067.3,1767.6 Z" fill="none" stroke="#22b022" stroke-width="1.6" />
<path d="M2075.6,1758.6 L2081.4,1768.5 L2069.8,1768.5 Z" fill="none" stroke="#22b022" stroke-width="1.6" />
<path d="M2078.1,1758.0 L2083.9,1767.9 L2072.3,1767.9 Z" fill="none" stroke="#22b022" stroke-width="1.6" />
<path d="M2080.7,1759.0 L2086.5,1768.8 L2074.9,1768.8 Z" fill="none" stroke="#22b022" stroke-width="1.6" />
<path d="M2083.2,1759.1 L2089.0,1768.9 L2077.4,1768.9 Z" fill="none" stroke="#22b022" stroke-width="1.6" />
<path d="M2085.8,1759.8 L2091.6,1769.6 L2080.0,1769.6 Z" fill="none" stroke="#22b022" stroke-width="1.6" />
<path d="M2088.3,1760.0 L2094.1,1769.9 L2082.5,1769.9 Z" fill="none" stroke="#22b022" stroke-width="1.6" />
<path d="M2090.8,1760.7 L2096.6,1770.5 L2085.0,1770.5 Z" fill="none" stroke="#22b022" stroke-width="1.6" />
<path d="M2093.4,1761.0 L2099.2,1770.8 L2087.6,1770.8 Z" fill="none" stroke="#22b022" stroke-width="1.6" />
<path d="M2095.9,1761.7 L2101.7,1771.6 L2090.1,1771.6 Z" fill="none" stroke="#22b022" stroke-width="1.6" />
<path d="M2098.4,1762.3 L2104.2,1772.2 L2092.6,1772.2 Z" fill="none" stroke="#22b022" stroke-width="1.6" />
<path d="M2101.0,1763.7 L2106.8,1773.5 L2095.2,1773.5 Z" fill="none" stroke="#22b022" stroke-width="1.6" />
<path d="M2103.5,1764.2 L2109.3,1774.1 L2097.7,1774.1 Z" fill="none" stroke="#22b022" stroke-width="1.6" />
<path d="M2106.1,1765.2 L2111.9,1775.1 L2100.3,1775.1 Z" fill="none" stroke="#22b022" stroke-width="1.6" />
<path d="M2108.6,1765.0 L2114.4,1774.9 L2102.8,1774.9 Z" fill="none" stroke="#22b022" stroke-width="1.6" />
<path d="M2111.1,1763.6 L2116.9,1773.5 L2105.3,1773.5 Z" fill="none" stroke="#22b022" stroke-width="1.6" />
<path d="M2113.7,1763.3 L2119.5,1773.2 L2107.9,1773.2 Z" fill="none" stroke="#22b022" stroke-width="1.6" />
<path d="M2116.2,1763.1 L2122.0,1773.0 L2110.4,1773.0 Z" fill="none" stroke="#22b022" stroke-width="1.6" />
<path d="M2118.8,1762.9 L2124.6,1772.8 L2113.0,1772.8 Z" fill="none" stroke="#22b022" stroke-width="1.6" />
<path d="M2121.3,1761.9 L2127.1,1771.7 L2115.5,1771.7 Z" fill="none" stroke="#22b022" stroke-width="1.6" />
<path d="M2123.8,1761.3 L2129.6,1771.2 L2118.0,1771.2 Z" fill="none" stroke="#22b022" stroke-width="1.6" />
<path d="M2126.4,1760.2 L2132.2,1770.1 L2120.6,1770.1 Z" fill="none" stroke="#22b022" stroke-width="1.6" />
<path d="M2128.9,1759.3 L2134.7,1769.2 L2123.1,1769.2 Z" fill="none" stroke="#22b022" stroke-width="1.6" />
<path d="M2131.4,1759.8 L2137.2,1769.7 L2125.6,1769.7 Z" fill="none" stroke="#22b022" stroke-width="1.6" />
<path d="M2134.0,1760.3 L2139.8,1770.1 L2128.2,1770.1 Z" fill="none" stroke="#22b022" stroke-width="1.6" />
<path d="M2136.5,1759.9 L2142.3,1769.7 L2130.7,1769.7 Z" fill="none" stroke="#22b022" stroke-width="1.6" />
<path d="M2139.1,1760.1 L2144.9,1770.0 L2133.3,1770.0 Z" fill="none" stroke="#22b022" stroke-width="1.6" />
<path d="M2141.6,1759.6 L2147.4,1769.5 L2135.8,1769.5 Z" fill="none" stroke="#22b022" stroke-width="1.6" />
<path d="M2144.1,1758.8 L2149.9,1768.7 L2138.3,1768.7 Z" fill="none" stroke="#22b022" stroke-width="1.6" />
<path d="M2146.7,1759.1 L2152.5,1768.9 L2140.9,1768.9 Z" fill="none" stroke="#22b022" stroke-width="1.6" />
<path d="M2149.2,1758.9 L2155.0,1768.8 L2143.4,1768.8 Z" fill="none" stroke="#22b022" stroke-width="1.6" />
<path d="M2151.7,1758.0 L2157.5,1767.9 L2145.9,1767.9 Z" fill="none" stroke="#22b022" stroke-width="1.6" />
<path d="M2154.3,1758.0 L2160.1,1767.9 L2148.5,1767.9 Z" fill="none" stroke="#22b022" stroke-width="1.6" />
<path d="M2156.8,1758.2 L2162.6,1768.0 L2151.0,1768.0 Z" fill="none" stroke="#22b022" stroke-width="1.6" />
<path d="M2159.4,1757.3 L2165.2,1767.2 L2153.6,1767.2 Z" fill="none" stroke="#22b022" stroke-width="1.6" />
<path d="M2161.9,1756.8 L2167.7,1766.7 L2156.1,1766.7 Z" fill="none" stroke="#22b022" stroke-width="1.6" />
<path d="M2164.4,1756.3 L2170.2,1766.1 L2158.6,1766.1 Z" fill="none" stroke="#22b022" stroke-width="1.6" />
<path d="M2167.0,1756.2 L2172.8,1766.0 L2161.2,1766.0 Z" fill="none" stroke="#22b022" stroke-width="1.6" />
<path d="M2169.5,1756.5 L2175.3,1766.3 L2163.7,1766.3 Z" fill="none" stroke="#22b022" stroke-width="1.6" />
<path d="M2172.1,1756.2 L2177.9,1766.0 L2166.3,1766.0 Z" fill="none" stroke="#22b022" stroke-width="1.6" />
<path d="M2174.6,1755.7 L2180.4,1765.6 L2168.8,1765.6 Z" fill="none" stroke="#22b022" stroke-width="1.6" />
<path d="M2177.1,1755.6 L2182.9,1765.5 L2171.3,1765.5 Z" fill="none" stroke="#22b022" stroke-width="1.6" />
<path d="M2179.7,1756.1 L2185.5,1766.0 L2173.9,1766.0 Z" fill="none" stroke="#22b022" stroke-width="1.6" />
<path d="M2182.2,1756.3 L2188.0,1766.2 L2176.4,1766.2 Z" fill="none" stroke="#22b022" stroke-width="1.6" />
<path d="M2184.7,1756.2 L2190.5,1766.1 L2178.9,1766.1 Z" fill="none" stroke="#22b022" stroke-width="1.6" />
<path d="M2187.3,1755.6 L2193.1,1765.4 L2181.5,1765.4 Z" fill="none" stroke="#22b022" stroke-width="1.6" />
<path d="M2189.8,1754.5 L2195.6,1764.4 L2184.0,1764.4 Z" fill="none" stroke="#22b022" stroke-width="1.6" />
<path d="M2192.4,1753.5 L2198.2,1763.4 L2186.6,1763.4 Z" fill="none" stroke="#22b022" stroke-width="1.6" />
<path d="M2194.9,1752.0 L2200.7,1761.9 L2189.1,1761.9 Z" fill="none" stroke="#22b022" stroke-width="1.6" />
<path d="M2197.4,1753.7 L2203.2,1763.6 L2191.6,1763.6 Z" fill="none" stroke="#22b022" stroke-width="1.6" />
<path d="M2200.0,1754.4 L2205.8,1764.2 L2194.2,1764.2 Z" fill="none" stroke="#22b022" stroke-width="1.6" />
<path d="M2202.5,1755.6 L2208.3,1765.4 L2196.7,1765.4 Z" fill="none" stroke="#22b022" stroke-width="1.6" />
<path d="M2205.0,1756.3 L2210.8,1766.2 L2199.2,1766.2 Z" fill="none" stroke="#22b022" stroke-width="1.6" />
<path d="M2207.6,1756.7 L2213.4,1766.5 L2201.8,1766.5 Z" fill="none" stroke="#22b022" stroke-width="1.6" />
<path d="M2210.1,1758.1 L2215.9,1767.9 L2204.3,1767.9 Z" fill="none" stroke="#22b022" stroke-width="1.6" />
<path d="M2212.7,1758.3 L2218.5,1768.1 L2206.9,1768.1 Z" fill="none" stroke="#22b022" stroke-width="1.6" />
<path d="M2215.2,1759.2 L2221.0,1769.1 L2209.4,1769.1 Z" fill="none" stroke="#22b022" stroke-width="1.6" />
<path d="M2217.7,1759.1 L2223.5,1769.0 L2211.9,1769.0 Z" fill="none" stroke="#22b022" stroke-width="1.6" />
<path d="M2220.3,1759.1 L2226.1,1769.0 L2214.5,1769.0 Z" fill="none" stroke="#22b022" stroke-width="1.6" />
<path d="M2222.8,1759.6 L2228.6,1769.5 L2217.0,1769.5 Z" fill="none" stroke="#22b022" stroke-width="1.6" />
<path d="M2225.3,1759.5 L2231.2,1769.3 L2219.5,1769.3 Z" fill="none" stroke="#22b022" stroke-width="1.6" />
<path d="M2227.9,1759.6 L2233.7,1769.4 L2222.1,1769.4 Z" fill="none" stroke="#22b022" stroke-width="1.6" />
<path d="M2230.4,1759.7 L2236.2,1769.5 L2224.6,1769.5 Z" fill="none" stroke="#22b022" stroke-width="1.6" />
<path d="M2233.0,1759.3 L2238.8,1769.2 L2227.2,1769.2 Z" fill="none" stroke="#22b022" stroke-width="1.6" />
<path d="M2235.5,1760.3 L2241.3,1770.1 L2229.7,1770.1 Z" fill="none" stroke="#22b022" stroke-width="1.6" />
<path d="M2238.0,1760.3 L2243.8,1770.2 L2232.2,1770.2 Z" fill="none" stroke="#22b022" stroke-width="1.6" />
<path d="M2240.6,1759.8 L2246.4,1769.6 L2234.8,1769.6 Z" fill="none" stroke="#22b022" stroke-width="1.6" />
<path d="M2243.1,1760.4 L2248.9,1770.3 L2237.3,1770.3 Z" fill="none" stroke="#22b022" stroke-width="1.6" />
<path d="M2245.7,1759.8 L2251.5,1769.6 L2239.9,1769.6 Z" fill="none" stroke="#22b022" stroke-width="1.6" />
<path d="M2248.2,1760.3 L2254.0,1770.2 L2242.4,1770.2 Z" fill="none" stroke="#22b022" stroke-width="1.6" />
<path d="M2250.7,1760.0 L2256.5,1769.9 L2244.9,1769.9 Z" fill="none" stroke="#22b022" stroke-width="1.6" />
<path d="M2253.3,1760.6 L2259.1,1770.5 L2247.5,1770.5 Z" fill="none" stroke="#22b022" stroke-width="1.6" />
<path d="M2255.8,1760.7 L2261.6,1770.5 L2250.0,1770.5 Z" fill="none" stroke="#22b022" stroke-width="1.6" />
<path d="M2258.3,1760.7 L2264.1,1770.6 L2252.5,1770.6 Z" fill="none" stroke="#22b022" stroke-width="1.6" />
<path d="M2260.9,1761.3 L2266.7,1771.2 L2255.1,1771.2 Z" fill="none" stroke="#22b022" stroke-width="1.6" />
<path d="M2263.4,1760.8 L2269.2,1770.7 L2257.6,1770.7 Z" fill="none" stroke="#22b022" stroke-width="1.6" />
<path d="M2266.0,1760.8 L2271.8,1770.7 L2260.2,1770.7 Z" fill="none" stroke="#22b022" stroke-width="1.6" />
<path d="M2268.5,1760.5 L2274.3,1770.4 L2262.7,1770.4 Z" fill="none" stroke="#22b022" stroke-width="1.6" />
<path d="M2271.0,1760.6 L2276.8,1770.4 L2265.2,1770.4 Z" fill="none" stroke="#22b022" stroke-width="1.6" />
<path d="M2273.6,1760.6 L2279.4,1770.5 L2267.8,1770.5 Z" fill="none" stroke="#22b022" stroke-width="1.6" />
<path d="M2276.1,1760.7 L2281.9,1770.6 L2270.3,1770.6 Z" fill="none" stroke="#22b022" stroke-width="1.6" />
<path d="M2278.6,1761.1 L2284.4,1771.0 L2272.8,1771.0 Z" fill="none" stroke="#22b022" stroke-width="1.6" />
<path d="M2281.2,1760.5 L2287.0,1770.4 L2275.4,1770.4 Z" fill="none" stroke="#22b022" stroke-width="1.6" />
<path d="M2283.7,1761.4 L2289.5,1771.3 L2277.9,1771.3 Z" fill="none" stroke="#22b022" stroke-width="1.6" />
<path d="M2286.3,1760.8 L2292.1,1770.7 L2280.5,1770.7 Z" fill="none" stroke="#22b022" stroke-width="1.6" />
<path d="M2288.8,1760.4 L2294.6,1770.3 L2283.0,1770.3 Z" fill="none" stroke="#22b022" stroke-width="1.6" />
<path d="M2291.3,1760.8 L2297.1,1770.6 L2285.5,1770.6 Z" fill="none" stroke="#22b022" stroke-width="1.6" />
<path d="M2293.9,1760.6 L2299.7,1770.4 L2288.1,1770.4 Z" fill="none" stroke="#22b022" stroke-width="1.6" />
<path d="M2296.4,1760.6 L2302.2,1770.5 L2290.6,1770.5 Z" fill="none" stroke="#22b022" stroke-width="1.6" />
<path d="M2299.0,1760.8 L2304.8,1770.7 L2293.2,1770.7 Z" fill="none" stroke="#22b022" stroke-width="1.6" />
<path d="M2301.5,1761.4 L2307.3,1771.3 L2295.7,1771.3 Z" fill="none" stroke="#22b022" stroke-width="1.6" />
<path d="M2304.0,1761.9 L2309.8,1771.7 L2298.2,1771.7 Z" fill="none" stroke="#22b022" stroke-width="1.6" />
<path d="M2306.6,1762.1 L2312.4,1772.0 L2300.8,1772.0 Z" fill="none" stroke="#22b022" stroke-width="1.6" />
<path d="M2309.1,1762.4 L2314.9,1772.3 L2303.3,1772.3 Z" fill="none" stroke="#22b022" stroke-width="1.6" />
<path d="M2311.6,1761.6 L2317.4,1771.5 L2305.8,1771.5 Z" fill="none" stroke="#22b022" stroke-width="1.6" />
<path d="M2314.2,1762.0 L2320.0,1771.9 L2308.4,1771.9 Z" fill="none" stroke="#22b022" stroke-width="1.6" />
<path d="M2316.7,1762.3 L2322.5,1772.2 L2310.9,1772.2 Z" fill="none" stroke="#22b022" stroke-width="1.6" />
<path d="M2319.3,1762.4 L2325.1,1772.3 L2313.5,1772.3 Z" fill="none" stroke="#22b022" stroke-width="1.6" />
<path d="M2321.8,1761.9 L2327.6,1771.8 L2316.0,1771.8 Z" fill="none" stroke="#22b022" stroke-width="1.6" />
<path d="M2324.3,1762.2 L2330.1,1772.0 L2318.5,1772.0 Z" fill="none" stroke="#22b022" stroke-width="1.6" />
<path d="M2326.9,1762.2 L2332.7,1772.1 L2321.1,1772.1 Z" fill="none" stroke="#22b022" stroke-width="1.6" />
<path d="M2329.4,1762.7 L2335.2,1772.6 L2323.6,1772.6 Z" fill="none" stroke="#22b022" stroke-width="1.6" />
<path d="M2331.9,1763.1 L2337.7,1772.9 L2326.1,1772.9 Z" fill="none" stroke="#22b022" stroke-width="1.6" />
<path d="M2334.5,1763.6 L2340.3,1773.5 L2328.7,1773.5 Z" fill="none" stroke="#22b022" stroke-width="1.6" />
<path d="M2337.0,1763.9 L2342.8,1773.7 L2331.2,1773.7 Z" fill="none" stroke="#22b022" stroke-width="1.6" />
<path d="M2339.6,1764.0 L2345.4,1773.8 L2333.8,1773.8 Z" fill="none" stroke="#22b022" stroke-width="1.6" />
<path d="M2342.1,1763.1 L2347.9,1773.0 L2336.3,1773.0 Z" fill="none" stroke="#22b022" stroke-width="1.6" />
<path d="M2344.6,1763.1 L2350.4,1773.0 L2338.8,1773.0 Z" fill="none" stroke="#22b022" stroke-width="1.6" />
<path d="M2347.2,1763.8 L2353.0,1773.6 L2341.4,1773.6 Z" fill="none" stroke="#22b022" stroke-width="1.6" />
<path d="M2349.7,1763.7 L2355.5,1773.5 L2343.9,1773.5 Z" fill="none" stroke="#22b022" stroke-width="1.6" />
<path d="M2352.2,1764.2 L2358.1,1774.0 L2346.4,1774.0 Z" fill="none" stroke="#22b022" stroke-width="1.6" />
<path d="M2354.8,1763.9 L2360.6,1773.7 L2349.0,1773.7 Z" fill="none" stroke="#22b022" stroke-width="1.6" />
<path d="M2357.3,1763.9 L2363.1,1773.7 L2351.5,1773.7 Z" fill="none" stroke="#22b022" stroke-width="1.6" />
<path d="M2359.9,1763.2 L2365.7,1773.1 L2354.1,1773.1 Z" fill="none" stroke="#22b022" stroke-width="1.6" />
<path d="M2362.4,1763.7 L2368.2,1773.6 L2356.6,1773.6 Z" fill="none" stroke="#22b022" stroke-width="1.6" />
<path d="M2364.9,1763.2 L2370.7,1773.1 L2359.1,1773.1 Z" fill="none" stroke="#22b022" stroke-width="1.6" />
<path d="M2367.5,1763.8 L2373.3,1773.6 L2361.7,1773.6 Z" fill="none" stroke="#22b022" stroke-width="1.6" />
<path d="M2370.0,1763.1 L2375.8,1772.9 L2364.2,1772.9 Z" fill="none" stroke="#22b022" stroke-width="1.6" />
<path d="M2372.6,1763.1 L2378.4,1773.0 L2366.8,1773.0 Z" fill="none" stroke="#22b022" stroke-width="1.6" />
<path d="M2375.1,1764.1 L2380.9,1774.0 L2369.3,1774.0 Z" fill="none" stroke="#22b022" stroke-width="1.6" />
<path d="M2377.6,1763.7 L2383.4,1773.5 L2371.8,1773.5 Z" fill="none" stroke="#22b022" stroke-width="1.6" />
<path d="M2380.2,1764.2 L2386.0,1774.0 L2374.4,1774.0 Z" fill="none" stroke="#22b022" stroke-width="1.6" />
<path d="M2382.7,1764.4 L2388.5,1774.3 L2376.9,1774.3 Z" fill="none" stroke="#22b022" stroke-width="1.6" />
<path d="M2385.2,1765.0 L2391.0,1774.8 L2379.4,1774.8 Z" fill="none" stroke="#22b022" stroke-width="1.6" />
<path d="M2387.8,1764.3 L2393.6,1774.2 L2382.0,1774.2 Z" fill="none" stroke="#22b022" stroke-width="1.6" />
<path d="M2390.3,1765.0 L2396.1,1774.9 L2384.5,1774.9 Z" fill="none" stroke="#22b022" stroke-width="1.6" />
<path d="M2392.9,1764.5 L2398.7,1774.4 L2387.1,1774.4 Z" fill="none" stroke="#22b022" stroke-width="1.6" />
<path d="M2395.4,1764.7 L2401.2,1774.6 L2389.6,1774.6 Z" fill="none" stroke="#22b022" stroke-width="1.6" />
<path d="M2397.9,1764.5 L2403.7,1774.3 L2392.1,1774.3 Z" fill="none" stroke="#22b022" stroke-width="1.6" />
<path d="M2400.5,1764.9 L2406.3,1774.8 L2394.7,1774.8 Z" fill="none" stroke="#22b022" stroke-width="1.6" />
<path d="M2403.0,1765.6 L2408.8,1775.4 L2397.2,1775.4 Z" fill="none" stroke="#22b022" stroke-width="1.6" />
<path d="M2405.5,1764.8 L2411.3,1774.6 L2399.7,1774.6 Z" fill="none" stroke="#22b022" stroke-width="1.6" />
<path d="M2408.1,1764.6 L2413.9,1774.5 L2402.3,1774.5 Z" fill="none" stroke="#22b022" stroke-width="1.6" />
<path d="M2410.6,1765.3 L2416.4,1775.1 L2404.8,1775.1 Z" fill="none" stroke="#22b022" stroke-width="1.6" />
<path d="M2413.2,1764.5 L2419.0,1774.4 L2407.4,1774.4 Z" fill="none" stroke="#22b022" stroke-width="1.6" />
<path d="M2415.7,1764.1 L2421.5,1774.0 L2409.9,1774.0 Z" fill="none" stroke="#22b022" stroke-width="1.6" />
<rect x="1906.0" y="1817.5" width="9.2" height="9.2" fill="none" stroke="#ff7a1a" stroke-width="2.0" />
<rect x="1908.6" y="1704.3" width="9.2" height="9.2" fill="none" stroke="#ff7a1a" stroke-width="2.0" />
<rect x="1911.1" y="1639.1" width="9.2" height="9.2" fill="none" stroke="#ff7a1a" stroke-width="2.0" />
<rect x="1913.7" y="1624.3" width="9.2" height="9.2" fill="none" stroke="#ff7a1a" stroke-width="2.0" />
<rect x="1916.2" y="1625.0" width="9.2" height="9.2" fill="none" stroke="#ff7a1a" stroke-width="2.0" />
<rect x="1918.7" y="1625.6" width="9.2" height="9.2" fill="none" stroke="#ff7a1a" stroke-width="2.0" />
<rect x="1921.3" y="1624.1" width="9.2" height="9.2" fill="none" stroke="#ff7a1a" stroke-width="2.0" />
<rect x="1923.8" y="1624.5" width="9.2" height="9.2" fill="none" stroke="#ff7a1a" stroke-width="2.0" />
<rect x="1926.3" y="1624.9" width="9.2" height="9.2" fill="none" stroke="#ff7a1a" stroke-width="2.0" />
<rect x="1928.9" y="1624.0" width="9.2" height="9.2" fill="none" stroke="#ff7a1a" stroke-width="2.0" />
<rect x="1931.4" y="1623.6" width="9.2" height="9.2" fill="none" stroke="#ff7a1a" stroke-width="2.0" />
<rect x="1934.0" y="1622.1" width="9.2" height="9.2" fill="none" stroke="#ff7a1a" stroke-width="2.0" />
<rect x="1936.5" y="1622.0" width="9.2" height="9.2" fill="none" stroke="#ff7a1a" stroke-width="2.0" />
<rect x="1939.0" y="1620.5" width="9.2" height="9.2" fill="none" stroke="#ff7a1a" stroke-width="2.0" />
<rect x="1941.6" y="1620.4" width="9.2" height="9.2" fill="none" stroke="#ff7a1a" stroke-width="2.0" />
<rect x="1944.1" y="1619.9" width="9.2" height="9.2" fill="none" stroke="#ff7a1a" stroke-width="2.0" />
<rect x="1946.6" y="1618.9" width="9.2" height="9.2" fill="none" stroke="#ff7a1a" stroke-width="2.0" />
<rect x="1949.2" y="1618.5" width="9.2" height="9.2" fill="none" stroke="#ff7a1a" stroke-width="2.0" />
<rect x="1951.7" y="1617.8" width="9.2" height="9.2" fill="none" stroke="#ff7a1a" stroke-width="2.0" />
<rect x="1954.3" y="1617.5" width="9.2" height="9.2" fill="none" stroke="#ff7a1a" stroke-width="2.0" />
<rect x="1956.8" y="1619.1" width="9.2" height="9.2" fill="none" stroke="#ff7a1a" stroke-width="2.0" />
<rect x="1959.3" y="1618.8" width="9.2" height="9.2" fill="none" stroke="#ff7a1a" stroke-width="2.0" />
<rect x="1961.9" y="1619.2" width="9.2" height="9.2" fill="none" stroke="#ff7a1a" stroke-width="2.0" />
<rect x="1964.4" y="1620.0" width="9.2" height="9.2" fill="none" stroke="#ff7a1a" stroke-width="2.0" />
<rect x="1967.0" y="1621.0" width="9.2" height="9.2" fill="none" stroke="#ff7a1a" stroke-width="2.0" />
<rect x="1969.5" y="1620.5" width="9.2" height="9.2" fill="none" stroke="#ff7a1a" stroke-width="2.0" />
<rect x="1972.0" y="1620.8" width="9.2" height="9.2" fill="none" stroke="#ff7a1a" stroke-width="2.0" />
<rect x="1974.6" y="1620.4" width="9.2" height="9.2" fill="none" stroke="#ff7a1a" stroke-width="2.0" />
<rect x="1977.1" y="1620.5" width="9.2" height="9.2" fill="none" stroke="#ff7a1a" stroke-width="2.0" />
<rect x="1979.6" y="1620.3" width="9.2" height="9.2" fill="none" stroke="#ff7a1a" stroke-width="2.0" />
<rect x="1982.2" y="1621.2" width="9.2" height="9.2" fill="none" stroke="#ff7a1a" stroke-width="2.0" />
<rect x="1984.7" y="1621.7" width="9.2" height="9.2" fill="none" stroke="#ff7a1a" stroke-width="2.0" />
<rect x="1987.3" y="1622.3" width="9.2" height="9.2" fill="none" stroke="#ff7a1a" stroke-width="2.0" />
<rect x="1989.8" y="1623.6" width="9.2" height="9.2" fill="none" stroke="#ff7a1a" stroke-width="2.0" />
<rect x="1992.3" y="1623.3" width="9.2" height="9.2" fill="none" stroke="#ff7a1a" stroke-width="2.0" />
<rect x="1994.9" y="1624.5" width="9.2" height="9.2" fill="none" stroke="#ff7a1a" stroke-width="2.0" />
<rect x="1997.4" y="1624.5" width="9.2" height="9.2" fill="none" stroke="#ff7a1a" stroke-width="2.0" />
<rect x="1999.9" y="1624.4" width="9.2" height="9.2" fill="none" stroke="#ff7a1a" stroke-width="2.0" />
<rect x="2002.5" y="1625.0" width="9.2" height="9.2" fill="none" stroke="#ff7a1a" stroke-width="2.0" />
<rect x="2005.0" y="1626.5" width="9.2" height="9.2" fill="none" stroke="#ff7a1a" stroke-width="2.0" />
<rect x="2007.6" y="1626.6" width="9.2" height="9.2" fill="none" stroke="#ff7a1a" stroke-width="2.0" />
<rect x="2010.1" y="1627.1" width="9.2" height="9.2" fill="none" stroke="#ff7a1a" stroke-width="2.0" />
<rect x="2012.6" y="1628.6" width="9.2" height="9.2" fill="none" stroke="#ff7a1a" stroke-width="2.0" />
<rect x="2015.2" y="1630.0" width="9.2" height="9.2" fill="none" stroke="#ff7a1a" stroke-width="2.0" />
<rect x="2017.7" y="1630.4" width="9.2" height="9.2" fill="none" stroke="#ff7a1a" stroke-width="2.0" />
<rect x="2020.2" y="1631.7" width="9.2" height="9.2" fill="none" stroke="#ff7a1a" stroke-width="2.0" />
<rect x="2022.8" y="1631.1" width="9.2" height="9.2" fill="none" stroke="#ff7a1a" stroke-width="2.0" />
<rect x="2025.3" y="1631.7" width="9.2" height="9.2" fill="none" stroke="#ff7a1a" stroke-width="2.0" />
<rect x="2027.9" y="1632.3" width="9.2" height="9.2" fill="none" stroke="#ff7a1a" stroke-width="2.0" />
<rect x="2030.4" y="1633.1" width="9.2" height="9.2" fill="none" stroke="#ff7a1a" stroke-width="2.0" />
<rect x="2032.9" y="1633.3" width="9.2" height="9.2" fill="none" stroke="#ff7a1a" stroke-width="2.0" />
<rect x="2035.5" y="1633.2" width="9.2" height="9.2" fill="none" stroke="#ff7a1a" stroke-width="2.0" />
<rect x="2038.0" y="1634.4" width="9.2" height="9.2" fill="none" stroke="#ff7a1a" stroke-width="2.0" />
<rect x="2040.6" y="1635.3" width="9.2" height="9.2" fill="none" stroke="#ff7a1a" stroke-width="2.0" />
<rect x="2043.1" y="1635.7" width="9.2" height="9.2" fill="none" stroke="#ff7a1a" stroke-width="2.0" />
<rect x="2045.6" y="1636.7" width="9.2" height="9.2" fill="none" stroke="#ff7a1a" stroke-width="2.0" />
<rect x="2048.2" y="1637.0" width="9.2" height="9.2" fill="none" stroke="#ff7a1a" stroke-width="2.0" />
<rect x="2050.7" y="1637.5" width="9.2" height="9.2" fill="none" stroke="#ff7a1a" stroke-width="2.0" />
<rect x="2053.2" y="1637.0" width="9.2" height="9.2" fill="none" stroke="#ff7a1a" stroke-width="2.0" />
<rect x="2055.8" y="1636.0" width="9.2" height="9.2" fill="none" stroke="#ff7a1a" stroke-width="2.0" />
<rect x="2058.3" y="1635.4" width="9.2" height="9.2" fill="none" stroke="#ff7a1a" stroke-width="2.0" />
<rect x="2060.9" y="1635.5" width="9.2" height="9.2" fill="none" stroke="#ff7a1a" stroke-width="2.0" />
<rect x="2063.4" y="1633.8" width="9.2" height="9.2" fill="none" stroke="#ff7a1a" stroke-width="2.0" />
<rect x="2065.9" y="1633.5" width="9.2" height="9.2" fill="none" stroke="#ff7a1a" stroke-width="2.0" />
<rect x="2068.5" y="1633.0" width="9.2" height="9.2" fill="none" stroke="#ff7a1a" stroke-width="2.0" />
<rect x="2071.0" y="1633.1" width="9.2" height="9.2" fill="none" stroke="#ff7a1a" stroke-width="2.0" />
<rect x="2073.5" y="1632.1" width="9.2" height="9.2" fill="none" stroke="#ff7a1a" stroke-width="2.0" />
<rect x="2076.1" y="1631.3" width="9.2" height="9.2" fill="none" stroke="#ff7a1a" stroke-width="2.0" />
<rect x="2078.6" y="1631.6" width="9.2" height="9.2" fill="none" stroke="#ff7a1a" stroke-width="2.0" />
<rect x="2081.2" y="1632.0" width="9.2" height="9.2" fill="none" stroke="#ff7a1a" stroke-width="2.0" />
<rect x="2083.7" y="1632.7" width="9.2" height="9.2" fill="none" stroke="#ff7a1a" stroke-width="2.0" />
<rect x="2086.2" y="1631.8" width="9.2" height="9.2" fill="none" stroke="#ff7a1a" stroke-width="2.0" />
<rect x="2088.8" y="1632.4" width="9.2" height="9.2" fill="none" stroke="#ff7a1a" stroke-width="2.0" />
<rect x="2091.3" y="1632.1" width="9.2" height="9.2" fill="none" stroke="#ff7a1a" stroke-width="2.0" />
<rect x="2093.8" y="1632.3" width="9.2" height="9.2" fill="none" stroke="#ff7a1a" stroke-width="2.0" />
<rect x="2096.4" y="1632.4" width="9.2" height="9.2" fill="none" stroke="#ff7a1a" stroke-width="2.0" />
<rect x="2098.9" y="1632.4" width="9.2" height="9.2" fill="none" stroke="#ff7a1a" stroke-width="2.0" />
<rect x="2101.5" y="1632.6" width="9.2" height="9.2" fill="none" stroke="#ff7a1a" stroke-width="2.0" />
<rect x="2104.0" y="1633.1" width="9.2" height="9.2" fill="none" stroke="#ff7a1a" stroke-width="2.0" />
<rect x="2106.5" y="1632.4" width="9.2" height="9.2" fill="none" stroke="#ff7a1a" stroke-width="2.0" />
<rect x="2109.1" y="1632.2" width="9.2" height="9.2" fill="none" stroke="#ff7a1a" stroke-width="2.0" />
<rect x="2111.6" y="1632.5" width="9.2" height="9.2" fill="none" stroke="#ff7a1a" stroke-width="2.0" />
<rect x="2114.2" y="1633.7" width="9.2" height="9.2" fill="none" stroke="#ff7a1a" stroke-width="2.0" />
<rect x="2116.7" y="1633.8" width="9.2" height="9.2" fill="none" stroke="#ff7a1a" stroke-width="2.0" />
<rect x="2119.2" y="1635.3" width="9.2" height="9.2" fill="none" stroke="#ff7a1a" stroke-width="2.0" />
<rect x="2121.8" y="1635.8" width="9.2" height="9.2" fill="none" stroke="#ff7a1a" stroke-width="2.0" />
<rect x="2124.3" y="1635.6" width="9.2" height="9.2" fill="none" stroke="#ff7a1a" stroke-width="2.0" />
<rect x="2126.8" y="1635.5" width="9.2" height="9.2" fill="none" stroke="#ff7a1a" stroke-width="2.0" />
<rect x="2129.4" y="1636.4" width="9.2" height="9.2" fill="none" stroke="#ff7a1a" stroke-width="2.0" />
<rect x="2131.9" y="1636.6" width="9.2" height="9.2" fill="none" stroke="#ff7a1a" stroke-width="2.0" />
<rect x="2134.5" y="1637.2" width="9.2" height="9.2" fill="none" stroke="#ff7a1a" stroke-width="2.0" />
<rect x="2137.0" y="1637.7" width="9.2" height="9.2" fill="none" stroke="#ff7a1a" stroke-width="2.0" />
<rect x="2139.5" y="1638.0" width="9.2" height="9.2" fill="none" stroke="#ff7a1a" stroke-width="2.0" />
<rect x="2142.1" y="1637.5" width="9.2" height="9.2" fill="none" stroke="#ff7a1a" stroke-width="2.0" />
<rect x="2144.6" y="1637.8" width="9.2" height="9.2" fill="none" stroke="#ff7a1a" stroke-width="2.0" />
<rect x="2147.1" y="1638.5" width="9.2" height="9.2" fill="none" stroke="#ff7a1a" stroke-width="2.0" />
<rect x="2149.7" y="1638.7" width="9.2" height="9.2" fill="none" stroke="#ff7a1a" stroke-width="2.0" />
<rect x="2152.2" y="1639.1" width="9.2" height="9.2" fill="none" stroke="#ff7a1a" stroke-width="2.0" />
<rect x="2154.8" y="1639.9" width="9.2" height="9.2" fill="none" stroke="#ff7a1a" stroke-width="2.0" />
<rect x="2157.3" y="1639.9" width="9.2" height="9.2" fill="none" stroke="#ff7a1a" stroke-width="2.0" />
<rect x="2159.8" y="1639.5" width="9.2" height="9.2" fill="none" stroke="#ff7a1a" stroke-width="2.0" />
<rect x="2162.4" y="1639.7" width="9.2" height="9.2" fill="none" stroke="#ff7a1a" stroke-width="2.0" />
<rect x="2164.9" y="1639.1" width="9.2" height="9.2" fill="none" stroke="#ff7a1a" stroke-width="2.0" />
<rect x="2167.5" y="1640.5" width="9.2" height="9.2" fill="none" stroke="#ff7a1a" stroke-width="2.0" />
<rect x="2170.0" y="1640.6" width="9.2" height="9.2" fill="none" stroke="#ff7a1a" stroke-width="2.0" />
<rect x="2172.5" y="1640.3" width="9.2" height="9.2" fill="none" stroke="#ff7a1a" stroke-width="2.0" />
<rect x="2175.1" y="1640.7" width="9.2" height="9.2" fill="none" stroke="#ff7a1a" stroke-width="2.0" />
<rect x="2177.6" y="1641.3" width="9.2" height="9.2" fill="none" stroke="#ff7a1a" stroke-width="2.0" />
<rect x="2180.1" y="1640.8" width="9.2" height="9.2" fill="none" stroke="#ff7a1a" stroke-width="2.0" />
<rect x="2182.7" y="1640.9" width="9.2" height="9.2" fill="none" stroke="#ff7a1a" stroke-width="2.0" />
<rect x="2185.2" y="1641.3" width="9.2" height="9.2" fill="none" stroke="#ff7a1a" stroke-width="2.0" />
<rect x="2187.8" y="1641.9" width="9.2" height="9.2" fill="none" stroke="#ff7a1a" stroke-width="2.0" />
<rect x="2190.3" y="1640.7" width="9.2" height="9.2" fill="none" stroke="#ff7a1a" stroke-width="2.0" />
<rect x="2192.8" y="1641.0" width="9.2" height="9.2" fill="none" stroke="#ff7a1a" stroke-width="2.0" />
<rect x="2195.4" y="1641.6" width="9.2" height="9.2" fill="none" stroke="#ff7a1a" stroke-width="2.0" />
<rect x="2197.9" y="1641.8" width="9.2" height="9.2" fill="none" stroke="#ff7a1a" stroke-width="2.0" />
<rect x="2200.4" y="1642.0" width="9.2" height="9.2" fill="none" stroke="#ff7a1a" stroke-width="2.0" />
<rect x="2203.0" y="1640.9" width="9.2" height="9.2" fill="none" stroke="#ff7a1a" stroke-width="2.0" />
<rect x="2205.5" y="1641.4" width="9.2" height="9.2" fill="none" stroke="#ff7a1a" stroke-width="2.0" />
<rect x="2208.1" y="1641.6" width="9.2" height="9.2" fill="none" stroke="#ff7a1a" stroke-width="2.0" />
<rect x="2210.6" y="1642.4" width="9.2" height="9.2" fill="none" stroke="#ff7a1a" stroke-width="2.0" />
<rect x="2213.1" y="1642.3" width="9.2" height="9.2" fill="none" stroke="#ff7a1a" stroke-width="2.0" />
<rect x="2215.7" y="1642.9" width="9.2" height="9.2" fill="none" stroke="#ff7a1a" stroke-width="2.0" />
<rect x="2218.2" y="1643.1" width="9.2" height="9.2" fill="none" stroke="#ff7a1a" stroke-width="2.0" />
<rect x="2220.8" y="1642.6" width="9.2" height="9.2" fill="none" stroke="#ff7a1a" stroke-width="2.0" />
<rect x="2223.3" y="1642.0" width="9.2" height="9.2" fill="none" stroke="#ff7a1a" stroke-width="2.0" />
<rect x="2225.8" y="1641.9" width="9.2" height="9.2" fill="none" stroke="#ff7a1a" stroke-width="2.0" />
<rect x="2228.4" y="1643.3" width="9.2" height="9.2" fill="none" stroke="#ff7a1a" stroke-width="2.0" />
<rect x="2230.9" y="1643.8" width="9.2" height="9.2" fill="none" stroke="#ff7a1a" stroke-width="2.0" />
<rect x="2233.4" y="1643.4" width="9.2" height="9.2" fill="none" stroke="#ff7a1a" stroke-width="2.0" />
<rect x="2236.0" y="1644.6" width="9.2" height="9.2" fill="none" stroke="#ff7a1a" stroke-width="2.0" />
<rect x="2238.5" y="1645.3" width="9.2" height="9.2" fill="none" stroke="#ff7a1a" stroke-width="2.0" />
<rect x="2241.1" y="1645.3" width="9.2" height="9.2" fill="none" stroke="#ff7a1a" stroke-width="2.0" />
<rect x="2243.6" y="1645.6" width="9.2" height="9.2" fill="none" stroke="#ff7a1a" stroke-width="2.0" />
<rect x="2246.1" y="1645.2" width="9.2" height="9.2" fill="none" stroke="#ff7a1a" stroke-width="2.0" />
<rect x="2248.7" y="1645.0" width="9.2" height="9.2" fill="none" stroke="#ff7a1a" stroke-width="2.0" />
<rect x="2251.2" y="1645.5" width="9.2" height="9.2" fill="none" stroke="#ff7a1a" stroke-width="2.0" />
<rect x="2253.7" y="1646.3" width="9.2" height="9.2" fill="none" stroke="#ff7a1a" stroke-width="2.0" />
<rect x="2256.3" y="1647.0" width="9.2" height="9.2" fill="none" stroke="#ff7a1a" stroke-width="2.0" />
<rect x="2258.8" y="1647.5" width="9.2" height="9.2" fill="none" stroke="#ff7a1a" stroke-width="2.0" />
<rect x="2261.4" y="1648.3" width="9.2" height="9.2" fill="none" stroke="#ff7a1a" stroke-width="2.0" />
<rect x="2263.9" y="1647.8" width="9.2" height="9.2" fill="none" stroke="#ff7a1a" stroke-width="2.0" />
<rect x="2266.4" y="1648.5" width="9.2" height="9.2" fill="none" stroke="#ff7a1a" stroke-width="2.0" />
<rect x="2269.0" y="1647.7" width="9.2" height="9.2" fill="none" stroke="#ff7a1a" stroke-width="2.0" />
<rect x="2271.5" y="1647.7" width="9.2" height="9.2" fill="none" stroke="#ff7a1a" stroke-width="2.0" />
<rect x="2274.0" y="1648.8" width="9.2" height="9.2" fill="none" stroke="#ff7a1a" stroke-width="2.0" />
<rect x="2276.6" y="1648.9" width="9.2" height="9.2" fill="none" stroke="#ff7a1a" stroke-width="2.0" />
<rect x="2279.1" y="1648.1" width="9.2" height="9.2" fill="none" stroke="#ff7a1a" stroke-width="2.0" />
<rect x="2281.7" y="1648.4" width="9.2" height="9.2" fill="none" stroke="#ff7a1a" stroke-width="2.0" />
<rect x="2284.2" y="1647.7" width="9.2" height="9.2" fill="none" stroke="#ff7a1a" stroke-width="2.0" />
<rect x="2286.7" y="1647.9" width="9.2" height="9.2" fill="none" stroke="#ff7a1a" stroke-width="2.0" />
<rect x="2289.3" y="1646.5" width="9.2" height="9.2" fill="none" stroke="#ff7a1a" stroke-width="2.0" />
<rect x="2291.8" y="1646.8" width="9.2" height="9.2" fill="none" stroke="#ff7a1a" stroke-width="2.0" />
<rect x="2294.4" y="1645.7" width="9.2" height="9.2" fill="none" stroke="#ff7a1a" stroke-width="2.0" />
<rect x="2296.9" y="1644.2" width="9.2" height="9.2" fill="none" stroke="#ff7a1a" stroke-width="2.0" />
<rect x="2299.4" y="1643.2" width="9.2" height="9.2" fill="none" stroke="#ff7a1a" stroke-width="2.0" />
<rect x="2302.0" y="1643.5" width="9.2" height="9.2" fill="none" stroke="#ff7a1a" stroke-width="2.0" />
<rect x="2304.5" y="1643.0" width="9.2" height="9.2" fill="none" stroke="#ff7a1a" stroke-width="2.0" />
<rect x="2307.0" y="1643.3" width="9.2" height="9.2" fill="none" stroke="#ff7a1a" stroke-width="2.0" />
<rect x="2309.6" y="1642.9" width="9.2" height="9.2" fill="none" stroke="#ff7a1a" stroke-width="2.0" />
<rect x="2312.1" y="1642.2" width="9.2" height="9.2" fill="none" stroke="#ff7a1a" stroke-width="2.0" />
<rect x="2314.7" y="1641.8" width="9.2" height="9.2" fill="none" stroke="#ff7a1a" stroke-width="2.0" />
<rect x="2317.2" y="1643.1" width="9.2" height="9.2" fill="none" stroke="#ff7a1a" stroke-width="2.0" />
<rect x="2319.7" y="1643.4" width="9.2" height="9.2" fill="none" stroke="#ff7a1a" stroke-width="2.0" />
<rect x="2322.3" y="1643.1" width="9.2" height="9.2" fill="none" stroke="#ff7a1a" stroke-width="2.0" />
<rect x="2324.8" y="1643.8" width="9.2" height="9.2" fill="none" stroke="#ff7a1a" stroke-width="2.0" />
<rect x="2327.3" y="1643.2" width="9.2" height="9.2" fill="none" stroke="#ff7a1a" stroke-width="2.0" />
<rect x="2329.9" y="1642.7" width="9.2" height="9.2" fill="none" stroke="#ff7a1a" stroke-width="2.0" />
<rect x="2332.4" y="1643.0" width="9.2" height="9.2" fill="none" stroke="#ff7a1a" stroke-width="2.0" />
<rect x="2335.0" y="1643.6" width="9.2" height="9.2" fill="none" stroke="#ff7a1a" stroke-width="2.0" />
<rect x="2337.5" y="1643.3" width="9.2" height="9.2" fill="none" stroke="#ff7a1a" stroke-width="2.0" />
<rect x="2340.0" y="1643.8" width="9.2" height="9.2" fill="none" stroke="#ff7a1a" stroke-width="2.0" />
<rect x="2342.6" y="1644.9" width="9.2" height="9.2" fill="none" stroke="#ff7a1a" stroke-width="2.0" />
<rect x="2345.1" y="1645.6" width="9.2" height="9.2" fill="none" stroke="#ff7a1a" stroke-width="2.0" />
<rect x="2347.7" y="1646.4" width="9.2" height="9.2" fill="none" stroke="#ff7a1a" stroke-width="2.0" />
<rect x="2350.2" y="1645.7" width="9.2" height="9.2" fill="none" stroke="#ff7a1a" stroke-width="2.0" />
<rect x="2352.7" y="1646.0" width="9.2" height="9.2" fill="none" stroke="#ff7a1a" stroke-width="2.0" />
<rect x="2355.3" y="1645.9" width="9.2" height="9.2" fill="none" stroke="#ff7a1a" stroke-width="2.0" />
<rect x="2357.8" y="1645.8" width="9.2" height="9.2" fill="none" stroke="#ff7a1a" stroke-width="2.0" />
<rect x="2360.3" y="1645.4" width="9.2" height="9.2" fill="none" stroke="#ff7a1a" stroke-width="2.0" />
<rect x="2362.9" y="1646.4" width="9.2" height="9.2" fill="none" stroke="#ff7a1a" stroke-width="2.0" />
<rect x="2365.4" y="1646.8" width="9.2" height="9.2" fill="none" stroke="#ff7a1a" stroke-width="2.0" />
<rect x="2368.0" y="1646.1" width="9.2" height="9.2" fill="none" stroke="#ff7a1a" stroke-width="2.0" />
<rect x="2370.5" y="1645.8" width="9.2" height="9.2" fill="none" stroke="#ff7a1a" stroke-width="2.0" />
<rect x="2373.0" y="1646.4" width="9.2" height="9.2" fill="none" stroke="#ff7a1a" stroke-width="2.0" />
<rect x="2375.6" y="1646.2" width="9.2" height="9.2" fill="none" stroke="#ff7a1a" stroke-width="2.0" />
<rect x="2378.1" y="1647.0" width="9.2" height="9.2" fill="none" stroke="#ff7a1a" stroke-width="2.0" />
<rect x="2380.6" y="1647.6" width="9.2" height="9.2" fill="none" stroke="#ff7a1a" stroke-width="2.0" />
<rect x="2383.2" y="1648.2" width="9.2" height="9.2" fill="none" stroke="#ff7a1a" stroke-width="2.0" />
<rect x="2385.7" y="1648.0" width="9.2" height="9.2" fill="none" stroke="#ff7a1a" stroke-width="2.0" />
<rect x="2388.3" y="1648.2" width="9.2" height="9.2" fill="none" stroke="#ff7a1a" stroke-width="2.0" />
<rect x="2390.8" y="1647.8" width="9.2" height="9.2" fill="none" stroke="#ff7a1a" stroke-width="2.0" />
<rect x="2393.3" y="1646.6" width="9.2" height="9.2" fill="none" stroke="#ff7a1a" stroke-width="2.0" />
<rect x="2395.9" y="1647.4" width="9.2" height="9.2" fill="none" stroke="#ff7a1a" stroke-width="2.0" />
<rect x="2398.4" y="1647.1" width="9.2" height="9.2" fill="none" stroke="#ff7a1a" stroke-width="2.0" />
<rect x="2400.9" y="1646.4" width="9.2" height="9.2" fill="none" stroke="#ff7a1a" stroke-width="2.0" />
<rect x="2403.5" y="1646.3" width="9.2" height="9.2" fill="none" stroke="#ff7a1a" stroke-width="2.0" />
<rect x="2406.0" y="1646.5" width="9.2" height="9.2" fill="none" stroke="#ff7a1a" stroke-width="2.0" />
<rect x="2408.6" y="1646.1" width="9.2" height="9.2" fill="none" stroke="#ff7a1a" stroke-width="2.0" />
<rect x="2411.1" y="1647.2" width="9.2" height="9.2" fill="none" stroke="#ff7a1a" stroke-width="2.0" />
<circle cx="1910.6" cy="1580.8" r="4.8" fill="none" stroke="#000" stroke-width="1.8" />
<circle cx="1913.2" cy="1584.1" r="4.8" fill="none" stroke="#000" stroke-width="1.8" />
<circle cx="1915.7" cy="1587.7" r="4.8" fill="none" stroke="#000" stroke-width="1.8" />
<circle cx="1918.3" cy="1589.3" r="4.8" fill="none" stroke="#000" stroke-width="1.8" />
<circle cx="1920.8" cy="1591.5" r="4.8" fill="none" stroke="#000" stroke-width="1.8" />
<circle cx="1923.3" cy="1592.3" r="4.8" fill="none" stroke="#000" stroke-width="1.8" />
<circle cx="1925.9" cy="1590.7" r="4.8" fill="none" stroke="#000" stroke-width="1.8" />
<circle cx="1928.4" cy="1589.7" r="4.8" fill="none" stroke="#000" stroke-width="1.8" />
<circle cx="1930.9" cy="1588.7" r="4.8" fill="none" stroke="#000" stroke-width="1.8" />
<circle cx="1933.5" cy="1588.1" r="4.8" fill="none" stroke="#000" stroke-width="1.8" />
<circle cx="1936.0" cy="1589.0" r="4.8" fill="none" stroke="#000" stroke-width="1.8" />
<circle cx="1938.6" cy="1588.9" r="4.8" fill="none" stroke="#000" stroke-width="1.8" />
<circle cx="1941.1" cy="1588.4" r="4.8" fill="none" stroke="#000" stroke-width="1.8" />
<circle cx="1943.6" cy="1589.1" r="4.8" fill="none" stroke="#000" stroke-width="1.8" />
<circle cx="1946.2" cy="1588.2" r="4.8" fill="none" stroke="#000" stroke-width="1.8" />
<circle cx="1948.7" cy="1588.6" r="4.8" fill="none" stroke="#000" stroke-width="1.8" />
<circle cx="1951.2" cy="1588.9" r="4.8" fill="none" stroke="#000" stroke-width="1.8" />
<circle cx="1953.8" cy="1589.4" r="4.8" fill="none" stroke="#000" stroke-width="1.8" />
<circle cx="1956.3" cy="1588.0" r="4.8" fill="none" stroke="#000" stroke-width="1.8" />
<circle cx="1958.9" cy="1587.6" r="4.8" fill="none" stroke="#000" stroke-width="1.8" />
<circle cx="1961.4" cy="1589.1" r="4.8" fill="none" stroke="#000" stroke-width="1.8" />
<circle cx="1963.9" cy="1591.4" r="4.8" fill="none" stroke="#000" stroke-width="1.8" />
<circle cx="1966.5" cy="1594.7" r="4.8" fill="none" stroke="#000" stroke-width="1.8" />
<circle cx="1969.0" cy="1597.1" r="4.8" fill="none" stroke="#000" stroke-width="1.8" />
<circle cx="1971.5" cy="1599.1" r="4.8" fill="none" stroke="#000" stroke-width="1.8" />
<circle cx="1974.1" cy="1600.0" r="4.8" fill="none" stroke="#000" stroke-width="1.8" />
<circle cx="1976.6" cy="1599.2" r="4.8" fill="none" stroke="#000" stroke-width="1.8" />
<circle cx="1979.2" cy="1599.8" r="4.8" fill="none" stroke="#000" stroke-width="1.8" />
<circle cx="1981.7" cy="1600.7" r="4.8" fill="none" stroke="#000" stroke-width="1.8" />
<circle cx="1984.2" cy="1600.2" r="4.8" fill="none" stroke="#000" stroke-width="1.8" />
<circle cx="1986.8" cy="1599.4" r="4.8" fill="none" stroke="#000" stroke-width="1.8" />
<circle cx="1989.3" cy="1596.9" r="4.8" fill="none" stroke="#000" stroke-width="1.8" />
<circle cx="1991.9" cy="1595.5" r="4.8" fill="none" stroke="#000" stroke-width="1.8" />
<circle cx="1994.4" cy="1596.1" r="4.8" fill="none" stroke="#000" stroke-width="1.8" />
<circle cx="1996.9" cy="1597.1" r="4.8" fill="none" stroke="#000" stroke-width="1.8" />
<circle cx="1999.5" cy="1597.7" r="4.8" fill="none" stroke="#000" stroke-width="1.8" />
<circle cx="2002.0" cy="1598.9" r="4.8" fill="none" stroke="#000" stroke-width="1.8" />
<circle cx="2004.5" cy="1600.2" r="4.8" fill="none" stroke="#000" stroke-width="1.8" />
<circle cx="2007.1" cy="1599.8" r="4.8" fill="none" stroke="#000" stroke-width="1.8" />
<circle cx="2009.6" cy="1600.8" r="4.8" fill="none" stroke="#000" stroke-width="1.8" />
<circle cx="2012.2" cy="1600.8" r="4.8" fill="none" stroke="#000" stroke-width="1.8" />
<circle cx="2014.7" cy="1602.0" r="4.8" fill="none" stroke="#000" stroke-width="1.8" />
<circle cx="2017.2" cy="1601.6" r="4.8" fill="none" stroke="#000" stroke-width="1.8" />
<circle cx="2019.8" cy="1601.7" r="4.8" fill="none" stroke="#000" stroke-width="1.8" />
<circle cx="2022.3" cy="1602.2" r="4.8" fill="none" stroke="#000" stroke-width="1.8" />
<circle cx="2024.8" cy="1602.4" r="4.8" fill="none" stroke="#000" stroke-width="1.8" />
<circle cx="2027.4" cy="1602.9" r="4.8" fill="none" stroke="#000" stroke-width="1.8" />
<circle cx="2029.9" cy="1603.1" r="4.8" fill="none" stroke="#000" stroke-width="1.8" />
<circle cx="2032.5" cy="1604.5" r="4.8" fill="none" stroke="#000" stroke-width="1.8" />
<circle cx="2035.0" cy="1604.9" r="4.8" fill="none" stroke="#000" stroke-width="1.8" />
<circle cx="2037.5" cy="1604.6" r="4.8" fill="none" stroke="#000" stroke-width="1.8" />
<circle cx="2040.1" cy="1605.7" r="4.8" fill="none" stroke="#000" stroke-width="1.8" />
<circle cx="2042.6" cy="1605.2" r="4.8" fill="none" stroke="#000" stroke-width="1.8" />
<circle cx="2045.2" cy="1605.0" r="4.8" fill="none" stroke="#000" stroke-width="1.8" />
<circle cx="2047.7" cy="1605.8" r="4.8" fill="none" stroke="#000" stroke-width="1.8" />
<circle cx="2050.2" cy="1606.6" r="4.8" fill="none" stroke="#000" stroke-width="1.8" />
<circle cx="2052.8" cy="1607.1" r="4.8" fill="none" stroke="#000" stroke-width="1.8" />
<circle cx="2055.3" cy="1607.6" r="4.8" fill="none" stroke="#000" stroke-width="1.8" />
<circle cx="2057.8" cy="1606.9" r="4.8" fill="none" stroke="#000" stroke-width="1.8" />
<circle cx="2060.4" cy="1607.7" r="4.8" fill="none" stroke="#000" stroke-width="1.8" />
<circle cx="2062.9" cy="1609.0" r="4.8" fill="none" stroke="#000" stroke-width="1.8" />
<circle cx="2065.5" cy="1609.9" r="4.8" fill="none" stroke="#000" stroke-width="1.8" />
<circle cx="2068.0" cy="1609.4" r="4.8" fill="none" stroke="#000" stroke-width="1.8" />
<circle cx="2070.5" cy="1608.7" r="4.8" fill="none" stroke="#000" stroke-width="1.8" />
<circle cx="2073.1" cy="1609.2" r="4.8" fill="none" stroke="#000" stroke-width="1.8" />
<circle cx="2075.6" cy="1609.6" r="4.8" fill="none" stroke="#000" stroke-width="1.8" />
<circle cx="2078.1" cy="1609.9" r="4.8" fill="none" stroke="#000" stroke-width="1.8" />
<circle cx="2080.7" cy="1609.9" r="4.8" fill="none" stroke="#000" stroke-width="1.8" />
<circle cx="2083.2" cy="1610.9" r="4.8" fill="none" stroke="#000" stroke-width="1.8" />
<circle cx="2085.8" cy="1611.0" r="4.8" fill="none" stroke="#000" stroke-width="1.8" />
<circle cx="2088.3" cy="1609.0" r="4.8" fill="none" stroke="#000" stroke-width="1.8" />
<circle cx="2090.8" cy="1606.9" r="4.8" fill="none" stroke="#000" stroke-width="1.8" />
<circle cx="2093.4" cy="1605.7" r="4.8" fill="none" stroke="#000" stroke-width="1.8" />
<circle cx="2095.9" cy="1604.2" r="4.8" fill="none" stroke="#000" stroke-width="1.8" />
<circle cx="2098.4" cy="1605.1" r="4.8" fill="none" stroke="#000" stroke-width="1.8" />
<circle cx="2101.0" cy="1604.8" r="4.8" fill="none" stroke="#000" stroke-width="1.8" />
<circle cx="2103.5" cy="1605.9" r="4.8" fill="none" stroke="#000" stroke-width="1.8" />
<circle cx="2106.1" cy="1606.4" r="4.8" fill="none" stroke="#000" stroke-width="1.8" />
<circle cx="2108.6" cy="1607.6" r="4.8" fill="none" stroke="#000" stroke-width="1.8" />
<circle cx="2111.1" cy="1609.0" r="4.8" fill="none" stroke="#000" stroke-width="1.8" />
<circle cx="2113.7" cy="1608.9" r="4.8" fill="none" stroke="#000" stroke-width="1.8" />
<circle cx="2116.2" cy="1607.2" r="4.8" fill="none" stroke="#000" stroke-width="1.8" />
<circle cx="2118.8" cy="1605.9" r="4.8" fill="none" stroke="#000" stroke-width="1.8" />
<circle cx="2121.3" cy="1605.5" r="4.8" fill="none" stroke="#000" stroke-width="1.8" />
<circle cx="2123.8" cy="1604.5" r="4.8" fill="none" stroke="#000" stroke-width="1.8" />
<circle cx="2126.4" cy="1603.5" r="4.8" fill="none" stroke="#000" stroke-width="1.8" />
<circle cx="2128.9" cy="1602.3" r="4.8" fill="none" stroke="#000" stroke-width="1.8" />
<circle cx="2131.4" cy="1602.2" r="4.8" fill="none" stroke="#000" stroke-width="1.8" />
<circle cx="2134.0" cy="1603.2" r="4.8" fill="none" stroke="#000" stroke-width="1.8" />
<circle cx="2136.5" cy="1603.0" r="4.8" fill="none" stroke="#000" stroke-width="1.8" />
<circle cx="2139.1" cy="1603.0" r="4.8" fill="none" stroke="#000" stroke-width="1.8" />
<circle cx="2141.6" cy="1603.8" r="4.8" fill="none" stroke="#000" stroke-width="1.8" />
<circle cx="2144.1" cy="1603.9" r="4.8" fill="none" stroke="#000" stroke-width="1.8" />
<circle cx="2146.7" cy="1604.9" r="4.8" fill="none" stroke="#000" stroke-width="1.8" />
<circle cx="2149.2" cy="1605.9" r="4.8" fill="none" stroke="#000" stroke-width="1.8" />
<circle cx="2151.7" cy="1606.5" r="4.8" fill="none" stroke="#000" stroke-width="1.8" />
<circle cx="2154.3" cy="1605.8" r="4.8" fill="none" stroke="#000" stroke-width="1.8" />
<circle cx="2156.8" cy="1606.7" r="4.8" fill="none" stroke="#000" stroke-width="1.8" />
<circle cx="2159.4" cy="1607.4" r="4.8" fill="none" stroke="#000" stroke-width="1.8" />
<circle cx="2161.9" cy="1606.6" r="4.8" fill="none" stroke="#000" stroke-width="1.8" />
<circle cx="2164.4" cy="1606.0" r="4.8" fill="none" stroke="#000" stroke-width="1.8" />
<circle cx="2167.0" cy="1606.2" r="4.8" fill="none" stroke="#000" stroke-width="1.8" />
<circle cx="2169.5" cy="1605.7" r="4.8" fill="none" stroke="#000" stroke-width="1.8" />
<circle cx="2172.1" cy="1606.8" r="4.8" fill="none" stroke="#000" stroke-width="1.8" />
<circle cx="2174.6" cy="1607.1" r="4.8" fill="none" stroke="#000" stroke-width="1.8" />
<circle cx="2177.1" cy="1607.3" r="4.8" fill="none" stroke="#000" stroke-width="1.8" />
<circle cx="2179.7" cy="1607.2" r="4.8" fill="none" stroke="#000" stroke-width="1.8" />
<circle cx="2182.2" cy="1607.6" r="4.8" fill="none" stroke="#000" stroke-width="1.8" />
<circle cx="2184.7" cy="1608.1" r="4.8" fill="none" stroke="#000" stroke-width="1.8" />
<circle cx="2187.3" cy="1607.9" r="4.8" fill="none" stroke="#000" stroke-width="1.8" />
<circle cx="2189.8" cy="1608.3" r="4.8" fill="none" stroke="#000" stroke-width="1.8" />
<circle cx="2192.4" cy="1608.9" r="4.8" fill="none" stroke="#000" stroke-width="1.8" />
<circle cx="2194.9" cy="1610.2" r="4.8" fill="none" stroke="#000" stroke-width="1.8" />
<circle cx="2197.4" cy="1612.1" r="4.8" fill="none" stroke="#000" stroke-width="1.8" />
<circle cx="2200.0" cy="1614.3" r="4.8" fill="none" stroke="#000" stroke-width="1.8" />
<circle cx="2202.5" cy="1613.5" r="4.8" fill="none" stroke="#000" stroke-width="1.8" />
<circle cx="2205.0" cy="1613.7" r="4.8" fill="none" stroke="#000" stroke-width="1.8" />
<circle cx="2207.6" cy="1613.5" r="4.8" fill="none" stroke="#000" stroke-width="1.8" />
<circle cx="2210.1" cy="1614.7" r="4.8" fill="none" stroke="#000" stroke-width="1.8" />
<circle cx="2212.7" cy="1615.2" r="4.8" fill="none" stroke="#000" stroke-width="1.8" />
<circle cx="2215.2" cy="1614.4" r="4.8" fill="none" stroke="#000" stroke-width="1.8" />
<circle cx="2217.7" cy="1613.9" r="4.8" fill="none" stroke="#000" stroke-width="1.8" />
<circle cx="2220.3" cy="1613.5" r="4.8" fill="none" stroke="#000" stroke-width="1.8" />
<circle cx="2222.8" cy="1613.7" r="4.8" fill="none" stroke="#000" stroke-width="1.8" />
<circle cx="2225.3" cy="1614.1" r="4.8" fill="none" stroke="#000" stroke-width="1.8" />
<circle cx="2227.9" cy="1614.2" r="4.8" fill="none" stroke="#000" stroke-width="1.8" />
<circle cx="2230.4" cy="1613.8" r="4.8" fill="none" stroke="#000" stroke-width="1.8" />
<circle cx="2233.0" cy="1614.5" r="4.8" fill="none" stroke="#000" stroke-width="1.8" />
<circle cx="2235.5" cy="1614.6" r="4.8" fill="none" stroke="#000" stroke-width="1.8" />
<circle cx="2238.0" cy="1615.1" r="4.8" fill="none" stroke="#000" stroke-width="1.8" />
<circle cx="2240.6" cy="1614.6" r="4.8" fill="none" stroke="#000" stroke-width="1.8" />
<circle cx="2243.1" cy="1615.7" r="4.8" fill="none" stroke="#000" stroke-width="1.8" />
<circle cx="2245.7" cy="1615.2" r="4.8" fill="none" stroke="#000" stroke-width="1.8" />
<circle cx="2248.2" cy="1614.3" r="4.8" fill="none" stroke="#000" stroke-width="1.8" />
<circle cx="2250.7" cy="1615.5" r="4.8" fill="none" stroke="#000" stroke-width="1.8" />
<circle cx="2253.3" cy="1615.3" r="4.8" fill="none" stroke="#000" stroke-width="1.8" />
<circle cx="2255.8" cy="1615.0" r="4.8" fill="none" stroke="#000" stroke-width="1.8" />
<circle cx="2258.3" cy="1614.5" r="4.8" fill="none" stroke="#000" stroke-width="1.8" />
<circle cx="2260.9" cy="1614.6" r="4.8" fill="none" stroke="#000" stroke-width="1.8" />
<circle cx="2263.4" cy="1615.3" r="4.8" fill="none" stroke="#000" stroke-width="1.8" />
<circle cx="2266.0" cy="1615.6" r="4.8" fill="none" stroke="#000" stroke-width="1.8" />
<circle cx="2268.5" cy="1614.7" r="4.8" fill="none" stroke="#000" stroke-width="1.8" />
<circle cx="2271.0" cy="1614.2" r="4.8" fill="none" stroke="#000" stroke-width="1.8" />
<circle cx="2273.6" cy="1615.3" r="4.8" fill="none" stroke="#000" stroke-width="1.8" />
<circle cx="2276.1" cy="1616.2" r="4.8" fill="none" stroke="#000" stroke-width="1.8" />
<circle cx="2278.6" cy="1616.8" r="4.8" fill="none" stroke="#000" stroke-width="1.8" />
<circle cx="2281.2" cy="1617.4" r="4.8" fill="none" stroke="#000" stroke-width="1.8" />
<circle cx="2283.7" cy="1617.0" r="4.8" fill="none" stroke="#000" stroke-width="1.8" />
<circle cx="2286.3" cy="1617.3" r="4.8" fill="none" stroke="#000" stroke-width="1.8" />
<circle cx="2288.8" cy="1616.2" r="4.8" fill="none" stroke="#000" stroke-width="1.8" />
<circle cx="2291.3" cy="1615.8" r="4.8" fill="none" stroke="#000" stroke-width="1.8" />
<circle cx="2293.9" cy="1616.5" r="4.8" fill="none" stroke="#000" stroke-width="1.8" />
<circle cx="2296.4" cy="1616.2" r="4.8" fill="none" stroke="#000" stroke-width="1.8" />
<circle cx="2299.0" cy="1616.4" r="4.8" fill="none" stroke="#000" stroke-width="1.8" />
<circle cx="2301.5" cy="1616.3" r="4.8" fill="none" stroke="#000" stroke-width="1.8" />
<circle cx="2304.0" cy="1617.9" r="4.8" fill="none" stroke="#000" stroke-width="1.8" />
<circle cx="2306.6" cy="1619.5" r="4.8" fill="none" stroke="#000" stroke-width="1.8" />
<circle cx="2309.1" cy="1621.0" r="4.8" fill="none" stroke="#000" stroke-width="1.8" />
<circle cx="2311.6" cy="1622.0" r="4.8" fill="none" stroke="#000" stroke-width="1.8" />
<circle cx="2314.2" cy="1622.5" r="4.8" fill="none" stroke="#000" stroke-width="1.8" />
<circle cx="2316.7" cy="1621.0" r="4.8" fill="none" stroke="#000" stroke-width="1.8" />
<circle cx="2319.3" cy="1620.4" r="4.8" fill="none" stroke="#000" stroke-width="1.8" />
<circle cx="2321.8" cy="1618.5" r="4.8" fill="none" stroke="#000" stroke-width="1.8" />
<circle cx="2324.3" cy="1616.4" r="4.8" fill="none" stroke="#000" stroke-width="1.8" />
<circle cx="2326.9" cy="1614.7" r="4.8" fill="none" stroke="#000" stroke-width="1.8" />
<circle cx="2329.4" cy="1613.1" r="4.8" fill="none" stroke="#000" stroke-width="1.8" />
<circle cx="2331.9" cy="1613.1" r="4.8" fill="none" stroke="#000" stroke-width="1.8" />
<circle cx="2334.5" cy="1611.8" r="4.8" fill="none" stroke="#000" stroke-width="1.8" />
<circle cx="2337.0" cy="1611.3" r="4.8" fill="none" stroke="#000" stroke-width="1.8" />
<circle cx="2339.6" cy="1609.2" r="4.8" fill="none" stroke="#000" stroke-width="1.8" />
<circle cx="2342.1" cy="1608.5" r="4.8" fill="none" stroke="#000" stroke-width="1.8" />
<circle cx="2344.6" cy="1606.6" r="4.8" fill="none" stroke="#000" stroke-width="1.8" />
<circle cx="2347.2" cy="1608.2" r="4.8" fill="none" stroke="#000" stroke-width="1.8" />
<circle cx="2349.7" cy="1608.8" r="4.8" fill="none" stroke="#000" stroke-width="1.8" />
<circle cx="2352.2" cy="1610.3" r="4.8" fill="none" stroke="#000" stroke-width="1.8" />
<circle cx="2354.8" cy="1612.3" r="4.8" fill="none" stroke="#000" stroke-width="1.8" />
<circle cx="2357.3" cy="1613.3" r="4.8" fill="none" stroke="#000" stroke-width="1.8" />
<circle cx="2359.9" cy="1614.5" r="4.8" fill="none" stroke="#000" stroke-width="1.8" />
<circle cx="2362.4" cy="1614.6" r="4.8" fill="none" stroke="#000" stroke-width="1.8" />
<circle cx="2364.9" cy="1616.2" r="4.8" fill="none" stroke="#000" stroke-width="1.8" />
<circle cx="2367.5" cy="1616.2" r="4.8" fill="none" stroke="#000" stroke-width="1.8" />
<circle cx="2370.0" cy="1616.2" r="4.8" fill="none" stroke="#000" stroke-width="1.8" />
<circle cx="2372.6" cy="1615.5" r="4.8" fill="none" stroke="#000" stroke-width="1.8" />
<circle cx="2375.1" cy="1616.6" r="4.8" fill="none" stroke="#000" stroke-width="1.8" />
<circle cx="2377.6" cy="1616.5" r="4.8" fill="none" stroke="#000" stroke-width="1.8" />
<circle cx="2380.2" cy="1616.7" r="4.8" fill="none" stroke="#000" stroke-width="1.8" />
<circle cx="2382.7" cy="1616.4" r="4.8" fill="none" stroke="#000" stroke-width="1.8" />
<circle cx="2385.2" cy="1615.9" r="4.8" fill="none" stroke="#000" stroke-width="1.8" />
<circle cx="2387.8" cy="1616.7" r="4.8" fill="none" stroke="#000" stroke-width="1.8" />
<circle cx="2390.3" cy="1616.7" r="4.8" fill="none" stroke="#000" stroke-width="1.8" />
<circle cx="2392.9" cy="1617.0" r="4.8" fill="none" stroke="#000" stroke-width="1.8" />
<circle cx="2395.4" cy="1617.2" r="4.8" fill="none" stroke="#000" stroke-width="1.8" />
<circle cx="2397.9" cy="1618.3" r="4.8" fill="none" stroke="#000" stroke-width="1.8" />
<circle cx="2400.5" cy="1617.7" r="4.8" fill="none" stroke="#000" stroke-width="1.8" />
<circle cx="2403.0" cy="1617.1" r="4.8" fill="none" stroke="#000" stroke-width="1.8" />
<circle cx="2405.5" cy="1617.8" r="4.8" fill="none" stroke="#000" stroke-width="1.8" />
<circle cx="2408.1" cy="1618.5" r="4.8" fill="none" stroke="#000" stroke-width="1.8" />
<circle cx="2410.6" cy="1617.7" r="4.8" fill="none" stroke="#000" stroke-width="1.8" />
<circle cx="2413.2" cy="1618.9" r="4.8" fill="none" stroke="#000" stroke-width="1.8" />
<circle cx="2415.7" cy="1619.8" r="4.8" fill="none" stroke="#000" stroke-width="1.8" />
<rect x="1894.0" y="1533.6" width="523.0" height="387.8" fill="none" stroke="#000" stroke-width="3" />
<line x1="1908.1" y1="1533.6" x2="1908.1" y2="1540.6" stroke="#000" stroke-width="2.5" />
<line x1="2035.0" y1="1533.6" x2="2035.0" y2="1540.6" stroke="#000" stroke-width="2.5" />
<line x1="2161.9" y1="1533.6" x2="2161.9" y2="1540.6" stroke="#000" stroke-width="2.5" />
<line x1="2288.8" y1="1533.6" x2="2288.8" y2="1540.6" stroke="#000" stroke-width="2.5" />
<line x1="2415.7" y1="1533.6" x2="2415.7" y2="1540.6" stroke="#000" stroke-width="2.5" />
<line x1="1971.5" y1="1533.6" x2="1971.5" y2="1537.6" stroke="#000" stroke-width="2" />
<line x1="2098.4" y1="1533.6" x2="2098.4" y2="1537.6" stroke="#000" stroke-width="2" />
<line x1="2225.3" y1="1533.6" x2="2225.3" y2="1537.6" stroke="#000" stroke-width="2" />
<line x1="2352.2" y1="1533.6" x2="2352.2" y2="1537.6" stroke="#000" stroke-width="2" />
<line x1="1908.1" y1="1921.4" x2="1908.1" y2="1914.4" stroke="#000" stroke-width="2.5" />
<line x1="2035.0" y1="1921.4" x2="2035.0" y2="1914.4" stroke="#000" stroke-width="2.5" />
<line x1="2161.9" y1="1921.4" x2="2161.9" y2="1914.4" stroke="#000" stroke-width="2.5" />
<line x1="2288.8" y1="1921.4" x2="2288.8" y2="1914.4" stroke="#000" stroke-width="2.5" />
<line x1="2415.7" y1="1921.4" x2="2415.7" y2="1914.4" stroke="#000" stroke-width="2.5" />
<line x1="1971.5" y1="1921.4" x2="1971.5" y2="1917.4" stroke="#000" stroke-width="2" />
<line x1="2098.4" y1="1921.4" x2="2098.4" y2="1917.4" stroke="#000" stroke-width="2" />
<line x1="2225.3" y1="1921.4" x2="2225.3" y2="1917.4" stroke="#000" stroke-width="2" />
<line x1="2352.2" y1="1921.4" x2="2352.2" y2="1917.4" stroke="#000" stroke-width="2" />
<line x1="1894.0" y1="1921.4" x2="1901.0" y2="1921.4" stroke="#000" stroke-width="2.5" />
<line x1="1894.0" y1="1843.8" x2="1901.0" y2="1843.8" stroke="#000" stroke-width="2.5" />
<line x1="1894.0" y1="1766.3" x2="1901.0" y2="1766.3" stroke="#000" stroke-width="2.5" />
<line x1="1894.0" y1="1688.7" x2="1901.0" y2="1688.7" stroke="#000" stroke-width="2.5" />
<line x1="1894.0" y1="1611.2" x2="1901.0" y2="1611.2" stroke="#000" stroke-width="2.5" />
<line x1="1894.0" y1="1533.6" x2="1901.0" y2="1533.6" stroke="#000" stroke-width="2.5" />
<line x1="1894.0" y1="1882.6" x2="1898.0" y2="1882.6" stroke="#000" stroke-width="2" />
<line x1="1894.0" y1="1805.1" x2="1898.0" y2="1805.1" stroke="#000" stroke-width="2" />
<line x1="1894.0" y1="1727.5" x2="1898.0" y2="1727.5" stroke="#000" stroke-width="2" />
<line x1="1894.0" y1="1649.9" x2="1898.0" y2="1649.9" stroke="#000" stroke-width="2" />
<line x1="1894.0" y1="1572.4" x2="1898.0" y2="1572.4" stroke="#000" stroke-width="2" />
<line x1="2417.0" y1="1921.4" x2="2410.0" y2="1921.4" stroke="#000" stroke-width="2.5" />
<line x1="2417.0" y1="1843.8" x2="2410.0" y2="1843.8" stroke="#000" stroke-width="2.5" />
<line x1="2417.0" y1="1766.3" x2="2410.0" y2="1766.3" stroke="#000" stroke-width="2.5" />
<line x1="2417.0" y1="1688.7" x2="2410.0" y2="1688.7" stroke="#000" stroke-width="2.5" />
<line x1="2417.0" y1="1611.2" x2="2410.0" y2="1611.2" stroke="#000" stroke-width="2.5" />
<line x1="2417.0" y1="1533.6" x2="2410.0" y2="1533.6" stroke="#000" stroke-width="2.5" />
<line x1="2417.0" y1="1882.6" x2="2413.0" y2="1882.6" stroke="#000" stroke-width="2" />
<line x1="2417.0" y1="1805.1" x2="2413.0" y2="1805.1" stroke="#000" stroke-width="2" />
<line x1="2417.0" y1="1727.5" x2="2413.0" y2="1727.5" stroke="#000" stroke-width="2" />
<line x1="2417.0" y1="1649.9" x2="2413.0" y2="1649.9" stroke="#000" stroke-width="2" />
<line x1="2417.0" y1="1572.4" x2="2413.0" y2="1572.4" stroke="#000" stroke-width="2" />
<text x="1886.0" y="1927.4" font-family="'Liberation Serif', 'Times New Roman', serif" font-size="19.5" stroke="#111" stroke-width="0.25" font-weight="bold" fill="#111" text-anchor="end" textLength="10.5" lengthAdjust="spacingAndGlyphs" >0</text>
<text x="1886.0" y="1849.8" font-family="'Liberation Serif', 'Times New Roman', serif" font-size="19.5" stroke="#111" stroke-width="0.25" font-weight="bold" fill="#111" text-anchor="end" textLength="21" lengthAdjust="spacingAndGlyphs" >50</text>
<text x="1886.0" y="1772.3" font-family="'Liberation Serif', 'Times New Roman', serif" font-size="19.5" stroke="#111" stroke-width="0.25" font-weight="bold" fill="#111" text-anchor="end" textLength="32" lengthAdjust="spacingAndGlyphs" >100</text>
<text x="1886.0" y="1694.7" font-family="'Liberation Serif', 'Times New Roman', serif" font-size="19.5" stroke="#111" stroke-width="0.25" font-weight="bold" fill="#111" text-anchor="end" textLength="32" lengthAdjust="spacingAndGlyphs" >150</text>
<text x="1886.0" y="1617.2" font-family="'Liberation Serif', 'Times New Roman', serif" font-size="19.5" stroke="#111" stroke-width="0.25" font-weight="bold" fill="#111" text-anchor="end" textLength="32" lengthAdjust="spacingAndGlyphs" >200</text>
<text x="1886.0" y="1539.6" font-family="'Liberation Serif', 'Times New Roman', serif" font-size="19.5" stroke="#111" stroke-width="0.25" font-weight="bold" fill="#111" text-anchor="end" textLength="32" lengthAdjust="spacingAndGlyphs" >250</text>
<text x="1908.1" y="1948.5" font-family="'Liberation Serif', 'Times New Roman', serif" font-size="19.5" stroke="#111" stroke-width="0.25" font-weight="bold" fill="#111" text-anchor="middle" textLength="10.5" lengthAdjust="spacingAndGlyphs" >0</text>
<text x="2035.0" y="1948.5" font-family="'Liberation Serif', 'Times New Roman', serif" font-size="19.5" stroke="#111" stroke-width="0.25" font-weight="bold" fill="#111" text-anchor="middle" textLength="21" lengthAdjust="spacingAndGlyphs" >50</text>
<text x="2161.9" y="1948.5" font-family="'Liberation Serif', 'Times New Roman', serif" font-size="19.5" stroke="#111" stroke-width="0.25" font-weight="bold" fill="#111" text-anchor="middle" textLength="32" lengthAdjust="spacingAndGlyphs" >100</text>
<text x="2288.8" y="1948.5" font-family="'Liberation Serif', 'Times New Roman', serif" font-size="19.5" stroke="#111" stroke-width="0.25" font-weight="bold" fill="#111" text-anchor="middle" textLength="32" lengthAdjust="spacingAndGlyphs" >150</text>
<text x="2415.7" y="1948.5" font-family="'Liberation Serif', 'Times New Roman', serif" font-size="19.5" stroke="#111" stroke-width="0.25" font-weight="bold" fill="#111" text-anchor="middle" textLength="32" lengthAdjust="spacingAndGlyphs" >200</text>
<text x="2085.3" y="1978.0" font-family="'Liberation Serif', 'Times New Roman', serif" font-size="28" stroke="#111" stroke-width="0.25" fill="#111" textLength="159" lengthAdjust="spacingAndGlyphs" >Cycle number</text>
<text transform="translate(1836.0,1918.0) rotate(-90)" font-family="'Liberation Serif', 'Times New Roman', serif" font-size="28" stroke="#111" stroke-width="0.25" fill="#111" textLength="343" lengthAdjust="spacingAndGlyphs" >Discharge capacity (mAh g<tspan font-size="17" dy="-12">-1</tspan><tspan dy="12">)</tspan></text>
<text x="2098.0" y="1590.3" font-family="'Liberation Serif', 'Times New Roman', serif" font-size="30" stroke="#111" stroke-width="0.25" fill="#111" textLength="148" lengthAdjust="spacingAndGlyphs" >1700 mA g<tspan font-size="18" dy="-14">-1</tspan></text>
<text x="2340.7" y="1596.6" font-family="'Liberation Serif', 'Times New Roman', serif" font-size="26" stroke="#111" stroke-width="0.25" fill="#111" textLength="66" lengthAdjust="spacingAndGlyphs" >AB550</text>
<text x="2340.7" y="1680.0" font-family="'Liberation Serif', 'Times New Roman', serif" font-size="26" stroke="#111" stroke-width="0.25" fill="#111" textLength="66" lengthAdjust="spacingAndGlyphs" >AB450</text>
<text x="2340.7" y="1757.4" font-family="'Liberation Serif', 'Times New Roman', serif" font-size="26" stroke="#111" stroke-width="0.25" fill="#111" textLength="66" lengthAdjust="spacingAndGlyphs" >AB650</text>
<text x="449.6" y="1559.5" font-family="'Liberation Sans', Arial, sans-serif" font-size="48" textLength="584" lengthAdjust="spacingAndGlyphs" stroke="#000" stroke-width="1.6">e- Anatase/TiO<tspan font-size="30" dy="13">2</tspan><tspan dy="-13">(B) interface</tspan></text>
</svg>
</body></html>
